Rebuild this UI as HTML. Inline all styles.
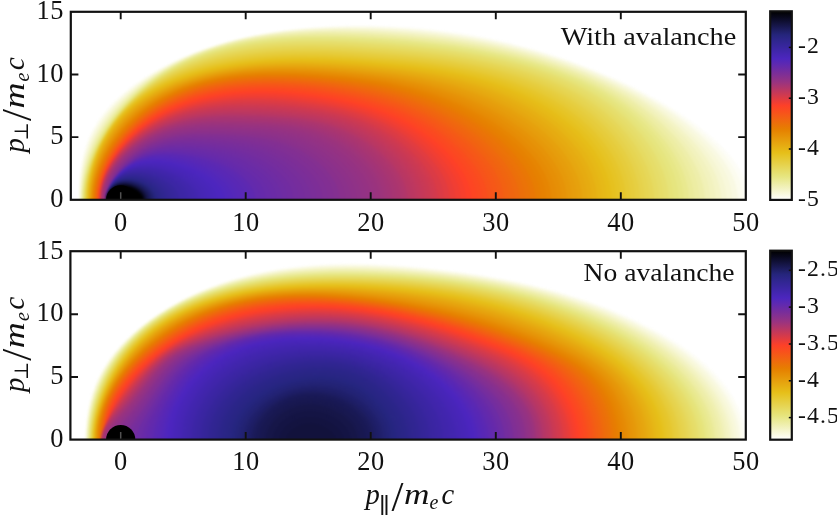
<!DOCTYPE html>
<html><head><meta charset="utf-8"><title>Momentum-space distributions</title>
<style>html,body{margin:0;padding:0;background:#fff}svg{display:block}text{font-family:"Liberation Serif","DejaVu Serif",serif;fill:#111}.i{font-style:italic}</style></head><body>
<svg width="837" height="515" viewBox="0 0 837 515">
<defs>
<clipPath id="ct"><rect x="70.4" y="11.8" width="675.4" height="188.0"/></clipPath>
<clipPath id="cb"><rect x="70.4" y="251.2" width="675.4" height="188.4"/></clipPath>
<filter id="bl" x="-2%" y="-5%" width="104%" height="110%" color-interpolation-filters="sRGB"><feGaussianBlur stdDeviation="1.2"/></filter>
<linearGradient id="cbg" x1="0" y1="0" x2="0" y2="1"><stop offset="0.0000" stop-color="#000000"/><stop offset="0.0312" stop-color="#08081c"/><stop offset="0.0625" stop-color="#12123c"/><stop offset="0.0938" stop-color="#1c1c5c"/><stop offset="0.1250" stop-color="#25257c"/><stop offset="0.1562" stop-color="#2f268e"/><stop offset="0.1875" stop-color="#38269e"/><stop offset="0.2188" stop-color="#4226ae"/><stop offset="0.2500" stop-color="#4c26be"/><stop offset="0.2812" stop-color="#5e29b1"/><stop offset="0.3125" stop-color="#712ca1"/><stop offset="0.3438" stop-color="#843091"/><stop offset="0.3750" stop-color="#983381"/><stop offset="0.4062" stop-color="#b1366b"/><stop offset="0.4375" stop-color="#ca3954"/><stop offset="0.4688" stop-color="#e43c3e"/><stop offset="0.5000" stop-color="#fd4028"/><stop offset="0.5312" stop-color="#f94f1d"/><stop offset="0.5625" stop-color="#f35f14"/><stop offset="0.5938" stop-color="#ec6f0a"/><stop offset="0.6250" stop-color="#e67f00"/><stop offset="0.6562" stop-color="#e68f06"/><stop offset="0.6875" stop-color="#e69f0d"/><stop offset="0.7188" stop-color="#e6af13"/><stop offset="0.7500" stop-color="#e6bf19"/><stop offset="0.7812" stop-color="#e6c932"/><stop offset="0.8125" stop-color="#e6d24c"/><stop offset="0.8438" stop-color="#e6dc66"/><stop offset="0.8750" stop-color="#e6e57f"/><stop offset="0.9062" stop-color="#ecec9f"/><stop offset="0.9375" stop-color="#f2f2bf"/><stop offset="0.9688" stop-color="#f9f9df"/><stop offset="1.0000" stop-color="#ffffff"/></linearGradient>
</defs>
<rect width="837" height="515" fill="#fff"/>
<g clip-path="url(#ct)"><g filter="url(#bl)">
<path fill="#fdfdf7" d="M749.1,199.8 749.1,197.0 748.7,192.8 748.2,190.1 747.3,185.9 746.4,183.2 744.9,179.1 743.1,175.1 741.0,171.1 738.7,167.2 736.1,163.4 733.4,159.7 730.4,156.0 727.4,152.5 723.0,147.8 719.7,144.5 715.1,140.1 710.3,135.9 705.5,131.9 695.6,124.2 684.4,116.2 673.1,109.0 662.0,102.3 646.3,93.7 633.5,87.1 619.0,80.3 604.3,73.9 590.2,68.2 575.2,62.5 560.9,57.6 544.3,52.3 528.5,47.7 512.1,43.4 496.3,39.7 481.0,36.6 464.8,33.8 449.0,31.4 432.0,29.3 416.2,27.8 400.1,26.7 383.6,25.9 366.6,25.6 350.1,25.6 334.3,26.1 319.2,26.9 304.8,28.0 289.8,29.6 275.7,31.5 261.0,34.0 247.6,36.7 233.7,40.0 221.4,43.4 208.8,47.3 196.0,51.9 185.1,56.3 174.2,61.2 162.5,67.0 152.2,72.7 142.1,79.0 133.4,84.9 125.1,91.4 118.2,97.3 111.8,103.5 105.7,110.2 102.9,113.6 100.3,117.1 97.8,120.7 95.4,124.4 93.2,128.2 91.2,132.0 88.2,138.5 86.7,142.5 85.3,146.6 83.0,154.8 81.3,163.1 79.9,172.9 79.1,182.8 78.8,194.1 78.8,202.8 749.1,202.8Z"/>
<path fill="#fcfcef" d="M743.4,199.8 743.4,197.0 743.0,192.9 742.3,188.8 741.3,184.7 740.4,182.0 738.8,177.9 737.0,174.0 734.9,170.1 732.6,166.2 730.1,162.5 727.4,158.8 724.6,155.1 721.6,151.6 717.4,147.0 709.6,139.4 705.0,135.2 700.3,131.2 690.8,123.5 679.8,115.6 668.9,108.3 656.7,101.0 643.6,93.7 630.8,87.1 616.3,80.3 601.6,73.9 587.5,68.2 572.5,62.6 556.6,57.1 541.5,52.4 525.6,47.9 509.2,43.7 493.4,40.2 476.8,36.9 460.7,34.2 444.9,31.9 428.0,30.0 411.0,28.4 395.0,27.4 377.2,26.6 360.1,26.3 344.9,26.4 329.0,26.9 313.7,27.7 299.3,28.9 284.1,30.7 269.9,32.7 257.0,35.0 243.6,37.8 229.8,41.2 217.6,44.8 205.1,48.9 194.5,52.8 183.9,57.2 173.2,62.1 161.8,68.1 151.8,73.8 141.9,80.1 133.5,86.1 125.4,92.5 118.7,98.4 114.4,102.5 111.4,105.7 105.6,112.3 100.3,119.2 97.8,122.8 95.6,126.5 93.4,130.2 91.5,134.1 88.6,140.5 87.1,144.5 85.7,148.5 83.5,156.6 81.8,164.9 80.3,174.6 79.5,184.4 79.2,195.6 79.2,202.8 743.4,202.8Z"/>
<path fill="#f9f9e3" d="M737.8,199.8 737.7,197.1 737.4,193.0 736.7,188.9 735.7,184.8 734.8,182.1 733.4,178.1 731.6,174.2 729.6,170.3 727.4,166.5 725.0,162.7 722.4,159.1 718.8,154.3 715.8,150.8 711.8,146.2 704.3,138.6 699.8,134.5 695.2,130.5 690.6,126.6 684.8,122.0 674.1,114.1 663.4,106.9 651.4,99.7 639.6,93.1 625.7,86.1 611.7,79.5 597.1,73.2 583.1,67.6 568.1,62.0 552.3,56.7 537.2,52.1 521.4,47.8 506.3,44.1 490.4,40.6 473.9,37.5 457.9,34.9 440.9,32.5 424.1,30.7 407.1,29.2 389.9,28.1 372.2,27.4 355.0,27.1 339.7,27.2 323.7,27.7 309.9,28.5 295.4,29.8 281.9,31.3 267.8,33.4 255.0,35.6 241.7,38.5 229.9,41.4 217.9,44.9 205.6,48.9 195.2,52.8 189.0,55.4 182.7,58.1 172.2,63.1 162.3,68.4 152.5,74.1 142.9,80.4 134.7,86.3 126.7,92.6 119.1,99.4 115.0,103.5 112.0,106.7 106.3,113.3 101.1,120.1 96.5,127.3 94.3,131.0 92.4,134.8 90.6,138.6 89.0,142.5 86.2,150.4 83.9,158.4 83.0,162.5 81.9,168.0 80.6,177.6 79.8,187.3 79.6,197.0 79.6,202.8 737.8,202.8Z"/>
<path fill="#f8f8db" d="M732.2,199.8 732.1,197.1 731.8,193.0 731.1,189.0 730.1,184.9 728.9,180.9 727.4,177.0 725.6,173.1 723.7,169.3 721.5,165.5 719.1,161.8 716.6,158.2 713.0,153.4 710.2,150.0 706.2,145.5 698.9,137.9 694.6,133.8 690.2,129.8 685.7,126.0 680.0,121.3 669.6,113.5 659.1,106.3 648.5,99.8 636.8,93.2 623.0,86.1 609.0,79.5 594.4,73.2 580.3,67.6 565.3,62.1 551.0,57.4 535.8,52.8 519.9,48.5 504.7,44.8 488.8,41.4 472.3,38.3 456.2,35.8 439.3,33.5 422.5,31.6 404.5,30.0 387.3,29.0 369.7,28.2 351.2,27.9 335.9,28.0 321.4,28.5 307.6,29.3 293.2,30.5 279.7,32.0 267.5,33.7 254.8,36.0 241.6,38.7 230.0,41.6 218.2,45.0 206.1,49.0 195.9,52.9 185.6,57.2 175.4,62.0 165.1,67.4 154.4,73.7 145.0,79.8 135.8,86.5 128.0,92.8 120.5,99.5 113.5,106.6 107.9,113.1 104.4,117.6 101.9,121.0 97.3,128.1 93.2,135.5 91.4,139.3 89.8,143.1 86.9,150.9 85.7,154.9 84.3,160.2 82.5,168.3 81.1,177.8 80.3,187.4 80.0,197.0 80.0,202.8 732.2,202.8Z"/>
<path fill="#f6f6d3" d="M726.6,199.8 726.6,197.1 726.2,193.1 725.6,189.1 724.6,185.1 723.5,181.1 722.0,177.2 720.3,173.3 718.5,169.5 716.4,165.8 714.1,162.1 711.7,158.5 708.3,153.7 705.5,150.3 701.7,145.8 697.8,141.4 693.7,137.2 685.2,129.1 680.8,125.3 675.2,120.7 665.1,112.9 654.8,105.7 645.5,99.9 639.7,96.5 632.7,92.7 620.2,86.2 606.2,79.6 591.6,73.3 577.6,67.7 562.5,62.3 548.1,57.5 532.9,53.0 518.4,49.2 503.1,45.6 487.2,42.2 470.6,39.2 453.3,36.5 436.5,34.3 418.6,32.4 400.6,30.9 382.3,29.7 363.3,29.0 346.1,28.8 330.8,28.9 316.1,29.4 302.3,30.2 287.7,31.5 274.2,33.2 261.9,35.0 249.1,37.4 237.8,39.9 226.3,42.9 214.5,46.5 202.5,50.6 192.5,54.6 182.4,59.0 172.3,64.0 163.2,69.1 153.8,74.7 144.7,80.9 135.7,87.6 128.1,93.9 120.9,100.5 114.0,107.6 108.5,114.1 105.1,118.5 102.6,121.9 98.1,128.9 94.0,136.2 90.6,143.7 87.7,151.4 86.4,155.3 84.9,160.6 84.0,164.6 82.9,169.9 81.4,179.4 80.6,188.9 80.3,198.4 80.4,202.8 726.6,202.8Z"/>
<path fill="#f4f4c7" d="M721.1,199.8 720.9,195.8 720.5,191.8 719.8,187.8 718.8,183.9 717.6,180.0 716.2,176.1 714.5,172.3 712.6,168.5 710.6,164.8 707.6,160.0 705.2,156.4 701.8,151.8 699.1,148.3 695.4,143.9 691.5,139.6 687.4,135.5 679.1,127.5 674.8,123.8 669.4,119.2 659.4,111.5 653.8,107.5 648.1,103.7 643.6,100.8 637.8,97.3 626.4,91.0 613.9,84.7 601.5,78.9 588.8,73.4 574.7,67.9 559.6,62.5 545.2,57.8 530.0,53.4 515.4,49.6 500.2,46.0 484.2,42.8 467.7,39.8 450.5,37.2 433.7,35.1 415.9,33.3 396.8,31.7 378.6,30.6 359.6,29.9 342.4,29.6 328.5,29.8 313.9,30.2 300.1,31.0 287.3,32.1 273.9,33.7 261.7,35.5 249.0,37.8 237.9,40.3 226.5,43.2 214.8,46.7 203.1,50.7 193.1,54.6 183.2,59.0 173.3,64.0 163.5,69.4 155.5,74.3 146.6,80.4 137.8,86.9 129.3,94.0 122.1,100.6 115.4,107.6 109.1,115.0 105.7,119.4 103.3,122.8 98.8,129.7 96.1,134.5 94.2,138.1 90.8,145.6 87.9,153.2 86.7,157.1 85.2,162.3 83.4,170.2 81.9,179.6 81.0,189.0 80.7,198.4 80.7,202.8 721.1,202.8Z"/>
<path fill="#f2f2bf" d="M715.6,199.8 715.5,195.8 715.1,191.9 714.4,187.9 713.4,184.0 712.3,180.1 710.9,176.3 709.3,172.5 707.5,168.8 705.5,165.1 702.7,160.3 700.4,156.7 697.1,152.1 694.5,148.7 690.9,144.3 687.2,140.0 683.3,135.8 675.2,127.9 671.0,124.1 665.7,119.5 656.0,111.8 650.5,107.8 644.9,103.9 640.5,101.0 634.8,97.5 623.4,91.1 611.1,84.8 598.7,79.0 585.9,73.6 571.9,68.1 556.7,62.7 542.3,58.1 527.0,53.7 512.5,50.0 497.2,46.6 482.6,43.6 466.0,40.8 448.8,38.2 430.9,36.0 413.2,34.2 394.2,32.7 374.9,31.5 356.0,30.8 338.8,30.6 324.8,30.7 310.2,31.2 296.4,32.0 283.6,33.1 271.9,34.5 259.7,36.3 247.2,38.6 236.1,41.1 224.8,44.0 215.2,46.9 203.6,50.9 193.8,54.7 184.0,59.1 174.3,63.9 164.6,69.3 156.0,74.6 147.2,80.6 138.6,87.1 130.3,94.1 123.3,100.6 116.7,107.5 110.4,114.8 104.7,122.5 101.6,127.0 99.5,130.5 96.8,135.2 94.9,138.8 91.5,146.2 88.6,153.7 87.3,157.5 85.8,162.7 83.9,170.5 82.3,179.8 81.4,189.1 81.0,198.5 81.0,202.8 715.6,202.8Z"/>
<path fill="#f1f1b7" d="M710.2,199.8 710.0,195.9 709.6,191.9 709.0,188.0 708.1,184.2 707.0,180.3 705.6,176.5 704.1,172.7 701.8,167.8 699.9,164.1 697.1,159.4 694.8,155.9 691.6,151.3 685.6,143.5 681.9,139.3 678.1,135.2 674.3,131.1 669.3,126.3 665.2,122.6 660.0,118.1 650.4,110.4 640.6,103.4 631.6,97.8 620.4,91.3 608.1,85.0 595.8,79.2 583.1,73.7 569.0,68.3 553.8,63.0 539.4,58.4 524.1,54.1 509.5,50.5 494.2,47.1 479.6,44.3 463.1,41.5 446.0,39.0 428.1,36.9 409.3,35.1 389.3,33.5 369.9,32.4 351.0,31.7 333.8,31.5 319.8,31.7 305.1,32.2 292.8,33.0 279.9,34.2 268.2,35.6 256.1,37.5 243.6,39.8 232.5,42.4 221.3,45.4 211.7,48.4 200.2,52.5 190.6,56.5 180.9,60.9 173.3,64.9 163.8,70.3 155.4,75.6 146.8,81.6 138.4,88.1 130.3,95.1 123.5,101.6 117.0,108.5 110.9,115.7 105.2,123.3 100.1,131.2 97.4,135.9 95.5,139.4 92.1,146.7 90.6,150.4 88.7,155.4 87.5,159.2 86.0,164.3 84.2,172.1 82.6,181.3 81.7,190.5 81.4,199.8 81.4,202.8 710.2,202.8Z"/>
<path fill="#eeeeab" d="M704.8,199.8 704.6,195.9 704.3,192.0 703.6,188.1 702.8,184.3 701.7,180.5 700.4,176.7 699.0,173.0 696.7,168.1 694.9,164.4 692.2,159.7 690.1,156.2 687.0,151.6 683.7,147.2 680.3,142.8 676.7,138.6 673.0,134.5 665.3,126.7 661.4,122.9 656.3,118.4 652.1,114.9 646.9,110.8 637.2,103.7 632.9,100.8 627.3,97.3 616.2,90.9 605.2,85.2 592.9,79.4 580.2,74.0 566.1,68.6 552.5,63.9 538.0,59.3 524.1,55.4 509.4,51.7 494.0,48.3 478.0,45.2 461.4,42.5 444.3,40.1 426.5,38.0 407.8,36.2 386.7,34.5 367.5,33.4 348.7,32.7 331.6,32.5 317.7,32.6 303.1,33.2 290.8,33.9 278.0,35.1 266.4,36.5 254.3,38.3 243.6,40.4 232.7,42.8 221.6,45.8 212.2,48.7 200.8,52.7 191.3,56.6 181.8,61.0 172.3,65.9 164.9,70.1 155.8,75.9 147.4,81.9 139.2,88.3 131.2,95.2 123.6,102.6 117.2,109.4 111.3,116.6 105.7,124.1 100.6,131.9 96.1,140.1 92.7,147.3 89.3,155.9 86.5,164.7 84.3,173.7 82.8,182.8 81.9,191.9 81.7,199.8 81.7,202.8 704.8,202.8Z"/>
<path fill="#ededa3" d="M699.4,199.8 699.3,195.9 698.9,192.1 698.3,188.3 697.2,183.2 696.1,179.4 694.8,175.7 693.3,172.0 691.2,167.1 689.3,163.5 686.7,158.8 684.6,155.4 681.6,150.8 678.4,146.4 675.1,142.1 671.6,137.9 668.0,133.9 660.4,126.1 656.5,122.4 651.6,117.9 647.5,114.4 642.3,110.3 632.8,103.3 628.5,100.4 623.0,97.0 613.1,91.2 602.2,85.4 589.9,79.6 577.2,74.2 564.8,69.5 549.6,64.2 535.0,59.7 521.1,55.9 506.4,52.3 491.0,49.0 476.3,46.2 459.8,43.5 442.7,41.1 424.9,39.1 406.3,37.3 385.4,35.7 365.2,34.5 346.5,33.8 328.1,33.5 314.2,33.7 301.1,34.2 288.9,34.9 276.1,36.1 264.6,37.4 252.6,39.3 242.0,41.3 231.1,43.8 220.1,46.7 210.8,49.6 201.4,53.0 192.0,56.7 182.6,61.0 173.3,65.8 164.1,71.1 156.3,76.2 148.0,82.1 139.9,88.5 132.1,95.3 124.6,102.6 117.4,110.3 111.6,117.4 106.1,124.9 101.1,132.6 96.6,140.7 92.7,149.0 89.4,157.6 87.0,165.0 84.8,173.9 83.2,182.9 82.6,188.1 82.3,192.0 82.0,199.8 82.0,202.8 699.4,202.8Z"/>
<path fill="#ebeb9b" d="M694.2,199.8 694.0,196.0 693.7,192.2 693.1,188.4 692.0,183.3 690.9,179.6 689.7,175.9 688.3,172.2 686.2,167.4 684.5,163.8 681.9,159.1 679.9,155.7 677.0,151.2 673.9,146.8 670.7,142.5 667.3,138.3 663.8,134.3 656.5,126.5 652.7,122.8 647.8,118.3 643.8,114.8 638.8,110.7 634.6,107.5 629.4,103.7 625.1,100.8 619.8,97.3 610.0,91.5 599.1,85.7 586.9,79.9 574.2,74.5 561.9,69.8 548.2,65.2 533.6,60.7 519.6,56.8 504.8,53.2 489.4,49.9 474.7,47.2 458.1,44.5 441.0,42.2 423.4,40.2 403.7,38.4 381.8,36.7 361.6,35.6 343.0,34.9 324.6,34.6 312.2,34.8 299.1,35.2 287.0,35.9 274.3,37.1 262.8,38.5 250.9,40.3 240.4,42.3 229.6,44.7 218.7,47.7 209.4,50.6 200.1,53.9 190.8,57.7 181.5,62.0 172.4,66.8 165.1,71.0 156.7,76.5 148.5,82.3 140.5,88.6 132.9,95.4 125.5,102.6 118.4,110.2 112.7,117.2 109.5,121.4 106.5,125.6 101.6,133.3 97.1,141.3 93.2,149.5 89.8,158.0 87.4,165.4 85.2,174.2 84.2,179.2 83.6,183.1 82.9,188.2 82.6,192.1 82.3,199.8 82.3,202.8 694.2,202.8Z"/>
<path fill="#e9e98f" d="M688.9,199.8 688.8,196.0 688.4,192.2 687.9,188.5 686.8,183.5 685.8,179.7 684.6,176.1 683.3,172.4 681.3,167.6 679.6,164.1 677.2,159.4 674.5,154.9 671.7,150.4 668.7,146.1 665.5,141.8 662.2,137.7 658.8,133.7 651.6,125.9 647.9,122.3 643.1,117.8 635.2,111.1 631.1,107.9 625.9,104.1 616.5,97.7 611.1,94.4 605.7,91.2 594.9,85.5 583.9,80.3 571.2,74.9 558.9,70.2 545.2,65.6 532.1,61.6 518.1,57.8 503.2,54.2 487.8,50.9 473.0,48.2 456.5,45.6 439.4,43.4 421.8,41.4 402.3,39.6 379.3,37.9 359.3,36.7 340.8,36.0 322.6,35.8 310.2,35.9 297.2,36.3 285.2,37.0 272.6,38.1 261.2,39.5 249.3,41.3 238.9,43.3 228.2,45.8 217.3,48.7 208.2,51.6 198.9,54.9 189.7,58.7 180.6,63.0 173.3,66.8 164.4,72.0 157.0,76.8 149.0,82.6 141.2,88.8 133.6,95.5 126.3,102.6 119.4,110.1 113.6,117.0 107.5,125.3 102.6,132.9 98.1,140.7 94.2,148.8 90.7,157.2 87.8,165.7 85.6,174.4 84.5,179.4 83.9,183.2 83.3,188.3 82.9,192.1 82.6,199.8 82.6,202.8 688.9,202.8Z"/>
<path fill="#e7e787" d="M683.8,199.8 683.6,196.0 683.3,192.3 682.7,188.6 681.7,183.6 680.7,179.9 679.2,175.1 677.9,171.5 675.9,166.7 674.2,163.2 671.8,158.6 669.2,154.1 666.4,149.7 663.5,145.4 660.4,141.2 657.1,137.1 653.8,133.1 646.7,125.4 643.0,121.8 638.3,117.4 630.5,110.7 626.5,107.5 621.4,103.7 612.1,97.4 602.5,91.6 591.8,85.9 580.8,80.6 570.0,76.0 557.6,71.3 543.8,66.6 530.7,62.7 516.6,58.8 501.7,55.2 486.1,52.0 471.4,49.3 454.8,46.7 437.8,44.5 420.3,42.6 400.8,40.8 378.1,39.1 357.0,37.9 338.7,37.2 320.6,36.9 308.3,37.1 295.4,37.5 283.4,38.2 270.9,39.3 259.6,40.6 247.8,42.4 237.5,44.4 226.8,46.8 216.1,49.8 207.0,52.7 197.8,56.0 188.7,59.8 179.6,64.0 172.5,67.8 163.6,73.0 156.4,77.7 148.5,83.5 140.8,89.7 133.3,96.4 126.2,103.4 119.4,110.9 113.8,117.8 107.8,126.0 102.9,133.5 98.5,141.3 94.5,149.3 91.1,157.6 88.2,166.0 85.9,174.6 84.9,179.6 84.3,183.4 83.6,188.4 83.2,192.2 82.9,199.8 82.9,202.8 683.8,202.8Z"/>
<path fill="#e6e57f" d="M678.7,199.8 678.5,196.1 678.2,192.4 677.7,188.7 676.7,183.7 675.7,180.1 674.3,175.3 673.0,171.7 671.0,167.0 669.4,163.5 667.1,158.9 664.6,154.5 661.9,150.1 659.0,145.8 656.0,141.6 652.9,137.5 649.6,133.5 642.7,125.9 639.1,122.2 634.5,117.8 626.9,111.1 622.9,108.0 617.9,104.2 608.7,97.8 599.2,92.0 588.6,86.3 577.7,81.1 566.9,76.5 554.5,71.8 540.8,67.2 527.6,63.2 513.5,59.5 498.6,56.0 483.1,52.8 468.4,50.2 451.9,47.7 435.0,45.6 416.4,43.6 397.2,41.9 373.4,40.2 352.4,39.0 334.1,38.4 317.3,38.2 305.0,38.3 292.2,38.8 280.2,39.5 267.8,40.6 256.4,42.0 246.4,43.6 236.1,45.6 225.6,48.0 214.9,50.9 205.9,53.8 196.8,57.1 187.8,60.8 178.8,65.1 171.7,68.9 163.0,74.0 155.8,78.7 148.0,84.5 140.4,90.7 133.1,97.3 126.1,104.3 119.4,111.7 113.8,118.6 107.9,126.7 103.2,134.2 98.8,141.9 94.9,149.8 91.5,158.0 88.6,166.4 86.3,174.9 84.6,183.5 83.9,188.5 83.6,192.3 83.3,199.8 83.3,202.8 678.7,202.8Z"/>
<path fill="#e6e379" d="M673.6,199.8 673.5,196.1 673.2,192.4 672.6,188.8 671.7,183.9 670.8,180.3 669.4,175.5 668.1,171.9 666.2,167.3 664.7,163.8 662.4,159.3 660.0,154.8 657.4,150.5 654.6,146.2 651.7,142.0 648.6,137.9 644.6,133.0 637.8,125.4 634.3,121.8 629.7,117.4 622.2,110.8 618.3,107.7 613.3,103.9 604.2,97.6 594.8,91.9 585.3,86.8 574.5,81.6 563.7,77.0 551.3,72.3 537.7,67.8 524.5,63.9 510.4,60.2 497.0,57.1 481.5,54.0 466.8,51.4 450.3,49.0 433.4,46.9 414.9,44.9 395.8,43.3 372.2,41.6 351.5,40.4 332.1,39.7 315.4,39.5 303.3,39.6 290.5,40.0 278.7,40.8 266.3,41.9 255.0,43.3 245.1,44.8 234.9,46.8 224.4,49.2 215.6,51.5 206.7,54.3 197.7,57.5 188.7,61.1 179.8,65.3 172.7,68.9 164.0,74.0 156.2,79.0 148.5,84.7 140.9,90.8 133.7,97.3 126.7,104.2 120.1,111.6 113.9,119.3 108.0,127.4 103.3,134.8 99.0,142.4 95.2,150.3 91.8,158.4 88.9,166.7 86.6,175.1 84.9,183.7 84.3,188.6 83.9,192.3 83.6,199.8 83.6,202.8 673.6,202.8Z"/>
<path fill="#e6df6f" d="M668.7,199.8 668.5,196.1 668.1,191.3 667.5,187.6 666.5,182.8 665.6,179.2 664.1,174.5 662.9,171.0 661.0,166.4 659.5,163.0 657.2,158.5 654.8,154.1 652.2,149.8 649.5,145.5 646.6,141.4 643.5,137.4 640.4,133.5 633.7,125.9 630.2,122.3 625.8,118.0 618.3,111.4 614.5,108.2 609.6,104.5 600.6,98.2 591.3,92.5 581.9,87.4 571.1,82.2 560.4,77.6 548.1,73.0 536.1,69.0 523.0,65.1 508.8,61.4 495.4,58.3 481.2,55.5 465.1,52.7 448.6,50.3 431.8,48.2 413.4,46.3 393.3,44.6 368.8,42.9 348.2,41.7 330.2,41.1 313.6,40.9 301.6,41.0 288.9,41.4 277.2,42.2 264.9,43.3 253.8,44.6 243.9,46.2 233.8,48.1 223.4,50.5 212.9,53.3 204.0,56.1 195.1,59.4 186.2,63.1 177.3,67.2 170.3,70.9 161.7,76.0 154.7,80.7 147.0,86.3 139.6,92.4 132.5,99.0 125.6,105.9 119.1,113.2 113.8,120.0 108.1,128.0 103.4,135.4 98.6,144.0 94.9,151.9 91.6,159.9 88.8,168.2 86.6,176.5 85.2,183.8 84.6,188.7 84.2,192.4 83.9,199.8 83.9,202.8 668.7,202.8Z"/>
<path fill="#e6dd69" d="M663.8,199.8 663.6,196.2 663.2,191.4 662.7,187.7 661.7,183.0 660.8,179.4 659.4,174.7 658.2,171.3 656.3,166.7 654.3,162.2 652.1,157.7 649.7,153.4 647.1,149.1 644.3,144.9 641.5,140.9 635.3,133.0 628.7,125.6 625.3,122.0 620.8,117.7 613.4,111.2 609.6,108.1 604.8,104.4 595.8,98.2 586.6,92.6 576.5,87.2 565.8,82.1 555.2,77.7 543.0,73.2 531.1,69.3 518.1,65.6 504.1,62.0 490.8,59.0 476.8,56.3 462.1,53.8 445.8,51.5 429.0,49.5 410.8,47.7 390.8,46.0 366.6,44.3 346.2,43.2 328.3,42.6 311.9,42.4 300.0,42.5 287.5,42.9 275.8,43.6 263.7,44.7 252.6,46.1 242.8,47.6 232.8,49.5 222.5,51.8 212.0,54.6 203.2,57.4 194.3,60.6 185.5,64.2 176.7,68.4 169.7,72.0 161.2,77.0 154.2,81.6 146.6,87.2 139.2,93.3 132.1,99.8 126.2,105.8 119.7,113.0 113.7,120.6 108.0,128.6 103.5,135.9 98.7,144.5 95.0,152.3 91.8,160.3 89.1,168.4 86.9,176.7 85.5,184.0 84.9,188.8 84.5,192.5 84.2,199.8 84.2,202.8 663.8,202.8Z"/>
<path fill="#e6db62" d="M658.9,199.8 658.8,196.2 658.4,191.4 657.9,187.9 656.9,183.1 656.0,179.6 654.7,174.9 653.5,171.5 651.7,166.9 648.1,159.2 645.7,154.8 643.3,150.6 640.6,146.4 637.8,142.3 634.9,138.3 631.8,134.5 625.3,127.0 621.9,123.5 617.6,119.2 610.3,112.6 606.6,109.5 601.8,105.8 592.9,99.6 583.8,94.0 574.6,88.9 564.0,83.7 553.4,79.2 543.0,75.3 531.1,71.3 518.0,67.4 503.9,63.8 490.5,60.8 476.4,58.0 461.7,55.5 445.3,53.1 428.6,51.1 410.4,49.3 390.6,47.6 366.6,46.0 346.5,44.8 328.9,44.2 311.5,43.9 299.8,44.0 287.5,44.4 276.0,45.1 264.0,46.1 253.1,47.4 241.9,49.1 231.9,51.0 221.7,53.2 211.3,56.0 202.5,58.7 193.7,61.9 184.9,65.4 176.1,69.5 169.2,73.1 160.7,78.0 153.7,82.6 146.1,88.1 138.8,94.1 131.7,100.5 125.9,106.5 119.5,113.7 113.5,121.3 107.9,129.2 103.5,136.4 98.8,145.0 95.2,152.7 92.0,160.6 89.3,168.7 87.2,177.0 85.8,184.1 84.8,192.5 84.5,199.8 84.5,202.8 658.9,202.8Z"/>
<path fill="#e6d759" d="M654.1,199.8 654.0,196.2 653.6,191.5 653.1,188.0 652.2,183.3 651.3,179.8 650.0,175.2 648.8,171.7 647.1,167.2 645.1,162.8 642.9,158.4 640.6,154.1 638.1,149.9 635.5,145.8 632.7,141.8 629.7,137.9 626.7,134.1 620.2,126.7 616.8,123.2 612.5,119.0 605.2,112.5 601.5,109.5 596.7,105.9 587.9,99.8 578.9,94.2 569.0,88.9 558.5,83.9 548.0,79.5 537.7,75.7 525.9,71.8 513.0,68.1 500.6,64.9 487.3,61.9 473.3,59.2 458.7,56.8 442.4,54.5 425.8,52.5 407.8,50.7 387.1,49.1 363.3,47.4 343.3,46.3 325.9,45.7 309.9,45.5 297.0,45.7 284.7,46.1 273.3,46.8 261.4,47.9 250.6,49.2 239.3,50.9 229.4,52.8 219.2,55.1 208.9,57.9 200.1,60.7 191.4,63.8 182.6,67.4 173.9,71.5 167.0,75.1 160.2,79.1 152.3,84.2 144.7,89.7 137.4,95.7 131.3,101.3 124.7,108.1 118.5,115.3 113.3,121.9 107.8,129.8 103.4,137.0 98.8,145.4 95.3,153.1 92.2,161.0 89.5,169.0 87.4,177.2 86.1,184.2 85.1,192.6 84.8,199.8 84.8,202.8 654.1,202.8Z"/>
<path fill="#e6d552" d="M649.4,199.8 649.3,196.3 648.9,191.6 648.4,188.1 647.5,183.4 646.7,180.0 645.3,175.4 644.2,172.0 642.4,167.5 640.5,163.1 638.4,158.8 636.1,154.5 633.6,150.4 631.0,146.3 628.2,142.3 625.3,138.4 622.3,134.6 615.9,127.3 612.5,123.9 608.2,119.7 601.0,113.3 597.3,110.3 592.5,106.7 583.8,100.6 574.9,95.1 565.1,89.8 554.6,84.9 544.3,80.5 534.0,76.7 522.4,72.9 509.5,69.2 497.2,66.1 484.0,63.1 470.1,60.5 456.9,58.3 441.9,56.2 425.3,54.2 407.4,52.4 386.8,50.7 363.3,49.1 343.6,48.0 326.5,47.4 309.6,47.1 296.8,47.3 283.4,47.8 272.1,48.5 260.4,49.5 249.6,50.8 238.5,52.5 228.7,54.4 218.6,56.6 208.3,59.3 199.6,62.0 190.8,65.1 182.1,68.6 173.4,72.6 166.5,76.2 159.7,80.1 151.8,85.1 144.3,90.6 137.9,95.8 131.8,101.3 125.2,107.9 118.9,115.0 113.8,121.6 108.3,129.3 103.9,136.4 99.4,144.8 95.8,152.4 92.7,160.2 90.1,168.1 88.0,176.2 86.4,184.4 85.4,192.7 85.1,199.8 85.1,202.8 649.4,202.8Z"/>
<path fill="#e6d24c" d="M644.7,199.8 644.6,196.3 644.2,191.6 643.7,188.2 642.8,183.6 642.0,180.1 640.7,175.6 639.5,172.2 637.8,167.8 635.9,163.4 633.8,159.1 631.5,154.9 629.1,150.8 626.5,146.7 623.7,142.8 620.9,138.9 617.8,135.2 611.5,128.0 608.1,124.5 603.8,120.4 596.7,114.1 588.3,107.5 579.6,101.5 570.7,96.1 561.0,90.8 550.7,85.9 540.4,81.6 530.3,77.8 518.8,74.1 507.6,70.8 495.3,67.7 482.1,64.7 468.3,62.0 455.1,59.8 439.0,57.6 422.6,55.7 404.8,53.9 384.4,52.3 361.2,50.7 341.7,49.6 324.7,49.0 308.0,48.8 295.4,48.9 283.5,49.4 271.0,50.1 259.3,51.2 248.7,52.5 237.7,54.1 228.0,55.9 217.9,58.1 207.7,60.8 199.1,63.4 190.4,66.4 181.6,69.9 173.0,73.8 166.1,77.3 157.6,82.1 150.5,86.7 143.0,92.2 136.6,97.3 130.6,102.8 124.0,109.5 117.9,116.6 112.9,123.1 108.2,129.9 103.8,136.9 99.4,145.3 95.9,152.8 92.8,160.5 90.3,168.4 88.2,176.4 86.7,184.5 85.8,192.7 85.4,199.8 85.4,202.8 644.7,202.8Z"/>
<path fill="#e6cf42" d="M640.0,199.8 639.9,196.3 639.5,191.7 639.0,188.3 638.2,183.7 637.3,180.3 636.0,175.8 634.9,172.5 633.2,168.1 629.8,160.6 627.6,156.4 625.2,152.2 622.6,148.2 619.9,144.3 617.1,140.4 614.1,136.7 607.8,129.5 604.5,126.1 600.3,121.9 593.2,115.6 584.9,109.1 576.3,103.1 571.5,100.0 566.6,97.1 556.9,91.9 546.7,87.0 536.6,82.7 526.5,79.0 515.1,75.3 504.0,72.0 491.9,68.9 478.8,66.0 465.1,63.4 452.0,61.2 437.2,59.2 420.9,57.2 403.2,55.5 382.0,53.8 360.1,52.3 340.8,51.2 324.1,50.6 307.6,50.4 295.2,50.5 283.5,51.0 271.2,51.7 259.8,52.7 249.4,53.9 238.5,55.5 227.3,57.5 217.3,59.6 207.2,62.2 198.6,64.8 189.9,67.8 181.2,71.1 172.5,75.0 165.7,78.4 157.2,83.1 150.1,87.7 142.6,93.1 136.3,98.1 130.2,103.6 124.5,109.4 119.1,115.5 113.3,122.8 108.0,130.5 103.8,137.4 99.4,145.7 95.9,153.2 93.0,160.8 90.5,168.6 88.5,176.6 87.0,184.7 86.1,192.8 85.8,199.8 85.8,202.8 640.0,202.8Z"/>
<path fill="#e6cc3c" d="M635.3,199.8 635.2,196.4 634.8,191.8 634.3,188.4 633.5,183.8 632.7,180.5 631.4,176.0 630.3,172.7 628.6,168.4 625.2,160.9 623.0,156.7 620.6,152.7 618.1,148.7 615.4,144.8 612.5,141.0 609.6,137.3 603.3,130.2 600.0,126.8 595.8,122.7 588.7,116.5 580.5,110.0 572.0,104.1 567.1,101.0 562.3,98.2 552.8,93.0 542.7,88.2 532.6,83.9 522.7,80.2 511.4,76.5 500.5,73.3 488.4,70.2 476.9,67.6 464.5,65.2 450.2,62.8 435.5,60.7 419.3,58.8 401.7,57.1 380.7,55.4 359.0,53.9 340.0,52.8 323.5,52.2 307.3,52.0 295.1,52.2 282.2,52.6 270.1,53.3 258.8,54.3 248.5,55.5 237.7,57.1 226.6,59.1 216.7,61.2 206.7,63.7 198.1,66.2 189.5,69.1 180.8,72.4 172.2,76.1 165.3,79.5 156.9,84.2 149.7,88.6 142.2,93.9 135.9,99.0 129.9,104.4 124.2,110.1 118.9,116.1 113.1,123.4 107.9,131.0 103.7,137.9 99.4,146.2 96.0,153.6 93.1,161.2 90.7,168.9 88.7,176.8 87.3,184.8 86.4,192.9 86.1,199.8 86.1,202.8 635.3,202.8Z"/>
<path fill="#e6ca35" d="M630.6,199.8 630.5,196.4 630.1,191.9 629.7,188.5 628.8,184.0 628.0,180.7 626.7,176.2 625.6,173.0 624.0,168.7 620.6,161.3 618.4,157.1 616.0,153.1 613.5,149.2 610.8,145.3 608.0,141.5 605.0,137.9 598.8,130.9 592.1,124.2 588.7,121.1 584.2,117.3 576.0,110.9 567.6,105.1 558.0,99.2 548.6,94.1 538.6,89.3 528.6,85.1 518.9,81.5 507.7,77.8 496.9,74.6 484.9,71.5 473.5,69.0 461.3,66.6 448.4,64.4 433.7,62.3 417.6,60.4 400.2,58.7 379.3,57.0 357.8,55.5 339.1,54.4 322.8,53.8 306.8,53.6 294.8,53.7 282.2,54.2 270.3,54.9 259.2,55.8 247.5,57.1 236.9,58.7 225.9,60.6 216.1,62.7 206.1,65.1 195.9,68.1 187.3,71.0 178.7,74.3 170.1,78.1 163.2,81.5 154.8,86.2 148.4,90.2 141.0,95.5 134.7,100.5 128.8,105.9 123.2,111.6 117.9,117.7 113.0,124.0 108.4,130.6 103.6,138.5 99.4,146.6 96.1,154.0 93.3,161.5 90.9,169.2 89.0,177.0 87.6,184.9 86.7,192.9 86.4,199.8 86.4,202.8 630.6,202.8Z"/>
<path fill="#e6c62c" d="M625.8,199.8 625.8,196.4 625.4,191.9 624.9,188.6 624.1,184.1 623.3,180.8 622.0,176.5 620.9,173.2 619.3,168.9 615.9,161.6 613.7,157.6 611.3,153.6 608.8,149.7 606.1,145.8 603.3,142.1 600.4,138.5 594.2,131.5 587.5,125.0 579.7,118.2 571.5,111.9 563.1,106.1 553.6,100.3 544.3,95.3 534.5,90.5 524.6,86.4 515.0,82.7 503.9,79.0 493.2,75.9 481.5,72.9 470.2,70.3 458.1,68.0 445.3,65.8 429.6,63.6 413.7,61.7 396.5,60.1 375.9,58.4 354.6,56.9 337.1,55.9 321.0,55.4 305.2,55.2 293.3,55.3 280.9,55.7 269.1,56.5 256.7,57.5 245.1,58.9 234.5,60.5 223.5,62.4 213.8,64.5 203.9,67.0 195.4,69.5 186.9,72.3 178.3,75.6 169.7,79.3 162.9,82.6 154.5,87.2 148.1,91.2 141.6,95.7 135.3,100.7 129.4,105.9 123.7,111.5 118.4,117.5 113.5,123.7 108.3,131.2 104.2,138.0 99.9,146.0 96.6,153.3 93.8,160.8 91.4,168.4 89.5,176.1 88.1,183.9 87.1,191.9 86.8,199.8 86.8,202.8 625.8,202.8Z"/>
<path fill="#e6c425" d="M621.1,199.8 621.0,196.5 620.7,192.0 620.2,188.7 619.4,184.3 618.6,181.0 617.3,176.7 616.2,173.5 614.6,169.2 611.2,162.0 609.0,158.0 606.7,154.0 604.1,150.1 601.5,146.4 598.7,142.7 595.7,139.1 589.5,132.3 582.9,125.8 575.1,119.1 567.0,112.8 558.7,107.2 549.3,101.4 540.1,96.4 530.3,91.7 520.6,87.6 511.1,84.0 500.2,80.3 489.6,77.2 478.0,74.2 466.8,71.7 454.8,69.3 442.2,67.2 427.8,65.1 412.0,63.3 395.0,61.6 374.5,59.9 353.5,58.4 336.1,57.5 320.3,56.9 304.7,56.7 293.0,56.8 280.7,57.2 269.1,57.9 256.9,58.9 245.6,60.2 233.6,62.0 222.8,63.9 213.1,65.9 203.3,68.4 193.2,71.3 184.7,74.2 176.1,77.5 167.6,81.2 160.8,84.6 154.2,88.2 146.8,92.8 140.4,97.3 134.2,102.3 128.3,107.5 122.8,113.1 117.6,119.1 112.7,125.3 108.3,131.8 103.6,139.5 100.0,146.5 96.8,153.7 94.0,161.1 91.6,168.7 89.8,176.3 88.4,184.1 87.5,191.9 87.1,199.8 87.1,202.8 621.1,202.8Z"/>
<path fill="#e6c11f" d="M616.3,199.8 616.2,196.5 616.0,193.2 615.6,189.9 614.9,185.5 614.1,182.3 612.9,178.0 611.9,174.8 610.3,170.6 607.0,163.4 604.8,159.4 602.5,155.4 600.1,151.6 597.4,147.8 594.7,144.2 591.8,140.6 585.7,133.8 579.1,127.4 571.4,120.7 563.3,114.5 555.1,108.8 545.8,103.1 535.8,97.6 526.2,92.9 516.6,88.8 507.2,85.2 496.4,81.6 486.0,78.5 474.5,75.5 463.4,73.0 451.6,70.6 439.1,68.5 423.7,66.4 408.2,64.5 391.3,62.9 371.1,61.2 351.3,59.8 334.1,58.9 318.4,58.3 303.0,58.1 291.4,58.2 279.3,58.7 267.8,59.3 255.7,60.4 244.5,61.7 232.7,63.4 221.9,65.3 212.4,67.3 202.6,69.7 192.6,72.6 184.2,75.5 175.7,78.7 167.2,82.4 160.5,85.7 153.9,89.3 146.6,93.8 140.2,98.3 134.0,103.1 128.2,108.4 122.7,113.9 117.5,119.8 112.7,126.0 108.3,132.4 103.7,140.1 100.1,147.0 96.9,154.2 94.2,161.5 91.9,168.9 90.1,176.5 88.7,184.2 87.8,192.0 87.5,199.8 87.5,202.8 616.3,202.8Z"/>
<path fill="#e6bd18" d="M611.5,199.8 611.4,196.5 611.2,193.3 610.8,190.0 610.0,185.7 609.3,182.4 608.1,178.2 607.1,175.0 605.5,170.9 602.2,163.8 600.0,159.8 597.7,155.9 595.3,152.1 592.7,148.4 589.9,144.8 587.0,141.2 580.9,134.5 574.4,128.2 566.7,121.5 558.8,115.4 550.6,109.8 541.4,104.1 531.5,98.7 522.0,94.1 512.6,90.0 503.3,86.5 492.7,82.8 482.4,79.8 471.0,76.8 460.1,74.3 448.4,72.0 436.0,69.8 421.9,67.8 406.5,66.0 389.7,64.3 369.7,62.6 350.1,61.2 333.1,60.3 317.6,59.7 302.4,59.5 289.8,59.6 277.8,60.0 266.4,60.7 254.5,61.8 243.3,63.0 231.7,64.7 221.0,66.6 211.6,68.6 201.9,71.0 192.0,73.9 183.6,76.7 175.2,79.9 166.8,83.5 160.1,86.8 153.6,90.4 146.3,94.8 140.0,99.3 133.9,104.1 128.1,109.2 122.6,114.7 117.5,120.5 112.7,126.6 108.4,133.0 103.8,140.6 100.3,147.5 97.2,154.6 94.5,161.8 92.2,169.2 90.4,176.8 89.0,184.4 88.2,192.1 87.8,199.8 87.8,202.8 611.5,202.8Z"/>
<path fill="#e6b917" d="M606.6,199.8 606.6,196.6 606.3,193.3 605.9,190.1 605.2,185.8 604.5,182.6 603.3,178.4 602.2,175.3 600.6,171.2 597.3,164.1 595.2,160.2 592.9,156.4 590.4,152.6 587.8,148.9 582.2,141.9 576.2,135.2 573.0,132.0 568.9,128.2 561.2,121.7 553.3,115.7 544.3,109.7 535.2,104.2 525.6,99.1 516.3,94.6 507.0,90.6 497.8,87.2 487.4,83.6 477.3,80.6 466.1,77.7 455.4,75.3 443.9,73.0 431.7,70.9 417.9,68.9 402.6,67.1 386.1,65.5 366.3,63.8 347.8,62.5 331.0,61.5 315.6,61.0 300.6,60.8 288.1,60.9 276.2,61.3 265.0,62.0 253.1,63.1 242.1,64.3 230.5,66.0 220.0,67.9 210.7,69.9 201.1,72.3 191.3,75.1 183.0,77.9 174.7,81.1 166.4,84.7 159.8,87.9 153.3,91.5 146.1,95.9 139.8,100.3 133.8,105.0 128.0,110.1 122.6,115.6 117.6,121.3 112.9,127.4 108.5,133.7 104.0,141.2 100.5,148.0 97.4,155.0 94.7,162.2 92.5,169.5 90.7,177.0 89.4,184.5 88.5,192.2 88.2,199.8 88.2,202.8 606.6,202.8Z"/>
<path fill="#e6b515" d="M601.8,199.8 601.7,196.6 601.5,193.4 601.1,190.2 600.3,186.0 599.6,182.8 598.4,178.6 597.3,175.5 595.7,171.5 592.4,164.5 590.3,160.6 588.0,156.8 585.5,153.1 582.9,149.5 577.4,142.5 571.3,135.9 568.1,132.8 564.1,129.0 556.5,122.6 548.6,116.7 539.7,110.7 530.7,105.3 521.3,100.3 512.0,95.8 502.9,91.9 493.9,88.4 483.6,84.9 473.6,81.9 462.6,79.0 452.1,76.6 440.7,74.3 428.6,72.2 415.0,70.2 399.9,68.4 383.5,66.7 363.9,65.0 345.6,63.7 328.9,62.8 313.7,62.2 298.7,62.0 287.5,62.1 275.8,62.5 264.7,63.1 253.1,64.1 242.2,65.4 230.8,67.0 220.5,68.9 211.3,70.8 201.8,73.1 192.2,75.9 184.0,78.5 175.8,81.6 167.6,85.1 159.5,89.0 153.1,92.6 146.0,96.9 139.7,101.3 133.7,106.0 128.1,111.0 122.7,116.4 117.7,122.1 113.0,128.1 108.7,134.4 104.3,141.8 100.8,148.6 97.7,155.5 95.1,162.6 92.9,169.9 91.1,177.2 89.8,184.7 88.9,192.2 88.5,199.8 88.5,202.8 601.8,202.8Z"/>
<path fill="#e6af13" d="M596.9,199.8 596.8,196.6 596.5,193.5 596.2,190.3 595.4,186.1 594.6,183.0 593.4,178.9 592.4,175.8 590.8,171.8 587.5,164.9 585.3,161.1 583.0,157.3 580.6,153.6 578.0,150.1 572.4,143.2 566.4,136.7 559.2,129.9 551.6,123.6 543.9,117.7 535.1,111.8 526.2,106.5 516.9,101.5 507.8,97.1 498.8,93.2 489.9,89.7 479.8,86.2 470.0,83.2 459.1,80.3 448.7,77.9 436.3,75.3 424.4,73.3 411.0,71.3 396.1,69.5 379.9,67.8 360.6,66.1 342.4,64.8 325.8,63.9 310.7,63.3 296.9,63.2 285.8,63.3 274.2,63.7 263.2,64.3 251.6,65.3 240.9,66.6 229.6,68.2 219.4,70.0 210.3,72.0 201.0,74.3 191.4,77.0 183.4,79.7 175.3,82.8 167.2,86.3 159.1,90.2 152.8,93.7 145.8,98.0 139.7,102.3 133.8,107.0 128.2,112.0 122.9,117.3 117.9,123.0 113.3,128.9 109.0,135.1 104.6,142.4 101.1,149.1 98.1,156.0 95.4,163.0 93.2,170.2 91.5,177.5 90.1,184.9 89.3,192.3 88.9,199.8 88.9,202.8 596.9,202.8Z"/>
<path fill="#e6ab11" d="M591.9,199.8 591.8,196.7 591.6,193.5 591.2,190.4 590.4,186.2 589.7,183.2 588.5,179.1 587.4,176.1 585.8,172.1 582.5,165.3 580.4,161.5 578.1,157.8 575.6,154.2 573.0,150.6 567.4,143.9 561.4,137.5 554.3,130.7 546.8,124.5 539.1,118.8 530.4,113.0 521.6,107.7 512.5,102.7 502.0,97.7 493.2,93.9 483.0,90.0 473.2,86.7 463.6,83.8 453.0,81.0 442.8,78.6 431.9,76.4 420.2,74.3 407.0,72.3 392.3,70.5 376.4,68.9 357.2,67.2 339.2,65.9 323.7,65.0 308.7,64.5 295.0,64.3 284.0,64.4 272.5,64.8 261.6,65.4 250.1,66.4 239.5,67.7 228.3,69.3 218.2,71.2 209.2,73.1 200.0,75.4 190.6,78.2 182.7,80.9 174.7,83.9 166.7,87.4 160.4,90.5 152.6,94.8 146.6,98.5 140.5,102.8 134.6,107.3 129.1,112.2 123.8,117.5 118.8,123.0 114.2,128.8 109.3,135.8 105.5,142.1 101.5,149.6 98.5,156.4 95.8,163.4 93.6,170.5 91.8,177.7 90.5,185.0 89.7,192.4 89.3,199.8 89.3,202.8 591.9,202.8Z"/>
<path fill="#e6a710" d="M587.0,199.8 586.9,196.7 586.6,193.6 586.2,190.5 585.5,186.4 584.7,183.3 583.5,179.3 582.4,176.3 580.8,172.4 577.5,165.7 575.3,161.9 573.0,158.3 570.6,154.7 568.0,151.2 562.4,144.5 556.4,138.2 549.3,131.6 541.9,125.5 534.3,119.8 525.7,114.1 517.0,108.9 508.0,104.0 497.7,99.0 489.0,95.2 479.1,91.3 469.4,88.0 459.9,85.1 449.5,82.3 439.5,79.9 427.5,77.4 416.1,75.4 403.0,73.4 388.6,71.6 372.9,69.9 353.9,68.3 336.0,67.0 320.6,66.1 305.7,65.6 292.1,65.4 281.1,65.5 269.6,65.9 258.7,66.6 247.3,67.7 236.7,69.0 227.0,70.5 217.0,72.3 208.1,74.3 199.1,76.6 189.8,79.4 182.0,82.1 174.1,85.1 166.3,88.6 160.0,91.7 152.4,96.0 146.5,99.7 139.7,104.5 133.9,109.1 128.5,114.0 123.3,119.2 118.4,124.7 113.3,131.3 109.1,137.4 105.3,143.7 101.9,150.2 98.9,156.9 96.2,163.8 94.0,170.8 92.2,177.9 90.9,185.2 90.1,192.5 89.7,199.8 89.7,202.8 587.0,202.8Z"/>
<path fill="#e6a10d" d="M582.0,199.8 581.9,196.7 581.7,193.7 581.2,190.6 580.5,186.5 579.7,183.5 578.5,179.5 577.4,176.6 575.7,172.7 572.4,166.1 570.3,162.4 567.9,158.8 562.9,151.8 557.4,145.2 551.4,139.0 544.4,132.5 537.0,126.4 528.6,120.3 520.1,114.7 510.7,109.1 502.0,104.5 491.9,99.6 483.4,95.9 473.7,92.2 464.2,88.9 453.7,85.6 443.5,82.9 432.5,80.3 422.0,78.2 410.9,76.2 398.1,74.3 383.9,72.5 368.4,70.9 349.6,69.2 332.8,68.0 317.5,67.1 303.6,66.6 290.2,66.5 279.3,66.6 267.9,67.0 257.1,67.7 247.1,68.6 236.6,69.9 227.1,71.3 217.2,73.1 208.5,75.0 199.6,77.3 190.5,80.0 182.8,82.7 175.1,85.6 167.4,89.0 159.7,92.9 152.2,97.1 146.4,100.8 139.7,105.6 134.1,110.1 128.7,115.0 123.6,120.1 118.1,126.4 113.6,132.1 109.5,138.1 105.7,144.3 102.3,150.8 99.3,157.4 96.7,164.2 94.4,171.1 92.7,178.2 91.3,185.3 90.5,192.5 90.1,199.8 90.1,202.8 582.0,202.8Z"/>
<path fill="#e69d0c" d="M576.9,199.8 576.9,196.8 576.6,193.7 576.2,190.7 575.4,186.7 574.6,183.7 573.4,179.8 572.3,176.9 570.7,173.0 567.3,166.5 565.2,162.8 562.8,159.3 557.8,152.4 552.3,145.9 546.4,139.8 539.4,133.4 532.1,127.4 523.8,121.3 515.4,115.8 506.9,110.8 497.6,105.7 487.7,100.9 479.3,97.3 469.7,93.5 460.4,90.2 450.0,87.0 440.1,84.2 429.3,81.6 417.8,79.2 406.8,77.2 394.2,75.3 380.2,73.5 364.9,71.9 347.2,70.3 330.5,69.1 315.4,68.2 301.6,67.7 288.2,67.5 277.4,67.6 266.1,68.1 255.4,68.8 245.5,69.7 235.2,70.9 225.7,72.4 216.0,74.2 207.4,76.1 198.6,78.4 189.6,81.2 182.0,83.8 174.4,86.8 166.9,90.2 160.9,93.2 153.5,97.4 147.2,101.4 140.5,106.1 135.0,110.5 128.9,116.0 123.9,121.1 118.5,127.3 114.0,132.9 109.9,138.8 106.2,145.0 102.8,151.3 99.7,157.9 97.1,164.6 94.9,171.4 93.1,178.4 91.8,185.5 90.9,192.6 90.5,199.8 90.5,202.8 576.9,202.8Z"/>
<path fill="#e6990a" d="M571.9,199.8 571.8,196.8 571.6,193.8 571.1,190.8 570.3,186.8 569.6,183.9 568.3,180.0 567.2,177.1 565.6,173.3 562.2,166.9 560.0,163.3 557.7,159.8 552.7,153.0 547.2,146.6 541.3,140.6 534.3,134.2 527.1,128.4 518.9,122.4 510.6,116.9 501.5,111.5 491.7,106.3 482.0,101.6 473.8,98.0 464.4,94.3 455.3,91.1 445.2,87.9 435.4,85.2 424.8,82.6 413.5,80.2 402.7,78.2 390.3,76.3 376.5,74.5 361.4,72.9 343.9,71.3 328.3,70.1 313.2,69.2 299.6,68.7 286.3,68.6 275.6,68.7 265.5,69.0 255.0,69.7 245.2,70.6 235.0,71.8 225.7,73.2 216.1,75.0 207.6,76.9 199.0,79.2 190.2,81.8 182.8,84.4 175.3,87.4 167.9,90.7 160.5,94.4 154.7,97.7 147.9,102.0 141.4,106.6 135.9,111.0 129.9,116.3 124.9,121.3 119.5,127.4 115.1,132.9 110.4,139.6 106.6,145.6 102.8,152.8 99.8,159.3 97.2,166.0 95.0,172.7 93.3,179.6 92.0,186.6 91.2,193.7 91.0,199.8 91.0,202.8 571.9,202.8Z"/>
<path fill="#e69308" d="M566.8,199.8 566.7,196.8 566.5,193.9 566.0,190.9 565.2,187.0 564.4,184.1 563.2,180.2 562.1,177.4 560.4,173.7 557.1,167.3 554.9,163.7 552.6,160.3 547.5,153.6 542.1,147.3 536.2,141.4 529.3,135.1 522.2,129.3 514.1,123.4 505.9,118.0 496.9,112.7 487.3,107.5 477.7,102.9 468.3,98.7 459.2,95.1 450.2,91.9 440.3,88.8 430.8,86.1 420.4,83.5 409.3,81.2 398.7,79.2 386.5,77.3 372.9,75.5 357.9,73.8 341.5,72.3 326.0,71.1 311.1,70.3 297.5,69.8 284.3,69.6 273.7,69.7 263.7,70.1 253.3,70.7 243.6,71.6 234.8,72.7 225.6,74.1 216.2,75.8 207.9,77.7 199.4,79.9 190.7,82.5 183.4,85.1 176.1,87.9 168.8,91.2 161.6,94.8 154.4,98.9 148.6,102.6 142.2,107.2 136.0,112.1 130.1,117.4 125.2,122.3 119.8,128.3 115.5,133.8 110.8,140.3 107.1,146.3 103.2,153.4 100.3,159.8 97.7,166.4 95.5,173.1 93.8,179.9 92.5,186.8 91.7,193.8 91.4,199.8 91.4,202.8 566.8,202.8Z"/>
<path fill="#e68f06" d="M561.7,199.8 561.6,196.9 561.3,193.9 560.9,191.0 560.1,187.1 559.3,184.3 558.0,180.5 556.9,177.7 555.3,174.0 551.9,167.7 549.7,164.2 547.4,160.8 542.4,154.2 536.9,148.0 530.4,141.4 523.5,135.3 516.5,129.7 508.5,123.9 500.4,118.6 491.5,113.4 481.5,108.0 472.1,103.5 463.0,99.5 454.0,95.9 445.2,92.8 435.5,89.7 426.2,87.0 416.0,84.5 405.1,82.1 394.7,80.2 382.7,78.2 369.2,76.4 354.4,74.8 338.1,73.3 322.8,72.1 307.9,71.3 294.5,70.8 282.4,70.6 271.8,70.8 261.9,71.1 251.6,71.8 242.0,72.7 233.2,73.8 224.2,75.2 214.9,76.9 206.7,78.8 198.3,81.0 191.2,83.2 182.6,86.2 175.4,89.1 168.3,92.4 161.2,96.0 154.2,100.1 148.5,103.8 142.2,108.3 136.1,113.2 130.3,118.5 125.5,123.3 120.2,129.2 115.9,134.6 111.3,141.1 107.5,147.0 103.7,154.0 100.7,160.3 98.2,166.8 96.0,173.4 94.2,180.1 92.9,187.0 92.1,193.9 91.8,199.8 91.8,202.8 561.7,202.8Z"/>
<path fill="#e68b05" d="M556.5,199.8 556.4,196.9 556.2,194.0 555.7,191.1 554.9,187.3 553.2,181.6 552.1,178.9 550.5,175.2 547.2,169.0 545.1,165.5 542.8,162.1 537.9,155.6 532.5,149.4 526.1,142.9 519.3,136.8 512.4,131.2 504.5,125.5 495.7,119.7 487.0,114.5 477.2,109.2 467.9,104.7 458.9,100.7 450.1,97.2 441.5,94.1 432.0,91.0 421.6,88.0 411.6,85.4 401.0,83.1 390.7,81.1 378.9,79.2 365.6,77.4 351.9,75.9 335.7,74.3 320.5,73.1 306.7,72.3 293.4,71.8 281.4,71.7 271.0,71.8 261.2,72.1 251.0,72.8 241.6,73.6 233.0,74.7 224.1,76.0 214.9,77.8 206.8,79.6 198.6,81.8 191.6,83.9 183.2,86.9 176.2,89.7 169.1,92.9 162.2,96.5 155.3,100.5 149.9,103.9 143.7,108.3 137.7,113.1 131.9,118.2 126.4,123.6 121.2,129.4 116.3,135.5 111.7,141.8 108.0,147.7 104.2,154.5 101.2,160.8 98.6,167.2 96.4,173.7 94.7,180.4 93.4,187.1 92.6,193.9 92.3,199.8 92.3,202.8 556.5,202.8Z"/>
<path fill="#e68502" d="M551.3,199.8 551.2,196.9 551.0,194.1 550.5,191.2 549.7,187.5 548.9,184.7 547.6,181.0 546.5,178.2 544.9,174.6 541.5,168.5 539.4,165.1 537.1,161.8 532.1,155.4 526.7,149.4 520.3,143.0 513.6,137.1 506.7,131.6 498.9,125.9 490.3,120.3 481.7,115.2 472.8,110.4 462.5,105.3 453.6,101.4 445.0,98.0 435.4,94.5 426.1,91.5 417.1,88.9 407.3,86.4 396.8,84.0 386.7,82.1 375.0,80.2 362.0,78.4 348.4,76.8 333.3,75.4 318.1,74.2 304.5,73.4 291.3,72.9 279.4,72.7 269.1,72.8 259.4,73.2 249.3,73.9 239.9,74.7 231.4,75.8 222.6,77.2 213.6,78.9 205.6,80.8 197.5,83.0 190.7,85.1 182.4,88.1 175.5,91.0 168.6,94.2 161.7,97.7 155.0,101.7 149.7,105.1 143.7,109.5 137.8,114.2 132.1,119.2 126.7,124.6 121.5,130.3 116.7,136.3 112.1,142.6 108.5,148.3 104.6,155.1 101.7,161.3 99.1,167.6 96.9,174.0 95.2,180.6 93.9,187.3 93.1,194.0 92.8,199.8 92.8,202.8 551.3,202.8Z"/>
<path fill="#e68101" d="M546.1,199.8 546.0,197.0 545.7,194.1 545.3,191.3 544.5,187.6 542.7,182.1 541.7,179.4 540.1,175.8 536.8,169.8 534.7,166.4 532.5,163.1 527.6,156.8 522.3,150.8 516.0,144.4 509.4,138.5 501.9,132.5 494.2,126.9 485.7,121.4 477.3,116.3 468.5,111.6 458.4,106.5 449.7,102.6 441.2,99.2 431.7,95.7 422.6,92.7 412.6,89.8 403.0,87.3 392.7,85.0 382.7,83.1 371.2,81.2 358.3,79.4 344.9,77.8 329.9,76.4 315.8,75.2 302.3,74.4 289.2,73.9 277.4,73.8 267.2,73.9 257.6,74.3 248.7,74.9 239.5,75.7 231.1,76.8 222.5,78.1 213.6,79.8 205.7,81.6 197.8,83.8 191.0,85.9 182.9,88.8 176.1,91.6 169.4,94.7 162.6,98.2 156.0,102.1 150.8,105.4 144.3,110.1 138.6,114.7 132.3,120.3 126.9,125.6 121.8,131.2 117.0,137.2 112.5,143.4 108.9,149.0 105.1,155.7 102.2,161.8 99.6,168.0 97.4,174.3 95.6,180.8 94.3,187.4 93.5,194.1 93.2,199.8 93.2,202.8 546.1,202.8Z"/>
<path fill="#e77d02" d="M540.8,199.8 540.7,197.0 540.4,194.2 540.0,191.4 539.2,187.8 537.5,182.3 536.4,179.7 534.8,176.1 531.6,170.1 529.5,166.8 527.3,163.6 522.5,157.3 517.3,151.4 511.0,145.2 504.5,139.3 497.1,133.4 489.5,127.9 481.2,122.4 472.9,117.4 464.3,112.7 454.3,107.7 445.7,103.8 437.4,100.3 428.1,96.9 419.1,93.9 409.2,90.9 399.7,88.5 389.5,86.1 379.7,84.2 368.4,82.3 355.6,80.4 342.3,78.9 328.3,77.5 314.3,76.4 300.9,75.5 288.0,75.0 276.4,74.9 266.3,75.0 256.8,75.4 248.1,75.9 239.0,76.8 230.8,77.8 222.3,79.1 213.5,80.8 205.8,82.6 198.0,84.7 191.4,86.7 183.4,89.6 176.8,92.3 170.1,95.4 163.5,98.8 157.0,102.5 150.6,106.7 144.2,111.3 138.6,115.8 132.4,121.4 127.1,126.6 122.1,132.2 117.3,138.0 112.9,144.1 109.3,149.7 105.5,156.3 102.6,162.3 100.0,168.4 97.9,174.7 96.1,181.1 94.8,187.6 94.0,194.1 93.7,199.8 93.7,202.8 540.8,202.8Z"/>
<path fill="#e97705" d="M535.5,199.8 535.4,197.0 535.1,194.3 534.7,191.6 533.9,187.9 532.2,182.6 531.2,179.9 529.6,176.4 526.4,170.5 524.3,167.3 522.1,164.1 517.4,157.9 511.6,151.3 505.4,145.2 499.0,139.5 491.6,133.7 484.2,128.3 476.0,122.9 467.1,117.6 457.6,112.4 449.1,108.2 440.7,104.4 432.5,101.0 423.3,97.6 414.5,94.7 404.8,91.8 395.5,89.4 385.4,87.1 375.8,85.1 364.6,83.2 352.8,81.5 339.7,79.9 325.8,78.5 312.0,77.4 299.6,76.6 286.8,76.1 275.3,76.0 265.4,76.1 256.1,76.5 247.4,77.0 238.5,77.8 230.4,78.8 222.1,80.1 213.5,81.8 205.9,83.5 198.2,85.6 191.8,87.6 183.9,90.4 177.4,93.0 170.8,96.0 164.3,99.3 157.9,103.0 151.6,107.0 145.6,111.3 139.9,115.8 133.8,121.2 128.6,126.3 123.5,131.7 118.8,137.4 114.3,143.3 110.2,149.6 106.4,156.0 103.5,161.9 100.5,168.8 98.3,175.0 96.6,181.3 95.3,187.7 94.5,194.2 94.2,199.8 94.2,202.8 535.5,202.8Z"/>
<path fill="#eb7308" d="M530.2,199.8 530.1,197.1 529.9,194.4 529.4,191.7 528.6,188.1 527.0,182.8 525.9,180.2 524.4,176.8 521.2,170.9 517.0,164.5 512.3,158.4 507.2,152.7 501.2,146.6 494.9,140.9 487.7,135.1 480.4,129.7 472.3,124.3 463.6,119.0 454.8,114.1 445.1,109.2 436.9,105.5 428.8,102.1 419.8,98.7 411.0,95.8 401.5,92.9 392.3,90.5 382.4,88.2 372.8,86.2 361.7,84.3 349.2,82.5 337.1,81.0 323.3,79.6 309.6,78.4 297.3,77.7 285.5,77.2 274.2,77.1 264.4,77.2 255.3,77.6 245.7,78.2 236.9,79.0 228.9,80.1 220.6,81.4 212.2,83.0 204.7,84.8 197.2,86.9 190.8,88.9 183.1,91.7 176.6,94.3 170.2,97.3 163.8,100.6 157.5,104.2 151.4,108.2 145.4,112.5 139.2,117.5 133.2,122.9 128.1,127.9 123.1,133.3 118.5,138.9 114.1,144.8 110.1,151.0 106.4,157.4 103.5,163.2 101.0,169.2 98.8,175.3 97.1,181.6 95.8,187.9 95.0,194.3 94.7,199.8 94.7,202.8 530.2,202.8Z"/>
<path fill="#ec6f0a" d="M524.9,199.8 524.8,197.1 524.6,194.4 524.2,191.8 523.4,188.2 521.7,183.0 519.2,177.1 516.0,171.3 511.9,165.0 507.3,159.0 502.3,153.3 496.3,147.3 490.1,141.7 483.1,135.9 475.2,130.1 467.3,124.7 458.7,119.5 449.5,114.4 441.2,110.2 433.1,106.5 425.1,103.2 416.2,99.8 407.6,96.9 398.2,94.0 389.1,91.6 379.3,89.3 369.8,87.3 358.9,85.4 347.4,83.6 335.3,82.1 321.7,80.7 308.9,79.6 296.8,78.8 284.3,78.3 273.1,78.2 263.5,78.3 254.4,78.7 245.0,79.3 236.3,80.1 228.5,81.1 220.4,82.4 212.1,84.1 204.8,85.8 197.4,87.8 189.8,90.2 182.3,93.0 175.9,95.6 169.6,98.6 163.3,101.9 157.2,105.5 151.1,109.4 145.2,113.7 139.1,118.6 133.2,123.9 128.2,128.9 123.3,134.2 118.7,139.8 114.4,145.6 110.4,151.7 106.8,158.0 103.9,163.7 101.4,169.6 99.3,175.7 97.5,181.8 96.3,188.1 95.5,194.4 95.2,199.8 95.2,202.8 524.9,202.8Z"/>
<path fill="#ef690e" d="M519.6,199.8 519.5,197.2 519.3,194.5 518.9,191.9 518.1,188.4 516.5,183.2 514.0,177.4 510.9,171.7 506.8,165.5 502.3,159.5 497.4,153.9 491.5,148.0 485.4,142.4 478.5,136.7 470.8,130.9 463.0,125.6 454.6,120.4 445.5,115.4 437.4,111.2 429.3,107.5 421.5,104.2 412.7,100.8 404.2,97.9 394.9,95.1 385.8,92.7 376.2,90.4 366.8,88.4 356.0,86.5 344.6,84.7 332.7,83.1 320.0,81.8 307.4,80.7 295.4,79.9 283.9,79.5 272.9,79.3 263.4,79.4 254.6,79.7 245.4,80.3 236.9,81.1 228.1,82.2 220.1,83.5 212.0,85.1 204.8,86.8 197.5,88.8 190.1,91.1 182.7,93.8 176.5,96.4 170.3,99.3 164.1,102.5 158.0,106.0 152.0,109.8 146.4,113.8 140.4,118.6 134.5,123.7 129.5,128.6 124.1,134.4 119.5,139.9 115.2,145.6 111.2,151.6 107.6,157.8 104.7,163.4 101.8,170.0 99.7,176.0 98.0,182.0 96.7,188.2 96.0,194.4 95.7,199.8 95.7,202.8 519.6,202.8Z"/>
<path fill="#f06510" d="M514.3,199.8 514.2,197.2 514.0,194.6 513.6,192.0 512.8,188.5 511.2,183.5 508.8,177.7 505.7,172.1 501.7,165.9 497.3,160.1 492.5,154.5 486.7,148.6 480.8,143.1 474.0,137.5 466.4,131.7 458.7,126.5 450.5,121.4 441.6,116.3 433.5,112.2 425.6,108.5 417.8,105.2 409.2,101.9 400.8,99.0 391.5,96.2 382.6,93.7 373.1,91.5 363.8,89.5 353.1,87.6 341.9,85.8 330.0,84.2 317.5,82.8 305.8,81.8 293.9,81.0 282.6,80.6 271.8,80.4 262.4,80.6 252.7,80.9 243.6,81.6 235.2,82.4 226.5,83.5 218.7,84.8 210.7,86.5 203.6,88.1 196.4,90.1 189.2,92.5 181.9,95.2 175.7,97.7 169.6,100.6 163.6,103.8 157.6,107.2 151.7,111.0 146.2,115.0 140.2,119.7 134.5,124.8 129.5,129.6 124.2,135.3 119.7,140.7 115.5,146.4 111.5,152.2 107.9,158.4 105.1,163.9 102.2,170.4 100.1,176.3 98.5,182.3 97.2,188.4 96.4,194.5 96.2,199.8 96.2,202.8 514.3,202.8Z"/>
<path fill="#f26112" d="M509.0,199.8 508.7,194.7 508.3,192.1 507.5,188.7 506.0,183.7 503.6,178.0 500.6,172.4 496.7,166.4 492.3,160.6 487.6,155.1 482.0,149.3 476.1,143.8 469.4,138.2 462.0,132.6 454.5,127.4 446.4,122.3 437.6,117.3 429.7,113.2 421.9,109.5 414.2,106.2 405.7,102.9 397.3,100.0 388.2,97.2 379.4,94.8 370.0,92.6 360.8,90.6 350.2,88.7 339.1,86.9 327.4,85.3 315.8,84.0 304.2,83.0 292.4,82.2 281.3,81.7 270.6,81.6 261.3,81.7 251.8,82.1 242.8,82.8 234.6,83.6 226.1,84.7 218.4,86.0 210.5,87.6 203.6,89.2 196.6,91.2 189.4,93.4 182.3,96.1 176.2,98.6 169.0,101.9 163.1,105.1 157.2,108.5 151.4,112.3 145.3,116.7 139.5,121.4 133.8,126.4 129.0,131.2 123.8,136.9 119.3,142.2 115.2,147.8 111.3,153.7 107.8,159.7 105.1,165.2 102.6,170.9 100.6,176.6 98.9,182.5 97.7,188.5 96.9,194.6 96.7,199.8 96.7,202.8 509.0,202.8Z"/>
<path fill="#f45b16" d="M503.7,199.8 503.4,194.7 503.0,192.2 502.3,188.9 500.7,183.9 498.4,178.3 495.5,172.8 491.6,166.8 487.3,161.1 482.7,155.7 477.2,149.9 471.5,144.6 464.9,139.0 457.6,133.4 450.3,128.2 442.9,123.5 434.8,118.8 427.0,114.7 419.2,111.0 411.7,107.7 403.2,104.3 394.9,101.4 385.9,98.6 377.1,96.2 367.7,93.9 358.7,91.9 348.1,89.9 337.1,88.1 325.5,86.5 314.0,85.2 302.6,84.1 291.8,83.4 280.7,83.0 270.2,82.8 261.2,82.9 251.8,83.3 243.0,83.9 235.0,84.7 226.7,85.8 219.2,87.0 211.5,88.5 203.6,90.3 196.7,92.2 189.7,94.4 182.6,97.0 176.7,99.4 169.6,102.7 163.7,105.7 157.9,109.1 152.2,112.7 146.4,116.9 140.6,121.4 135.0,126.3 129.6,131.6 124.4,137.1 120.0,142.4 115.9,147.9 112.1,153.6 108.6,159.5 105.8,164.9 103.0,171.3 100.9,177.0 99.3,182.8 98.1,188.7 97.3,194.7 97.1,199.8 97.1,202.8 503.7,202.8Z"/>
<path fill="#f65718" d="M498.3,199.8 498.0,194.8 497.7,192.3 497.0,189.0 495.5,184.1 493.1,178.6 490.3,173.2 486.5,167.3 482.3,161.6 477.8,156.3 472.4,150.6 466.8,145.3 460.4,139.8 453.2,134.2 446.0,129.1 438.8,124.4 430.8,119.7 423.1,115.6 415.5,111.9 408.0,108.6 399.6,105.3 391.4,102.5 382.5,99.7 373.8,97.3 364.5,95.0 355.6,93.1 344.3,90.9 333.4,89.1 322.8,87.7 311.4,86.4 300.1,85.3 289.4,84.6 279.3,84.2 269.0,84.1 260.1,84.2 250.8,84.6 242.2,85.2 234.3,85.9 226.1,87.0 218.8,88.2 211.2,89.7 203.5,91.5 195.6,93.7 188.7,95.9 181.8,98.4 176.0,100.8 169.0,104.1 163.2,107.1 157.5,110.4 151.8,114.0 146.1,118.0 140.4,122.5 134.9,127.4 129.6,132.5 124.5,138.0 120.2,143.2 116.1,148.6 112.3,154.2 108.8,160.1 106.1,165.4 103.3,171.7 101.3,177.3 99.7,183.0 98.5,188.8 97.8,194.7 97.5,199.8 97.5,202.8 498.3,202.8Z"/>
<path fill="#f7531b" d="M493.0,199.8 492.7,194.9 492.3,192.4 491.6,189.2 490.2,184.4 487.9,178.9 485.1,173.6 481.5,167.7 477.4,162.1 472.9,156.8 467.6,151.2 462.1,146.0 455.9,140.5 448.9,135.0 441.8,129.9 434.7,125.3 426.8,120.6 419.2,116.5 411.7,112.9 404.3,109.6 397.0,106.8 388.9,103.9 381.0,101.3 372.4,98.9 363.1,96.6 353.3,94.4 342.2,92.3 331.4,90.5 320.8,89.0 309.6,87.6 298.4,86.6 287.8,85.9 277.9,85.5 267.7,85.4 258.9,85.5 249.8,85.9 241.4,86.5 233.6,87.2 225.6,88.3 217.3,89.7 209.9,91.2 202.3,93.0 195.6,94.8 188.9,97.0 182.1,99.4 175.2,102.2 168.4,105.4 162.7,108.4 157.0,111.7 151.5,115.2 145.9,119.2 140.2,123.7 134.8,128.4 129.5,133.5 124.5,138.9 120.3,144.0 116.2,149.3 112.5,154.9 109.1,160.7 106.4,165.9 103.7,172.1 101.7,177.6 100.0,183.3 98.9,189.0 98.1,194.8 97.9,199.8 97.9,202.8 493.0,202.8Z"/>
<path fill="#fa4d1e" d="M487.6,199.8 487.4,194.9 487.0,192.5 486.3,189.3 484.9,184.6 482.7,179.2 480.0,173.9 476.4,168.2 472.4,162.7 468.0,157.4 462.8,151.9 457.5,146.7 451.3,141.3 444.4,135.8 437.5,130.8 430.6,126.2 422.8,121.5 415.3,117.5 407.9,113.9 400.6,110.6 393.4,107.8 385.3,104.9 377.5,102.5 369.0,100.0 359.9,97.7 351.0,95.8 340.8,93.8 330.1,92.0 319.6,90.4 308.5,89.1 298.2,88.1 287.8,87.4 277.2,86.9 267.2,86.7 258.6,86.8 249.7,87.2 241.4,87.8 232.9,88.6 225.0,89.6 216.9,91.0 209.6,92.4 202.2,94.2 194.5,96.3 187.9,98.4 181.2,100.9 174.5,103.7 167.7,106.8 162.1,109.8 156.6,113.0 151.1,116.5 145.6,120.4 140.0,124.8 134.7,129.5 129.5,134.5 124.5,139.8 120.3,144.8 116.4,150.1 112.7,155.6 109.3,161.3 106.6,166.4 104.0,172.5 102.0,177.9 100.4,183.5 99.2,189.2 98.5,194.9 98.3,199.8 98.3,202.8 487.6,202.8Z"/>
<path fill="#fb4921" d="M482.3,199.8 482.0,195.0 481.6,192.6 481.0,189.5 479.6,184.8 477.4,179.5 474.8,174.3 471.3,168.6 467.3,163.2 463.1,158.0 458.0,152.5 452.2,146.8 446.1,141.5 439.4,136.1 432.6,131.2 425.8,126.7 418.8,122.5 411.4,118.4 404.0,114.8 396.8,111.7 389.7,108.8 381.7,106.0 374.0,103.6 365.6,101.2 356.5,99.0 347.8,97.0 337.7,95.1 327.1,93.3 316.7,91.8 305.8,90.4 295.6,89.5 285.3,88.7 275.7,88.3 265.8,88.2 257.3,88.3 248.6,88.6 240.5,89.2 232.1,90.0 224.4,91.0 216.4,92.3 209.3,93.8 202.0,95.5 194.5,97.5 188.0,99.6 181.5,102.0 174.8,104.7 168.2,107.7 162.7,110.6 156.1,114.3 150.7,117.8 145.3,121.7 139.8,125.9 134.5,130.6 129.4,135.5 124.5,140.7 120.4,145.7 116.5,150.8 112.8,156.2 109.5,161.8 106.9,166.9 104.2,172.9 102.3,178.3 100.7,183.7 99.5,189.3 98.8,194.9 98.6,199.8 98.6,202.8 482.3,202.8Z"/>
<path fill="#fd4523" d="M476.9,199.8 476.6,195.1 476.2,192.7 475.6,189.6 474.2,185.0 472.1,179.8 469.6,174.7 466.1,169.0 462.3,163.7 458.1,158.6 453.2,153.2 447.4,147.5 441.5,142.3 434.9,136.9 428.2,132.0 421.5,127.5 414.6,123.4 407.3,119.4 401.1,116.3 394.0,113.1 386.9,110.3 379.0,107.5 371.4,105.0 363.0,102.6 354.0,100.4 345.3,98.5 335.3,96.5 324.8,94.7 314.6,93.2 303.7,91.9 293.7,91.0 283.6,90.3 274.1,89.8 264.4,89.7 256.1,89.8 247.5,90.1 239.5,90.7 231.3,91.5 223.7,92.5 216.0,93.7 208.0,95.3 200.8,97.1 193.4,99.1 187.0,101.1 180.6,103.5 174.1,106.1 167.5,109.2 162.1,112.0 155.7,115.7 150.4,119.1 145.0,122.9 139.6,127.1 134.3,131.6 129.3,136.5 124.5,141.7 120.4,146.5 116.6,151.6 113.0,156.9 109.7,162.4 107.0,167.4 104.4,173.3 102.5,178.6 100.9,184.0 99.8,189.5 99.1,195.0 98.9,199.8 98.9,202.8 476.9,202.8Z"/>
<path fill="#fd4028" d="M471.4,199.8 471.2,195.1 470.8,192.8 470.2,189.8 468.9,185.2 466.8,180.0 464.3,175.0 461.0,169.5 457.2,164.2 453.1,159.2 448.3,153.8 442.7,148.2 436.9,143.0 430.4,137.7 423.8,132.9 417.2,128.4 410.5,124.3 403.3,120.4 397.1,117.3 390.1,114.2 383.1,111.4 375.3,108.6 367.7,106.2 359.4,103.9 351.4,101.9 342.8,100.0 332.9,98.1 322.5,96.3 312.4,94.8 301.7,93.5 291.8,92.5 281.8,91.8 272.5,91.4 262.9,91.3 254.8,91.4 246.3,91.7 238.5,92.2 230.4,93.0 223.1,94.0 215.4,95.2 207.6,96.8 200.6,98.4 193.4,100.4 187.1,102.4 180.8,104.6 174.4,107.2 167.9,110.1 162.6,112.8 156.2,116.4 151.0,119.7 145.2,123.7 139.9,127.8 134.7,132.2 130.3,136.4 125.5,141.4 121.4,146.1 117.1,151.7 113.5,156.9 110.2,162.3 107.2,167.9 104.6,173.7 102.7,178.9 101.2,184.2 100.0,189.6 99.4,195.1 99.2,199.8 99.2,202.8 471.4,202.8Z"/>
<path fill="#f73f2d" d="M466.0,199.8 465.7,195.2 464.8,189.9 463.5,185.4 461.5,180.3 459.0,175.4 455.8,169.9 452.1,164.7 447.6,159.1 442.8,153.9 437.3,148.4 431.6,143.3 425.2,138.1 418.8,133.3 412.3,129.0 406.2,125.3 399.1,121.4 393.1,118.4 386.1,115.3 379.2,112.5 371.5,109.8 364.0,107.4 356.7,105.4 347.9,103.2 339.4,101.4 329.6,99.5 319.3,97.8 309.3,96.3 298.8,95.1 289.0,94.2 279.2,93.5 270.0,93.1 260.6,93.0 251.8,93.1 243.5,93.5 235.8,94.0 227.8,94.9 220.5,95.8 213.0,97.1 205.2,98.7 198.3,100.3 191.2,102.3 185.0,104.3 178.8,106.6 172.5,109.2 166.2,112.1 160.9,114.8 154.7,118.4 149.5,121.7 144.3,125.3 139.1,129.4 134.0,133.8 129.1,138.5 124.4,143.5 120.4,148.2 116.6,153.1 113.1,158.2 109.9,163.5 107.3,168.4 104.7,174.1 102.9,179.2 101.3,184.5 100.2,189.8 99.6,195.2 99.4,199.8 99.4,202.8 466.0,202.8Z"/>
<path fill="#f13e33" d="M460.6,199.8 460.3,195.3 459.4,190.1 458.2,185.7 456.2,180.6 453.8,175.7 450.6,170.4 447.0,165.2 442.6,159.7 437.9,154.5 432.5,149.1 426.9,144.1 420.7,138.9 414.4,134.2 408.0,129.9 402.0,126.2 395.0,122.4 389.0,119.4 382.1,116.4 375.3,113.7 368.6,111.3 361.2,108.9 353.9,106.9 346.0,105.0 337.6,103.1 327.8,101.3 317.6,99.6 307.8,98.2 297.3,96.9 287.7,96.0 278.1,95.4 268.3,94.9 259.1,94.8 250.4,94.9 242.3,95.3 234.8,95.8 227.0,96.6 219.8,97.5 212.5,98.7 204.9,100.2 198.1,101.8 191.1,103.7 184.1,106.0 177.9,108.2 171.7,110.7 165.5,113.6 160.3,116.2 154.2,119.8 149.1,123.0 143.9,126.6 138.8,130.6 133.7,134.9 128.9,139.5 124.2,144.4 120.3,149.0 116.6,153.8 113.1,158.9 109.9,164.1 107.4,168.9 104.8,174.5 103.0,179.5 101.5,184.7 100.4,189.9 99.7,195.2 99.5,199.8 99.5,202.8 460.6,202.8Z"/>
<path fill="#ea3d38" d="M455.2,199.8 454.9,195.4 454.0,190.2 452.8,185.9 450.9,180.9 448.6,176.1 445.4,170.8 441.9,165.7 437.6,160.3 433.0,155.1 427.7,149.8 422.2,144.8 416.1,139.8 409.9,135.1 403.6,130.8 397.7,127.2 390.8,123.4 384.9,120.5 378.0,117.5 371.3,114.8 364.7,112.5 357.3,110.2 350.2,108.3 342.3,106.4 334.8,104.8 325.1,103.0 315.1,101.3 305.3,100.0 295.1,98.8 284.9,97.9 275.5,97.3 265.9,96.9 256.8,96.8 248.3,96.9 240.3,97.2 232.9,97.7 225.3,98.5 218.2,99.4 211.0,100.6 203.6,102.0 196.9,103.6 190.0,105.4 183.1,107.6 177.0,109.8 171.0,112.3 164.8,115.1 159.7,117.7 153.7,121.1 148.7,124.3 143.6,127.8 138.5,131.7 133.5,136.0 128.7,140.5 124.1,145.3 120.2,149.8 116.5,154.5 113.1,159.5 109.9,164.7 107.4,169.4 104.9,174.9 103.0,179.9 101.5,184.9 100.5,190.1 99.8,195.3 99.6,199.8 99.6,202.8 455.2,202.8Z"/>
<path fill="#e13c41" d="M449.7,199.8 449.4,195.4 448.6,190.4 447.1,185.4 445.2,180.5 442.9,175.8 439.8,170.6 436.3,165.6 432.5,160.9 428.0,155.8 422.8,150.5 417.4,145.6 411.4,140.6 405.3,136.0 399.1,131.8 393.3,128.2 386.4,124.5 380.6,121.6 374.8,119.0 368.2,116.4 361.6,114.1 354.3,111.8 347.2,109.9 339.4,108.0 331.9,106.5 322.4,104.7 312.4,103.2 302.8,101.9 292.7,100.8 282.7,99.9 272.8,99.3 263.4,98.9 254.5,98.8 246.2,99.0 238.3,99.3 231.1,99.8 223.6,100.5 216.7,101.4 209.6,102.5 202.2,103.9 195.7,105.4 189.0,107.2 182.1,109.4 176.2,111.5 170.2,113.9 164.2,116.7 159.2,119.2 153.2,122.6 148.2,125.6 143.2,129.1 138.2,132.9 133.2,137.1 128.5,141.5 124.0,146.2 120.1,150.6 116.0,155.9 112.6,160.8 109.5,165.9 107.1,170.5 104.9,175.3 103.1,180.2 101.6,185.2 100.6,190.2 99.9,195.4 99.7,199.8 99.7,202.8 449.7,202.8Z"/>
<path fill="#da3b46" d="M444.0,199.8 443.8,195.5 443.0,190.5 441.6,185.6 439.7,180.8 437.4,176.2 434.4,171.0 431.0,166.1 427.3,161.5 422.9,156.5 417.8,151.3 412.5,146.4 406.6,141.5 400.5,136.9 394.4,132.8 388.7,129.3 382.0,125.6 376.2,122.8 370.5,120.3 363.9,117.7 357.4,115.4 351.1,113.5 344.0,111.6 336.4,109.8 328.9,108.3 320.2,106.7 310.4,105.2 300.2,103.9 290.2,102.9 280.5,102.1 270.7,101.5 261.5,101.1 252.1,101.0 244.0,101.1 236.3,101.4 228.4,102.0 221.0,102.7 214.2,103.5 207.2,104.7 200.0,106.1 193.5,107.6 186.9,109.4 181.1,111.2 175.3,113.2 169.4,115.6 163.5,118.3 158.5,120.7 152.7,124.0 147.8,127.0 142.8,130.4 137.9,134.2 133.0,138.2 128.3,142.5 123.8,147.2 120.0,151.5 115.9,156.7 112.6,161.5 109.5,166.5 107.1,171.0 105.0,175.7 103.2,180.5 101.7,185.4 100.7,190.4 100.0,195.5 99.9,199.8 99.9,202.8 444.0,202.8Z"/>
<path fill="#d43a4c" d="M438.2,199.8 438.0,195.6 437.1,190.7 435.8,185.9 434.0,181.1 431.7,176.6 428.8,171.5 425.4,166.7 421.4,161.5 417.0,156.6 412.0,151.6 406.8,146.8 401.0,142.0 395.6,137.9 389.6,133.9 383.9,130.4 377.3,126.8 371.6,124.0 366.0,121.6 359.5,119.0 353.1,116.9 346.8,115.0 339.9,113.1 333.1,111.6 325.8,110.1 317.2,108.6 307.4,107.2 298.1,106.1 288.3,105.1 278.1,104.3 268.5,103.8 258.9,103.4 249.7,103.3 241.7,103.4 234.2,103.7 226.5,104.2 219.2,104.9 212.6,105.7 205.7,106.7 198.7,108.1 192.3,109.5 185.8,111.3 180.1,113.0 174.4,115.0 168.6,117.3 162.8,119.9 157.9,122.3 152.1,125.5 147.4,128.5 141.9,132.2 137.0,135.9 132.3,139.8 127.6,144.1 123.2,148.7 119.5,152.9 115.9,157.4 112.6,162.2 109.6,167.1 107.2,171.5 105.1,176.1 103.3,180.8 101.8,185.7 100.8,190.6 100.2,195.5 100.0,199.8 100.0,202.8 438.2,202.8Z"/>
<path fill="#d13a4f" d="M435.4,199.8 435.2,195.6 434.4,190.7 433.0,186.0 431.2,181.3 429.0,176.8 426.1,171.7 422.8,167.0 418.8,161.8 414.5,157.0 409.5,151.9 404.4,147.2 398.6,142.4 393.2,138.4 387.3,134.4 381.7,131.0 375.1,127.4 369.5,124.6 363.9,122.2 357.4,119.7 351.0,117.5 344.8,115.7 337.9,113.9 331.2,112.4 323.9,110.9 315.4,109.5 306.4,108.2 297.1,107.1 287.4,106.2 277.3,105.4 267.2,104.8 257.6,104.5 248.6,104.4 240.7,104.5 233.2,104.7 225.6,105.2 218.4,105.9 211.8,106.7 205.0,107.7 198.0,109.0 191.7,110.5 185.3,112.2 179.7,113.9 174.0,115.9 168.2,118.1 162.5,120.7 157.6,123.1 151.9,126.2 147.2,129.1 141.8,132.8 136.9,136.5 132.1,140.4 127.6,144.6 123.2,149.1 119.4,153.4 115.9,157.8 112.6,162.5 109.6,167.4 107.2,171.8 105.1,176.3 103.3,181.0 101.9,185.8 100.9,190.6 100.3,195.6 100.1,199.8 100.1,202.8 435.4,202.8Z"/>
<path fill="#cd3a52" d="M432.6,199.8 432.4,195.6 431.6,190.8 430.2,186.1 428.5,181.5 426.3,176.9 423.4,172.0 420.1,167.2 416.2,162.1 411.9,157.3 407.0,152.3 401.9,147.7 396.1,142.9 390.8,138.9 384.9,134.9 379.4,131.5 372.8,128.0 367.2,125.3 361.7,122.8 355.3,120.4 348.9,118.2 342.8,116.4 335.9,114.6 329.2,113.2 322.0,111.8 313.5,110.4 304.6,109.2 295.4,108.1 285.8,107.2 275.8,106.5 265.8,105.9 256.3,105.6 247.4,105.5 239.6,105.6 232.3,105.8 224.7,106.3 217.6,106.9 211.1,107.7 204.3,108.7 197.4,110.0 191.2,111.4 184.8,113.1 179.2,114.8 173.5,116.7 167.9,118.9 162.1,121.5 157.4,123.8 151.7,127.0 146.9,129.8 141.6,133.5 136.8,137.1 132.1,141.0 127.5,145.1 123.1,149.6 119.4,153.8 115.9,158.2 112.6,162.8 109.6,167.7 107.3,172.0 105.2,176.5 103.4,181.2 102.0,185.9 101.0,190.7 100.4,195.6 100.2,199.8 100.2,202.8 432.6,202.8Z"/>
<path fill="#ca3954" d="M429.7,199.8 429.5,195.7 428.7,190.9 427.4,186.2 425.6,181.6 423.5,177.1 420.6,172.2 417.4,167.5 413.5,162.5 409.3,157.7 404.4,152.7 399.3,148.1 393.6,143.4 388.4,139.4 382.5,135.5 377.0,132.1 370.5,128.6 365.0,125.9 359.4,123.5 354.0,121.4 347.7,119.3 341.5,117.4 334.7,115.6 328.0,114.1 320.8,112.8 313.1,111.5 304.3,110.3 295.1,109.2 285.6,108.3 275.6,107.6 265.0,107.0 255.1,106.7 246.2,106.6 238.5,106.7 231.2,106.9 223.7,107.4 216.7,108.0 210.3,108.7 203.6,109.7 196.7,111.0 190.6,112.4 184.2,114.0 178.7,115.7 173.1,117.6 167.5,119.8 161.8,122.3 157.1,124.6 151.4,127.7 146.7,130.5 141.4,134.1 136.6,137.7 132.0,141.5 127.4,145.7 123.1,150.1 119.4,154.2 115.9,158.6 112.6,163.2 109.7,168.0 107.3,172.3 105.3,176.8 103.5,181.4 102.1,186.0 101.1,190.8 100.5,195.6 100.3,199.8 100.3,202.8 429.7,202.8Z"/>
<path fill="#c73957" d="M426.7,199.8 426.5,195.7 425.7,191.0 424.5,186.3 422.7,181.8 420.6,177.4 417.8,172.5 414.6,167.8 410.7,162.8 406.6,158.1 401.7,153.1 396.7,148.6 391.1,143.9 385.8,140.0 380.0,136.0 374.5,132.7 368.1,129.2 362.6,126.6 357.1,124.2 351.7,122.1 345.5,120.0 339.4,118.2 332.6,116.4 326.0,115.0 318.8,113.6 311.2,112.4 302.4,111.2 294.0,110.3 284.5,109.5 274.0,108.7 263.6,108.2 253.7,107.8 245.0,107.7 237.4,107.8 230.2,108.0 222.8,108.5 215.8,109.1 209.5,109.8 202.9,110.8 196.1,112.0 189.9,113.3 183.7,114.9 178.2,116.6 172.7,118.5 167.1,120.6 161.4,123.1 156.8,125.4 151.2,128.5 146.5,131.3 141.3,134.8 136.5,138.3 131.9,142.1 127.4,146.2 123.0,150.6 119.4,154.7 115.9,159.0 112.7,163.5 109.7,168.3 107.4,172.6 105.3,177.0 103.6,181.5 102.2,186.2 101.2,190.9 100.6,195.7 100.4,199.8 100.4,202.8 426.7,202.8Z"/>
<path fill="#c4385a" d="M423.7,199.8 423.5,195.8 422.7,191.1 421.4,186.5 419.7,181.9 417.6,177.6 414.8,172.7 411.7,168.1 407.9,163.1 403.8,158.5 399.0,153.6 394.0,149.0 388.4,144.4 383.2,140.5 377.5,136.6 372.0,133.3 365.7,129.9 360.2,127.2 354.8,124.9 349.4,122.9 343.2,120.8 337.1,119.0 330.4,117.3 323.9,115.8 316.8,114.5 309.2,113.3 300.5,112.2 292.2,111.3 282.8,110.5 272.4,109.8 261.5,109.3 251.7,109.0 243.1,108.9 235.5,108.9 227.7,109.2 221.0,109.6 214.2,110.2 207.8,111.0 201.3,111.9 194.5,113.2 188.4,114.5 182.2,116.2 176.8,117.8 171.3,119.7 165.7,121.9 160.2,124.4 155.5,126.7 150.0,129.8 145.4,132.6 140.6,135.9 135.9,139.4 131.3,143.2 126.8,147.2 123.0,151.1 119.4,155.1 115.9,159.4 112.7,163.9 109.8,168.6 107.5,172.8 105.4,177.2 103.7,181.7 102.3,186.3 101.3,191.0 100.7,195.7 100.6,199.8 100.6,202.8 423.7,202.8Z"/>
<path fill="#c1385d" d="M420.6,199.8 420.4,195.8 419.6,191.2 418.4,186.6 416.7,182.1 414.6,177.8 411.9,173.0 408.8,168.4 405.0,163.5 400.9,158.9 396.2,154.0 391.2,149.5 385.7,144.9 380.6,141.1 374.9,137.2 369.5,134.0 363.2,130.5 357.7,128.0 352.4,125.7 347.0,123.6 340.9,121.6 334.9,119.8 329.0,118.3 322.5,116.9 315.4,115.6 307.9,114.4 300.0,113.4 291.0,112.4 281.7,111.6 271.4,111.0 260.6,110.4 251.0,110.1 241.8,110.0 234.3,110.1 226.6,110.4 219.3,110.8 212.5,111.4 206.2,112.2 199.7,113.1 193.8,114.2 187.8,115.5 181.6,117.1 176.3,118.8 170.8,120.6 165.3,122.8 159.8,125.2 155.2,127.5 149.7,130.6 145.2,133.3 140.4,136.6 135.7,140.0 131.2,143.8 126.8,147.8 123.0,151.6 119.4,155.6 116.0,159.8 112.8,164.3 109.9,168.9 107.6,173.1 105.6,177.4 103.9,181.9 102.5,186.4 101.5,191.1 100.9,195.8 100.7,199.8 100.7,202.8 420.6,202.8Z"/>
<path fill="#bd3860" d="M417.4,199.8 417.2,195.8 416.4,191.2 415.2,186.7 413.5,182.3 411.5,178.0 408.8,173.3 405.7,168.7 402.0,163.9 398.0,159.3 393.3,154.5 388.4,150.0 382.9,145.5 377.8,141.7 372.2,137.9 366.8,134.6 360.6,131.3 355.2,128.7 349.9,126.4 344.6,124.4 338.5,122.4 332.5,120.7 326.7,119.2 320.3,117.8 313.3,116.5 305.8,115.4 298.0,114.4 289.8,113.6 280.6,112.8 270.4,112.1 259.1,111.6 249.6,111.3 240.5,111.2 233.1,111.3 225.5,111.5 218.3,111.9 211.5,112.5 205.3,113.2 198.9,114.2 193.1,115.3 187.1,116.6 181.0,118.1 175.7,119.7 170.3,121.6 164.9,123.7 159.4,126.1 154.9,128.4 149.5,131.4 145.0,134.1 140.2,137.3 135.6,140.7 131.1,144.4 126.7,148.4 123.0,152.1 119.4,156.1 116.0,160.3 112.9,164.7 110.0,169.2 107.7,173.4 105.7,177.7 104.0,182.1 102.6,186.6 101.7,191.2 101.1,195.8 100.9,199.8 100.9,202.8 417.4,202.8Z"/>
<path fill="#ba3762" d="M414.1,199.8 413.8,195.2 413.0,190.7 411.7,186.2 410.0,181.9 408.0,177.6 405.2,173.0 402.2,168.5 398.5,163.7 394.5,159.2 389.8,154.5 385.0,150.1 379.5,145.7 374.0,141.6 368.5,138.0 363.2,134.8 357.0,131.5 351.7,129.1 346.4,126.9 341.2,124.9 335.2,123.0 329.3,121.3 323.6,119.9 317.2,118.6 310.3,117.4 303.0,116.3 295.2,115.4 278.7,113.9 268.0,113.3 256.9,112.7 247.5,112.5 238.5,112.4 230.6,112.5 223.7,112.7 216.5,113.1 209.8,113.7 203.7,114.5 197.3,115.4 191.5,116.5 185.6,117.8 180.4,119.1 175.2,120.7 169.8,122.5 164.5,124.6 159.1,127.0 154.6,129.2 149.2,132.2 144.8,134.9 140.1,138.0 135.5,141.4 131.0,145.1 126.7,149.0 123.0,152.7 119.4,156.6 116.1,160.7 112.9,165.1 110.1,169.6 107.8,173.7 105.8,177.9 104.2,182.3 102.8,186.7 101.8,191.3 101.2,195.9 101.1,199.8 101.1,202.8 414.1,202.8Z"/>
<path fill="#b73765" d="M410.7,199.8 410.4,195.3 409.6,190.8 408.4,186.4 406.7,182.1 404.7,177.9 402.0,173.3 399.0,168.8 395.3,164.1 391.4,159.6 386.7,155.0 382.0,150.7 376.6,146.2 371.1,142.2 365.7,138.6 360.5,135.5 354.3,132.3 349.1,129.9 343.8,127.7 338.7,125.8 332.7,123.9 326.9,122.2 321.2,120.9 314.9,119.6 308.1,118.4 301.5,117.4 293.8,116.5 277.5,115.1 266.9,114.4 255.3,113.9 246.0,113.7 237.2,113.6 229.3,113.6 222.5,113.9 215.5,114.3 208.9,114.9 202.8,115.6 196.4,116.5 190.8,117.5 184.9,118.8 179.8,120.2 174.6,121.7 169.3,123.5 164.0,125.5 158.7,127.9 154.2,130.1 148.9,133.0 144.5,135.7 139.9,138.8 135.3,142.1 130.9,145.7 126.6,149.6 122.5,153.7 119.0,157.6 115.7,161.7 112.6,166.0 109.8,170.5 107.7,174.6 105.7,178.8 104.1,183.1 102.8,187.5 102.0,191.4 101.5,195.9 101.3,199.8 101.3,202.8 410.7,202.8Z"/>
<path fill="#b1366b" d="M407.2,199.8 407.0,195.3 406.2,190.9 404.9,186.5 403.3,182.3 401.3,178.1 398.7,173.6 395.7,169.2 392.0,164.5 388.2,160.1 383.6,155.5 378.9,151.2 374.0,147.2 369.1,143.6 363.6,139.9 358.5,136.8 352.4,133.5 347.2,131.1 342.0,128.9 336.9,127.0 331.0,125.0 325.2,123.4 319.6,122.0 313.3,120.7 306.5,119.5 300.0,118.6 292.4,117.6 284.4,116.9 276.1,116.3 254.2,115.1 244.5,114.9 235.8,114.8 228.0,114.8 221.3,115.1 214.4,115.5 207.8,116.0 201.8,116.7 195.6,117.6 190.0,118.6 184.2,119.9 179.1,121.2 174.0,122.7 168.8,124.5 163.5,126.5 158.3,128.8 153.9,131.0 148.6,133.8 144.3,136.5 139.7,139.5 135.2,142.8 130.8,146.4 126.6,150.2 122.5,154.3 119.1,158.1 115.8,162.2 112.7,166.4 110.0,170.9 107.8,174.9 105.9,179.0 104.3,183.3 103.0,187.7 102.2,191.5 101.7,195.9 101.5,199.8 101.5,202.8 407.2,202.8Z"/>
<path fill="#ad366e" d="M403.6,199.8 403.4,195.4 402.6,191.0 401.4,186.7 399.8,182.5 397.8,178.4 395.2,173.9 392.3,169.6 388.7,164.9 384.9,160.6 380.4,156.0 375.7,151.8 370.4,147.5 365.1,143.6 359.8,140.1 354.7,137.0 348.6,133.9 343.5,131.5 338.4,129.4 333.3,127.6 328.3,126.0 322.6,124.3 317.0,123.0 310.9,121.7 304.2,120.5 297.7,119.6 290.2,118.7 274.1,117.4 252.0,116.3 242.4,116.1 233.7,116.0 219.4,116.3 213.2,116.6 206.8,117.2 200.8,117.8 194.7,118.7 189.1,119.7 183.4,121.0 178.5,122.2 173.4,123.7 168.2,125.5 163.1,127.5 157.9,129.8 153.5,131.9 148.3,134.7 144.0,137.3 139.5,140.3 135.1,143.6 130.8,147.1 126.6,150.8 122.5,154.9 119.1,158.7 115.9,162.7 112.9,166.8 110.1,171.2 108.0,175.2 106.1,179.3 104.5,183.5 103.3,187.8 102.5,191.6 101.9,196.0 101.7,199.8 101.7,202.8 403.6,202.8Z"/>
<path fill="#aa3570" d="M399.9,199.8 399.7,195.4 399.0,191.1 397.8,186.9 396.2,182.7 394.2,178.7 391.7,174.2 388.8,170.0 385.3,165.4 381.5,161.1 377.0,156.6 372.4,152.4 367.2,148.2 361.9,144.3 356.7,140.8 351.6,137.8 345.7,134.7 340.6,132.4 335.5,130.3 330.5,128.5 325.6,126.9 320.0,125.3 314.5,124.0 308.3,122.7 301.7,121.6 295.4,120.7 287.9,119.9 272.7,118.6 250.2,117.6 232.3,117.2 218.2,117.5 212.1,117.8 205.7,118.3 199.8,119.0 193.8,119.9 188.3,120.9 182.7,122.1 177.7,123.3 172.7,124.8 167.7,126.5 162.5,128.5 157.4,130.7 153.1,132.8 148.0,135.6 143.8,138.2 139.3,141.1 134.9,144.3 130.7,147.8 126.5,151.5 122.5,155.5 119.1,159.2 115.9,163.1 113.0,167.3 110.3,171.6 108.1,175.5 106.3,179.6 104.7,183.7 103.5,188.0 102.7,191.7 102.1,196.0 102.0,199.8 102.0,202.8 399.9,202.8Z"/>
<path fill="#a73573" d="M396.2,199.8 395.9,195.5 395.2,191.2 394.0,187.0 392.5,182.9 390.3,178.4 387.7,174.0 384.8,169.8 381.3,165.4 377.5,161.1 373.1,156.7 368.6,152.6 363.9,148.8 358.7,145.0 353.5,141.6 348.5,138.7 342.6,135.6 337.6,133.3 332.6,131.3 327.7,129.5 322.8,127.9 317.2,126.3 311.8,125.0 305.8,123.8 299.2,122.7 293.0,121.8 286.3,121.1 270.6,119.8 247.9,118.8 230.2,118.4 216.2,118.7 210.2,119.1 203.9,119.6 198.1,120.3 192.1,121.1 186.6,122.1 181.1,123.4 176.2,124.6 171.2,126.1 166.2,127.8 161.2,129.8 156.1,132.1 151.9,134.2 147.7,136.5 143.5,139.0 139.1,142.0 134.8,145.1 130.6,148.5 126.5,152.2 122.5,156.1 119.2,159.8 116.0,163.7 113.1,167.7 110.4,172.0 108.3,175.9 106.5,179.9 105.0,184.0 103.7,188.1 103.0,191.8 102.4,196.1 102.2,199.8 102.2,202.8 396.2,202.8Z"/>
<path fill="#a43476" d="M392.3,199.8 392.0,195.6 391.3,191.4 390.2,187.2 388.6,183.2 386.5,178.7 384.0,174.4 381.1,170.2 377.7,165.8 373.9,161.7 369.6,157.3 365.1,153.3 360.5,149.5 355.3,145.8 350.2,142.4 345.3,139.5 339.5,136.5 334.6,134.2 329.6,132.2 324.8,130.5 319.9,128.9 314.4,127.4 309.1,126.1 303.1,124.9 296.7,123.8 290.5,123.0 283.9,122.2 269.1,121.0 246.1,120.0 228.6,119.7 214.9,119.9 208.9,120.3 202.7,120.8 197.0,121.4 191.1,122.3 185.7,123.3 180.2,124.5 175.4,125.7 170.5,127.2 165.6,128.9 160.6,130.8 155.6,133.1 151.5,135.2 147.3,137.4 143.2,139.9 138.9,142.8 134.6,145.9 130.5,149.3 126.4,152.9 122.5,156.7 119.2,160.3 116.1,164.2 113.2,168.2 110.6,172.4 108.5,176.2 106.7,180.1 105.2,184.2 104.0,188.3 103.2,191.9 102.7,196.1 102.5,199.8 102.5,202.8 392.3,202.8Z"/>
<path fill="#a13479" d="M388.3,199.8 388.0,195.6 387.3,191.5 386.2,187.4 384.7,183.4 382.6,179.0 380.1,174.7 377.3,170.7 373.9,166.3 370.2,162.2 366.0,157.9 361.5,153.9 357.0,150.3 351.9,146.5 346.9,143.3 342.0,140.4 336.3,137.4 331.4,135.2 326.6,133.2 321.7,131.5 317.0,130.0 311.6,128.5 306.3,127.2 300.4,126.0 294.1,124.9 288.0,124.1 281.5,123.4 266.9,122.3 243.7,121.2 226.4,120.9 212.9,121.2 207.0,121.5 200.8,122.1 195.2,122.7 190.0,123.5 184.8,124.4 179.4,125.6 174.6,126.8 169.8,128.3 165.0,130.0 160.1,131.9 155.1,134.1 151.0,136.1 146.2,138.8 142.1,141.3 137.7,144.3 133.5,147.4 129.4,150.8 125.9,154.0 122.5,157.4 119.3,160.9 116.2,164.7 113.3,168.7 110.7,172.8 108.7,176.6 106.9,180.4 105.4,184.4 104.3,188.5 103.5,192.0 103.0,196.2 102.8,199.8 102.8,202.8 388.3,202.8Z"/>
<path fill="#9d347c" d="M384.1,199.8 383.9,195.7 383.3,191.6 382.2,187.6 380.7,183.7 378.6,179.3 376.1,175.1 373.4,171.1 370.0,166.8 366.4,162.8 362.2,158.6 357.9,154.6 353.4,151.0 348.4,147.3 343.4,144.1 338.6,141.3 333.0,138.4 328.2,136.2 323.4,134.2 318.6,132.5 314.0,131.0 308.6,129.6 303.4,128.3 297.7,127.1 291.4,126.1 285.4,125.3 279.0,124.6 265.2,123.5 241.8,122.5 224.8,122.1 211.4,122.4 205.6,122.8 199.6,123.3 194.0,123.9 189.0,124.7 183.8,125.6 178.5,126.8 173.8,128.0 169.1,129.4 164.3,131.0 159.5,132.9 154.6,135.1 150.6,137.1 145.8,139.8 141.8,142.2 137.4,145.2 133.3,148.3 129.3,151.6 125.9,154.7 122.5,158.0 119.3,161.5 116.3,165.3 113.5,169.1 110.9,173.2 108.9,176.9 107.2,180.7 105.7,184.7 104.5,188.7 103.8,192.1 103.3,196.3 103.1,199.8 103.1,202.8 384.1,202.8Z"/>
<path fill="#9a337e" d="M379.9,199.8 379.7,195.8 379.0,191.7 378.0,187.8 376.5,183.9 374.5,179.6 372.1,175.5 369.4,171.6 366.1,167.3 362.5,163.4 358.4,159.2 354.1,155.3 349.7,151.8 344.7,148.2 339.8,145.0 335.1,142.2 329.6,139.4 324.8,137.2 320.1,135.3 315.5,133.6 310.9,132.1 305.6,130.7 300.5,129.5 294.8,128.3 288.6,127.3 276.4,125.8 262.8,124.7 239.8,123.7 223.1,123.4 210.0,123.7 204.3,124.0 198.3,124.5 192.8,125.1 187.9,125.9 182.8,126.8 177.5,127.9 172.9,129.1 168.3,130.5 163.6,132.1 158.8,134.0 154.1,136.1 150.1,138.1 146.2,140.3 142.2,142.7 138.1,145.4 134.0,148.4 130.1,151.6 126.2,155.0 122.5,158.7 119.3,162.2 116.4,165.8 113.6,169.6 111.1,173.7 109.1,177.3 107.4,181.0 105.9,184.9 104.8,188.8 104.1,192.3 103.6,196.3 103.4,199.8 103.4,202.8 379.9,202.8Z"/>
<path fill="#983381" d="M375.6,199.8 375.4,195.8 374.7,191.9 373.7,188.0 372.3,184.2 370.3,180.0 367.9,175.9 365.3,172.0 362.0,167.9 358.5,163.9 354.4,159.9 350.2,156.1 345.9,152.6 341.0,149.0 336.2,145.9 331.5,143.2 326.1,140.4 321.4,138.2 316.8,136.3 312.2,134.7 307.7,133.3 302.5,131.8 297.5,130.6 291.9,129.5 285.8,128.5 273.8,127.0 260.5,126.0 237.3,124.9 220.8,124.6 207.8,124.9 202.2,125.3 196.3,125.8 190.9,126.4 186.0,127.2 180.9,128.1 175.8,129.3 171.3,130.5 166.7,131.9 162.0,133.5 157.4,135.4 152.7,137.6 148.8,139.6 145.0,141.8 141.1,144.1 136.9,147.0 132.9,149.9 129.1,153.1 125.7,156.2 122.5,159.4 119.4,162.8 116.5,166.4 113.7,170.2 111.3,174.1 109.3,177.7 107.6,181.4 106.2,185.2 105.1,189.0 104.4,192.4 103.9,196.4 103.7,199.8 103.7,202.8 375.6,202.8Z"/>
<path fill="#953283" d="M371.0,199.8 370.8,195.9 370.2,192.0 369.2,188.2 367.8,184.5 365.8,180.3 363.5,176.3 360.9,172.5 357.7,168.4 354.3,164.6 350.3,160.6 346.2,156.8 341.9,153.4 337.1,149.9 332.4,146.8 327.8,144.2 322.4,141.4 317.9,139.3 313.3,137.5 308.8,135.8 304.4,134.4 299.3,133.0 294.3,131.8 288.9,130.7 282.9,129.7 271.1,128.3 258.0,127.3 235.2,126.2 219.0,125.9 206.3,126.2 200.7,126.5 194.9,127.0 189.6,127.7 184.8,128.4 179.8,129.3 174.7,130.5 170.3,131.7 165.8,133.1 161.3,134.7 156.7,136.5 152.1,138.7 148.3,140.6 144.5,142.8 140.7,145.1 136.6,147.9 132.7,150.8 128.9,154.0 125.6,156.9 122.4,160.1 119.4,163.5 116.5,167.0 113.9,170.7 111.4,174.6 109.5,178.1 107.9,181.7 106.5,185.4 105.4,189.2 104.7,192.5 104.2,196.4 104.0,199.8 104.0,202.8 371.0,202.8Z"/>
<path fill="#933285" d="M366.3,199.8 366.1,196.0 365.5,192.2 364.5,188.4 363.1,184.8 361.2,180.7 358.9,176.8 356.4,173.0 353.3,169.0 349.9,165.2 346.0,161.3 341.9,157.7 337.7,154.3 333.0,150.9 328.3,147.9 323.8,145.2 318.6,142.5 314.1,140.5 309.6,138.6 305.2,137.1 300.9,135.7 295.9,134.3 291.0,133.1 285.7,132.0 279.8,131.0 268.3,129.6 254.8,128.5 233.0,127.5 217.1,127.2 205.2,127.4 194.1,128.2 184.2,129.5 179.3,130.4 174.4,131.5 170.0,132.7 165.6,134.0 161.2,135.6 156.7,137.4 152.2,139.4 148.5,141.3 144.7,143.4 141.0,145.7 136.7,148.6 132.9,151.4 129.1,154.5 125.5,157.8 122.4,160.9 119.4,164.2 116.6,167.6 114.0,171.2 111.6,175.0 109.8,178.5 108.1,182.0 106.8,185.7 105.7,189.4 105.0,192.7 104.5,196.5 104.4,199.8 104.4,202.8 366.3,202.8Z"/>
<path fill="#903287" d="M361.3,199.8 361.1,196.0 360.5,192.3 359.5,188.7 358.2,185.1 356.3,181.1 354.1,177.2 351.6,173.6 348.5,169.6 345.3,165.9 341.4,162.1 337.4,158.5 333.3,155.2 328.7,151.9 324.1,148.9 319.7,146.4 314.6,143.7 310.2,141.7 305.8,139.9 301.5,138.3 296.5,136.8 291.7,135.4 286.9,134.3 281.7,133.2 276.0,132.3 264.7,130.9 251.6,129.9 229.7,128.8 214.6,128.5 202.8,128.8 191.9,129.6 186.7,130.2 182.1,130.9 177.3,131.9 172.5,133.0 168.2,134.1 163.9,135.5 159.5,137.1 155.1,138.9 150.7,140.9 147.1,142.8 143.5,144.9 139.8,147.2 135.9,149.9 132.2,152.7 128.5,155.7 125.4,158.6 122.3,161.7 119.4,164.9 116.7,168.3 114.1,171.8 111.8,175.5 110.0,178.9 108.4,182.4 107.1,186.0 106.0,189.6 105.4,192.8 104.9,196.6 104.7,199.8 104.7,202.8 361.3,202.8Z"/>
<path fill="#8e3189" d="M356.1,199.8 355.9,196.1 355.4,192.5 354.4,188.9 353.1,185.4 351.3,181.5 349.1,177.7 346.7,174.1 343.7,170.3 340.4,166.7 336.7,162.9 332.7,159.4 328.7,156.2 324.2,152.9 319.7,150.0 315.4,147.5 310.4,144.9 306.1,142.9 301.8,141.2 297.6,139.6 292.7,138.1 288.0,136.8 283.4,135.7 278.3,134.6 272.7,133.7 261.7,132.3 248.3,131.2 227.4,130.1 212.5,129.8 201.0,130.1 190.9,130.9 181.3,132.1 176.7,133.0 171.9,134.1 167.8,135.2 163.5,136.5 159.3,138.0 155.0,139.8 150.7,141.8 147.1,143.6 143.6,145.6 140.1,147.8 135.9,150.6 132.3,153.4 128.7,156.3 125.2,159.5 122.3,162.5 119.4,165.6 116.8,168.9 114.3,172.4 112.0,176.1 110.2,179.4 108.7,182.8 107.4,186.3 106.4,189.9 105.7,193.0 105.2,196.6 105.1,199.8 105.1,202.8 356.1,202.8Z"/>
<path fill="#8b318b" d="M350.7,199.8 350.6,196.2 350.0,192.6 349.1,189.1 347.9,185.7 346.3,182.4 344.2,178.7 341.9,175.1 339.0,171.4 335.8,167.8 332.1,164.1 328.3,160.6 324.4,157.5 319.9,154.3 315.2,151.2 311.0,148.7 306.1,146.2 301.9,144.2 297.7,142.5 293.6,141.0 288.9,139.5 284.2,138.2 279.1,137.0 274.1,136.0 268.7,135.0 257.4,133.6 244.5,132.5 224.9,131.5 210.4,131.2 199.0,131.4 189.1,132.2 179.8,133.5 175.2,134.3 170.6,135.4 166.5,136.5 162.4,137.8 158.2,139.3 154.1,141.0 149.9,143.0 146.4,144.8 139.5,148.9 135.5,151.7 131.9,154.4 128.4,157.3 125.1,160.4 122.2,163.3 119.4,166.4 116.8,169.6 114.4,173.0 112.2,176.6 110.5,179.8 109.0,183.2 107.7,186.6 106.7,190.1 106.1,193.1 105.6,196.7 105.5,199.8 105.5,202.8 350.7,202.8Z"/>
<path fill="#89308d" d="M345.2,199.8 345.1,196.3 344.6,192.8 343.7,189.4 342.5,186.0 340.9,182.8 338.9,179.2 336.6,175.7 333.8,172.0 330.7,168.6 327.1,164.9 323.3,161.6 319.5,158.5 315.2,155.3 310.5,152.3 306.4,149.9 301.6,147.4 297.5,145.6 293.5,143.9 289.5,142.4 284.9,140.9 280.3,139.6 275.3,138.4 270.5,137.4 265.2,136.5 254.2,135.0 241.1,133.9 221.9,132.8 208.2,132.5 197.0,132.8 187.3,133.5 178.2,134.8 173.8,135.7 169.2,136.8 165.2,137.8 161.2,139.1 157.2,140.6 153.1,142.3 149.0,144.2 145.6,146.0 138.9,150.1 135.0,152.8 131.5,155.4 128.2,158.2 124.9,161.3 122.1,164.1 119.4,167.2 116.9,170.3 114.5,173.7 112.4,177.2 110.7,180.3 109.2,183.6 108.0,186.9 107.0,190.3 106.4,193.3 106.0,196.8 105.8,199.8 105.8,202.8 345.2,202.8Z"/>
<path fill="#843091" d="M339.6,199.8 339.5,196.4 339.0,193.0 338.1,189.6 336.9,186.4 335.5,183.2 333.5,179.7 331.2,176.3 328.5,172.7 325.5,169.3 322.3,166.1 318.6,162.8 314.9,159.8 310.7,156.7 306.4,153.9 302.4,151.6 297.8,149.1 293.8,147.2 289.8,145.5 285.2,143.8 280.8,142.4 276.4,141.1 271.5,139.9 261.7,138.0 250.4,136.4 237.6,135.3 219.4,134.2 205.9,133.9 195.5,134.1 186.1,134.8 177.2,136.1 172.8,136.9 168.4,137.9 160.6,140.2 156.7,141.7 152.7,143.3 148.8,145.2 145.5,146.9 141.5,149.1 138.3,151.2 134.5,153.9 131.1,156.5 127.8,159.2 124.7,162.2 121.9,165.0 119.3,168.0 116.9,171.1 114.6,174.3 112.5,177.7 110.9,180.8 109.5,184.0 108.3,187.2 107.3,190.6 106.7,193.4 106.3,196.9 106.2,199.8 106.2,202.8 339.6,202.8Z"/>
<path fill="#822f93" d="M333.9,199.8 333.8,196.5 333.3,193.2 332.5,189.9 331.3,186.7 329.9,183.6 328.0,180.2 325.8,176.9 323.1,173.4 320.1,170.1 316.7,166.7 313.1,163.5 309.4,160.5 305.3,157.6 300.9,154.7 297.0,152.4 292.5,150.1 288.6,148.3 284.7,146.7 280.3,145.0 276.0,143.6 271.7,142.4 267.0,141.2 261.9,140.2 257.0,139.3 246.1,137.8 233.2,136.6 216.3,135.6 203.0,135.2 192.9,135.5 183.6,136.3 174.9,137.5 166.9,139.3 159.3,141.6 155.5,143.0 151.6,144.6 147.8,146.4 144.6,148.1 140.8,150.3 137.6,152.4 133.9,155.0 130.7,157.5 127.5,160.2 124.4,163.1 121.8,165.9 119.2,168.8 116.9,171.8 114.7,175.0 112.6,178.3 111.1,181.3 109.7,184.4 108.5,187.5 107.6,190.8 107.0,193.6 106.6,196.9 106.5,199.8 106.5,202.8 333.9,202.8Z"/>
<path fill="#802f95" d="M328.2,199.8 328.1,197.0 327.7,193.8 326.9,190.6 325.8,187.5 324.5,184.5 322.6,181.1 320.5,177.9 317.9,174.5 315.1,171.2 312.1,168.2 308.6,165.1 305.0,162.2 301.0,159.2 297.0,156.5 292.8,154.1 288.4,151.7 284.6,149.9 280.9,148.3 276.6,146.7 272.4,145.3 267.7,143.9 263.1,142.7 253.3,140.8 242.3,139.2 229.3,137.9 213.2,136.9 200.7,136.6 190.7,136.9 181.6,137.6 173.1,138.9 165.4,140.6 158.0,142.9 154.3,144.3 150.5,145.9 146.8,147.7 143.7,149.4 137.5,153.1 134.0,155.6 130.9,158.0 127.8,160.6 124.8,163.4 121.9,166.4 119.4,169.2 117.1,172.1 114.9,175.2 113.0,178.4 111.4,181.3 110.1,184.3 108.9,187.4 108.0,190.6 107.3,193.8 106.9,197.0 106.8,199.8 106.8,202.8 328.2,202.8Z"/>
<path fill="#7d2e97" d="M322.3,199.8 322.3,197.1 321.9,194.0 321.1,190.9 320.1,187.8 318.8,184.9 317.0,181.6 314.9,178.5 312.4,175.2 309.6,172.0 306.7,169.1 303.3,166.0 299.8,163.2 295.9,160.3 292.0,157.7 288.0,155.3 283.7,153.1 276.4,149.7 272.2,148.1 268.1,146.7 263.5,145.4 259.1,144.2 249.6,142.3 238.4,140.6 225.8,139.3 210.5,138.3 198.2,138.0 189.0,138.2 180.2,138.9 171.9,140.2 164.4,141.8 157.2,144.0 153.6,145.4 150.0,146.9 143.3,150.3 139.7,152.4 136.7,154.3 133.4,156.7 130.3,159.1 127.3,161.6 124.4,164.4 121.6,167.3 119.2,170.0 117.0,172.9 114.9,175.9 113.0,179.0 111.5,181.8 110.2,184.8 109.1,187.8 108.2,190.8 107.6,193.9 107.2,197.1 107.0,199.8 107.0,202.8 322.3,202.8Z"/>
<path fill="#7b2e99" d="M316.5,199.8 316.4,196.7 316.0,193.7 315.2,190.7 314.1,187.8 312.8,184.9 311.0,181.8 309.0,178.7 306.8,175.9 304.1,172.8 301.3,169.9 298.0,167.0 294.6,164.2 290.8,161.5 287.0,158.9 283.1,156.6 278.9,154.4 275.3,152.7 271.2,150.9 267.2,149.4 263.3,148.0 254.6,145.6 245.4,143.6 234.6,142.0 221.8,140.6 207.3,139.6 195.8,139.3 186.7,139.5 178.1,140.3 170.0,141.5 162.7,143.2 155.8,145.4 152.3,146.7 148.7,148.2 142.3,151.5 135.9,155.5 132.7,157.8 129.7,160.2 126.8,162.7 124.0,165.3 121.3,168.2 119.0,170.8 116.9,173.6 114.9,176.5 113.0,179.6 111.6,182.3 110.3,185.2 109.3,188.1 108.4,191.1 107.8,194.1 107.4,197.2 107.3,199.8 107.3,202.8 316.5,202.8Z"/>
<path fill="#782e9b" d="M310.6,199.8 310.5,196.8 310.1,193.9 309.4,191.0 308.4,188.1 307.1,185.3 305.4,182.3 303.4,179.3 301.2,176.6 298.6,173.6 295.8,170.8 292.6,167.9 289.3,165.3 285.7,162.6 282.0,160.1 278.1,157.9 274.1,155.7 270.7,154.0 266.7,152.3 259.0,149.5 250.6,147.1 241.2,145.0 230.3,143.3 217.9,141.9 204.6,141.0 193.3,140.6 184.5,140.9 176.0,141.6 168.2,142.9 161.1,144.5 154.3,146.7 150.9,148.0 147.5,149.5 141.2,152.8 135.1,156.6 131.9,159.0 129.1,161.2 126.3,163.7 123.6,166.3 121.0,169.0 118.8,171.6 116.7,174.4 114.8,177.2 113.0,180.2 111.6,182.8 110.4,185.6 109.4,188.4 108.6,191.3 107.9,194.3 107.6,197.2 107.4,199.8 107.4,202.8 310.6,202.8Z"/>
<path fill="#762d9d" d="M304.8,199.8 304.7,196.9 304.3,194.0 303.6,191.2 302.6,188.4 301.4,185.8 299.7,182.8 297.8,179.9 295.7,177.2 293.1,174.4 290.4,171.7 287.3,168.9 284.1,166.3 280.5,163.7 276.9,161.3 273.2,159.1 269.3,157.0 262.2,153.7 258.4,152.2 254.2,150.8 246.0,148.4 237.0,146.4 226.5,144.7 214.1,143.2 201.4,142.3 190.8,142.0 182.2,142.2 174.4,142.9 166.8,144.1 159.9,145.7 153.4,147.8 146.7,150.5 140.7,153.7 134.8,157.4 131.8,159.6 128.7,162.0 126.0,164.4 123.4,166.9 120.9,169.6 118.8,172.1 116.7,174.7 114.9,177.5 113.1,180.4 111.8,183.0 110.4,186.0 109.5,188.8 108.7,191.6 108.1,194.4 107.7,197.3 107.6,199.8 107.6,202.8 304.8,202.8Z"/>
<path fill="#742d9f" d="M298.9,199.8 298.9,197.0 298.5,194.2 297.8,191.5 296.8,188.8 295.6,186.2 294.0,183.3 292.2,180.5 290.1,177.9 287.6,175.1 285.0,172.5 282.0,169.8 278.9,167.3 275.4,164.8 271.9,162.5 268.3,160.3 264.6,158.3 257.6,155.1 249.9,152.2 241.6,149.7 232.4,147.7 221.8,145.9 210.2,144.5 198.7,143.6 188.3,143.3 179.9,143.5 172.3,144.2 164.9,145.5 158.2,147.1 151.8,149.1 145.4,151.8 139.6,154.9 133.8,158.6 131.0,160.7 128.0,163.1 125.4,165.4 122.9,167.9 120.5,170.5 118.4,172.9 116.5,175.5 114.7,178.2 113.0,180.9 111.7,183.5 110.4,186.4 109.5,189.1 108.7,191.8 108.2,194.6 107.8,197.4 107.7,199.8 107.7,202.8 298.9,202.8Z"/>
<path fill="#712ca1" d="M293.1,199.8 293.1,197.1 292.7,194.4 292.1,191.7 291.1,189.1 290.0,186.6 288.4,183.8 286.6,181.1 284.6,178.6 282.2,175.9 279.7,173.3 276.7,170.7 273.7,168.3 270.3,165.8 267.0,163.6 263.5,161.5 259.8,159.6 252.6,156.2 245.2,153.4 237.2,151.0 228.4,149.0 218.1,147.2 206.8,145.8 195.5,144.9 185.8,144.6 178.0,144.8 170.7,145.5 163.4,146.7 156.9,148.2 150.8,150.2 144.6,152.8 138.9,155.8 133.4,159.4 127.8,163.6 122.9,168.2 118.5,173.1 116.4,175.9 114.7,178.5 113.1,181.2 111.8,183.6 110.5,186.5 109.6,189.1 108.8,191.7 108.3,194.4 107.9,197.1 107.8,199.8 107.8,202.8 293.1,202.8Z"/>
<path fill="#6f2ca3" d="M287.4,199.8 287.4,197.5 287.1,194.9 286.5,192.3 285.6,189.8 284.5,187.3 283.0,184.6 281.3,182.0 279.4,179.5 277.1,176.9 274.6,174.4 271.8,171.9 268.9,169.5 265.6,167.1 262.3,164.9 258.7,162.7 255.1,160.8 248.2,157.5 241.0,154.8 232.8,152.3 224.3,150.3 214.0,148.5 203.0,147.0 192.8,146.2 183.2,145.9 175.7,146.1 168.5,146.8 161.5,148.0 155.2,149.5 149.2,151.5 143.2,154.1 137.8,157.0 132.4,160.5 127.1,164.7 122.3,169.2 118.1,173.9 116.1,176.6 114.4,179.1 112.9,181.7 111.7,184.1 110.5,186.9 109.6,189.4 108.8,191.9 108.3,194.5 107.9,197.2 107.8,199.8 107.8,202.8 287.4,202.8Z"/>
<path fill="#6c2ca5" d="M281.7,199.8 281.7,197.3 281.4,195.1 280.9,192.6 280.0,190.1 279.0,187.7 277.5,185.1 275.9,182.6 274.0,180.2 271.8,177.6 269.4,175.2 266.9,173.0 264.1,170.7 260.9,168.3 257.8,166.2 254.4,164.2 251.0,162.3 244.3,159.0 236.8,156.2 229.0,153.7 220.8,151.7 211.1,149.9 200.4,148.4 190.4,147.5 181.1,147.1 173.8,147.3 166.8,148.0 160.0,149.1 153.9,150.7 148.1,152.6 142.3,155.1 137.0,157.9 131.9,161.3 126.8,165.2 121.9,169.8 117.9,174.4 115.9,177.0 114.3,179.4 112.8,182.0 111.5,184.6 110.3,187.3 109.5,189.7 108.8,192.2 108.2,194.7 107.9,197.2 107.8,199.8 107.8,202.8 281.7,202.8Z"/>
<path fill="#6a2ba7" d="M276.2,199.8 276.1,197.3 275.9,195.2 275.3,192.8 274.5,190.4 273.5,188.1 272.1,185.6 270.5,183.1 268.7,180.8 266.5,178.3 264.2,176.0 261.8,173.8 259.1,171.6 256.0,169.3 253.0,167.3 246.4,163.5 239.4,160.1 232.3,157.3 224.8,154.9 216.5,152.8 206.8,151.0 196.8,149.5 187.4,148.7 178.7,148.4 171.9,148.6 165.1,149.2 158.5,150.3 152.6,151.8 147.0,153.6 141.4,156.0 135.8,159.1 130.8,162.4 126.0,166.2 121.3,170.7 117.4,175.2 115.5,177.7 114.0,180.1 112.6,182.5 111.3,185.1 110.2,187.7 109.3,190.0 108.7,192.4 108.2,194.9 107.9,197.3 107.7,199.8 107.7,202.8 276.2,202.8Z"/>
<path fill="#682ba9" d="M270.7,199.8 270.7,197.4 270.4,195.4 269.9,193.0 269.1,190.7 268.1,188.5 267.0,186.3 265.4,183.9 263.7,181.7 261.6,179.3 259.4,177.0 257.1,174.9 254.4,172.7 251.5,170.5 248.5,168.5 245.1,166.4 241.9,164.6 235.2,161.3 228.3,158.6 220.6,156.1 212.6,154.1 203.3,152.2 193.5,150.7 184.3,149.9 176.2,149.6 169.6,149.8 163.0,150.4 156.6,151.5 150.8,153.0 145.4,154.8 140.0,157.2 135.1,159.9 130.2,163.1 125.4,167.0 120.9,171.3 117.1,175.7 113.8,180.4 112.4,182.8 111.2,185.2 110.1,187.7 109.3,190.0 108.6,192.7 108.1,195.0 107.8,197.4 107.6,199.8 107.6,202.8 270.7,202.8Z"/>
<path fill="#652aab" d="M265.3,199.8 265.3,197.5 265.1,195.5 264.6,193.2 263.8,191.0 262.9,188.8 261.7,186.7 260.3,184.4 258.6,182.2 256.6,179.9 254.4,177.7 249.6,173.6 243.9,169.5 237.5,165.7 231.0,162.5 224.0,159.7 216.6,157.3 208.5,155.2 199.5,153.3 190.3,151.9 181.7,151.1 173.8,150.8 167.3,151.0 160.9,151.6 155.1,152.6 149.5,154.1 144.3,155.9 139.0,158.2 133.8,161.0 129.2,164.2 124.5,168.0 120.2,172.2 116.6,176.4 113.4,181.0 110.9,185.7 109.1,190.3 108.4,192.9 107.9,195.2 107.7,197.5 107.5,199.8 107.5,202.8 265.3,202.8Z"/>
<path fill="#632aad" d="M260.1,199.8 260.1,197.6 259.9,195.7 259.4,193.5 258.7,191.3 257.7,189.2 256.6,187.2 255.2,184.9 253.6,182.8 251.9,180.8 249.8,178.7 247.4,176.4 244.9,174.4 239.4,170.4 233.2,166.8 226.6,163.5 219.8,160.8 212.3,158.3 204.6,156.2 195.8,154.4 187.2,153.0 179.2,152.2 171.4,152.0 165.1,152.2 159.2,152.8 153.2,153.8 147.8,155.2 142.7,157.0 137.6,159.3 132.6,162.1 128.2,165.2 123.6,168.9 119.7,172.8 116.1,177.1 113.0,181.6 110.6,186.1 108.9,190.6 108.2,193.1 107.8,195.3 107.5,197.6 107.4,199.8 107.4,202.8 260.1,202.8Z"/>
<path fill="#5e29b1" d="M255.0,199.8 255.0,197.6 254.8,195.8 254.3,193.7 253.6,191.6 252.7,189.5 251.7,187.6 250.3,185.4 248.7,183.4 247.0,181.4 245.0,179.3 242.7,177.2 240.3,175.2 235.0,171.4 229.0,167.8 222.6,164.6 216.1,161.9 208.9,159.5 201.0,157.3 192.6,155.5 184.2,154.2 176.3,153.4 169.1,153.1 162.9,153.3 157.2,153.9 151.7,154.9 146.5,156.3 141.6,158.0 136.7,160.2 131.8,162.9 127.5,165.9 123.2,169.4 119.2,173.4 115.7,177.6 112.8,181.9 110.5,186.3 109.5,188.6 108.7,190.9 108.0,193.3 107.6,195.5 107.2,199.8 107.2,202.8 255.0,202.8Z"/>
<path fill="#5b29b3" d="M250.0,199.8 250.0,197.7 249.8,195.9 249.4,193.9 248.7,191.8 247.9,189.9 246.9,188.0 245.5,185.9 244.0,183.9 240.4,180.0 235.9,176.0 230.7,172.3 225.0,168.8 218.8,165.7 212.1,162.9 204.8,160.4 197.3,158.3 189.4,156.6 181.3,155.2 173.9,154.5 166.8,154.2 160.8,154.4 155.2,155.0 149.9,156.0 144.8,157.4 140.1,159.1 135.3,161.3 130.7,164.0 126.5,166.9 122.4,170.3 118.5,174.2 115.2,178.3 112.4,182.5 110.2,186.7 108.5,191.2 107.4,195.6 107.1,199.8 107.1,202.8 250.0,202.8Z"/>
<path fill="#5928b5" d="M245.2,199.8 245.2,197.8 245.1,196.0 244.6,194.0 244.0,192.1 243.2,190.2 242.2,188.3 240.9,186.3 239.4,184.4 236.0,180.6 231.6,176.8 226.6,173.1 221.0,169.8 215.1,166.8 208.3,163.9 201.3,161.4 194.0,159.3 186.3,157.6 178.7,156.3 171.5,155.6 164.6,155.3 159.1,155.5 153.7,156.1 148.5,157.0 143.6,158.4 139.0,160.0 134.4,162.1 129.9,164.7 125.9,167.5 121.7,171.0 118.0,174.8 114.8,178.7 112.0,183.0 109.9,187.1 108.2,191.5 107.3,195.7 106.9,199.8 106.9,202.8 245.2,202.8Z"/>
<path fill="#5728b7" d="M240.6,199.8 240.6,197.8 240.4,196.2 240.0,194.2 239.4,192.3 238.6,190.5 237.7,188.7 236.4,186.7 235.0,184.9 231.7,181.2 227.4,177.5 222.6,174.0 217.2,170.7 211.5,167.8 205.0,164.9 198.2,162.5 190.8,160.3 183.4,158.6 176.2,157.4 169.2,156.6 162.8,156.4 157.1,156.6 151.8,157.1 146.8,158.1 142.0,159.4 137.5,161.1 133.1,163.1 128.8,165.7 124.9,168.5 120.9,171.9 117.4,175.5 114.3,179.3 111.7,183.3 109.7,187.3 108.1,191.5 107.1,195.6 106.7,199.8 106.7,202.8 240.6,202.8Z"/>
<path fill="#5428b9" d="M236.2,199.8 236.2,197.9 236.0,196.3 235.6,194.4 235.0,192.6 234.3,190.8 233.3,189.1 232.1,187.2 230.8,185.3 227.6,181.8 223.4,178.2 218.8,174.8 213.6,171.6 207.7,168.5 201.4,165.8 194.9,163.4 187.8,161.3 180.5,159.6 173.6,158.4 167.0,157.6 160.7,157.4 155.5,157.6 150.4,158.1 145.5,159.1 140.9,160.3 136.5,161.9 132.3,163.9 128.0,166.4 124.3,169.1 120.5,172.3 116.9,176.0 114.0,179.7 111.3,183.8 109.4,187.7 107.9,191.8 106.9,195.7 106.6,199.8 106.6,202.8 236.2,202.8Z"/>
<path fill="#5227bb" d="M231.9,199.8 231.9,198.0 231.7,196.4 231.4,194.6 230.8,192.8 229.2,189.4 228.0,187.6 226.7,185.8 223.6,182.4 219.6,178.8 214.9,175.4 209.8,172.3 204.1,169.3 197.8,166.5 191.2,164.1 184.6,162.1 177.8,160.5 171.0,159.3 164.9,158.6 158.8,158.4 153.7,158.6 148.7,159.1 143.9,160.1 139.4,161.3 135.2,162.9 131.1,164.9 127.0,167.3 123.4,170.0 119.8,173.1 116.5,176.5 113.6,180.1 111.1,184.1 109.1,188.0 107.6,192.0 106.8,195.9 106.4,199.8 106.4,202.8 231.9,202.8Z"/>
<path fill="#5027bd" d="M227.8,199.8 227.8,198.0 227.7,196.5 227.3,194.7 226.8,193.0 225.2,189.7 222.8,186.2 219.8,182.9 216.0,179.5 211.5,176.1 206.5,173.1 201.0,170.2 194.9,167.5 188.5,165.1 181.8,163.0 175.2,161.4 168.9,160.3 162.9,159.6 156.9,159.4 152.0,159.6 147.4,160.1 142.8,161.0 138.4,162.2 134.4,163.7 130.3,165.6 126.4,168.0 122.9,170.5 119.3,173.7 116.1,177.0 113.2,180.7 110.8,184.5 108.8,188.4 107.5,192.2 106.6,196.0 106.3,199.8 106.3,202.8 227.8,202.8Z"/>
<path fill="#4d26bf" d="M223.9,199.8 224.0,198.1 223.8,196.6 223.5,194.9 223.0,193.2 221.5,190.0 219.2,186.6 216.3,183.4 212.6,180.1 208.2,176.8 203.4,173.8 198.1,171.0 192.1,168.3 185.9,166.0 179.4,164.0 173.1,162.4 166.9,161.2 161.0,160.6 155.2,160.3 150.3,160.5 145.9,161.0 141.4,161.9 137.2,163.1 133.2,164.6 129.3,166.5 125.5,168.9 122.1,171.3 118.6,174.4 115.6,177.7 112.8,181.3 110.5,185.0 108.6,188.8 107.3,192.5 106.5,196.1 106.2,199.8 106.2,202.8 223.9,202.8Z"/>
<path fill="#4c26be" d="M220.3,199.8 220.3,198.1 220.2,196.7 219.8,195.0 219.3,193.4 217.9,190.3 215.7,187.0 212.9,183.9 209.3,180.7 205.1,177.5 200.4,174.6 195.0,171.7 189.3,169.1 183.3,166.8 177.2,164.8 171.3,163.3 165.2,162.2 159.5,161.5 153.9,161.2 149.1,161.4 144.8,161.9 140.4,162.8 136.3,163.9 132.5,165.4 128.7,167.2 125.0,169.5 121.7,171.9 118.4,174.9 115.3,178.1 112.6,181.6 110.3,185.2 108.6,188.9 107.3,192.5 106.5,196.2 106.2,199.8 106.2,202.8 220.3,202.8Z"/>
<path fill="#4a26bc" d="M216.8,199.8 216.7,196.8 216.3,195.2 215.9,193.6 214.4,190.4 212.2,187.2 209.3,184.0 205.9,180.9 201.9,178.0 197.3,175.1 192.1,172.3 186.5,169.7 180.7,167.5 174.9,165.6 169.1,164.1 163.2,163.0 157.6,162.4 152.3,162.1 147.7,162.3 143.5,162.8 139.2,163.6 135.2,164.8 131.5,166.3 127.8,168.1 124.3,170.3 121.1,172.6 117.8,175.6 114.9,178.8 112.3,182.2 110.1,185.7 108.4,189.2 107.2,192.7 106.4,196.3 106.1,199.8 106.1,202.8 216.8,202.8Z"/>
<path fill="#4926ba" d="M213.3,199.8 213.2,196.9 212.5,193.8 211.0,190.7 209.0,187.6 206.2,184.5 202.9,181.5 199.1,178.6 194.6,175.8 189.5,173.0 184.2,170.5 178.5,168.3 172.6,166.4 166.9,164.9 161.4,163.9 155.9,163.2 150.8,163.0 146.3,163.2 142.2,163.7 138.3,164.5 134.4,165.6 130.5,167.1 127.0,168.9 123.5,171.1 120.5,173.4 117.3,176.3 114.6,179.2 112.1,182.5 110.0,185.9 108.4,189.3 107.1,192.9 106.4,196.4 106.1,199.8 106.1,202.8 213.3,202.8Z"/>
<path fill="#4826b8" d="M210.0,199.8 209.9,197.0 209.2,194.0 207.8,191.0 205.8,188.0 203.1,184.9 199.9,182.0 196.3,179.2 192.0,176.4 187.1,173.7 181.9,171.3 176.4,169.1 170.6,167.2 165.1,165.7 159.7,164.7 154.6,164.1 149.6,163.9 145.2,164.0 141.2,164.5 137.5,165.2 133.7,166.3 129.9,167.8 126.4,169.6 123.1,171.7 120.1,173.9 117.1,176.7 114.4,179.6 112.0,182.8 109.9,186.3 108.3,189.6 107.1,193.1 106.4,196.5 106.1,199.8 106.1,202.8 210.0,202.8Z"/>
<path fill="#4726b6" d="M206.7,199.8 206.6,196.9 205.9,194.0 204.5,191.0 202.6,188.2 200.0,185.2 196.9,182.4 193.2,179.6 189.2,176.9 184.4,174.3 179.1,171.8 173.8,169.7 168.4,167.9 163.0,166.5 158.0,165.5 153.1,164.9 148.2,164.7 143.9,164.9 140.0,165.4 136.4,166.1 132.7,167.2 129.0,168.6 125.6,170.4 122.4,172.4 119.6,174.6 116.6,177.3 114.0,180.2 111.7,183.3 109.8,186.5 108.3,189.7 107.1,193.1 106.4,196.4 106.1,199.8 106.1,202.8 206.7,202.8Z"/>
<path fill="#4626b4" d="M203.6,199.8 203.4,196.9 202.7,194.2 201.4,191.3 199.5,188.3 197.0,185.5 194.0,182.8 190.4,180.0 186.4,177.4 181.8,174.8 177.0,172.5 171.8,170.4 166.6,168.7 161.3,167.3 156.4,166.3 151.6,165.8 146.8,165.6 142.9,165.7 138.8,166.2 135.3,166.9 131.7,168.0 128.4,169.3 125.1,171.0 122.0,173.0 119.2,175.1 116.4,177.7 113.9,180.5 111.7,183.5 109.7,186.7 108.2,190.1 107.1,193.3 106.4,196.5 106.2,199.8 106.2,202.8 203.6,202.8Z"/>
<path fill="#4426b2" d="M200.5,199.8 200.4,197.0 199.7,194.3 198.5,191.6 196.6,188.7 194.2,185.9 191.3,183.3 187.8,180.5 184.0,178.0 179.6,175.5 174.6,173.1 169.6,171.1 164.7,169.4 159.8,168.1 155.1,167.2 150.3,166.6 145.7,166.4 141.9,166.5 138.2,166.9 134.8,167.6 131.3,168.6 128.1,169.9 124.9,171.4 121.9,173.4 118.9,175.6 116.2,178.1 113.6,181.0 111.4,184.0 109.5,187.1 108.1,190.4 107.0,193.5 106.4,196.6 106.2,199.8 106.2,202.8 200.5,202.8Z"/>
<path fill="#4226ae" d="M197.5,199.8 197.4,197.1 196.8,194.5 195.6,191.8 193.8,189.0 191.5,186.4 188.6,183.6 185.4,181.0 181.5,178.4 177.2,176.0 172.4,173.7 167.5,171.7 162.8,170.1 158.0,168.8 153.3,167.9 148.7,167.3 144.4,167.2 140.7,167.3 137.1,167.7 133.7,168.4 130.3,169.4 127.2,170.6 124.2,172.2 121.2,174.1 118.4,176.3 115.7,178.7 113.4,181.4 111.3,184.3 109.5,187.4 108.0,190.5 107.0,193.5 106.4,196.7 106.2,199.8 106.2,202.8 197.5,202.8Z"/>
<path fill="#4126ac" d="M194.6,199.8 194.5,197.2 193.8,194.5 192.7,191.9 191.0,189.2 188.8,186.6 186.0,184.0 182.8,181.4 179.0,178.9 174.9,176.5 170.4,174.3 165.7,172.4 161.1,170.8 156.4,169.5 151.8,168.6 147.3,168.1 143.1,167.9 139.5,168.1 136.0,168.5 132.7,169.2 129.4,170.2 126.4,171.4 123.5,172.9 120.6,174.8 117.9,176.9 115.3,179.3 113.0,182.0 111.0,184.7 109.3,187.7 108.0,190.8 107.0,193.7 106.4,196.8 106.2,199.8 106.2,202.8 194.6,202.8Z"/>
<path fill="#4026aa" d="M191.8,199.8 191.7,197.3 191.1,194.7 189.9,192.0 188.2,189.4 186.1,186.9 183.5,184.3 180.3,181.7 176.8,179.4 172.9,177.1 168.6,175.0 164.0,173.0 159.4,171.5 155.1,170.3 150.6,169.4 146.2,168.9 142.1,168.7 138.6,168.8 135.2,169.2 132.0,169.9 128.8,170.8 125.9,172.0 123.0,173.5 120.2,175.3 117.6,177.4 115.1,179.7 112.8,182.4 110.9,185.0 109.2,187.9 107.9,190.9 107.0,193.9 106.4,196.9 106.2,199.8 106.2,202.8 191.8,202.8Z"/>
<path fill="#3e26a8" d="M189.1,199.8 189.0,197.4 188.4,194.8 187.3,192.2 185.7,189.7 183.6,187.1 181.0,184.6 178.1,182.2 174.6,179.8 170.7,177.6 166.5,175.5 162.3,173.7 157.8,172.1 153.6,171.0 149.2,170.1 145.0,169.6 141.0,169.4 137.5,169.6 134.2,170.0 131.1,170.6 128.0,171.6 125.1,172.7 122.4,174.2 119.7,175.9 117.1,178.0 114.7,180.3 112.5,182.9 110.7,185.5 109.1,188.3 107.8,191.1 106.9,194.1 106.4,197.0 106.2,199.8 106.2,202.8 189.1,202.8Z"/>
<path fill="#3d26a6" d="M186.5,199.8 186.4,197.3 185.8,194.8 184.7,192.3 183.2,189.9 181.1,187.4 178.7,184.9 175.7,182.5 172.3,180.2 168.6,178.0 164.6,176.0 160.4,174.2 156.3,172.8 152.1,171.6 147.9,170.8 143.9,170.3 140.0,170.1 136.7,170.3 133.5,170.6 130.4,171.3 127.4,172.2 124.6,173.3 121.9,174.7 119.3,176.4 116.9,178.4 114.5,180.6 112.4,183.1 110.6,185.8 109.0,188.5 107.8,191.2 106.9,194.1 106.4,196.9 106.2,199.6 106.2,202.8 186.5,202.8Z"/>
<path fill="#3c26a4" d="M184.0,199.8 183.9,197.4 183.3,195.0 182.3,192.5 180.8,190.1 178.9,187.7 176.5,185.3 173.7,183.0 170.4,180.7 166.8,178.5 162.9,176.6 158.8,174.8 154.8,173.4 150.8,172.3 146.8,171.5 142.9,171.0 139.1,170.8 135.9,170.9 132.7,171.3 129.8,171.9 126.9,172.8 124.2,173.9 121.5,175.2 119.0,176.9 116.6,178.8 114.4,181.0 112.2,183.4 110.4,186.0 108.9,188.7 107.8,191.4 106.9,194.1 106.4,196.9 106.2,199.6 106.2,202.8 184.0,202.8Z"/>
<path fill="#38269e" d="M179.3,199.8 179.2,197.5 178.6,195.1 177.7,192.8 176.3,190.4 174.5,188.2 172.1,185.8 169.5,183.6 166.6,181.5 163.2,179.5 159.7,177.6 156.0,176.0 152.2,174.7 148.3,173.6 144.6,172.8 140.9,172.3 137.3,172.2 134.1,172.3 131.2,172.6 128.4,173.2 125.6,174.0 123.0,175.1 120.6,176.4 118.2,177.9 115.9,179.7 113.8,181.8 111.9,184.1 110.2,186.6 108.8,189.1 107.7,191.7 106.9,194.3 106.4,196.9 106.2,199.5 106.2,202.8 179.3,202.8Z"/>
<path fill="#36269a" d="M175.0,199.8 174.9,197.6 174.4,195.4 173.5,193.1 172.1,190.8 170.4,188.6 168.3,186.4 166.0,184.4 163.1,182.3 160.1,180.4 156.7,178.6 153.3,177.1 149.6,175.8 146.1,174.8 142.5,174.0 139.0,173.6 135.5,173.4 132.6,173.5 129.7,173.8 127.1,174.4 124.6,175.1 122.2,176.1 119.9,177.3 117.6,178.8 115.5,180.5 113.5,182.4 111.6,184.6 110.0,186.9 108.7,189.3 107.6,191.8 106.8,194.4 106.4,196.9 106.2,199.4 106.2,202.8 175.0,202.8Z"/>
<path fill="#342696" d="M171.0,199.8 170.9,197.6 170.4,195.5 169.6,193.3 168.3,191.1 166.7,188.9 164.8,186.9 162.4,184.9 159.9,183.0 157.0,181.2 153.9,179.5 150.5,178.0 147.2,176.8 143.9,175.9 140.4,175.1 137.2,174.7 133.9,174.6 131.1,174.7 128.4,175.0 125.9,175.5 123.6,176.2 121.3,177.1 119.1,178.3 116.9,179.7 114.9,181.3 113.0,183.1 111.3,185.2 109.8,187.4 108.5,189.7 107.5,192.1 106.8,194.5 106.3,196.9 106.2,199.3 106.2,202.8 171.0,202.8Z"/>
<path fill="#312692" d="M167.4,199.8 167.4,197.7 166.9,195.6 166.1,193.6 164.9,191.4 163.4,189.4 161.6,187.4 159.4,185.4 157.0,183.6 154.3,181.9 151.3,180.3 148.2,178.9 145.1,177.8 141.8,176.9 138.7,176.2 135.7,175.8 132.5,175.7 129.8,175.7 127.3,176.0 124.9,176.5 122.7,177.2 120.5,178.1 118.4,179.2 116.3,180.5 114.4,182.1 112.6,183.8 110.9,185.8 109.5,187.9 108.3,190.1 107.4,192.4 106.7,194.7 106.3,197.0 106.2,199.3 106.2,202.8 167.4,202.8Z"/>
<path fill="#2f268e" d="M164.2,199.8 164.1,197.7 163.7,195.7 163.0,193.8 161.9,191.7 160.5,189.8 158.7,187.9 156.6,185.9 154.4,184.2 151.8,182.6 149.1,181.1 146.2,179.8 143.3,178.7 140.2,177.8 137.2,177.2 134.3,176.8 131.3,176.7 128.7,176.7 126.2,177.0 123.9,177.5 121.8,178.1 119.8,179.0 117.7,180.0 115.8,181.3 114.0,182.8 112.3,184.4 110.8,186.3 109.4,188.3 108.2,190.4 107.3,192.6 106.6,194.8 106.3,197.0 106.1,199.2 106.1,202.8 164.2,202.8Z"/>
<path fill="#2c268a" d="M161.4,199.8 161.3,197.8 160.9,195.9 160.2,193.9 159.1,192.0 157.8,190.1 156.2,188.3 154.3,186.5 152.2,184.9 149.8,183.3 147.2,181.9 144.5,180.6 141.7,179.6 138.9,178.8 136.0,178.2 133.2,177.8 130.3,177.6 127.9,177.7 125.5,177.9 123.3,178.3 121.1,179.0 119.2,179.8 117.2,180.8 115.4,182.0 113.6,183.4 111.9,185.1 110.4,186.9 109.2,188.7 108.1,190.7 107.3,192.7 106.6,194.9 106.3,197.0 106.1,199.1 106.1,202.8 161.4,202.8Z"/>
<path fill="#2a2686" d="M158.9,199.8 158.8,197.9 158.4,196.0 157.7,194.1 156.8,192.3 155.5,190.4 153.9,188.6 152.1,186.9 150.1,185.3 147.9,183.9 145.3,182.5 142.8,181.3 140.1,180.3 137.4,179.6 134.7,179.0 132.0,178.6 129.2,178.5 126.8,178.5 124.6,178.8 122.5,179.2 120.4,179.8 118.5,180.6 116.7,181.6 114.9,182.7 113.2,184.1 111.6,185.7 110.2,187.4 109.0,189.2 108.0,191.1 107.2,193.1 106.6,195.1 106.2,197.1 106.1,199.1 106.1,202.8 158.9,202.8Z"/>
<path fill="#282682" d="M156.8,199.8 156.7,198.0 156.3,196.1 155.6,194.2 154.7,192.5 153.5,190.7 152.1,189.0 150.3,187.4 148.4,185.8 146.3,184.4 143.8,183.1 141.4,182.0 138.8,181.0 136.2,180.3 133.5,179.7 130.9,179.4 128.4,179.2 126.2,179.3 124.0,179.5 122.0,179.9 120.0,180.5 118.1,181.2 116.4,182.2 114.7,183.3 113.1,184.6 111.6,186.0 110.2,187.6 109.0,189.4 108.0,191.3 107.2,193.2 106.6,195.2 106.3,197.1 106.2,199.1 106.2,202.8 156.8,202.8Z"/>
<path fill="#242478" d="M155.0,199.8 154.9,198.1 154.6,196.3 153.9,194.4 153.0,192.7 151.9,191.0 150.5,189.4 148.8,187.8 147.0,186.3 144.9,185.0 142.7,183.7 140.3,182.6 137.8,181.7 135.3,181.0 132.7,180.4 130.2,180.1 127.8,179.9 125.6,180.0 123.5,180.2 121.6,180.6 119.7,181.1 117.7,181.9 116.0,182.8 114.4,183.9 112.9,185.1 111.4,186.5 110.1,188.1 108.9,189.8 108.0,191.6 107.2,193.5 106.7,195.3 106.3,197.2 106.2,199.1 106.2,202.8 155.0,202.8Z"/>
<path fill="#222270" d="M153.5,199.8 153.4,198.1 153.0,196.4 152.4,194.6 151.6,192.9 150.4,191.3 149.0,189.7 147.5,188.2 145.7,186.7 143.7,185.4 141.6,184.2 139.3,183.2 136.9,182.3 134.4,181.6 132.1,181.1 129.6,180.7 127.2,180.6 125.0,180.6 123.0,180.9 121.1,181.2 119.3,181.8 117.4,182.5 115.8,183.4 114.2,184.4 112.7,185.6 111.3,187.0 110.1,188.5 108.9,190.1 108.0,191.9 107.2,193.7 106.7,195.5 106.4,197.3 106.3,199.1 106.3,202.8 153.5,202.8Z"/>
<path fill="#1f1f68" d="M152.1,199.8 152.0,198.2 151.6,196.5 151.0,194.8 150.2,193.2 149.2,191.6 147.8,190.0 146.3,188.5 144.6,187.2 142.7,185.9 140.6,184.8 138.4,183.7 136.2,182.9 133.8,182.2 131.4,181.7 129.1,181.3 126.7,181.2 122.7,181.4 120.9,181.8 119.1,182.3 117.3,183.0 115.7,183.8 114.2,184.8 112.7,186.0 111.2,187.4 110.0,188.8 108.9,190.4 108.0,192.0 107.3,193.8 106.7,195.5 106.4,197.3 106.3,199.0 106.3,202.8 152.1,202.8Z"/>
<path fill="#1d1d60" d="M150.8,199.8 150.7,198.1 150.3,196.5 149.7,194.8 148.9,193.3 147.9,191.8 146.6,190.3 145.1,188.9 143.4,187.5 141.6,186.3 139.6,185.1 137.4,184.2 135.2,183.4 132.9,182.7 130.7,182.2 128.4,181.9 126.1,181.8 124.1,181.8 122.1,182.0 120.4,182.4 118.6,182.9 116.9,183.6 115.3,184.4 113.9,185.4 112.5,186.5 111.1,187.9 109.9,189.3 108.8,190.8 108.0,192.3 107.3,194.0 106.7,195.7 106.4,197.4 106.3,199.1 106.4,202.8 150.8,202.8Z"/>
<path fill="#1a1a58" d="M149.6,199.8 149.5,198.3 149.2,196.7 148.6,195.0 147.8,193.5 146.8,192.0 145.6,190.6 144.1,189.2 142.6,187.9 140.7,186.7 138.8,185.6 136.7,184.7 134.6,183.9 132.3,183.2 130.2,182.7 128.0,182.4 125.7,182.3 121.9,182.5 118.4,183.4 116.8,184.0 115.3,184.8 113.8,185.7 112.5,186.8 111.1,188.1 109.9,189.5 108.8,191.0 108.0,192.5 107.3,194.2 106.8,195.8 106.5,197.4 106.4,199.1 106.4,202.8 149.6,202.8Z"/>
<path fill="#181850" d="M148.5,199.8 148.4,198.3 148.1,196.7 147.5,195.2 146.8,193.7 145.8,192.3 144.6,190.8 143.1,189.5 141.6,188.2 139.9,187.1 137.9,186.0 135.9,185.1 133.9,184.3 131.7,183.7 129.6,183.2 127.4,182.9 125.3,182.8 121.5,183.0 118.2,183.8 116.6,184.5 115.1,185.2 113.6,186.2 112.3,187.3 110.9,188.5 109.8,189.9 108.8,191.3 107.9,192.8 107.3,194.3 106.8,195.9 106.5,197.5 106.4,199.1 106.4,202.8 148.5,202.8Z"/>
<path fill="#161648" d="M147.5,199.8 147.4,198.3 147.1,196.8 146.5,195.3 145.8,193.8 144.8,192.4 143.7,191.0 142.3,189.7 140.8,188.5 139.0,187.4 137.2,186.4 133.2,184.7 129.0,183.7 127.0,183.4 124.8,183.3 121.2,183.5 118.0,184.3 114.9,185.6 113.5,186.6 112.2,187.6 110.9,188.8 109.8,190.1 108.8,191.5 107.9,193.0 107.3,194.5 106.8,196.0 106.5,197.6 106.4,199.1 106.4,202.8 147.5,202.8Z"/>
<path fill="#12123c" d="M146.6,199.8 146.5,198.4 146.2,196.9 145.7,195.5 145.0,194.0 144.0,192.7 142.9,191.3 141.5,190.0 140.1,188.9 138.4,187.8 136.6,186.7 132.7,185.1 128.7,184.1 126.6,183.8 124.6,183.7 121.0,183.9 117.8,184.7 114.8,186.0 112.1,187.9 110.8,189.1 109.7,190.4 108.8,191.7 107.9,193.2 107.3,194.6 106.8,196.1 106.5,197.6 106.4,199.1 106.4,202.8 146.6,202.8Z"/>
<path fill="#101034" d="M145.8,199.8 145.7,198.4 145.4,196.9 144.9,195.5 144.2,194.2 143.3,192.8 142.2,191.6 140.9,190.3 139.4,189.1 137.7,188.0 136.0,187.1 132.2,185.5 128.2,184.5 124.2,184.1 120.8,184.3 117.6,185.1 114.7,186.3 112.1,188.2 110.8,189.4 109.7,190.6 108.8,191.9 107.9,193.3 107.3,194.7 106.8,196.2 106.5,197.7 106.4,199.1 106.5,202.8 145.8,202.8Z"/>
<path fill="#0d0d2c" d="M145.1,199.8 145.0,198.4 144.7,197.0 144.2,195.6 143.5,194.3 142.6,193.0 141.5,191.7 140.2,190.6 138.8,189.4 135.5,187.4 131.8,185.9 127.8,184.9 123.9,184.5 120.5,184.7 117.4,185.4 114.5,186.7 111.9,188.5 109.6,190.9 107.9,193.5 107.3,194.9 106.8,196.4 106.6,197.8 106.5,199.2 106.5,202.8 145.1,202.8Z"/>
<path fill="#0b0b24" d="M144.5,199.8 144.4,198.4 144.1,197.1 143.6,195.8 142.9,194.4 142.0,193.2 140.9,191.9 138.3,189.7 135.0,187.7 131.3,186.2 127.5,185.2 123.7,184.9 120.2,185.1 117.2,185.8 114.4,187.1 111.8,188.9 109.6,191.2 107.9,193.8 107.3,195.1 106.8,196.5 106.6,197.9 106.5,199.2 106.5,202.8 144.5,202.8Z"/>
<path fill="#08081c" d="M144.0,199.8 143.8,198.5 143.5,197.2 143.0,195.8 142.3,194.5 141.4,193.3 140.4,192.1 137.8,189.9 134.5,187.9 130.9,186.5 127.1,185.6 123.4,185.2 120.1,185.4 117.1,186.1 114.4,187.4 111.8,189.1 109.6,191.3 107.9,193.9 107.3,195.2 106.9,196.5 106.6,197.9 106.5,199.3 106.5,202.8 144.0,202.8Z"/>
<path fill="#060614" d="M143.5,199.8 143.4,198.5 143.1,197.2 142.6,195.9 141.9,194.7 141.0,193.4 140.0,192.3 137.4,190.1 134.2,188.2 130.7,186.8 127.0,185.9 123.2,185.5 120.0,185.7 117.1,186.4 114.4,187.6 111.8,189.4 109.6,191.5 107.9,194.0 107.3,195.3 106.9,196.7 106.6,197.9 106.5,199.3 106.6,202.8 143.5,202.8Z"/>
<path fill="#04040c" d="M143.1,199.8 143.0,198.6 142.7,197.3 142.2,196.0 141.5,194.8 140.6,193.6 139.6,192.4 137.0,190.3 133.8,188.4 130.4,187.1 126.8,186.2 123.1,185.8 119.9,186.0 117.1,186.7 114.4,187.9 111.8,189.6 109.6,191.7 108.0,194.1 107.4,195.4 106.9,196.7 106.7,198.0 106.6,199.3 106.6,202.8 143.1,202.8Z"/>
<path fill="#010104" d="M142.8,199.8 142.7,198.6 142.4,197.3 141.9,196.1 141.2,194.9 139.3,192.6 136.7,190.5 133.6,188.7 130.1,187.3 126.6,186.4 123.0,186.1 119.9,186.3 117.0,187.0 114.2,188.2 111.7,189.9 109.6,192.0 108.0,194.4 106.9,196.9 106.7,198.1 106.6,199.3 106.6,202.8 142.8,202.8Z"/>
<path fill="#000000" d="M142.5,199.8 142.4,198.6 142.1,197.4 141.7,196.2 141.0,195.1 139.1,192.8 136.5,190.7 133.4,188.9 130.0,187.6 126.4,186.7 122.9,186.4 119.8,186.6 117.0,187.2 114.3,188.4 111.8,190.0 109.7,192.1 108.0,194.4 107.0,196.9 106.7,198.2 106.6,199.3 106.7,202.8 142.5,202.8Z"/>
</g>
<circle cx="120.7" cy="199.8" r="14.6" fill="#000"/>
</g>
<g clip-path="url(#cb)"><g filter="url(#bl)">
<path fill="#fdfdf7" d="M746.4,439.6 746.3,435.5 745.9,431.4 745.2,427.3 744.3,423.2 743.2,419.2 741.9,415.1 740.3,411.2 738.0,406.0 736.0,402.1 733.1,397.1 730.8,393.4 727.5,388.5 724.8,385.0 721.1,380.4 717.2,375.9 713.2,371.6 710.0,368.4 705.6,364.3 701.2,360.4 696.5,356.6 691.8,353.0 687.0,349.5 677.2,343.0 666.1,336.3 652.7,328.9 638.4,321.7 625.1,315.5 611.7,309.8 597.0,304.2 582.9,299.2 567.7,294.4 551.7,289.8 536.5,285.9 519.2,282.0 502.7,278.7 484.3,275.4 464.2,272.4 443.3,269.7 422.6,267.4 402.8,265.7 385.0,264.5 367.7,263.9 351.0,263.6 336.4,263.8 322.7,264.4 308.3,265.4 294.9,266.7 281.0,268.6 268.4,270.7 255.4,273.4 244.0,276.2 232.3,279.6 220.3,283.4 208.3,287.9 198.1,292.2 188.0,296.9 177.8,302.2 167.0,308.4 157.5,314.4 148.2,320.8 140.3,326.9 132.6,333.5 125.3,340.4 118.4,347.7 112.8,354.4 109.4,359.0 106.9,362.5 102.4,369.7 98.4,377.2 95.0,385.0 92.1,392.9 90.9,396.9 89.4,402.3 87.7,410.5 86.2,420.2 85.4,429.9 85.2,439.6 85.2,442.6 746.4,442.6Z"/>
<path fill="#fcfcef" d="M743.3,439.6 743.1,435.5 742.7,431.4 742.1,427.4 741.2,423.3 740.1,419.3 738.7,415.3 737.2,411.3 734.8,406.1 732.9,402.3 730.0,397.3 727.7,393.6 724.4,388.8 721.8,385.3 718.1,380.7 714.3,376.2 710.2,371.9 702.8,364.7 698.3,360.8 693.8,357.0 689.1,353.4 684.4,349.9 674.7,343.4 663.7,336.7 650.4,329.3 637.4,322.7 623.0,315.9 609.6,310.3 595.0,304.6 581.0,299.6 565.8,294.8 549.9,290.2 534.7,286.3 518.8,282.7 502.3,279.4 484.0,276.2 465.1,273.3 445.5,270.8 424.8,268.5 405.2,266.8 386.3,265.5 367.9,264.7 351.3,264.5 336.9,264.7 323.3,265.2 309.0,266.1 295.8,267.4 282.0,269.2 269.5,271.2 256.6,273.8 245.2,276.5 233.6,279.6 221.7,283.4 209.7,287.8 199.6,291.9 193.5,294.6 187.4,297.5 177.3,302.7 167.7,308.2 158.3,314.1 149.1,320.5 140.1,327.4 132.5,334.0 125.3,340.9 118.5,348.2 113.0,354.8 109.6,359.4 107.2,362.9 102.7,370.1 98.8,377.6 95.4,385.3 92.5,393.1 91.3,397.1 89.9,402.5 88.1,410.7 86.6,420.3 85.8,429.9 85.5,439.6 85.5,442.6 743.3,442.6Z"/>
<path fill="#f9f9e3" d="M740.1,439.6 739.9,435.6 739.5,431.5 738.9,427.4 738.0,423.4 736.9,419.4 735.6,415.4 734.0,411.5 731.7,406.3 729.8,402.5 727.0,397.5 724.7,393.9 721.4,389.1 718.8,385.6 715.1,381.0 711.3,376.6 707.3,372.3 699.9,365.1 695.5,361.2 691.0,357.4 686.4,353.8 681.7,350.4 672.1,343.8 661.3,337.1 648.1,329.7 635.2,323.1 620.8,316.4 607.6,310.7 593.0,305.0 579.0,300.0 564.0,295.2 548.1,290.7 532.9,286.8 517.1,283.2 500.6,279.9 482.3,276.7 463.5,273.9 443.9,271.4 423.4,269.2 403.8,267.5 385.0,266.3 366.7,265.6 350.2,265.4 335.8,265.5 322.3,266.1 308.1,267.0 295.0,268.2 281.2,270.0 268.8,272.0 255.9,274.5 244.5,277.2 232.9,280.3 221.1,284.0 209.1,288.4 199.0,292.5 188.9,297.1 178.8,302.2 168.4,308.0 159.1,313.9 149.9,320.2 141.0,327.1 133.5,333.5 126.3,340.4 119.5,347.6 114.1,354.2 110.7,358.7 108.2,362.2 103.8,369.3 99.8,376.7 98.0,380.5 95.8,385.6 92.9,393.4 91.7,397.4 90.3,402.7 88.5,410.8 87.0,420.4 86.1,430.0 85.8,439.6 85.8,442.6 740.1,442.6Z"/>
<path fill="#f8f8db" d="M736.9,439.6 736.8,435.6 736.4,431.5 735.7,427.5 734.8,423.5 733.7,419.5 732.4,415.5 730.9,411.6 728.6,406.5 726.7,402.7 723.9,397.7 721.6,394.1 718.3,389.3 715.8,385.8 712.2,381.3 708.4,376.9 704.4,372.6 697.1,365.5 692.7,361.6 688.2,357.8 679.0,350.8 674.3,347.4 668.4,343.5 657.6,336.8 644.6,329.5 631.8,323.0 618.7,316.8 605.5,311.1 591.0,305.4 577.1,300.5 562.1,295.7 546.2,291.1 531.1,287.2 515.4,283.7 498.9,280.4 481.9,277.4 463.1,274.6 443.6,272.2 423.1,270.0 403.7,268.4 385.0,267.2 366.8,266.5 349.1,266.2 334.8,266.4 321.3,266.9 307.2,267.9 294.1,269.1 280.4,270.8 268.0,272.8 255.2,275.3 243.9,277.9 232.3,281.0 220.5,284.7 208.5,289.0 198.5,293.1 188.4,297.7 178.4,302.7 168.0,308.6 158.7,314.4 149.7,320.7 141.9,326.7 134.4,333.1 127.3,339.8 120.5,347.0 114.2,354.6 110.9,359.1 108.5,362.6 104.1,369.7 100.1,377.0 98.3,380.8 96.2,385.9 93.3,393.7 92.1,397.6 90.7,402.9 88.9,411.0 87.4,420.5 86.5,430.0 86.2,439.6 86.2,442.6 736.9,442.6Z"/>
<path fill="#f6f6d3" d="M733.7,439.6 733.6,435.6 733.2,431.6 732.6,427.5 731.7,423.6 730.6,419.6 729.3,415.7 727.8,411.8 725.5,406.7 723.6,402.9 720.8,398.0 718.5,394.3 715.3,389.6 712.8,386.1 709.2,381.6 705.4,377.2 701.5,373.0 697.4,368.8 693.2,364.9 688.8,361.0 684.4,357.3 675.2,350.3 670.5,347.0 664.7,343.1 658.7,339.4 652.8,335.9 641.1,329.3 628.4,322.8 614.6,316.4 601.6,310.8 587.2,305.2 573.4,300.4 558.6,295.6 544.4,291.6 529.3,287.7 513.6,284.2 497.2,280.9 480.3,278.0 461.5,275.2 442.0,272.8 422.8,270.8 403.5,269.2 384.9,268.1 366.9,267.3 349.4,267.1 335.2,267.3 320.4,267.8 306.3,268.7 293.3,269.9 279.7,271.6 267.3,273.6 254.5,276.0 243.2,278.6 231.6,281.7 219.9,285.4 208.0,289.6 197.9,293.7 187.9,298.2 177.9,303.3 168.8,308.4 159.6,314.2 150.5,320.4 142.8,326.3 138.5,329.9 134.3,333.6 127.3,340.3 120.6,347.5 114.4,355.1 111.1,359.6 108.8,363.0 104.4,370.1 101.7,374.9 99.9,378.6 96.6,386.2 93.7,393.9 92.5,397.9 91.1,403.1 89.3,411.1 87.7,420.6 86.8,430.1 86.5,439.6 86.5,442.6 733.7,442.6Z"/>
<path fill="#f4f4c7" d="M730.5,439.6 730.4,435.6 730.0,431.6 729.4,427.6 728.5,423.6 727.4,419.7 726.1,415.8 724.6,411.9 722.4,406.8 720.5,403.1 717.7,398.2 715.5,394.6 712.3,389.9 709.7,386.4 706.2,381.9 702.5,377.5 698.6,373.3 694.5,369.2 690.3,365.2 686.0,361.4 681.6,357.7 672.5,350.7 667.9,347.5 662.1,343.5 656.3,339.8 650.4,336.3 638.7,329.7 626.1,323.3 612.4,316.8 599.4,311.3 585.2,305.7 571.4,300.8 556.6,296.1 542.5,292.1 527.5,288.2 511.8,284.7 495.5,281.4 478.6,278.5 461.1,276.0 442.9,273.7 422.5,271.6 403.3,270.1 383.6,268.9 365.7,268.2 348.3,268.0 334.2,268.1 319.4,268.7 305.4,269.6 292.4,270.8 278.9,272.4 266.5,274.4 253.8,276.8 242.5,279.4 231.0,282.4 219.3,286.0 207.4,290.3 197.4,294.3 187.4,298.8 177.5,303.9 168.4,309.0 159.2,314.7 150.2,321.0 142.6,326.9 135.3,333.2 128.2,339.9 121.6,347.0 115.4,354.4 109.8,362.3 105.4,369.3 102.7,374.1 100.8,377.8 97.4,385.2 94.6,392.9 93.3,396.8 91.8,402.0 89.6,411.3 88.1,420.7 87.2,430.1 86.8,439.6 86.8,442.6 730.5,442.6Z"/>
<path fill="#f2f2bf" d="M727.4,439.6 727.2,435.6 726.8,431.7 726.2,427.7 725.3,423.7 724.3,419.8 723.0,415.9 721.5,412.1 719.3,407.0 717.4,403.3 714.6,398.4 712.4,394.8 709.2,390.1 706.7,386.7 703.2,382.2 699.5,377.9 695.6,373.6 691.6,369.5 687.5,365.6 683.2,361.8 678.9,358.1 669.9,351.2 659.6,344.0 653.8,340.3 648.0,336.7 636.4,330.2 623.9,323.7 610.2,317.3 597.3,311.7 583.1,306.2 569.4,301.3 554.7,296.6 540.6,292.5 525.7,288.7 510.1,285.2 493.8,282.0 476.9,279.1 459.5,276.6 441.3,274.4 421.1,272.3 401.9,270.8 382.3,269.7 364.5,269.0 347.1,268.8 333.1,269.0 318.4,269.5 304.5,270.4 291.6,271.6 278.1,273.3 265.8,275.2 253.1,277.6 241.9,280.1 230.4,283.1 220.6,286.1 208.8,290.2 198.9,294.1 188.9,298.5 179.0,303.4 169.2,308.9 160.0,314.5 151.1,320.7 143.5,326.5 139.3,330.0 135.2,333.7 128.2,340.4 121.7,347.4 115.6,354.9 110.0,362.7 105.7,369.7 103.0,374.5 101.2,378.1 97.8,385.6 95.0,393.2 92.2,402.2 90.0,411.5 88.5,420.8 87.5,430.2 87.1,439.6 87.1,442.6 727.4,442.6Z"/>
<path fill="#f0f0b3" d="M724.2,439.6 724.1,435.7 723.7,431.7 723.0,427.7 722.2,423.8 721.1,419.9 719.8,416.0 718.4,412.2 716.1,407.2 714.3,403.5 711.6,398.6 709.4,395.1 706.2,390.4 703.7,387.0 700.2,382.5 696.6,378.2 692.7,374.0 688.8,369.9 684.7,366.0 680.4,362.2 676.1,358.5 667.2,351.6 657.0,344.4 651.3,340.7 645.5,337.2 634.0,330.6 621.6,324.2 608.0,317.8 595.2,312.2 581.0,306.7 567.4,301.8 552.8,297.1 538.7,293.1 523.9,289.2 508.3,285.7 493.4,282.8 476.5,279.9 459.1,277.3 441.0,275.1 421.9,273.3 402.9,271.7 383.5,270.6 364.6,269.9 347.4,269.7 332.1,269.8 317.4,270.4 303.6,271.3 290.7,272.4 277.3,274.1 265.0,276.0 252.4,278.3 241.2,280.8 229.8,283.8 218.1,287.4 208.3,290.8 198.4,294.7 188.4,299.1 178.6,304.0 168.8,309.5 159.7,315.1 150.9,321.3 143.4,327.1 139.2,330.6 135.1,334.2 128.3,340.9 121.8,347.9 115.8,355.4 110.3,363.2 106.0,370.1 103.4,374.9 101.5,378.5 98.2,385.9 95.3,393.4 92.6,402.5 90.4,411.6 88.8,420.9 87.9,430.3 87.5,439.6 87.5,442.6 724.2,442.6Z"/>
<path fill="#eeeeab" d="M721.0,439.6 720.9,435.7 720.5,431.7 719.9,427.8 718.7,422.6 717.6,418.7 716.2,414.9 714.7,411.1 712.4,406.1 710.5,402.5 707.8,397.7 705.6,394.1 702.4,389.5 699.9,386.1 696.4,381.7 692.7,377.4 688.9,373.3 684.9,369.3 680.8,365.4 676.6,361.6 672.3,358.0 663.5,351.2 653.3,344.1 643.1,337.6 631.7,331.1 619.3,324.6 605.8,318.2 593.0,312.7 579.0,307.1 565.4,302.3 550.8,297.6 536.8,293.6 522.0,289.8 506.5,286.3 491.6,283.3 474.8,280.5 457.4,278.0 439.4,275.8 421.6,274.1 401.5,272.5 382.1,271.4 363.3,270.7 346.2,270.5 331.0,270.7 316.4,271.2 302.7,272.1 289.9,273.3 276.5,274.9 264.3,276.8 251.7,279.1 240.5,281.6 229.1,284.6 217.5,288.1 207.7,291.5 197.8,295.4 188.0,299.7 178.1,304.6 168.4,310.1 160.5,314.9 151.7,321.0 144.2,326.8 140.1,330.2 136.0,333.8 129.2,340.4 122.8,347.4 116.8,354.8 111.3,362.5 107.0,369.3 104.3,374.0 102.5,377.6 99.1,385.0 95.7,393.7 93.0,402.7 90.8,411.8 89.2,421.0 88.2,430.3 87.8,439.6 87.8,442.6 721.0,442.6Z"/>
<path fill="#ededa3" d="M717.8,439.6 717.7,435.7 717.3,431.8 716.7,427.9 715.5,422.7 714.4,418.8 713.1,415.0 711.6,411.3 709.3,406.3 707.5,402.7 704.7,397.9 702.5,394.4 699.4,389.8 696.9,386.4 693.4,382.0 689.8,377.8 686.0,373.6 682.1,369.6 678.0,365.7 669.6,358.4 660.8,351.6 650.8,344.5 640.6,338.0 629.3,331.5 617.0,325.1 603.6,318.7 590.9,313.2 576.8,307.7 563.4,302.8 548.8,298.1 534.9,294.1 520.2,290.3 504.7,286.8 489.9,283.9 473.1,281.1 457.0,278.8 439.0,276.6 421.3,274.9 401.3,273.3 382.0,272.2 363.4,271.6 346.4,271.3 331.3,271.5 316.9,272.0 303.3,272.8 289.0,274.1 275.7,275.7 263.5,277.5 251.0,279.9 239.9,282.3 228.5,285.3 216.9,288.8 207.2,292.2 197.3,296.0 187.5,300.4 177.7,305.2 168.1,310.6 160.2,315.5 151.5,321.6 144.1,327.3 137.0,333.5 130.2,340.0 123.8,346.9 117.8,354.2 112.3,361.8 107.3,369.7 102.8,378.0 99.4,385.3 96.1,394.0 93.3,402.9 91.2,411.9 89.6,421.1 88.5,430.4 88.1,439.6 88.1,442.6 717.8,442.6Z"/>
<path fill="#eaea97" d="M714.6,439.6 714.5,435.7 714.1,431.8 713.5,427.9 712.4,422.8 711.3,419.0 710.0,415.2 708.5,411.4 706.2,406.5 704.4,402.9 701.7,398.1 699.5,394.6 696.4,390.0 693.9,386.7 690.5,382.3 686.9,378.1 683.1,374.0 679.2,370.0 675.2,366.1 666.8,358.8 658.2,352.0 648.2,344.9 638.1,338.5 626.9,332.0 614.6,325.6 601.3,319.2 588.7,313.7 574.7,308.2 561.3,303.4 546.8,298.7 533.0,294.7 518.3,290.9 502.8,287.4 488.1,284.5 471.4,281.7 455.4,279.4 437.4,277.3 419.8,275.6 399.8,274.1 380.7,273.0 362.1,272.4 345.3,272.2 330.3,272.3 315.9,272.9 302.4,273.7 289.8,274.8 276.6,276.3 264.5,278.1 252.1,280.3 241.1,282.6 229.8,285.5 218.3,288.9 208.6,292.1 198.8,295.9 189.0,300.1 179.3,304.8 169.6,310.1 161.1,315.4 152.4,321.4 145.0,327.0 140.9,330.5 136.9,334.0 130.2,340.5 123.9,347.4 117.9,354.6 112.5,362.2 107.5,370.1 103.1,378.4 99.8,385.6 96.5,394.3 93.7,403.1 91.5,412.1 89.9,421.2 88.9,430.4 88.5,439.6 88.5,442.6 714.6,442.6Z"/>
<path fill="#e9e98f" d="M711.5,439.6 711.3,435.8 711.0,431.9 710.4,428.0 709.2,422.9 708.1,419.1 706.8,415.3 705.4,411.6 703.1,406.7 701.3,403.1 698.6,398.3 696.5,394.8 693.4,390.3 691.0,387.0 687.6,382.6 684.0,378.4 680.2,374.3 676.4,370.3 672.4,366.5 664.1,359.2 655.5,352.4 645.7,345.4 635.6,338.9 624.5,332.5 612.3,326.1 599.0,319.7 586.5,314.2 572.6,308.7 559.2,303.9 544.8,299.2 531.0,295.2 516.4,291.5 501.0,288.0 486.3,285.1 469.7,282.3 453.7,280.1 435.8,278.0 418.3,276.3 398.4,274.8 379.4,273.8 360.9,273.2 344.1,273.0 329.2,273.2 314.9,273.7 301.4,274.5 287.3,275.8 274.1,277.3 262.0,279.1 249.6,281.4 238.6,283.8 227.3,286.7 215.8,290.2 206.1,293.5 196.4,297.3 186.6,301.7 177.0,306.5 169.3,310.7 160.8,316.0 152.2,322.0 144.9,327.6 140.8,331.0 136.9,334.6 130.2,341.0 124.0,347.9 118.1,355.1 112.7,362.7 107.8,370.6 103.5,378.7 100.2,385.9 96.8,394.5 94.1,403.3 91.9,412.3 90.3,421.3 89.2,430.5 88.8,439.6 88.8,442.6 711.5,442.6Z"/>
<path fill="#e7e787" d="M708.3,439.6 708.1,435.8 707.8,431.9 707.2,428.1 706.1,423.0 705.0,419.2 703.7,415.4 702.2,411.7 700.1,406.9 698.2,403.3 695.6,398.6 693.4,395.1 690.4,390.6 688.0,387.2 684.6,382.9 681.1,378.7 677.4,374.6 673.5,370.7 669.6,366.8 661.4,359.6 652.9,352.8 643.1,345.8 633.1,339.4 622.0,332.9 609.9,326.6 596.7,320.2 584.2,314.8 570.4,309.3 557.1,304.5 544.4,300.3 530.6,296.2 515.9,292.4 500.5,288.9 485.8,286.0 469.2,283.2 453.3,280.9 436.6,278.9 419.1,277.2 400.5,275.8 380.4,274.7 362.1,274.1 344.3,273.8 329.5,274.0 315.4,274.5 302.0,275.2 288.0,276.4 274.9,277.9 263.0,279.6 250.7,281.8 239.8,284.2 228.6,287.0 217.2,290.3 207.5,293.5 197.9,297.2 188.2,301.4 178.5,306.1 169.0,311.4 161.6,315.9 153.0,321.8 145.8,327.4 141.7,330.7 137.8,334.2 131.2,340.6 124.9,347.4 119.1,354.6 113.7,362.0 108.8,369.8 104.4,377.9 100.5,386.2 97.2,394.8 94.4,403.5 92.2,412.4 90.6,421.4 89.6,430.5 89.1,439.6 89.1,442.6 708.3,442.6Z"/>
<path fill="#e6e47c" d="M705.1,439.6 705.0,435.8 704.6,432.0 704.0,428.1 702.9,423.1 701.8,419.3 700.6,415.6 699.1,411.9 697.0,407.0 695.2,403.5 692.5,398.8 690.4,395.3 687.4,390.8 685.0,387.5 681.7,383.2 678.2,379.0 674.5,375.0 670.7,371.0 666.8,367.2 658.7,360.0 654.5,356.5 649.2,352.4 639.4,345.5 629.5,339.2 618.5,332.8 606.5,326.5 594.4,320.8 582.0,315.3 568.2,309.8 555.0,305.0 542.3,300.9 528.6,296.8 514.0,293.0 498.7,289.5 484.0,286.7 467.5,283.8 451.6,281.6 435.0,279.6 417.5,278.0 399.0,276.6 379.1,275.5 360.9,274.9 343.1,274.7 328.4,274.8 314.3,275.3 301.1,276.1 287.1,277.2 274.1,278.7 262.3,280.4 250.0,282.6 239.1,284.9 228.0,287.7 216.6,291.0 207.0,294.2 197.4,297.9 187.7,302.1 178.2,306.8 168.7,312.0 161.4,316.5 152.9,322.4 145.6,328.0 141.6,331.3 137.8,334.8 131.2,341.2 125.0,347.9 119.3,355.0 113.9,362.5 109.1,370.2 104.7,378.3 100.9,386.6 97.6,395.1 94.8,403.7 92.6,412.6 91.0,421.5 89.9,430.6 89.4,439.6 89.4,442.6 705.1,442.6Z"/>
<path fill="#e6e276" d="M701.9,439.6 701.8,435.8 701.4,432.0 700.8,428.2 699.7,423.2 698.7,419.4 697.4,415.7 696.0,412.0 693.9,407.2 692.1,403.7 689.5,399.0 687.4,395.6 684.4,391.1 682.1,387.8 678.8,383.5 675.3,379.3 671.7,375.3 667.9,371.4 664.0,367.6 656.0,360.4 651.8,356.9 646.5,352.8 636.8,345.9 627.0,339.6 616.0,333.3 604.1,327.0 592.1,321.3 579.7,315.9 566.0,310.4 552.9,305.6 540.2,301.5 526.6,297.5 512.0,293.7 496.8,290.2 482.2,287.3 465.7,284.5 449.9,282.3 433.4,280.3 416.0,278.7 397.6,277.3 377.7,276.3 359.6,275.7 341.9,275.5 327.3,275.6 313.3,276.1 300.1,276.9 286.2,278.1 273.3,279.5 261.5,281.2 249.3,283.4 238.4,285.7 227.4,288.4 216.0,291.7 206.5,294.9 196.9,298.6 187.3,302.8 177.8,307.4 168.4,312.7 161.1,317.2 152.7,323.0 145.5,328.6 141.6,331.9 137.7,335.4 131.2,341.7 125.1,348.5 119.4,355.5 114.2,362.9 109.4,370.7 105.0,378.6 101.2,386.9 97.9,395.3 95.2,404.0 93.0,412.7 91.3,421.6 90.2,430.6 89.8,439.6 89.8,442.6 701.9,442.6Z"/>
<path fill="#e6de6c" d="M698.7,439.6 698.6,435.8 698.2,432.0 697.7,428.3 696.6,423.3 695.5,419.5 694.3,415.8 692.9,412.2 690.8,407.4 689.0,403.9 686.5,399.2 684.4,395.8 681.5,391.3 675.8,383.8 672.4,379.6 668.8,375.6 665.1,371.7 661.2,367.9 653.2,360.7 649.1,357.3 643.9,353.3 634.3,346.4 624.5,340.1 613.6,333.8 602.8,328.1 589.7,321.9 577.4,316.4 563.8,311.0 550.7,306.2 538.1,302.1 524.5,298.1 510.1,294.3 494.9,290.9 480.4,288.0 465.2,285.4 449.4,283.1 432.9,281.2 415.6,279.5 397.3,278.2 377.5,277.1 359.6,276.5 342.0,276.3 327.5,276.4 312.3,276.9 299.1,277.7 285.3,278.9 272.5,280.3 260.7,282.0 248.5,284.2 237.8,286.5 226.7,289.2 215.5,292.5 206.0,295.7 196.5,299.3 186.9,303.4 179.4,307.1 170.0,312.2 162.0,317.1 153.6,322.9 146.5,328.3 142.5,331.6 138.7,335.1 132.2,341.4 126.1,348.0 120.4,355.0 115.1,362.3 110.3,370.0 105.9,377.9 102.1,386.0 98.7,394.4 97.0,399.2 95.5,404.2 93.3,412.9 91.7,421.7 90.6,430.7 90.1,439.6 90.1,442.6 698.7,442.6Z"/>
<path fill="#e6dc66" d="M695.5,439.6 695.4,435.9 695.0,432.1 694.5,428.3 693.4,423.4 692.4,419.6 691.2,416.0 689.8,412.3 687.7,407.6 686.0,404.1 683.4,399.4 681.4,396.0 678.5,391.6 672.9,384.1 669.5,380.0 666.0,375.9 662.3,372.1 658.5,368.3 650.5,361.1 646.4,357.7 641.2,353.7 631.7,346.8 621.9,340.6 611.1,334.3 600.3,328.6 587.4,322.4 575.1,317.0 561.6,311.6 548.6,306.9 534.5,302.3 521.0,298.3 506.7,294.6 493.0,291.5 478.5,288.7 463.5,286.1 447.7,283.9 431.3,281.9 414.1,280.3 395.8,278.9 376.2,277.9 358.3,277.3 340.8,277.1 326.4,277.2 311.3,277.8 298.2,278.5 284.4,279.7 271.6,281.1 259.9,282.8 247.8,285.0 237.1,287.2 226.1,290.0 215.0,293.2 205.5,296.4 196.0,300.0 186.6,304.1 179.0,307.8 169.7,312.9 161.8,317.8 153.4,323.5 146.4,329.0 138.7,335.7 132.3,341.9 126.2,348.5 120.6,355.5 115.4,362.8 110.6,370.4 108.0,374.8 105.7,379.4 101.9,387.5 98.6,395.9 95.9,404.4 93.7,413.1 92.0,421.8 90.9,430.7 90.4,439.6 90.4,442.6 695.5,442.6Z"/>
<path fill="#e6d95f" d="M692.3,439.6 692.2,435.9 691.8,432.1 691.3,428.4 690.2,423.4 689.2,419.8 688.0,416.1 686.7,412.5 684.6,407.8 682.9,404.2 680.4,399.7 678.4,396.3 675.5,391.8 670.0,384.4 666.7,380.3 663.1,376.3 659.5,372.4 655.7,368.6 647.8,361.5 643.7,358.1 638.6,354.1 629.1,347.3 619.4,341.1 608.6,334.8 597.9,329.2 585.0,323.0 572.8,317.6 559.3,312.2 546.4,307.5 532.4,302.9 518.9,299.0 504.7,295.3 491.1,292.2 476.7,289.4 461.7,286.8 446.0,284.6 429.7,282.7 412.5,281.0 394.3,279.7 374.8,278.7 357.0,278.1 339.7,277.9 325.3,278.1 310.2,278.6 297.2,279.3 283.5,280.5 270.8,281.9 259.2,283.6 247.1,285.7 236.5,288.0 225.5,290.7 214.4,294.0 205.0,297.1 195.6,300.7 186.2,304.9 178.7,308.5 169.5,313.6 161.6,318.4 153.3,324.1 146.3,329.6 139.6,335.4 133.2,341.6 129.7,345.3 126.3,349.1 120.8,356.0 115.6,363.3 110.9,370.8 108.3,375.2 106.0,379.8 102.2,387.8 99.0,396.1 96.2,404.6 94.0,413.2 92.3,422.0 91.2,430.8 90.7,439.6 90.7,442.6 692.3,442.6Z"/>
<path fill="#e6d656" d="M689.1,439.6 689.0,435.9 688.6,432.2 688.1,428.5 687.1,423.5 686.1,419.9 684.9,416.2 683.5,412.7 681.5,407.9 679.8,404.4 677.4,399.9 675.4,396.5 672.5,392.1 667.1,384.7 663.8,380.6 660.3,376.6 656.7,372.7 652.9,369.0 645.1,361.9 641.0,358.5 635.9,354.5 626.4,347.7 616.8,341.5 606.1,335.3 595.4,329.7 582.6,323.6 570.4,318.2 557.0,312.8 544.1,308.2 530.2,303.6 516.9,299.7 502.7,296.0 489.1,292.9 474.8,290.1 459.9,287.6 444.3,285.3 428.0,283.4 411.0,281.8 392.9,280.5 373.4,279.5 355.7,278.9 338.5,278.7 324.2,278.9 309.2,279.4 296.2,280.1 282.6,281.3 269.9,282.7 258.4,284.4 246.4,286.5 235.8,288.8 224.9,291.5 213.9,294.7 204.5,297.9 195.2,301.5 185.8,305.6 178.4,309.2 169.2,314.2 161.4,319.1 153.2,324.8 146.2,330.2 139.6,336.0 133.3,342.1 127.3,348.7 121.7,355.5 116.5,362.7 113.8,366.9 111.1,371.2 108.6,375.6 106.3,380.1 102.6,388.2 99.3,396.4 96.6,404.8 94.3,413.4 92.7,422.1 91.6,430.8 91.1,439.6 91.1,442.6 689.1,442.6Z"/>
<path fill="#e6d34f" d="M685.9,439.6 685.8,435.9 685.5,432.2 684.9,428.5 683.9,423.6 682.9,420.0 681.8,416.4 680.4,412.8 678.4,408.1 676.8,404.6 674.3,400.1 671.7,395.6 668.8,391.3 663.4,383.9 660.1,379.9 656.6,375.9 652.9,372.1 649.2,368.4 641.4,361.4 633.2,354.9 623.8,348.2 614.3,342.0 603.5,335.8 592.9,330.3 580.1,324.1 568.1,318.8 554.7,313.5 541.9,308.8 528.0,304.3 514.8,300.4 500.7,296.8 487.2,293.7 473.0,290.9 458.1,288.3 442.6,286.1 426.4,284.2 409.4,282.6 391.4,281.3 372.1,280.3 354.5,279.7 337.3,279.5 323.1,279.7 309.5,280.1 296.7,280.8 283.2,281.9 270.7,283.3 259.3,284.9 247.4,287.0 236.9,289.1 226.2,291.8 215.2,294.9 205.9,298.0 196.6,301.5 187.3,305.4 178.1,309.9 170.8,313.9 162.3,319.1 154.1,324.7 147.2,330.0 139.6,336.6 133.4,342.7 127.4,349.2 121.9,356.0 116.8,363.2 114.0,367.4 111.4,371.7 108.9,376.0 106.6,380.5 102.9,388.5 99.7,396.7 96.9,405.0 94.7,413.5 93.0,422.2 91.9,430.9 91.4,439.6 91.4,442.6 685.9,442.6Z"/>
<path fill="#e6d149" d="M682.7,439.6 682.6,436.0 682.2,432.3 681.7,428.6 680.7,423.7 679.8,420.1 678.6,416.5 677.3,413.0 675.4,408.3 673.7,404.8 671.3,400.3 668.7,395.9 665.9,391.5 660.5,384.2 657.2,380.2 653.8,376.3 650.1,372.5 646.4,368.8 638.7,361.8 630.6,355.3 621.2,348.6 611.7,342.5 601.0,336.4 590.4,330.8 577.7,324.7 565.7,319.5 552.4,314.1 539.6,309.5 525.9,305.0 512.7,301.1 498.6,297.5 485.2,294.4 471.1,291.6 456.3,289.1 440.8,286.9 424.7,285.0 407.8,283.4 389.9,282.1 370.7,281.1 353.2,280.5 336.1,280.3 321.9,280.5 308.5,280.9 295.7,281.6 282.3,282.7 269.8,284.1 258.5,285.7 246.7,287.8 236.2,289.9 225.5,292.5 214.6,295.7 205.4,298.7 196.2,302.2 187.0,306.2 177.8,310.6 170.5,314.6 162.1,319.8 154.0,325.4 147.1,330.7 139.6,337.2 133.4,343.3 127.6,349.8 122.1,356.6 117.0,363.6 111.7,372.1 109.2,376.4 106.9,380.9 103.2,388.8 100.0,396.9 97.2,405.2 95.0,413.7 93.3,422.3 92.2,430.9 91.8,435.9 91.7,439.6 91.7,442.6 682.7,442.6Z"/>
<path fill="#e6cd3f" d="M679.5,439.6 679.4,436.0 679.0,432.3 678.5,428.7 677.5,423.8 676.6,420.2 675.5,416.6 674.2,413.1 672.3,408.5 670.7,405.0 668.3,400.5 666.4,397.2 663.7,392.9 658.4,385.5 655.2,381.5 651.8,377.5 648.3,373.7 644.6,370.0 636.9,363.0 628.9,356.5 619.6,349.8 610.1,343.7 600.5,338.1 588.9,331.9 577.0,326.1 564.9,320.8 551.7,315.4 538.9,310.7 525.2,306.2 512.0,302.3 497.9,298.6 483.2,295.2 469.2,292.4 454.4,289.9 439.1,287.7 423.1,285.8 406.3,284.2 388.5,282.9 369.3,281.9 351.9,281.3 334.9,281.1 320.8,281.3 307.4,281.7 294.7,282.4 281.4,283.5 269.0,284.9 257.7,286.5 245.9,288.6 235.6,290.7 224.9,293.3 214.1,296.4 205.0,299.5 195.8,303.0 186.6,306.9 177.5,311.4 170.3,315.3 161.9,320.5 153.9,326.1 147.1,331.3 139.7,337.8 133.5,343.9 127.7,350.3 122.3,357.1 117.3,364.1 112.0,372.5 107.2,381.2 103.6,389.1 100.3,397.2 97.6,405.4 95.3,413.9 93.6,422.4 92.5,431.0 92.2,435.9 92.0,439.6 92.0,442.6 679.5,442.6Z"/>
<path fill="#e6cb39" d="M676.2,439.6 676.1,436.0 675.8,432.4 675.3,428.7 674.4,423.9 673.4,420.3 672.3,416.8 671.1,413.3 669.2,408.6 667.6,405.2 665.3,400.7 662.7,396.3 660.0,392.0 654.8,384.8 651.5,380.8 648.1,376.9 641.8,370.4 638.1,366.9 634.2,363.4 626.2,357.0 617.0,350.3 607.5,344.1 598.0,338.6 586.4,332.5 574.5,326.8 562.5,321.5 549.3,316.1 536.6,311.4 522.9,306.9 509.8,303.0 495.9,299.4 481.2,296.0 467.2,293.2 452.6,290.7 437.3,288.5 421.4,286.6 404.7,285.0 387.0,283.7 367.9,282.7 350.6,282.1 333.6,281.9 319.7,282.1 306.3,282.5 293.7,283.2 280.5,284.3 268.1,285.7 256.9,287.3 245.2,289.3 234.9,291.5 224.3,294.1 213.6,297.2 204.5,300.3 195.4,303.7 186.3,307.7 177.2,312.1 170.1,316.0 161.8,321.2 153.8,326.7 147.1,332.0 139.7,338.5 133.7,344.5 127.9,350.9 122.5,357.6 117.5,364.6 112.3,372.9 107.5,381.6 103.9,389.4 100.7,397.5 97.9,405.7 95.7,414.0 94.0,422.5 92.8,431.0 92.5,436.0 92.3,439.6 92.3,442.6 676.2,442.6Z"/>
<path fill="#e6c72f" d="M673.0,439.6 672.9,436.0 672.6,432.4 672.1,428.8 671.2,424.0 670.3,420.4 669.2,416.9 668.0,413.4 666.1,408.8 664.5,405.4 662.3,400.9 659.8,396.6 657.1,392.3 651.9,385.1 648.7,381.1 645.3,377.2 639.1,370.7 635.4,367.2 631.5,363.8 623.5,357.4 614.3,350.7 604.8,344.6 595.3,339.1 583.8,333.1 571.9,327.4 560.0,322.1 546.9,316.8 534.3,312.2 520.7,307.7 507.6,303.8 493.8,300.1 479.2,296.8 465.3,294.0 450.8,291.5 435.6,289.3 419.7,287.4 403.1,285.8 385.5,284.5 366.5,283.5 349.3,282.9 332.4,282.7 318.5,282.9 305.2,283.3 292.7,284.0 279.5,285.1 267.2,286.5 256.1,288.1 244.5,290.1 234.2,292.3 223.7,294.9 213.0,298.0 204.0,301.0 195.0,304.5 185.9,308.4 177.0,312.9 169.9,316.8 161.7,321.9 153.8,327.4 147.1,332.7 139.8,339.1 133.8,345.1 128.1,351.5 122.7,358.1 117.8,365.1 112.5,373.4 107.9,382.0 104.2,389.8 101.0,397.7 98.2,405.9 96.0,414.2 94.3,422.6 93.1,431.1 92.8,436.0 92.6,439.6 92.6,442.6 673.0,442.6Z"/>
<path fill="#e6c529" d="M669.8,439.6 669.7,436.0 669.4,432.4 668.9,428.9 668.0,424.1 667.1,420.6 665.7,415.9 664.4,412.4 662.5,407.9 661.0,404.5 658.7,400.1 656.8,396.8 654.1,392.6 649.0,385.3 645.9,381.4 642.5,377.5 636.3,371.1 632.6,367.6 628.8,364.2 620.9,357.8 616.8,354.8 611.6,351.2 602.2,345.2 592.7,339.7 581.2,333.7 569.4,328.0 557.5,322.8 544.5,317.5 531.9,312.9 518.4,308.4 505.4,304.6 491.6,300.9 477.2,297.6 463.4,294.8 448.9,292.3 433.8,290.1 418.1,288.2 401.5,286.6 384.0,285.3 365.1,284.3 348.0,283.7 331.2,283.5 317.4,283.6 304.1,284.1 291.7,284.8 278.6,285.9 266.4,287.3 255.2,288.9 243.7,290.9 233.6,293.1 223.1,295.7 212.5,298.8 203.6,301.8 194.6,305.3 185.6,309.2 178.5,312.7 169.7,317.5 162.6,322.0 154.7,327.4 148.0,332.6 140.8,338.9 134.7,344.9 128.2,352.0 122.9,358.7 118.0,365.6 112.8,373.8 108.2,382.4 104.5,390.1 100.9,399.1 98.2,407.3 96.0,415.5 94.4,423.9 93.3,432.4 93.0,439.6 93.0,442.6 669.8,442.6Z"/>
<path fill="#e6c322" d="M666.6,439.6 666.5,436.1 666.2,432.5 665.7,428.9 664.8,424.2 663.9,420.7 662.5,416.0 661.3,412.6 659.5,408.0 657.9,404.7 655.7,400.3 653.8,397.0 651.2,392.8 646.2,385.6 643.0,381.7 639.7,377.8 633.6,371.4 629.9,367.9 626.1,364.6 618.2,358.2 610.0,352.3 600.6,346.3 591.1,340.8 580.7,335.3 568.5,329.5 556.7,324.2 543.6,318.9 531.1,314.2 517.6,309.7 504.6,305.8 490.9,302.1 476.4,298.7 462.6,295.9 448.2,293.4 433.2,291.1 417.5,289.2 401.0,287.6 383.6,286.2 364.9,285.1 346.7,284.5 330.0,284.3 316.2,284.4 303.1,284.9 290.6,285.6 277.6,286.7 265.5,288.1 254.4,289.7 243.0,291.7 232.9,293.9 222.5,296.5 212.0,299.6 203.1,302.6 194.2,306.1 185.3,310.0 178.3,313.5 169.6,318.3 162.4,322.7 154.6,328.1 148.1,333.3 140.9,339.6 134.9,345.5 128.4,352.6 123.2,359.2 118.3,366.1 113.1,374.2 108.5,382.7 104.8,390.4 101.2,399.4 98.5,407.5 96.3,415.7 94.7,424.0 93.6,432.4 93.3,439.6 93.3,442.6 666.6,442.6Z"/>
<path fill="#e6bf19" d="M663.3,439.6 663.2,436.1 663.0,432.5 662.5,429.0 661.6,424.3 660.8,420.8 659.4,416.2 658.2,412.7 656.4,408.2 654.9,404.9 652.7,400.5 650.9,397.3 648.3,393.0 643.3,385.9 640.2,382.0 636.9,378.2 630.8,371.8 627.2,368.3 623.4,364.9 615.5,358.6 607.3,352.8 597.9,346.8 588.4,341.4 578.0,335.9 565.9,330.1 554.1,324.9 541.2,319.6 528.7,315.0 515.2,310.5 501.0,306.2 487.4,302.6 473.1,299.3 459.4,296.5 444.0,293.9 429.1,291.7 413.6,289.8 397.3,288.2 379.9,286.9 361.2,285.9 344.2,285.3 327.5,285.1 313.8,285.2 300.6,285.7 288.2,286.5 276.6,287.5 264.6,288.9 253.6,290.5 242.2,292.5 232.2,294.7 221.9,297.3 211.5,300.4 202.7,303.4 193.8,306.9 185.0,310.8 178.0,314.2 169.4,319.0 162.3,323.4 154.6,328.8 148.1,334.0 141.0,340.2 135.0,346.1 128.6,353.2 123.4,359.7 118.5,366.6 113.4,374.7 108.8,383.1 105.1,390.7 101.5,399.7 98.8,407.7 96.6,415.8 95.0,424.1 93.9,432.4 93.6,439.6 93.6,442.6 663.3,442.6Z"/>
<path fill="#e6bb18" d="M660.1,439.6 660.0,436.1 659.7,432.6 659.3,429.0 658.4,424.4 657.6,420.9 656.3,416.3 655.1,412.9 653.3,408.4 651.8,405.1 649.7,400.7 647.9,397.5 645.4,393.3 643.3,390.2 640.5,386.2 637.4,382.3 634.2,378.5 628.1,372.1 621.6,366.1 613.8,359.8 605.6,353.9 596.2,348.0 586.8,342.5 575.3,336.5 563.3,330.8 551.6,325.6 538.6,320.3 526.2,315.8 512.9,311.3 498.7,307.1 485.2,303.5 471.0,300.2 457.4,297.4 442.1,294.7 427.3,292.6 411.9,290.7 395.7,289.1 378.4,287.7 359.8,286.7 342.9,286.1 326.3,285.9 312.6,286.0 299.5,286.5 287.2,287.2 275.7,288.2 263.7,289.6 252.8,291.3 241.5,293.3 231.5,295.5 221.3,298.1 211.0,301.2 202.2,304.2 193.5,307.7 184.7,311.6 177.8,315.0 169.2,319.8 162.3,324.2 154.6,329.6 148.1,334.7 141.1,340.9 135.2,346.7 128.8,353.8 123.6,360.3 118.8,367.0 113.7,375.1 109.1,383.5 105.4,391.0 101.8,399.9 99.1,407.9 96.9,416.0 95.3,424.2 94.2,432.5 93.9,439.6 93.9,442.6 660.1,442.6Z"/>
<path fill="#e6b716" d="M656.8,439.6 656.7,436.1 656.5,432.6 656.0,429.1 655.2,424.5 654.4,421.0 653.1,416.4 652.0,413.0 650.2,408.6 648.8,405.3 646.7,400.9 644.9,397.7 642.4,393.5 639.7,389.5 636.9,385.5 634.6,382.6 631.4,378.8 625.4,372.4 618.9,366.5 615.0,363.3 611.0,360.2 602.9,354.4 594.5,349.1 585.1,343.7 574.7,338.2 562.3,332.3 550.6,327.0 537.7,321.7 525.3,317.1 511.9,312.6 497.7,308.3 484.3,304.7 470.1,301.4 456.6,298.6 441.3,295.9 426.6,293.6 410.2,291.6 394.1,289.9 376.9,288.6 358.4,287.5 341.5,286.9 325.0,286.6 312.7,286.8 299.7,287.2 287.5,287.9 276.1,288.9 264.3,290.2 253.5,291.8 242.3,293.8 232.5,295.9 222.4,298.5 212.2,301.5 203.5,304.4 194.9,307.8 186.2,311.6 177.6,315.8 169.1,320.6 162.2,325.0 154.6,330.3 148.2,335.4 141.2,341.6 135.4,347.4 129.1,354.4 123.9,360.8 119.1,367.5 114.0,375.5 109.4,383.9 105.7,391.4 102.1,400.2 99.4,408.1 97.2,416.1 95.6,424.3 94.5,432.5 94.2,439.6 94.2,442.6 656.8,442.6Z"/>
<path fill="#e6b114" d="M653.5,439.6 653.4,436.2 653.2,432.7 652.8,429.2 652.0,424.6 651.2,421.1 650.0,416.6 648.9,413.2 647.2,408.7 645.8,405.5 643.7,401.1 642.0,398.0 639.5,393.8 636.9,389.7 634.0,385.7 631.0,381.9 628.6,379.1 622.6,372.8 616.2,366.9 609.3,361.4 601.2,355.6 591.8,349.6 582.3,344.2 571.9,338.8 559.6,333.0 546.3,327.1 533.5,322.0 521.2,317.5 508.0,313.1 494.0,308.9 480.7,305.4 466.7,302.1 453.4,299.3 438.2,296.6 423.7,294.4 407.4,292.4 391.4,290.7 374.3,289.4 355.9,288.3 339.1,287.6 322.6,287.4 310.2,287.5 297.3,288.0 285.0,288.8 273.7,289.8 263.4,291.0 252.6,292.6 241.6,294.6 231.8,296.7 221.8,299.3 211.7,302.3 203.1,305.3 194.5,308.6 185.9,312.4 177.4,316.7 169.0,321.4 162.2,325.8 154.7,331.1 148.3,336.1 141.4,342.3 135.6,348.0 129.3,355.0 124.1,361.4 119.3,368.0 114.3,376.0 109.6,384.2 106.0,391.7 102.4,400.4 99.7,408.3 97.5,416.3 95.9,424.4 94.9,432.6 94.5,439.6 94.5,442.6 653.5,442.6Z"/>
<path fill="#e6ad12" d="M650.2,439.6 650.2,436.2 649.9,432.7 649.5,429.2 648.8,424.7 648.0,421.2 646.8,416.7 645.7,413.4 644.1,408.9 642.7,405.7 640.7,401.4 638.4,397.1 636.0,393.0 633.3,389.0 631.2,386.0 628.2,382.2 625.8,379.4 620.8,374.0 614.4,368.0 607.6,362.5 599.5,356.7 591.1,351.4 581.6,346.0 570.1,340.0 558.5,334.5 545.2,328.6 532.4,323.4 520.1,318.9 506.9,314.4 493.0,310.2 479.7,306.7 465.8,303.4 452.5,300.6 437.4,297.8 421.8,295.4 405.7,293.3 389.8,291.7 371.8,290.2 354.5,289.1 337.7,288.4 321.3,288.2 309.0,288.3 296.1,288.7 284.0,289.5 272.7,290.5 262.4,291.8 251.8,293.4 240.8,295.4 231.1,297.5 221.2,300.1 211.1,303.2 202.7,306.1 194.2,309.5 185.7,313.3 177.2,317.5 169.0,322.2 162.2,326.6 154.7,331.9 147.6,337.6 140.7,343.8 135.0,349.5 128.8,356.5 123.7,362.9 118.3,370.5 113.9,377.4 109.4,385.7 105.8,393.1 102.7,400.7 100.0,408.5 97.8,416.4 96.2,424.5 95.2,432.6 94.8,439.6 94.8,442.6 650.2,442.6Z"/>
<path fill="#e6a710" d="M646.9,439.6 646.9,436.2 646.7,432.7 646.3,429.3 645.5,424.7 644.8,421.3 643.6,416.8 642.6,413.5 641.0,409.1 639.7,405.8 637.7,401.6 635.5,397.4 633.1,393.3 630.5,389.2 628.4,386.3 625.4,382.5 623.1,379.7 618.0,374.3 611.7,368.4 604.9,362.9 596.7,357.2 588.3,351.9 579.9,347.1 569.4,341.7 557.5,336.0 544.1,330.0 531.2,324.9 519.0,320.3 505.8,315.9 491.9,311.6 478.7,308.0 464.8,304.7 450.4,301.6 435.4,298.8 420.0,296.4 403.9,294.3 387.1,292.5 369.2,290.9 350.9,289.8 334.1,289.1 318.9,288.9 306.6,289.1 295.0,289.5 282.9,290.2 271.7,291.3 261.5,292.5 250.9,294.1 240.0,296.2 230.4,298.3 220.6,300.9 210.6,304.0 202.2,307.0 193.8,310.3 185.4,314.1 177.1,318.4 168.9,323.1 162.2,327.4 154.8,332.7 147.7,338.4 140.9,344.5 135.2,350.2 129.1,357.1 124.0,363.4 118.6,371.0 114.2,377.9 109.7,386.0 106.1,393.4 103.0,401.0 100.3,408.7 98.1,416.6 96.5,424.6 95.5,432.7 95.2,439.6 95.2,442.6 646.9,442.6Z"/>
<path fill="#e6a30e" d="M643.6,439.6 643.4,432.8 643.0,429.4 642.3,424.8 641.6,421.5 640.5,417.0 639.5,413.7 637.9,409.3 636.6,406.0 634.7,401.8 633.1,398.6 630.8,394.5 628.3,390.5 626.3,387.5 623.4,383.7 621.1,380.9 616.2,375.5 613.5,372.9 609.9,369.6 603.1,364.1 596.0,359.0 587.7,353.7 579.2,348.8 568.6,343.4 556.4,337.5 542.9,331.5 530.1,326.3 517.9,321.7 504.7,317.3 490.8,313.0 477.6,309.4 462.6,305.7 448.3,302.6 433.5,299.9 417.1,297.3 401.2,295.1 384.5,293.3 366.6,291.7 349.5,290.6 332.8,289.9 317.6,289.6 305.4,289.8 293.9,290.2 281.8,291.0 270.7,292.0 260.5,293.3 250.1,294.9 239.2,297.0 229.7,299.2 220.0,301.8 211.8,304.3 201.8,307.8 193.5,311.2 185.2,315.0 177.0,319.2 170.5,323.0 163.2,327.6 155.9,332.8 148.8,338.4 142.0,344.4 135.5,350.9 129.3,357.7 124.3,364.0 118.9,371.5 114.5,378.3 110.0,386.4 106.4,393.7 103.3,401.2 100.6,408.9 98.4,416.7 96.8,424.7 95.8,432.7 95.5,439.6 95.5,442.6 643.6,442.6Z"/>
<path fill="#e69f0d" d="M640.3,439.6 640.1,432.8 639.8,429.4 639.1,424.9 638.4,421.6 637.3,417.1 636.3,413.8 634.8,409.5 633.6,406.2 631.7,402.0 630.1,398.9 627.9,394.8 625.4,390.8 623.4,387.8 620.6,384.0 618.3,381.2 613.4,375.8 610.8,373.2 607.2,369.9 600.4,364.5 593.3,359.4 584.9,354.2 576.4,349.4 565.8,344.0 554.6,338.7 541.8,333.0 529.0,327.8 515.2,322.7 502.2,318.2 488.4,314.0 475.3,310.4 460.4,306.7 446.2,303.7 430.4,300.7 414.2,298.1 397.4,295.8 380.8,294.0 363.1,292.4 346.0,291.3 330.4,290.6 315.2,290.4 303.0,290.5 291.4,291.0 280.8,291.7 269.7,292.8 259.6,294.0 249.2,295.7 238.5,297.8 229.0,300.0 219.4,302.6 211.3,305.2 201.5,308.7 193.2,312.1 185.0,315.9 176.9,320.1 168.9,324.8 162.3,329.1 155.1,334.3 148.1,339.9 141.4,345.9 135.0,352.4 128.9,359.2 123.9,365.4 118.5,372.9 114.2,379.7 109.7,387.8 106.2,395.1 103.2,402.6 100.5,410.2 98.5,418.0 97.1,424.8 96.5,429.3 96.2,432.8 95.9,439.6 95.9,442.6 640.3,442.6Z"/>
<path fill="#e6990a" d="M637.1,439.6 636.8,432.9 636.5,429.5 635.9,425.0 635.2,421.7 634.2,417.3 633.2,414.0 631.7,409.6 630.1,405.4 628.7,402.2 626.6,398.1 624.9,395.0 622.5,391.0 620.6,388.1 617.8,384.3 615.5,381.5 610.7,376.1 608.1,373.6 604.5,370.3 598.7,365.6 591.6,360.6 584.3,355.9 575.7,351.1 565.1,345.7 553.8,340.3 540.7,334.5 527.8,329.2 514.1,324.1 501.0,319.6 487.3,315.4 472.9,311.4 458.2,307.8 444.1,304.7 428.5,301.7 412.4,299.1 395.7,296.8 379.2,294.9 361.6,293.2 344.6,292.0 329.1,291.4 314.0,291.1 303.0,291.2 291.6,291.7 281.1,292.3 270.1,293.4 260.1,294.6 249.9,296.2 239.3,298.3 229.9,300.4 220.5,303.0 212.4,305.5 202.7,309.0 194.6,312.3 186.5,316.0 178.4,320.1 170.5,324.7 163.3,329.3 156.2,334.4 149.2,340.0 142.5,345.9 136.1,352.2 129.9,358.9 124.2,366.0 118.9,373.4 114.5,380.1 110.0,388.1 106.5,395.4 103.5,402.8 100.9,410.4 98.8,418.2 97.5,424.9 96.8,429.4 96.5,432.8 96.2,439.6 96.2,442.6 637.1,442.6Z"/>
<path fill="#e69509" d="M633.8,439.6 633.7,435.2 633.5,431.8 633.1,428.5 632.5,424.0 631.8,420.7 630.7,416.3 629.4,412.0 628.3,408.8 626.6,404.5 625.2,401.4 623.1,397.3 621.4,394.3 619.0,390.3 617.1,387.4 612.8,381.8 607.9,376.5 602.7,371.5 597.0,366.8 589.9,361.7 582.6,357.1 574.0,352.2 564.4,347.3 553.0,341.9 539.6,335.9 526.7,330.7 513.0,325.5 499.9,321.0 486.2,316.7 471.9,312.7 457.2,309.0 443.2,305.9 427.6,302.9 411.6,300.2 395.1,297.8 377.7,295.7 360.2,294.0 343.2,292.8 327.8,292.1 312.8,291.9 301.9,292.0 290.5,292.4 280.0,293.1 269.1,294.1 259.2,295.4 249.0,297.0 238.5,299.1 229.3,301.2 219.9,303.8 212.0,306.4 202.4,309.8 194.3,313.2 186.3,316.9 178.4,321.0 170.5,325.6 163.4,330.2 156.3,335.3 149.4,340.7 142.8,346.6 136.4,352.9 130.3,359.5 124.5,366.5 119.2,373.9 114.8,380.6 110.4,388.5 106.8,395.7 103.8,403.1 101.2,410.6 99.1,418.3 97.8,425.0 97.2,429.5 96.9,432.9 96.6,439.6 96.6,442.6 633.8,442.6Z"/>
<path fill="#e69107" d="M630.5,439.6 630.5,435.2 630.3,431.9 629.9,428.5 629.3,424.1 628.6,420.8 627.6,416.5 626.3,412.1 625.2,408.9 623.6,404.7 622.2,401.6 620.2,397.5 618.5,394.5 616.1,390.6 614.2,387.7 610.0,382.1 605.2,376.8 599.9,371.8 594.3,367.2 587.2,362.1 579.9,357.5 572.4,353.3 562.8,348.4 551.3,343.0 536.9,336.7 524.1,331.5 510.4,326.3 497.5,321.9 483.8,317.7 469.6,313.7 455.0,310.0 440.0,306.7 423.6,303.5 407.8,300.8 391.4,298.4 374.1,296.4 356.7,294.7 340.8,293.5 325.4,292.8 310.4,292.6 299.5,292.7 288.2,293.2 277.7,293.9 266.8,295.0 256.9,296.3 246.8,298.1 236.3,300.2 227.1,302.5 217.8,305.2 209.9,307.8 200.5,311.4 192.5,314.8 184.6,318.6 176.8,322.8 169.0,327.4 162.7,331.6 154.8,337.4 148.0,342.9 141.4,348.9 135.1,355.2 129.1,361.8 124.2,368.0 118.9,375.3 114.6,381.9 110.7,388.9 107.2,396.0 104.1,403.3 101.5,410.8 99.5,418.4 98.2,425.1 97.6,429.5 97.3,432.9 97.0,439.6 97.0,442.6 630.5,442.6Z"/>
<path fill="#e68b05" d="M627.3,439.6 627.1,433.0 626.9,429.7 626.3,425.3 625.7,422.0 624.7,417.7 623.5,413.4 622.5,410.2 621.0,406.0 619.7,402.9 617.7,398.8 616.2,395.8 613.9,391.8 612.0,388.9 607.9,383.3 603.3,378.0 598.1,373.0 592.5,368.3 585.6,363.3 578.2,358.6 570.8,354.4 562.2,350.0 550.7,344.6 537.6,338.8 523.1,332.8 509.4,327.7 496.4,323.2 481.5,318.6 467.4,314.6 452.9,311.0 438.1,307.6 421.8,304.4 406.1,301.7 388.8,299.2 371.6,297.1 355.3,295.4 339.5,294.3 324.2,293.5 309.2,293.3 298.4,293.5 287.1,293.9 276.7,294.7 265.9,295.8 256.1,297.1 246.0,298.9 237.1,300.7 228.1,302.9 218.9,305.6 211.1,308.1 201.7,311.6 193.9,315.0 186.1,318.7 178.3,322.8 170.6,327.3 162.8,332.5 155.0,338.2 148.3,343.7 141.7,349.6 135.5,355.8 129.5,362.4 124.5,368.5 119.2,375.7 114.9,382.4 111.0,389.2 107.5,396.3 104.4,403.6 101.9,411.0 99.8,418.6 98.6,425.2 97.7,433.0 97.4,439.6 97.4,442.6 627.3,442.6Z"/>
<path fill="#e68703" d="M624.2,439.6 624.0,433.1 623.7,429.8 623.1,425.4 622.6,422.1 621.6,417.8 620.5,413.6 619.5,410.4 617.9,406.2 616.7,403.1 614.8,399.0 613.2,396.0 611.0,392.1 609.1,389.2 605.1,383.7 600.5,378.4 595.4,373.4 589.8,368.7 583.9,364.4 576.6,359.7 569.2,355.5 560.6,351.1 550.1,346.1 536.7,340.2 523.7,334.8 509.9,329.6 495.5,324.5 480.5,319.8 466.5,315.8 452.1,312.1 437.3,308.7 421.0,305.5 404.4,302.5 387.2,300.0 370.2,297.8 353.9,296.2 338.2,295.0 323.0,294.3 308.1,294.0 297.3,294.2 286.1,294.7 275.7,295.4 265.0,296.6 255.3,297.9 245.3,299.7 236.5,301.6 227.5,303.8 218.4,306.5 210.7,309.0 201.5,312.5 193.7,315.9 186.0,319.6 178.3,323.7 170.7,328.2 163.9,332.7 156.1,338.4 149.4,343.8 142.9,349.5 136.6,355.7 130.6,362.2 124.9,369.0 119.6,376.2 115.3,382.8 111.4,389.6 107.8,396.6 104.8,403.8 102.2,411.2 100.2,418.7 99.0,425.3 98.1,433.0 97.9,439.6 97.9,442.6 624.2,442.6Z"/>
<path fill="#e68301" d="M621.0,439.6 620.8,433.1 620.6,429.8 620.0,425.5 618.5,418.0 616.4,410.6 614.9,406.4 613.7,403.3 611.8,399.3 610.3,396.3 608.1,392.4 606.2,389.5 602.3,384.0 598.5,379.6 593.5,374.6 588.1,369.9 582.2,365.5 576.1,361.5 568.7,357.2 560.2,352.7 549.6,347.7 535.9,341.5 522.8,336.1 509.0,330.8 494.6,325.8 479.6,321.0 465.7,317.0 451.3,313.3 435.4,309.6 419.3,306.3 402.8,303.3 386.7,300.9 369.7,298.7 353.6,297.0 338.0,295.8 322.9,295.0 308.1,294.8 297.5,294.9 286.4,295.4 276.1,296.1 266.8,297.0 257.3,298.3 247.4,300.0 237.3,302.1 228.5,304.3 219.5,306.9 211.9,309.4 202.7,312.8 195.1,316.1 185.9,320.5 178.3,324.6 170.8,329.1 164.0,333.6 156.3,339.2 149.7,344.5 143.2,350.2 136.9,356.3 130.9,362.8 125.2,369.5 119.9,376.7 115.6,383.2 111.7,389.9 108.2,396.9 105.2,404.0 102.6,411.4 100.6,418.9 99.4,425.4 98.5,433.0 98.3,439.6 98.3,442.6 621.0,442.6Z"/>
<path fill="#e77d02" d="M617.9,439.6 617.7,433.1 616.9,425.6 615.4,418.1 613.4,410.8 610.7,403.6 607.8,397.6 605.7,393.7 604.0,390.8 600.1,385.2 595.7,379.9 590.8,374.9 585.4,370.3 579.6,365.9 573.5,361.9 566.1,357.6 557.6,353.2 548.2,348.7 535.1,342.8 520.5,336.8 506.7,331.5 492.3,326.5 477.5,321.8 463.6,317.8 449.3,314.0 433.6,310.3 417.6,307.0 401.2,304.1 384.2,301.5 367.3,299.3 351.2,297.6 335.7,296.4 320.6,295.7 307.0,295.5 296.4,295.6 285.4,296.1 275.2,296.9 266.0,297.8 256.5,299.1 246.7,300.8 236.7,302.9 228.0,305.1 219.1,307.8 211.6,310.3 202.5,313.7 194.9,317.0 187.4,320.6 179.9,324.6 172.4,329.0 164.2,334.4 156.6,340.0 150.0,345.3 142.7,351.7 136.5,357.7 130.6,364.2 125.6,370.1 120.3,377.1 116.0,383.6 112.1,390.3 108.6,397.2 105.6,404.3 103.0,411.6 101.1,419.0 99.9,425.5 99.0,433.1 98.8,439.6 98.8,442.6 617.9,442.6Z"/>
<path fill="#e87904" d="M614.8,439.6 614.7,433.2 613.8,425.7 612.4,418.3 610.3,411.0 607.7,403.8 604.9,397.8 602.8,394.0 601.1,391.1 597.2,385.6 593.7,381.2 588.9,376.1 583.6,371.4 577.9,367.1 571.9,363.0 564.7,358.7 556.2,354.2 546.8,349.7 533.7,343.8 519.8,338.0 506.0,332.7 491.6,327.7 476.8,322.9 461.7,318.5 446.4,314.5 431.9,311.1 416.0,307.7 399.7,304.8 383.8,302.3 367.0,300.1 351.0,298.4 335.5,297.2 320.6,296.4 307.1,296.2 296.6,296.3 285.7,296.8 275.6,297.5 266.5,298.5 257.2,299.7 247.5,301.4 237.6,303.5 229.0,305.6 220.2,308.2 211.3,311.2 202.3,314.6 194.8,317.9 187.4,321.5 179.9,325.5 172.6,329.9 164.4,335.2 156.9,340.7 150.3,346.0 143.1,352.3 136.9,358.4 131.0,364.7 125.3,371.4 120.1,378.5 115.8,384.9 112.0,391.6 108.5,398.5 105.6,405.6 103.5,411.8 101.5,419.2 100.3,425.6 99.5,433.1 99.3,439.6 99.3,442.6 614.8,442.6Z"/>
<path fill="#eb7308" d="M611.8,439.6 611.7,433.2 610.8,425.8 609.4,418.4 607.3,411.2 604.7,404.1 601.9,398.1 599.8,394.3 598.1,391.4 594.4,385.9 590.1,380.7 586.1,376.5 580.9,371.9 575.3,367.5 569.4,363.5 562.2,359.2 554.9,355.2 545.5,350.7 532.5,344.8 519.1,339.2 503.8,333.4 489.5,328.3 474.8,323.6 459.8,319.2 444.6,315.1 430.2,311.7 414.4,308.4 399.2,305.6 383.3,303.1 366.6,300.8 350.7,299.1 335.4,297.9 320.5,297.1 307.2,296.9 296.8,297.0 286.0,297.5 276.1,298.2 265.8,299.3 256.5,300.6 246.9,302.2 237.1,304.3 228.5,306.5 219.8,309.1 211.0,312.1 202.2,315.6 194.8,318.8 187.4,322.4 180.0,326.4 172.7,330.8 165.5,335.5 158.0,340.9 151.4,346.1 144.2,352.3 138.0,358.2 132.1,364.5 126.4,371.1 121.1,378.0 116.8,384.4 112.9,390.9 109.4,397.8 106.4,404.8 103.9,412.0 102.0,419.3 100.8,425.7 100.1,432.1 99.8,439.6 99.8,442.6 611.8,442.6Z"/>
<path fill="#ec6f0a" d="M608.9,439.6 608.7,433.3 607.8,425.9 606.4,418.6 604.3,411.4 601.7,404.3 599.0,398.4 596.9,394.6 595.2,391.8 591.5,386.3 587.3,381.1 583.4,377.0 578.3,372.3 572.7,367.9 566.9,363.9 559.8,359.6 552.5,355.7 543.2,351.1 530.3,345.3 517.0,339.8 501.8,333.9 487.5,328.9 472.9,324.2 458.0,319.8 442.9,315.8 428.6,312.3 412.9,309.0 397.7,306.2 382.0,303.6 365.3,301.4 349.5,299.7 335.3,298.6 321.6,297.9 307.3,297.6 297.0,297.7 286.4,298.2 276.5,298.9 266.3,299.9 257.1,301.2 247.7,302.8 238.0,304.9 229.6,307.0 221.0,309.6 212.3,312.5 203.5,315.9 196.2,319.1 187.4,323.3 180.1,327.3 172.9,331.6 165.8,336.3 158.3,341.7 150.9,347.5 143.8,353.7 137.6,359.6 131.7,365.8 126.1,372.4 120.9,379.3 116.6,385.7 112.8,392.2 109.4,399.0 106.4,406.0 104.4,412.2 102.5,419.4 101.3,425.8 100.6,432.2 100.4,439.6 100.4,442.6 608.9,442.6Z"/>
<path fill="#ee6b0c" d="M605.9,439.6 605.7,433.3 604.9,426.0 603.4,418.7 601.3,411.5 598.7,404.6 596.0,398.7 592.3,392.1 588.6,386.7 584.5,381.5 580.6,377.4 575.6,372.7 570.2,368.4 564.4,364.4 557.4,360.1 550.2,356.2 541.0,351.6 528.1,345.8 514.9,340.3 499.7,334.5 485.6,329.5 471.1,324.8 456.3,320.4 441.2,316.4 427.0,312.9 411.4,309.6 396.3,306.7 380.6,304.2 365.0,302.1 350.2,300.5 335.1,299.3 320.5,298.6 307.4,298.3 297.2,298.5 286.7,298.9 277.0,299.6 266.9,300.6 256.5,302.1 247.2,303.7 237.6,305.8 229.2,308.0 220.7,310.5 212.1,313.4 203.4,316.8 196.2,320.0 187.5,324.2 180.3,328.2 173.1,332.5 166.0,337.1 158.6,342.4 151.3,348.2 144.2,354.3 138.0,360.2 132.2,366.4 126.6,372.9 121.3,379.8 117.1,386.0 113.2,392.6 109.8,399.3 106.9,406.2 104.8,412.3 103.0,419.6 101.8,425.9 101.2,432.2 100.9,439.6 100.9,442.6 605.9,442.6Z"/>
<path fill="#f06510" d="M603.0,439.6 602.8,433.4 601.9,426.1 600.4,418.8 598.4,411.7 595.7,404.8 593.0,399.0 589.4,392.4 585.7,387.0 581.6,381.9 577.9,377.8 572.9,373.2 567.6,368.8 561.9,364.8 555.0,360.5 547.9,356.6 538.8,352.1 526.0,346.2 512.8,340.8 497.7,335.0 483.7,330.1 469.2,325.4 454.5,321.0 439.6,316.9 424.4,313.3 408.8,309.9 393.9,307.1 379.2,304.8 363.7,302.7 349.0,301.1 335.0,300.0 321.5,299.3 307.5,299.1 297.4,299.2 287.0,299.6 277.4,300.3 267.5,301.4 257.2,302.8 248.0,304.4 238.5,306.4 230.2,308.5 221.8,311.0 213.3,313.9 204.8,317.2 197.6,320.3 189.0,324.4 181.9,328.3 173.3,333.3 166.3,338.0 158.9,343.2 151.7,348.9 144.6,355.0 138.5,360.8 132.6,366.9 127.0,373.4 121.8,380.2 117.5,386.4 113.7,392.9 110.3,399.6 107.3,406.5 105.3,412.5 103.7,418.7 102.3,426.0 101.7,432.3 101.4,439.6 101.4,442.6 603.0,442.6Z"/>
<path fill="#f26112" d="M600.1,439.6 599.9,433.4 599.0,426.2 597.7,420.0 595.7,412.9 593.2,406.0 590.1,399.3 586.4,392.8 582.8,387.4 578.8,382.3 574.3,377.4 569.4,372.9 564.1,368.6 558.4,364.6 551.6,360.4 544.6,356.5 536.6,352.5 524.8,347.1 512.3,341.9 497.2,336.1 481.8,330.6 467.4,326.0 452.8,321.6 437.9,317.5 422.8,313.8 408.4,310.7 393.5,307.8 378.9,305.5 363.4,303.4 348.8,301.8 334.8,300.7 321.5,300.0 307.6,299.8 296.5,300.0 286.1,300.5 276.6,301.2 266.8,302.2 256.6,303.7 247.5,305.4 238.1,307.4 229.9,309.5 221.6,312.0 213.2,314.9 204.7,318.1 197.6,321.2 189.1,325.4 182.0,329.2 173.6,334.2 166.6,338.8 159.2,344.0 152.0,349.6 145.0,355.7 138.9,361.4 133.0,367.5 127.5,373.9 122.2,380.6 118.0,386.8 114.1,393.2 110.7,399.9 107.8,406.7 105.8,412.7 104.2,418.8 102.8,426.1 102.2,432.3 101.9,439.6 101.9,442.6 600.1,442.6Z"/>
<path fill="#f35d15" d="M597.2,439.6 597.0,433.4 596.1,426.2 594.8,420.1 592.7,413.1 590.2,406.3 587.1,399.6 583.4,393.1 579.9,387.8 575.9,382.7 571.5,377.9 566.7,373.3 561.4,369.0 555.9,365.1 549.2,360.8 542.3,357.0 534.4,353.0 522.7,347.6 510.2,342.4 495.2,336.7 479.8,331.2 465.6,326.5 451.0,322.1 436.3,318.1 421.2,314.4 406.9,311.2 392.0,308.4 377.5,306.0 363.1,304.0 349.5,302.6 335.7,301.5 322.5,300.8 308.8,300.6 298.9,300.7 288.8,301.1 278.2,301.9 268.6,302.9 258.6,304.3 249.6,305.8 240.4,307.8 231.0,310.2 222.8,312.6 214.4,315.4 206.1,318.6 197.6,322.2 189.2,326.3 182.2,330.1 173.8,335.1 166.9,339.6 159.6,344.8 152.4,350.4 145.4,356.4 139.3,362.0 133.5,368.1 128.0,374.4 122.7,381.1 118.5,387.2 114.6,393.6 111.2,400.2 108.3,406.9 106.3,412.9 104.6,419.0 103.3,426.2 102.7,432.4 102.4,439.6 102.4,442.6 597.2,442.6Z"/>
<path fill="#f65718" d="M594.3,439.6 594.1,433.5 593.1,426.3 591.8,420.3 589.8,413.3 587.2,406.5 584.1,399.9 580.5,393.5 577.0,388.2 573.0,383.1 568.7,378.3 563.9,373.7 558.8,369.5 553.4,365.5 546.7,361.3 539.9,357.4 532.1,353.4 520.5,348.1 508.1,342.9 493.1,337.2 477.9,331.8 462.5,326.7 448.1,322.4 433.5,318.3 419.6,314.9 405.4,311.8 391.6,309.1 378.0,306.9 363.6,304.9 350.2,303.4 336.5,302.3 323.4,301.6 309.8,301.3 299.1,301.5 289.0,301.9 278.6,302.7 269.1,303.7 259.2,305.1 250.4,306.6 241.3,308.5 232.0,310.8 223.9,313.2 215.7,315.9 207.4,319.0 199.1,322.6 190.7,326.6 183.7,330.3 175.4,335.1 168.5,339.6 160.7,345.0 153.6,350.5 146.6,356.4 140.5,362.0 134.0,368.6 128.5,374.9 123.3,381.6 119.0,387.6 115.2,393.9 111.7,400.4 108.8,407.2 106.7,413.1 105.1,419.1 103.8,426.3 103.1,432.4 102.8,439.6 102.8,442.6 594.3,442.6Z"/>
<path fill="#f7531b" d="M591.4,439.6 591.1,433.5 590.8,430.5 590.2,426.4 588.9,420.4 586.8,413.5 584.2,406.7 581.1,400.2 577.5,393.8 573.4,387.7 569.4,382.7 565.1,377.9 560.3,373.5 555.2,369.3 549.9,365.4 543.3,361.2 536.6,357.4 528.8,353.4 518.3,348.6 506.0,343.5 489.6,337.2 474.6,331.9 459.4,326.9 445.2,322.6 430.7,318.6 417.0,315.2 402.8,312.1 389.1,309.5 375.6,307.3 362.3,305.5 348.9,304.0 335.2,303.0 322.2,302.4 309.8,302.2 299.2,302.3 288.1,302.9 277.8,303.7 268.4,304.7 258.6,306.1 249.9,307.7 240.9,309.6 231.7,311.9 223.7,314.3 215.5,317.0 207.3,320.1 199.1,323.6 190.8,327.6 183.9,331.3 175.7,336.1 168.8,340.4 161.1,345.8 154.0,351.3 147.0,357.1 141.0,362.6 134.5,369.2 129.0,375.5 123.8,382.0 119.6,388.0 115.7,394.3 112.3,400.8 109.3,407.4 107.2,413.3 105.6,419.3 104.2,426.3 103.5,432.5 103.2,439.6 103.2,442.6 591.4,442.6Z"/>
<path fill="#fa4d1e" d="M588.5,439.6 588.2,433.6 587.9,430.5 587.2,426.5 585.9,420.5 583.8,413.7 581.2,407.0 578.1,400.4 574.5,394.1 570.4,388.1 566.5,383.1 562.2,378.4 557.5,373.9 552.5,369.8 547.2,365.9 540.8,361.7 534.1,357.9 526.5,353.9 516.0,349.1 503.8,344.0 487.5,337.8 472.6,332.4 458.7,327.8 444.5,323.5 430.1,319.5 416.4,316.1 403.2,313.1 389.5,310.5 376.1,308.2 362.8,306.4 349.4,304.9 335.9,303.8 323.0,303.2 310.8,303.1 300.3,303.2 290.5,303.6 280.5,304.4 270.0,305.5 260.5,306.8 250.6,308.6 241.8,310.4 232.7,312.7 223.5,315.4 215.4,318.1 207.3,321.2 199.1,324.7 190.9,328.6 184.1,332.2 175.9,337.0 169.1,341.3 161.4,346.7 154.3,352.1 147.5,357.8 141.5,363.3 135.1,369.9 129.6,376.0 124.4,382.5 120.2,388.5 116.3,394.7 112.8,401.1 109.8,407.7 107.7,413.5 105.8,420.4 104.6,426.4 103.8,432.5 103.5,439.6 103.5,442.6 588.5,442.6Z"/>
<path fill="#fb4921" d="M585.5,439.6 585.2,433.6 584.9,430.6 584.2,426.6 582.9,420.7 580.8,413.9 578.1,407.2 575.0,400.7 571.4,394.5 568.0,389.3 563.5,383.5 559.2,378.8 554.6,374.4 549.7,370.2 544.5,366.4 538.2,362.2 531.6,358.4 524.0,354.4 513.6,349.6 501.5,344.5 485.3,338.4 470.5,333.0 456.7,328.5 442.6,324.1 428.2,320.1 414.6,316.7 401.6,313.8 387.9,311.1 375.5,309.0 362.3,307.2 349.0,305.7 336.5,304.8 323.8,304.2 311.7,304.0 301.4,304.1 291.8,304.5 281.8,305.3 271.6,306.3 262.2,307.6 252.5,309.3 242.6,311.3 233.7,313.5 224.6,316.2 216.6,318.8 208.6,321.8 200.5,325.2 192.3,329.0 185.6,332.5 177.4,337.1 170.7,341.4 163.3,346.4 156.3,351.6 149.4,357.3 142.7,363.3 136.3,369.8 130.8,375.8 125.7,382.2 120.8,388.9 116.9,395.0 113.4,401.4 110.4,407.9 108.2,413.7 106.2,420.6 104.9,426.5 104.1,432.6 103.8,439.6 103.8,442.6 585.5,442.6Z"/>
<path fill="#fd4523" d="M582.5,439.6 582.2,433.6 581.9,430.7 581.2,426.7 579.8,420.8 577.7,414.0 575.5,408.4 572.4,401.9 568.9,395.7 564.9,389.7 560.5,383.9 556.3,379.3 551.7,374.9 546.9,370.7 541.7,366.9 535.5,362.7 529.0,358.9 521.5,355.0 512.1,350.6 500.6,345.7 484.5,339.5 468.3,333.7 454.6,329.1 440.6,324.8 426.4,320.8 412.8,317.4 399.8,314.4 387.2,312.0 374.8,309.9 361.7,308.0 349.4,306.7 337.1,305.7 324.5,305.1 312.6,305.0 302.4,305.1 291.8,305.6 282.1,306.3 272.0,307.4 262.7,308.6 253.2,310.3 243.4,312.3 234.6,314.4 225.6,317.0 216.5,320.0 208.5,323.0 200.5,326.3 192.4,330.1 185.7,333.5 177.6,338.1 170.9,342.3 163.6,347.3 156.6,352.5 149.8,358.1 143.3,364.0 136.9,370.4 131.5,376.4 126.3,382.8 121.5,389.4 117.0,396.3 113.5,402.6 110.5,409.1 108.3,414.9 106.3,421.7 105.0,427.6 104.2,433.6 104.0,439.6 104.0,442.6 582.5,442.6Z"/>
<path fill="#fd4028" d="M579.5,439.6 579.2,433.7 578.8,430.7 578.2,426.8 576.8,420.9 574.7,414.2 572.4,408.6 569.3,402.2 565.8,396.0 561.8,390.0 557.4,384.3 553.2,379.7 548.7,375.3 543.9,371.2 538.8,367.4 532.6,363.2 526.3,359.4 518.8,355.5 509.5,351.1 498.1,346.3 482.1,340.1 466.1,334.3 452.4,329.8 438.6,325.5 425.4,321.8 411.9,318.3 399.0,315.4 386.4,312.9 374.1,310.8 361.9,309.1 349.8,307.7 337.5,306.8 325.1,306.2 313.3,306.0 303.2,306.1 292.9,306.6 283.3,307.3 273.4,308.3 263.2,309.7 253.8,311.3 244.2,313.3 235.5,315.4 226.6,317.9 217.6,320.8 209.7,323.7 201.8,326.9 193.8,330.5 187.1,333.9 179.1,338.3 172.4,342.4 165.4,347.1 158.5,352.2 151.8,357.6 145.2,363.5 138.9,369.7 133.4,375.6 127.6,382.5 122.8,389.1 118.2,395.9 114.7,402.1 111.5,408.5 108.8,415.1 106.6,421.8 105.2,427.7 104.4,433.7 104.0,439.6 104.0,442.6 579.5,442.6Z"/>
<path fill="#f73f2d" d="M576.4,439.6 576.1,433.7 575.2,427.8 573.9,422.0 571.9,415.3 569.7,409.7 566.7,403.3 563.2,397.1 559.3,391.2 554.9,385.5 550.8,380.9 546.4,376.5 541.7,372.4 536.7,368.5 530.6,364.3 524.3,360.5 516.9,356.6 507.7,352.2 497.0,347.6 480.9,341.3 464.9,335.5 451.3,330.9 437.5,326.5 424.4,322.8 410.9,319.3 399.0,316.6 386.5,314.0 374.2,311.9 362.1,310.2 350.0,308.9 337.9,307.9 325.6,307.3 313.9,307.1 304.0,307.3 293.8,307.7 283.4,308.5 273.6,309.5 263.6,310.9 254.3,312.5 244.8,314.4 236.3,316.4 227.6,318.9 218.7,321.7 210.9,324.4 203.0,327.6 195.1,331.1 187.1,335.0 179.2,339.4 172.6,343.4 165.6,348.0 158.8,353.1 152.2,358.5 145.7,364.3 139.5,370.4 134.1,376.3 128.3,383.2 123.5,389.6 119.0,396.3 115.3,402.4 112.0,408.8 109.2,415.3 106.8,422.0 105.3,427.8 104.4,433.7 104.1,436.7 104.0,439.6 104.0,442.6 576.4,442.6Z"/>
<path fill="#f13e33" d="M573.2,439.6 572.9,433.8 572.1,427.9 570.8,422.1 568.7,415.5 566.5,409.9 563.5,403.6 560.0,397.4 556.0,391.5 551.6,385.9 547.6,381.3 543.2,377.0 538.5,372.9 533.5,369.0 527.5,364.9 521.2,361.1 513.9,357.2 504.8,352.8 494.1,348.3 478.2,342.0 462.3,336.2 448.9,331.6 435.1,327.3 422.1,323.6 409.8,320.4 397.9,317.6 385.4,315.1 373.2,313.0 361.1,311.3 349.1,309.9 338.0,309.1 325.9,308.5 314.4,308.3 304.6,308.5 294.6,308.9 284.3,309.7 274.8,310.7 264.9,312.0 255.9,313.5 246.6,315.3 238.2,317.3 229.7,319.6 220.9,322.2 212.0,325.3 204.2,328.3 196.3,331.7 188.4,335.4 180.4,339.7 173.9,343.6 167.2,347.9 160.5,352.8 153.9,358.1 147.5,363.8 141.3,369.8 135.4,376.2 129.6,383.0 124.8,389.3 120.2,395.9 115.9,402.8 112.0,410.0 109.1,416.4 106.6,423.1 105.0,428.8 104.5,431.8 104.0,434.7 103.7,439.6 103.7,442.6 573.2,442.6Z"/>
<path fill="#e73d3b" d="M569.9,439.6 569.6,433.8 568.8,428.0 567.5,422.2 565.5,415.6 563.3,410.1 560.2,403.8 557.2,398.6 553.3,392.7 549.0,387.1 544.9,382.5 540.6,378.1 535.1,373.4 530.2,369.6 524.2,365.5 518.0,361.7 510.8,357.8 501.7,353.5 491.1,348.9 476.7,343.3 460.9,337.4 447.4,332.8 433.7,328.4 420.8,324.7 408.4,321.5 396.6,318.7 384.1,316.2 372.9,314.2 361.0,312.5 349.0,311.2 338.0,310.3 326.9,309.8 315.7,309.6 305.1,309.8 295.3,310.2 285.2,310.9 275.8,311.9 266.2,313.2 257.3,314.6 248.2,316.4 238.8,318.5 229.2,321.0 220.5,323.7 211.7,326.7 204.0,329.6 196.1,332.9 188.2,336.6 180.3,340.7 173.8,344.6 167.2,348.9 160.5,353.8 154.8,358.4 148.5,364.0 142.5,369.9 136.6,376.3 130.9,382.9 125.4,389.9 120.2,397.3 115.9,404.1 111.9,411.2 108.8,417.5 106.5,423.2 104.8,428.9 104.1,431.8 103.7,434.8 103.3,439.6 103.3,442.6 569.9,442.6Z"/>
<path fill="#e13c41" d="M566.5,439.6 566.2,433.8 565.5,428.1 564.2,422.3 562.2,415.8 560.0,410.3 556.9,404.0 553.9,398.8 549.9,393.0 545.6,387.4 541.5,382.9 537.1,378.6 531.7,373.9 526.7,370.1 520.8,366.1 514.6,362.3 507.4,358.5 498.5,354.1 488.0,349.7 473.7,344.0 458.0,338.2 444.7,333.6 431.1,329.3 418.2,325.5 406.0,322.3 394.2,319.6 382.8,317.3 371.7,315.4 360.7,313.8 348.8,312.5 337.9,311.6 327.0,311.1 315.8,311.0 305.5,311.1 295.8,311.6 285.9,312.3 276.7,313.2 267.3,314.4 257.5,316.0 248.6,317.7 239.4,319.8 229.9,322.2 221.3,324.8 212.6,327.6 205.0,330.5 197.2,333.6 189.3,337.2 181.4,341.1 174.9,344.8 168.6,348.9 162.0,353.6 156.3,358.1 150.2,363.6 144.2,369.4 138.4,375.6 132.1,382.9 126.7,389.8 120.9,397.8 115.9,405.3 111.7,412.3 108.4,418.7 106.0,424.2 104.2,430.0 103.2,434.8 102.9,437.7 102.8,439.6 102.8,442.6 566.5,442.6Z"/>
<path fill="#d73b49" d="M563.1,439.6 562.8,433.9 562.1,428.1 560.8,422.4 559.1,416.8 557.0,411.4 554.0,405.1 551.0,400.0 547.1,394.1 543.4,389.4 538.7,384.1 534.3,379.8 528.9,375.1 524.1,371.3 518.1,367.2 512.0,363.5 504.9,359.6 496.0,355.3 484.8,350.4 470.7,344.8 456.4,339.4 443.1,334.8 430.6,330.8 417.7,327.0 405.5,323.7 393.7,321.0 382.3,318.6 371.2,316.7 360.3,315.1 349.5,313.9 338.7,313.0 327.8,312.5 316.9,312.3 306.7,312.5 297.2,312.9 287.5,313.6 277.5,314.6 268.3,315.8 258.8,317.3 248.9,319.1 239.8,321.1 230.5,323.5 222.1,325.9 213.5,328.7 204.6,331.8 196.9,334.9 189.1,338.3 181.2,342.2 174.8,345.9 168.4,349.9 162.7,354.0 157.1,358.5 151.1,363.9 145.2,369.6 139.5,375.7 134.0,382.1 128.0,389.6 121.5,398.3 115.9,406.6 111.5,413.5 108.0,419.8 105.5,425.3 103.8,430.0 102.7,434.8 102.3,437.7 102.2,439.6 102.2,442.6 563.1,442.6Z"/>
<path fill="#d13a4f" d="M559.6,439.6 559.4,433.9 558.6,428.2 557.4,422.6 555.7,417.0 553.6,411.5 551.0,406.2 548.1,401.1 544.2,395.3 540.5,390.5 535.9,385.2 531.5,380.9 526.2,376.3 520.5,371.9 514.6,367.9 508.5,364.2 501.5,360.3 492.7,356.0 481.6,351.2 467.6,345.6 453.4,340.3 440.2,335.6 427.9,331.6 416.1,328.2 404.0,324.9 393.2,322.4 381.9,320.0 370.8,318.0 359.9,316.5 349.2,315.3 338.5,314.4 327.7,313.9 316.9,313.7 306.9,313.9 297.6,314.3 288.0,315.0 278.3,315.9 268.2,317.2 258.9,318.7 249.2,320.5 240.3,322.5 231.1,324.7 221.6,327.4 213.1,330.1 204.3,333.2 195.3,336.7 187.5,340.1 181.0,343.3 174.6,346.9 168.3,350.9 163.4,354.5 157.9,358.9 152.0,364.2 146.2,369.9 140.7,375.9 135.2,382.2 129.3,389.5 122.8,398.0 115.8,407.8 111.3,414.6 107.6,420.8 104.9,426.3 103.2,431.0 102.4,433.9 102.1,435.8 101.7,439.6 101.7,442.6 559.6,442.6Z"/>
<path fill="#ca3954" d="M556.1,439.6 555.9,434.0 555.2,428.3 554.0,422.7 552.3,417.1 550.2,411.7 547.6,406.5 544.7,401.3 540.8,395.6 537.0,390.9 533.0,386.4 528.7,382.1 523.4,377.4 517.7,373.1 511.9,369.1 505.8,365.4 498.9,361.5 490.1,357.2 479.8,352.6 465.8,346.9 451.7,341.6 439.7,337.3 427.4,333.2 415.6,329.7 403.4,326.4 392.7,323.8 381.4,321.4 371.3,319.6 360.4,318.0 349.8,316.7 339.1,315.8 328.5,315.3 317.9,315.1 308.0,315.3 298.8,315.6 289.5,316.3 280.0,317.2 270.2,318.4 261.0,319.8 251.6,321.5 241.9,323.5 232.9,325.7 223.6,328.2 214.0,331.2 205.3,334.1 196.4,337.5 188.6,340.7 182.1,343.8 175.7,347.2 169.5,351.1 164.8,354.4 160.0,358.1 154.8,362.7 149.7,367.6 144.3,373.4 138.3,380.1 132.4,387.2 124.8,397.0 115.8,409.0 111.1,415.7 107.7,421.0 104.8,426.4 102.9,431.1 102.1,433.9 101.7,435.8 101.4,439.6 101.4,442.6 556.1,442.6Z"/>
<path fill="#c1385d" d="M552.6,439.6 552.4,434.0 551.7,428.4 550.5,422.8 548.9,417.3 546.8,411.9 544.2,406.7 541.2,401.6 537.9,396.7 534.2,392.1 529.5,386.9 525.1,382.6 519.8,378.0 514.1,373.7 508.3,369.7 502.3,366.1 495.4,362.3 486.8,358.0 476.5,353.4 464.1,348.3 450.1,342.9 438.1,338.6 425.8,334.5 414.1,330.9 402.0,327.6 391.3,325.0 380.0,322.6 370.0,320.8 359.2,319.2 349.5,318.1 339.0,317.2 328.5,316.7 318.0,316.5 308.2,316.7 299.2,317.0 289.1,317.7 279.8,318.7 270.1,319.9 261.1,321.2 251.9,322.9 242.3,324.9 232.4,327.2 223.2,329.7 213.7,332.6 205.1,335.4 196.2,338.7 188.5,341.9 182.0,344.9 175.6,348.3 170.7,351.3 165.5,354.8 160.8,358.5 156.3,362.5 151.4,367.2 146.6,372.3 141.4,378.2 136.2,384.4 128.7,393.8 114.7,411.8 110.9,416.8 108.0,421.2 104.9,426.6 102.8,431.2 101.9,434.0 101.5,435.9 101.2,437.8 101.1,439.6 101.1,442.6 552.6,442.6Z"/>
<path fill="#ba3762" d="M549.1,439.6 548.9,434.0 548.3,428.5 547.1,422.9 545.5,417.5 543.3,412.2 540.8,407.0 537.8,401.9 534.4,397.1 530.7,392.5 526.0,387.3 521.6,383.2 516.2,378.6 510.6,374.4 504.8,370.5 498.9,366.8 492.0,363.1 483.5,358.8 473.4,354.2 461.2,349.1 447.3,343.8 435.5,339.5 423.3,335.4 411.7,331.9 400.7,328.8 390.0,326.2 379.7,324.0 369.7,322.2 359.0,320.6 349.4,319.5 338.9,318.6 328.5,318.1 318.1,317.9 308.5,318.0 299.7,318.4 289.8,319.1 280.5,320.0 271.1,321.1 261.3,322.6 252.2,324.2 242.8,326.2 233.1,328.4 224.0,330.8 214.7,333.6 204.9,336.8 196.1,339.9 188.4,343.1 182.0,346.0 175.7,349.3 170.8,352.3 167.0,354.8 163.0,357.9 158.6,361.7 154.3,365.7 149.6,370.6 145.0,375.7 139.9,381.7 113.5,414.6 110.3,418.8 107.9,422.2 105.2,426.7 103.0,431.2 102.0,434.0 101.6,435.9 101.3,437.8 101.2,439.6 101.2,442.6 549.1,442.6Z"/>
<path fill="#b43668" d="M545.6,439.6 545.4,434.1 544.8,428.6 543.9,424.0 542.3,418.6 540.3,413.3 537.8,408.1 534.9,403.1 531.6,398.3 527.9,393.7 523.2,388.5 518.9,384.4 513.5,379.9 508.0,375.6 502.2,371.7 495.5,367.6 488.7,363.9 480.4,359.6 470.4,355.1 458.3,350.0 444.6,344.7 433.0,340.4 420.9,336.3 409.4,332.8 398.5,329.8 387.9,327.2 377.7,325.1 367.8,323.3 358.1,321.8 348.5,320.7 338.1,319.9 327.9,319.4 317.6,319.2 308.1,319.4 299.3,319.7 289.6,320.4 280.5,321.3 271.2,322.5 261.6,323.9 251.7,325.7 242.4,327.6 232.7,329.9 223.8,332.2 214.5,334.9 204.9,338.0 196.2,341.1 188.5,344.2 182.1,347.1 175.9,350.3 172.2,352.5 168.0,355.3 164.0,358.3 160.3,361.5 156.6,364.9 152.6,369.0 148.0,374.0 143.6,379.2 125.0,402.4 112.5,417.3 108.0,423.3 105.2,427.7 103.8,430.4 103.1,432.2 102.0,435.9 101.7,437.8 101.5,439.6 101.5,442.6 545.6,442.6Z"/>
<path fill="#aa3570" d="M542.1,439.6 542.0,434.1 541.4,428.7 540.3,423.2 539.0,418.8 537.0,413.5 534.5,408.4 531.6,403.5 528.2,398.7 524.5,394.1 519.8,389.1 515.5,385.0 510.2,380.5 504.6,376.4 498.9,372.5 492.3,368.4 485.6,364.7 476.5,360.1 466.2,355.4 454.4,350.4 442.2,345.6 430.7,341.3 419.8,337.6 409.4,334.4 398.5,331.3 387.9,328.7 377.8,326.5 367.9,324.7 358.2,323.2 348.7,322.1 338.4,321.2 328.2,320.7 318.0,320.5 308.7,320.6 300.1,321.0 290.4,321.6 281.5,322.5 272.4,323.6 263.0,325.0 253.2,326.7 244.2,328.5 234.7,330.7 224.9,333.2 215.7,335.8 206.2,338.8 197.6,341.8 190.0,344.7 183.7,347.5 177.4,350.6 173.8,352.7 170.3,355.0 166.5,357.7 162.7,360.8 159.1,364.1 155.6,367.5 151.7,371.7 147.9,376.1 142.6,382.6 127.6,401.4 122.6,407.4 113.7,417.6 109.0,423.5 106.1,427.8 104.7,430.5 103.9,432.3 103.2,434.1 102.7,436.0 102.4,437.8 102.3,439.6 102.3,442.6 542.1,442.6Z"/>
<path fill="#a43476" d="M538.8,439.6 538.6,434.2 538.0,428.8 536.9,423.4 535.6,419.0 533.6,413.8 531.2,408.7 528.3,403.8 524.9,399.1 521.2,394.6 516.5,389.7 512.2,385.6 506.9,381.2 501.4,377.1 495.0,372.8 488.4,368.8 481.8,365.2 472.9,360.6 463.6,356.3 452.0,351.3 439.9,346.5 428.6,342.3 417.8,338.6 407.5,335.3 396.7,332.3 386.3,329.7 376.2,327.5 366.4,325.7 356.8,324.3 347.4,323.2 337.2,322.4 328.0,321.9 317.9,321.7 308.6,321.9 299.3,322.3 289.8,322.9 280.9,323.8 271.9,324.9 262.6,326.3 253.0,328.0 244.0,329.8 234.7,331.9 224.9,334.4 215.9,337.0 206.5,340.0 198.0,342.9 190.5,345.8 184.2,348.5 178.0,351.6 174.4,353.7 170.9,355.9 167.2,358.6 164.1,361.2 161.2,363.9 157.7,367.2 154.4,370.8 150.7,375.0 145.5,381.4 134.4,395.6 129.2,402.0 124.2,407.8 114.5,418.7 109.8,424.5 106.9,428.8 105.1,432.4 104.4,434.2 103.9,436.0 103.6,437.8 103.4,439.6 103.4,442.6 538.8,442.6Z"/>
<path fill="#9a337e" d="M535.5,439.6 535.3,434.3 534.8,428.9 533.7,423.6 532.4,419.2 530.4,414.1 527.9,409.1 525.0,404.3 521.7,399.6 518.1,395.2 513.4,390.3 509.1,386.3 503.8,382.0 498.4,377.9 492.0,373.6 485.6,369.7 478.3,365.6 469.6,361.2 459.9,356.7 448.6,351.8 436.8,347.0 425.7,342.8 415.1,339.2 405.0,336.0 394.3,333.0 385.0,330.7 375.0,328.6 365.2,326.8 355.7,325.4 346.4,324.3 336.3,323.5 327.1,323.1 317.2,322.9 308.0,323.0 298.7,323.4 289.3,324.1 280.6,325.0 271.7,326.1 262.5,327.4 253.0,329.1 244.1,330.9 234.8,333.1 225.2,335.5 216.3,338.1 207.0,341.0 198.6,344.0 191.1,346.8 184.9,349.5 178.8,352.6 175.3,354.6 171.9,356.9 168.8,359.1 165.8,361.6 162.8,364.2 159.5,367.5 156.2,371.0 153.1,374.6 148.0,380.9 136.7,395.5 131.1,402.5 126.1,408.3 115.7,419.7 111.0,425.5 108.2,429.8 106.5,433.3 105.8,435.1 105.4,436.9 105.1,439.6 105.1,442.6 535.5,442.6Z"/>
<path fill="#953283" d="M532.3,439.6 532.1,434.3 531.6,429.0 530.5,423.8 529.2,419.5 527.3,414.4 524.8,409.5 521.9,404.7 518.7,400.2 515.0,395.8 511.1,391.6 506.1,387.0 500.9,382.7 495.6,378.7 489.3,374.5 482.2,370.1 475.1,366.2 466.6,361.8 456.6,357.1 445.6,352.2 434.1,347.5 424.2,343.8 413.8,340.2 403.8,337.0 393.2,334.0 384.0,331.7 374.1,329.6 364.4,327.8 355.0,326.4 345.7,325.4 335.7,324.6 326.7,324.2 316.8,324.0 307.7,324.1 298.5,324.5 289.2,325.2 280.6,326.0 271.7,327.1 262.6,328.5 253.2,330.2 244.4,331.9 235.2,334.1 225.7,336.5 216.9,339.1 207.7,342.0 199.4,344.9 192.1,347.8 185.9,350.4 179.9,353.5 176.4,355.5 173.1,357.8 170.1,360.0 167.7,361.9 164.8,364.5 162.0,367.3 158.8,370.7 155.7,374.2 150.3,381.0 138.7,396.1 133.2,403.0 127.7,409.4 117.3,420.8 113.3,425.7 110.5,429.9 108.7,433.4 108.1,435.2 107.6,437.0 107.4,439.6 107.4,442.6 532.3,442.6Z"/>
<path fill="#903287" d="M529.0,439.6 528.8,434.4 528.3,429.2 527.2,424.0 525.7,419.0 523.6,414.0 521.1,409.2 518.2,404.5 514.9,400.0 511.3,395.7 506.7,391.0 501.7,386.6 496.6,382.4 491.3,378.5 485.2,374.4 478.2,370.2 471.3,366.3 463.0,362.0 453.6,357.5 442.8,352.7 431.6,348.1 421.9,344.4 411.7,340.8 401.8,337.7 392.4,335.0 383.2,332.7 373.4,330.6 363.8,328.8 354.5,327.5 345.3,326.4 335.4,325.6 326.4,325.2 316.6,325.0 307.6,325.1 298.5,325.5 289.3,326.1 280.7,327.0 271.9,328.0 262.9,329.4 253.5,331.0 244.8,332.8 235.7,334.9 227.4,337.1 218.7,339.6 209.7,342.5 200.3,345.8 193.1,348.7 187.1,351.3 181.2,354.4 177.7,356.4 174.4,358.6 171.5,360.8 169.2,362.8 166.3,365.4 163.6,368.1 160.5,371.4 157.5,375.0 152.1,381.7 140.9,396.6 135.5,403.5 130.2,409.8 120.0,421.1 117.3,424.3 115.4,426.7 113.2,430.1 111.5,433.5 110.9,435.2 110.5,437.0 110.2,439.6 110.2,442.6 529.0,442.6Z"/>
<path fill="#89308d" d="M525.4,439.6 525.3,434.5 524.7,429.4 523.6,424.3 522.1,419.3 520.1,414.4 517.7,409.7 514.8,405.1 511.0,400.0 507.4,395.8 502.8,391.2 498.0,386.8 492.2,382.2 486.3,377.9 480.3,374.0 473.6,369.9 466.2,365.7 457.9,361.5 448.3,356.9 438.0,352.3 428.1,348.2 418.7,344.7 408.7,341.2 399.1,338.1 389.8,335.5 380.8,333.3 371.1,331.2 361.7,329.6 352.5,328.3 343.4,327.3 333.6,326.5 324.7,326.1 315.0,326.0 306.0,326.1 297.0,326.5 287.8,327.1 279.2,328.0 270.4,329.1 261.4,330.4 253.0,332.0 244.3,333.8 235.3,335.9 226.9,338.1 218.3,340.7 209.4,343.7 201.3,346.6 194.2,349.5 188.3,352.2 182.5,355.2 179.1,357.3 175.9,359.5 170.7,363.6 168.0,366.2 164.8,369.4 161.7,372.8 158.8,376.3 153.6,383.0 142.6,397.8 137.4,404.6 132.8,410.3 123.0,421.4 118.6,426.9 116.5,430.2 114.8,433.6 114.2,435.3 113.8,437.0 113.5,439.6 113.5,442.6 525.4,442.6Z"/>
<path fill="#843091" d="M521.6,439.6 521.5,434.6 520.9,429.6 519.8,424.6 518.3,419.7 516.4,414.9 514.0,410.2 511.2,405.7 507.5,400.7 503.4,395.9 498.9,391.4 494.2,387.2 488.6,382.7 482.9,378.5 476.3,374.1 469.1,369.7 462.0,365.7 453.7,361.3 444.4,356.9 434.4,352.4 424.9,348.4 415.7,344.9 406.9,341.9 397.4,338.9 388.3,336.3 379.4,334.1 370.7,332.2 361.4,330.6 352.2,329.2 343.3,328.2 333.6,327.5 323.9,327.0 314.3,326.9 305.4,327.0 297.2,327.3 288.1,327.9 279.5,328.7 270.8,329.8 262.7,331.0 254.4,332.4 245.8,334.2 236.9,336.3 228.7,338.5 220.2,341.0 212.5,343.6 204.6,346.5 196.5,349.8 190.7,352.4 185.0,355.4 181.7,357.4 178.5,359.5 175.2,362.0 172.4,364.4 169.7,367.0 166.5,370.2 160.7,377.0 155.1,384.3 144.5,399.0 139.4,405.8 135.5,410.7 126.2,421.6 122.7,426.3 120.1,430.4 118.6,433.7 118.0,435.4 117.6,437.1 117.3,439.6 117.3,442.6 521.6,442.6Z"/>
<path fill="#802f95" d="M517.6,439.6 517.4,433.9 516.7,429.0 515.6,424.1 514.0,419.3 512.0,414.7 509.7,410.1 506.9,405.7 503.2,400.8 499.2,396.2 494.9,391.8 489.7,387.1 484.3,382.7 478.0,378.1 471.7,373.9 464.8,369.6 457.2,365.3 448.5,360.7 439.6,356.4 431.0,352.5 421.8,348.7 412.8,345.3 404.2,342.3 394.9,339.4 385.9,336.8 377.2,334.7 368.7,332.9 359.5,331.3 350.5,330.0 341.6,329.1 332.0,328.3 322.4,327.9 312.9,327.7 304.0,327.8 295.9,328.2 286.7,328.8 278.2,329.6 269.5,330.7 261.4,331.9 253.0,333.4 245.4,335.0 237.5,336.9 229.4,339.1 221.0,341.7 213.4,344.3 205.7,347.2 197.7,350.5 192.1,353.2 186.5,356.2 183.2,358.2 180.1,360.4 176.9,362.8 173.6,365.7 170.9,368.3 167.9,371.5 165.0,374.8 161.7,378.9 155.9,386.8 142.1,406.3 138.4,411.1 130.3,421.2 126.4,426.6 124.1,430.6 122.7,433.8 121.8,437.1 121.5,439.6 121.5,442.6 517.6,442.6Z"/>
<path fill="#782e9b" d="M513.5,439.6 513.2,434.0 512.5,429.2 511.4,424.5 509.6,419.0 507.6,414.5 504.7,409.3 502.0,405.1 498.4,400.3 494.4,395.8 489.6,391.0 484.5,386.5 479.3,382.2 473.3,377.8 466.6,373.3 459.9,369.1 452.4,364.8 444.6,360.7 436.1,356.5 427.8,352.8 418.8,349.0 410.1,345.7 401.6,342.7 392.5,339.9 383.7,337.5 375.1,335.4 366.7,333.7 357.7,332.1 348.8,330.8 340.0,329.9 330.5,329.2 321.1,328.7 311.6,328.6 302.7,328.7 294.6,329.0 286.3,329.6 277.8,330.4 269.1,331.4 261.0,332.7 252.7,334.2 245.1,335.8 237.2,337.8 229.1,340.1 221.9,342.4 214.4,345.0 206.8,348.0 199.0,351.3 193.5,354.0 188.1,357.1 183.9,359.8 180.9,362.0 177.6,364.6 174.9,367.1 171.9,370.2 168.9,373.4 165.6,377.3 162.5,381.4 156.8,389.3 144.4,407.4 134.6,420.8 131.0,426.1 128.8,430.0 127.4,433.1 126.4,436.4 126.1,439.6 126.1,442.6 513.5,442.6Z"/>
<path fill="#742d9f" d="M509.1,439.6 508.8,434.1 508.1,429.5 507.0,424.8 505.2,419.5 502.9,414.3 500.1,409.4 497.0,404.6 493.4,400.0 489.0,395.0 484.3,390.3 479.4,386.0 473.7,381.4 468.0,377.1 461.6,372.8 454.5,368.4 447.3,364.2 439.8,360.3 431.6,356.2 423.6,352.6 414.9,349.0 406.4,345.8 398.2,343.0 389.4,340.2 380.7,337.9 372.3,335.9 364.0,334.3 355.1,332.8 346.4,331.6 337.7,330.7 328.3,330.0 318.9,329.6 309.5,329.5 300.7,329.6 292.6,329.9 284.3,330.5 275.8,331.3 267.9,332.3 259.8,333.6 252.4,335.0 244.8,336.7 237.0,338.7 229.0,341.0 221.8,343.4 214.4,346.1 206.9,349.2 200.5,352.2 195.1,354.9 189.8,358.0 185.7,360.7 182.7,362.9 179.1,366.0 176.0,369.0 173.0,372.1 169.7,375.9 166.5,379.8 163.0,384.5 157.1,393.0 146.5,409.3 138.4,421.2 135.6,425.6 133.6,429.4 132.0,433.3 131.2,436.5 130.9,439.6 130.9,442.6 509.1,442.6Z"/>
<path fill="#6c2ca5" d="M504.6,439.6 504.3,435.0 503.6,429.7 502.2,424.5 500.4,419.3 498.1,414.3 495.4,409.4 492.4,404.8 488.9,400.3 484.7,395.5 480.2,390.9 475.0,386.1 469.6,381.6 463.5,377.1 457.3,372.8 450.6,368.6 443.3,364.3 436.2,360.5 428.3,356.5 420.5,353.0 412.0,349.4 403.8,346.3 395.8,343.6 387.9,341.2 379.5,338.8 371.2,336.9 363.0,335.3 354.3,333.8 345.6,332.6 336.3,331.6 327.0,330.9 317.7,330.5 308.3,330.4 299.5,330.5 291.4,330.8 283.1,331.4 275.5,332.2 267.6,333.2 260.5,334.3 253.1,335.7 245.6,337.4 237.8,339.4 230.9,341.4 223.8,343.8 216.6,346.5 209.3,349.6 203.0,352.6 197.8,355.3 192.6,358.3 188.6,361.0 184.8,363.9 181.2,367.0 178.1,369.9 174.8,373.5 171.1,377.8 167.6,382.3 164.2,387.0 160.5,392.5 156.1,399.3 143.7,419.4 140.4,425.2 138.6,428.9 137.1,432.7 136.2,436.5 135.9,439.6 135.9,442.6 504.6,442.6Z"/>
<path fill="#6a2ba7" d="M499.9,439.6 499.7,435.2 498.9,430.0 497.6,424.9 495.8,419.9 493.6,415.0 490.7,409.6 487.7,405.1 483.9,400.1 479.9,395.4 475.1,390.5 470.0,385.8 464.3,381.0 458.4,376.6 452.0,372.1 445.5,368.0 438.5,363.9 431.7,360.2 424.0,356.4 416.5,353.0 408.3,349.6 400.3,346.6 392.5,344.0 384.8,341.6 376.5,339.4 368.4,337.6 360.4,336.0 351.8,334.6 343.3,333.5 334.1,332.5 324.9,331.9 315.6,331.5 307.1,331.4 299.2,331.5 291.1,331.8 282.9,332.4 275.2,333.1 267.4,334.1 260.3,335.3 253.0,336.7 245.5,338.4 237.8,340.5 230.9,342.6 224.0,345.0 217.9,347.4 210.8,350.5 204.6,353.6 199.6,356.3 194.6,359.4 190.7,362.1 187.0,365.0 183.0,368.5 179.5,371.9 175.8,376.1 172.2,380.4 168.9,384.9 165.2,390.2 161.3,396.3 156.8,403.8 148.9,417.8 145.6,424.1 143.6,428.4 142.1,432.9 141.3,436.6 141.1,439.6 141.1,442.6 499.9,442.6Z"/>
<path fill="#682ba9" d="M498.8,439.6 498.5,434.5 497.6,429.3 496.2,424.2 494.4,419.3 492.2,414.5 489.2,409.1 486.2,404.7 482.5,399.8 478.5,395.1 473.7,390.2 468.7,385.6 463.0,380.9 457.2,376.5 450.8,372.1 444.0,367.7 437.1,363.7 430.3,360.1 422.7,356.3 415.3,352.9 407.2,349.6 399.2,346.6 391.5,344.0 383.9,341.7 375.6,339.5 367.5,337.7 359.6,336.2 351.0,334.8 342.5,333.7 333.3,332.8 324.2,332.1 314.9,331.7 306.4,331.6 298.5,331.7 290.4,332.1 282.2,332.6 274.5,333.4 266.7,334.5 259.6,335.6 252.2,337.1 244.7,338.9 238.0,340.7 231.2,342.8 224.2,345.3 218.2,347.7 212.2,350.3 206.1,353.3 200.0,356.6 195.0,359.7 191.2,362.4 187.5,365.2 183.5,368.8 180.1,372.2 176.4,376.3 172.9,380.6 169.5,385.1 165.9,390.4 162.0,396.4 157.6,404.0 150.6,416.5 146.9,423.5 145.0,427.8 143.5,432.2 142.6,435.9 142.3,439.6 142.3,442.6 498.8,442.6Z"/>
<path fill="#682ba9" d="M497.7,439.6 497.3,434.5 496.5,429.4 495.1,424.4 493.3,419.4 491.1,414.6 488.2,409.3 485.2,404.9 481.5,400.0 477.6,395.4 472.8,390.5 467.9,385.9 462.3,381.2 456.6,376.8 450.3,372.4 443.5,368.0 436.7,364.0 430.0,360.4 422.4,356.6 415.0,353.2 406.9,349.9 399.0,346.9 391.3,344.3 383.7,342.0 375.5,339.8 367.4,338.0 359.5,336.5 351.0,335.1 342.5,334.0 333.4,333.0 324.2,332.4 315.0,332.0 306.5,331.9 298.6,332.0 290.5,332.3 282.3,332.9 274.7,333.6 266.9,334.7 259.7,335.9 252.4,337.3 244.9,339.1 238.3,340.9 231.5,343.0 224.5,345.5 218.6,347.9 212.5,350.6 206.5,353.5 200.4,356.9 195.5,359.9 190.8,363.3 187.2,366.3 183.6,369.5 180.2,372.9 176.5,377.1 173.1,381.4 169.7,385.9 166.2,391.2 162.0,397.8 157.6,405.4 151.5,416.6 148.0,423.6 146.1,427.8 144.7,432.2 143.8,435.9 143.5,439.6 143.5,442.6 497.7,442.6Z"/>
<path fill="#652aab" d="M496.6,439.6 496.2,434.5 495.3,429.5 494.0,424.5 492.2,419.6 490.0,414.8 487.1,409.5 484.2,405.1 480.6,400.3 476.2,395.1 471.5,390.3 466.6,385.7 461.1,381.1 454.8,376.3 448.6,371.9 442.0,367.7 435.3,363.8 428.6,360.2 421.2,356.5 413.8,353.2 405.8,349.8 397.9,346.9 390.3,344.3 382.8,342.1 374.6,339.9 366.6,338.1 358.7,336.6 350.2,335.2 341.7,334.2 332.6,333.2 323.5,332.6 314.3,332.2 305.8,332.1 297.9,332.2 289.8,332.6 281.6,333.2 274.0,334.0 266.2,335.0 259.0,336.2 251.7,337.7 245.2,339.3 238.5,341.1 231.7,343.3 224.8,345.7 218.9,348.1 212.9,350.8 206.9,353.8 200.9,357.1 196.0,360.2 191.3,363.6 187.7,366.5 184.2,369.8 180.8,373.2 177.2,377.3 173.7,381.6 170.0,386.7 166.4,391.9 162.3,398.6 158.0,406.2 152.4,416.8 149.0,423.6 147.3,427.9 145.8,432.3 145.1,435.9 144.8,439.6 144.8,442.6 496.6,442.6Z"/>
<path fill="#652aab" d="M495.4,439.6 495.0,434.6 494.2,429.5 492.9,424.6 491.1,419.7 488.9,415.0 486.1,409.7 482.8,404.7 479.1,399.9 474.8,394.8 470.1,390.1 465.3,385.6 459.8,380.9 454.2,376.6 448.0,372.3 441.5,368.1 434.8,364.1 428.2,360.5 420.8,356.8 413.6,353.5 405.6,350.1 397.7,347.2 390.1,344.6 382.6,342.4 374.5,340.3 366.5,338.4 358.6,336.9 350.1,335.5 341.7,334.4 332.6,333.5 323.5,332.9 314.4,332.5 305.9,332.4 298.0,332.5 290.0,332.8 281.7,333.4 274.1,334.2 266.3,335.3 259.2,336.5 251.9,338.0 245.4,339.5 238.7,341.4 232.0,343.5 225.1,346.0 219.2,348.4 213.3,351.1 207.3,354.1 201.4,357.4 196.5,360.5 191.9,363.9 188.3,366.8 184.8,370.0 181.0,374.0 177.3,378.1 173.9,382.4 170.2,387.5 166.7,392.7 162.7,399.4 158.8,406.4 153.7,416.2 150.4,423.0 148.4,428.0 147.0,432.3 146.3,436.0 146.0,439.6 146.0,442.6 495.4,442.6Z"/>
<path fill="#632aad" d="M494.3,439.6 493.9,434.6 493.0,429.6 491.7,424.7 490.0,419.8 487.9,415.1 485.0,409.9 481.8,404.9 478.2,400.2 473.9,395.1 469.3,390.3 464.5,385.9 459.1,381.2 453.6,376.9 447.5,372.6 441.0,368.4 434.4,364.4 427.9,360.8 420.5,357.1 413.3,353.8 405.3,350.5 397.5,347.5 389.9,345.0 382.5,342.7 374.3,340.6 366.4,338.8 358.6,337.2 350.1,335.8 341.7,334.7 332.7,333.8 323.6,333.2 314.4,332.8 306.0,332.6 298.1,332.7 290.1,333.1 282.7,333.6 275.1,334.3 267.4,335.4 260.3,336.5 253.0,338.0 246.6,339.5 240.0,341.3 233.2,343.4 226.4,345.9 220.5,348.2 214.6,350.9 208.7,353.8 202.8,357.1 198.0,360.2 193.3,363.5 189.7,366.4 185.9,369.9 182.0,373.7 178.4,377.8 175.0,382.1 171.3,387.1 167.8,392.3 163.8,399.0 159.9,405.9 154.9,415.7 151.7,422.4 149.8,427.3 148.4,431.6 147.5,436.0 147.3,439.6 147.3,442.6 494.3,442.6Z"/>
<path fill="#632aad" d="M493.1,439.6 492.7,434.6 491.9,429.7 490.6,424.8 488.9,420.0 486.7,415.3 483.9,410.1 480.7,405.2 477.2,400.4 473.0,395.4 468.4,390.6 463.8,386.2 458.4,381.6 452.4,376.9 446.3,372.5 439.6,368.1 433.0,364.2 426.5,360.7 419.2,357.0 412.1,353.7 404.2,350.4 396.4,347.6 388.9,345.0 381.5,342.8 373.4,340.7 365.5,338.9 357.7,337.4 349.3,336.0 341.0,335.0 331.9,334.1 322.9,333.4 313.7,333.0 305.3,332.9 297.4,333.0 289.4,333.4 282.0,333.9 274.4,334.7 266.7,335.7 259.6,337.0 252.3,338.4 245.9,340.0 239.3,341.9 232.6,344.0 226.7,346.1 220.9,348.5 215.0,351.2 209.1,354.1 203.3,357.4 198.5,360.5 193.9,363.8 190.3,366.7 186.5,370.1 182.7,374.0 179.1,378.1 175.2,382.9 171.6,387.9 168.2,393.1 164.2,399.8 160.4,406.7 155.8,415.8 152.8,422.6 150.9,427.4 149.6,431.7 148.8,436.0 148.5,439.6 148.5,442.6 493.1,442.6Z"/>
<path fill="#602aaf" d="M492.0,439.6 491.6,434.7 490.7,429.7 489.4,424.9 487.7,420.1 485.6,415.5 482.9,410.3 479.7,405.4 475.8,400.1 471.6,395.1 467.1,390.4 461.9,385.5 456.6,381.0 450.7,376.4 444.7,372.1 438.1,367.9 431.6,364.0 425.2,360.5 418.0,356.9 410.9,353.7 403.0,350.4 396.2,347.9 388.7,345.3 381.3,343.1 373.3,341.0 365.4,339.2 357.7,337.7 349.3,336.4 340.9,335.3 331.9,334.4 322.9,333.7 313.8,333.3 305.4,333.2 297.5,333.3 289.5,333.6 282.2,334.2 274.6,334.9 266.9,336.0 259.8,337.2 252.6,338.7 246.1,340.3 239.5,342.1 232.8,344.3 227.1,346.4 221.2,348.8 215.4,351.5 209.5,354.4 203.8,357.7 199.0,360.8 194.4,364.1 190.9,367.0 186.6,370.9 182.8,374.8 179.3,378.9 175.5,383.7 171.9,388.7 168.5,393.9 164.9,400.0 161.2,406.8 157.1,415.3 154.1,422.0 152.3,426.8 150.8,431.7 150.0,436.0 149.8,439.6 149.8,442.6 492.0,442.6Z"/>
<path fill="#602aaf" d="M490.8,439.6 490.4,434.7 489.6,429.8 488.3,425.0 486.6,420.2 484.5,415.6 481.8,410.5 478.7,405.6 474.8,400.4 470.6,395.4 466.3,390.7 461.2,385.9 455.9,381.3 450.0,376.7 444.1,372.5 437.6,368.2 431.2,364.4 424.8,360.9 417.6,357.3 410.6,354.0 402.8,350.8 396.0,348.2 388.5,345.7 381.2,343.5 373.2,341.3 365.3,339.5 357.6,338.0 349.2,336.7 340.9,335.6 331.9,334.7 322.9,334.0 313.9,333.6 305.4,333.5 297.6,333.6 289.6,333.9 282.3,334.4 274.8,335.2 267.0,336.3 260.0,337.5 252.8,339.0 246.3,340.5 239.8,342.4 233.1,344.6 227.4,346.7 221.6,349.1 215.8,351.8 210.0,354.7 204.2,358.0 199.5,361.1 195.0,364.4 191.5,367.3 187.2,371.2 183.5,375.1 180.0,379.1 176.2,383.9 172.6,388.9 169.2,394.1 165.4,400.7 161.7,407.6 158.0,415.4 155.1,422.1 153.4,426.9 152.0,431.8 151.2,436.1 151.0,439.6 151.0,442.6 490.8,442.6Z"/>
<path fill="#5e29b1" d="M489.6,439.6 489.2,434.7 488.4,429.9 487.1,425.1 485.2,419.7 483.1,415.2 480.3,410.1 477.2,405.3 473.4,400.1 469.3,395.2 464.9,390.5 459.9,385.7 454.7,381.2 448.9,376.6 442.6,372.2 436.2,368.0 429.8,364.2 423.5,360.7 416.4,357.2 409.4,354.0 401.6,350.8 394.9,348.3 387.5,345.7 380.2,343.6 372.2,341.5 364.4,339.7 356.7,338.2 348.4,336.9 340.1,335.8 331.2,334.9 322.2,334.3 313.2,333.9 304.7,333.8 296.9,333.9 289.0,334.2 281.6,334.8 274.1,335.6 267.2,336.5 260.2,337.7 253.0,339.2 246.6,340.8 240.1,342.7 233.4,344.8 227.7,347.0 222.0,349.4 216.2,352.1 210.4,355.0 204.7,358.4 200.1,361.4 195.6,364.7 192.1,367.6 187.9,371.5 184.1,375.4 180.2,379.9 176.5,384.7 173.0,389.7 169.6,394.9 166.2,400.9 162.6,407.8 159.2,414.9 156.4,421.5 154.7,426.3 153.3,431.1 152.6,435.4 152.3,439.6 152.3,442.6 489.6,442.6Z"/>
<path fill="#5b29b3" d="M488.4,439.6 488.1,434.8 487.2,429.9 485.9,425.2 484.0,419.9 482.0,415.3 479.3,410.3 476.2,405.5 472.4,400.3 468.3,395.4 464.1,390.8 459.1,386.0 454.0,381.5 448.2,377.0 442.0,372.5 435.7,368.3 429.4,364.5 423.1,361.1 416.0,357.5 409.1,354.3 401.4,351.1 394.7,348.6 387.3,346.1 380.0,343.9 372.1,341.8 364.3,340.1 356.7,338.6 348.3,337.2 340.1,336.2 331.2,335.3 322.2,334.6 313.2,334.2 304.8,334.1 297.0,334.2 289.1,334.5 281.7,335.1 274.2,335.9 267.4,336.8 260.4,338.0 253.2,339.5 246.8,341.1 240.3,343.0 234.7,344.8 228.1,347.3 222.3,349.7 216.6,352.4 210.9,355.4 205.2,358.7 200.6,361.7 196.2,365.1 191.9,368.7 188.0,372.3 184.4,376.1 180.9,380.2 177.2,385.0 173.7,390.0 170.4,395.1 166.9,401.1 163.4,407.9 160.2,415.0 157.5,421.6 155.8,426.4 154.5,431.2 153.8,435.4 153.5,439.6 153.5,442.6 488.4,442.6Z"/>
<path fill="#5b29b3" d="M487.2,439.6 486.9,434.8 486.0,430.0 484.8,425.3 482.9,420.0 480.5,414.9 477.8,409.9 474.8,405.2 471.0,400.1 467.0,395.2 462.7,390.6 457.8,385.9 452.7,381.4 447.0,376.9 441.4,372.9 435.2,368.7 428.9,364.9 422.7,361.4 415.6,357.9 408.7,354.7 401.1,351.5 394.4,348.9 387.0,346.4 379.8,344.3 371.9,342.2 364.2,340.4 356.6,338.9 348.3,337.6 340.1,336.5 331.2,335.6 322.3,334.9 313.3,334.5 304.9,334.4 297.1,334.5 289.2,334.8 281.9,335.4 274.4,336.2 267.6,337.1 260.6,338.3 253.5,339.8 247.1,341.4 240.6,343.3 235.0,345.1 228.4,347.6 222.7,350.0 217.0,352.7 211.4,355.7 205.8,359.0 201.2,362.1 196.7,365.4 192.5,369.0 188.7,372.6 185.0,376.4 181.2,381.0 177.5,385.8 174.0,390.8 170.8,396.0 167.4,401.9 164.3,408.1 161.1,415.1 158.8,421.1 157.0,426.5 155.7,431.3 155.0,435.4 154.7,439.6 154.7,442.6 487.2,442.6Z"/>
<path fill="#5928b5" d="M486.1,439.6 485.7,434.8 484.8,430.1 483.6,425.4 481.7,420.2 479.4,415.1 476.7,410.1 473.7,405.4 470.0,400.3 466.0,395.5 461.4,390.5 456.5,385.7 451.5,381.3 445.9,376.9 440.0,372.6 433.7,368.5 427.5,364.7 421.3,361.3 414.4,357.8 407.5,354.6 399.9,351.5 393.3,349.0 386.0,346.5 378.8,344.4 371.0,342.3 363.3,340.6 355.7,339.1 347.5,337.8 339.3,336.7 330.4,335.9 321.5,335.2 313.3,334.8 305.0,334.7 297.2,334.8 289.3,335.2 282.0,335.7 274.6,336.5 267.8,337.4 260.8,338.6 253.7,340.1 247.3,341.7 240.9,343.6 235.3,345.4 228.8,347.9 223.1,350.3 217.4,353.0 211.8,356.1 206.3,359.4 201.7,362.4 197.3,365.7 193.1,369.3 189.3,372.9 185.7,376.8 181.9,381.3 178.2,386.0 174.8,391.0 171.6,396.2 168.2,402.1 165.2,408.3 162.3,414.6 159.8,421.2 158.1,426.5 156.9,431.3 156.2,435.5 156.0,439.6 156.0,442.6 486.1,442.6Z"/>
<path fill="#5928b5" d="M484.9,439.6 484.5,434.9 483.5,429.5 482.2,424.8 480.3,419.7 478.0,414.6 475.3,409.7 472.3,405.1 468.6,400.0 464.7,395.3 460.0,390.3 455.2,385.6 450.3,381.3 445.2,377.2 439.4,372.9 433.2,368.8 427.0,365.1 420.9,361.7 414.0,358.2 407.2,355.0 399.6,351.8 393.1,349.4 385.8,346.9 378.6,344.7 370.8,342.7 363.2,340.9 355.6,339.5 347.4,338.1 339.3,337.1 330.4,336.2 321.6,335.5 313.4,335.2 305.0,335.0 297.3,335.1 290.2,335.4 283.0,336.0 275.6,336.7 268.8,337.6 261.9,338.8 254.8,340.3 248.5,341.8 242.1,343.6 235.6,345.8 230.0,347.9 224.4,350.3 218.8,352.9 213.2,355.9 207.7,359.2 203.2,362.2 198.8,365.4 194.6,368.9 190.5,372.8 186.4,377.1 182.6,381.6 179.0,386.3 175.6,391.3 172.4,396.4 169.4,401.7 166.3,407.8 163.6,414.1 161.1,420.6 159.4,426.0 158.2,430.7 157.5,435.5 157.2,439.6 157.2,442.6 484.9,442.6Z"/>
<path fill="#5728b7" d="M483.7,439.6 483.3,434.9 482.5,430.2 481.2,425.6 479.4,420.4 477.2,415.4 474.5,410.6 471.2,405.3 467.6,400.3 463.7,395.6 459.2,390.6 454.4,385.9 449.5,381.6 444.0,377.2 437.9,372.7 431.8,368.6 425.7,364.9 419.6,361.6 412.7,358.1 406.0,355.0 398.5,351.9 392.0,349.4 384.7,347.0 377.6,344.9 369.9,342.8 362.3,341.1 354.7,339.7 346.6,338.4 338.5,337.4 329.7,336.5 320.8,335.9 312.6,335.5 304.3,335.4 296.6,335.5 289.5,335.8 282.3,336.4 274.9,337.1 268.1,338.1 261.2,339.3 254.2,340.8 247.9,342.4 241.5,344.3 236.0,346.1 229.5,348.6 223.9,351.0 218.3,353.7 213.7,356.2 208.2,359.5 203.8,362.5 199.4,365.8 195.2,369.3 191.1,373.1 187.1,377.4 183.3,381.9 179.7,386.6 176.3,391.5 173.2,396.6 170.2,401.9 167.2,408.0 164.5,414.3 162.3,420.1 160.7,425.4 159.4,430.8 158.7,435.5 158.5,439.6 158.5,442.6 483.7,442.6Z"/>
<path fill="#5728b7" d="M482.4,439.6 482.1,435.0 481.1,429.6 479.8,425.1 478.0,419.9 475.7,415.0 473.1,410.2 469.8,405.0 466.2,400.0 462.4,395.3 457.9,390.4 453.1,385.8 448.3,381.5 442.9,377.1 437.3,373.0 431.2,369.0 425.2,365.3 419.1,361.9 412.3,358.5 405.6,355.4 398.2,352.2 391.7,349.8 384.5,347.4 377.4,345.2 369.7,343.2 362.1,341.5 354.6,340.1 346.5,338.8 338.4,337.7 329.6,336.8 320.8,336.2 312.7,335.9 304.4,335.7 296.7,335.9 289.7,336.2 282.4,336.7 275.0,337.5 268.3,338.4 261.4,339.6 254.4,341.2 248.1,342.7 241.8,344.6 236.3,346.5 229.8,349.0 224.3,351.4 218.8,354.1 214.2,356.6 208.8,359.9 204.3,362.9 200.0,366.2 195.9,369.6 191.8,373.5 187.8,377.7 184.0,382.2 180.5,386.9 177.1,391.8 174.0,396.9 170.7,402.7 168.1,408.2 165.5,414.4 163.3,420.2 161.8,425.5 160.6,430.8 159.9,435.6 159.7,439.6 159.7,442.6 482.4,442.6Z"/>
<path fill="#5428b9" d="M481.2,439.6 480.9,435.0 479.9,429.7 478.7,425.2 476.8,420.1 474.6,415.2 472.0,410.4 468.8,405.2 465.2,400.3 461.4,395.6 457.0,390.7 452.3,386.1 447.6,381.9 442.2,377.5 436.6,373.4 430.6,369.3 424.6,365.7 418.7,362.3 411.9,358.8 405.3,355.7 397.9,352.6 391.4,350.2 384.2,347.7 377.2,345.6 369.5,343.6 362.0,341.9 354.5,340.4 346.4,339.1 338.3,338.1 329.6,337.2 320.8,336.6 312.7,336.2 304.5,336.1 296.8,336.2 289.8,336.5 282.6,337.1 275.2,337.8 268.5,338.8 261.6,340.0 255.5,341.3 249.3,342.9 243.0,344.7 237.5,346.5 231.1,349.0 225.6,351.4 220.1,354.0 214.7,357.0 209.3,360.3 204.9,363.3 199.8,367.2 195.8,370.7 192.1,374.3 188.1,378.5 184.4,383.0 180.9,387.7 177.5,392.6 174.5,397.7 171.3,403.5 168.7,409.0 166.4,414.6 164.4,420.4 162.9,425.6 161.8,430.2 161.2,434.9 160.9,439.6 160.9,442.6 481.2,442.6Z"/>
<path fill="#5428b9" d="M480.0,439.6 479.6,435.0 478.7,429.8 477.5,425.3 475.6,420.2 473.4,415.3 470.6,410.0 467.3,404.9 463.8,400.1 460.1,395.4 455.7,390.6 451.1,386.0 446.3,381.8 441.0,377.4 435.2,373.1 429.2,369.2 423.3,365.5 417.4,362.2 410.7,358.8 404.0,355.7 397.5,353.0 391.1,350.5 384.0,348.1 377.0,346.0 369.3,344.0 361.8,342.2 354.4,340.8 346.3,339.5 338.3,338.5 329.6,337.6 320.8,336.9 312.7,336.6 304.5,336.5 296.9,336.6 289.9,336.9 282.7,337.4 275.4,338.2 268.7,339.2 261.9,340.4 255.8,341.7 249.6,343.2 243.3,345.1 237.9,346.9 231.5,349.4 226.0,351.7 220.6,354.4 215.2,357.4 209.9,360.7 205.5,363.7 200.5,367.6 196.4,371.1 192.8,374.7 188.9,378.9 185.1,383.3 181.6,388.0 178.3,392.8 175.3,397.9 172.5,403.2 169.9,408.6 167.6,414.1 165.6,419.8 164.1,425.0 163.0,430.3 162.4,435.0 162.1,439.6 162.1,442.6 480.0,442.6Z"/>
<path fill="#5227bb" d="M478.8,439.6 478.4,435.1 477.5,429.9 476.3,425.4 474.5,420.4 472.3,415.5 469.5,410.2 466.3,405.2 462.8,400.3 459.1,395.7 454.8,390.9 450.2,386.4 445.1,381.7 439.8,377.4 434.5,373.5 428.6,369.5 422.8,365.9 416.9,362.6 410.2,359.2 403.7,356.1 397.2,353.4 390.8,350.9 383.7,348.5 376.7,346.4 369.1,344.3 361.6,342.6 354.2,341.2 346.2,339.9 338.2,338.8 329.5,338.0 320.8,337.3 312.7,337.0 304.5,336.8 297.0,337.0 290.0,337.3 282.8,337.8 275.5,338.6 268.9,339.5 262.1,340.8 256.0,342.1 249.9,343.6 243.6,345.5 238.2,347.3 231.9,349.8 226.5,352.1 221.1,354.8 215.7,357.8 210.4,361.1 206.1,364.1 201.1,368.0 197.1,371.5 193.5,375.0 189.6,379.2 185.9,383.6 182.4,388.3 179.2,393.1 176.1,398.2 173.3,403.4 170.8,408.8 168.6,414.3 166.6,420.0 165.2,425.1 164.2,430.4 163.6,435.0 163.4,439.6 163.4,442.6 478.8,442.6Z"/>
<path fill="#5027bd" d="M477.5,439.6 477.2,435.1 476.3,429.9 475.1,425.5 473.3,420.5 471.1,415.7 468.4,410.4 465.2,405.4 461.8,400.6 458.2,396.0 453.9,391.2 449.4,386.7 444.3,382.1 439.1,377.8 433.9,373.9 428.0,369.9 422.2,366.3 416.4,363.0 409.8,359.6 403.3,356.5 396.8,353.8 390.5,351.3 383.4,348.9 376.5,346.7 368.9,344.7 361.4,343.0 354.1,341.6 346.1,340.3 338.1,339.2 329.5,338.3 320.8,337.7 312.8,337.4 304.6,337.2 297.0,337.4 290.1,337.7 283.0,338.2 275.7,339.0 269.1,339.9 262.3,341.2 256.3,342.5 250.1,344.0 243.9,345.9 238.6,347.7 232.3,350.2 226.9,352.6 221.5,355.2 216.2,358.2 211.0,361.5 206.7,364.5 201.8,368.4 197.8,371.9 194.2,375.4 190.3,379.6 186.7,384.0 183.2,388.6 180.0,393.4 177.0,398.4 174.2,403.6 171.7,408.9 169.5,414.5 167.9,419.5 166.5,424.6 165.4,429.8 164.8,435.0 164.6,439.6 164.6,442.6 477.5,442.6Z"/>
<path fill="#5027bd" d="M476.3,439.6 475.9,435.1 475.0,430.0 473.8,425.6 472.1,420.7 470.0,415.9 467.2,410.7 464.2,405.7 460.8,400.9 457.2,396.3 453.0,391.5 448.6,387.0 443.5,382.4 438.4,378.1 433.2,374.2 427.4,370.3 421.7,366.7 415.9,363.4 409.3,360.0 402.8,356.9 396.4,354.1 390.1,351.7 383.1,349.3 376.2,347.1 368.7,345.1 361.2,343.4 353.9,342.0 345.9,340.7 338.0,339.6 329.4,338.7 320.8,338.1 312.8,337.8 304.6,337.6 297.1,337.8 290.2,338.1 283.1,338.6 275.8,339.4 269.2,340.4 262.5,341.6 256.5,342.9 250.4,344.5 244.3,346.3 238.9,348.1 232.7,350.6 227.3,353.0 222.0,355.7 217.6,358.1 212.4,361.4 208.2,364.3 203.2,368.1 199.3,371.6 195.4,375.3 191.5,379.5 187.5,384.3 184.0,388.9 180.8,393.7 177.8,398.7 175.1,403.8 172.7,409.1 170.5,414.6 168.9,419.6 167.6,424.7 166.6,429.8 165.9,435.1 165.8,439.6 165.8,442.6 476.3,442.6Z"/>
<path fill="#4d26bf" d="M475.1,439.6 474.7,435.2 473.8,430.1 472.4,425.1 470.7,420.2 468.6,415.5 465.8,410.3 462.7,405.4 459.4,400.6 455.8,396.1 451.7,391.4 447.3,386.9 442.3,382.4 437.2,378.1 431.7,374.0 426.0,370.1 420.3,366.6 414.6,363.3 408.1,359.9 401.6,356.9 395.3,354.2 389.0,351.8 382.0,349.4 375.2,347.3 367.7,345.3 360.3,343.6 353.0,342.2 345.1,341.0 337.2,339.9 328.6,339.1 320.7,338.5 312.8,338.2 304.7,338.0 297.2,338.2 290.3,338.5 283.2,339.0 276.0,339.8 269.4,340.8 262.7,342.0 256.8,343.3 250.7,344.9 244.6,346.7 239.3,348.6 234.0,350.7 228.7,353.0 223.4,355.6 218.1,358.6 213.0,361.8 208.8,364.7 203.9,368.6 200.0,372.0 195.7,376.2 191.9,380.3 188.2,384.6 184.8,389.2 181.6,394.0 178.7,398.9 176.0,404.0 173.6,409.3 171.5,414.8 169.9,419.8 168.7,424.8 167.7,429.9 167.1,435.1 166.9,439.6 166.9,442.6 475.1,442.6Z"/>
<path fill="#4d26bf" d="M473.8,439.6 473.5,435.2 472.6,430.2 471.2,425.2 469.5,420.4 467.4,415.7 464.7,410.5 461.7,405.6 458.4,400.9 454.9,396.4 450.7,391.7 446.4,387.3 441.5,382.7 436.5,378.5 431.1,374.4 425.4,370.5 419.7,366.9 414.0,363.7 407.6,360.3 401.2,357.3 394.9,354.6 388.6,352.2 381.7,349.8 374.9,347.7 367.5,345.7 360.1,344.1 352.8,342.6 344.9,341.4 337.1,340.4 328.5,339.5 320.7,338.9 312.7,338.6 304.7,338.5 297.2,338.6 290.3,338.9 283.3,339.5 276.1,340.3 269.6,341.2 262.9,342.4 257.0,343.8 251.0,345.3 244.9,347.2 239.6,349.0 234.4,351.1 229.1,353.5 223.9,356.1 218.7,359.0 213.6,362.3 209.4,365.2 204.6,369.0 200.7,372.4 196.4,376.6 192.6,380.7 189.0,385.0 185.7,389.5 182.5,394.3 179.6,399.2 176.9,404.3 174.8,409.0 172.7,414.4 171.1,419.3 169.9,424.3 168.9,429.4 168.3,434.5 168.1,439.6 168.1,442.6 473.8,442.6Z"/>
<path fill="#4c26be" d="M472.5,439.6 472.2,435.2 471.3,430.2 470.0,425.3 468.3,420.5 466.2,415.8 463.6,410.7 460.6,405.9 457.4,401.2 453.9,396.7 449.8,392.0 445.6,387.6 440.7,383.1 435.7,378.9 430.4,374.8 424.8,370.9 419.1,367.3 413.5,364.1 407.1,360.7 400.7,357.7 394.5,355.0 388.3,352.6 381.4,350.2 374.6,348.1 367.2,346.1 359.9,344.5 352.7,343.1 345.5,341.9 337.7,340.9 329.2,340.0 321.4,339.4 313.5,339.0 305.4,338.9 298.0,339.0 291.2,339.3 284.2,339.8 277.1,340.6 270.6,341.5 264.0,342.7 258.1,344.0 252.1,345.6 246.1,347.4 240.9,349.2 234.8,351.6 229.5,353.9 224.3,356.6 219.2,359.5 214.2,362.7 210.0,365.6 205.3,369.4 201.4,372.8 197.2,377.0 193.4,381.0 189.8,385.3 186.5,389.8 183.3,394.5 180.4,399.4 177.8,404.5 175.7,409.2 173.7,414.5 172.2,419.4 171.0,424.4 170.1,429.4 169.5,434.5 169.3,439.6 169.3,442.6 472.5,442.6Z"/>
<path fill="#4c26be" d="M471.3,439.6 470.9,435.3 470.1,430.3 468.8,425.4 467.1,420.7 465.1,416.0 462.4,411.0 459.5,406.1 455.9,401.0 452.5,396.5 448.5,391.9 444.2,387.5 439.4,383.0 434.5,378.9 429.6,375.2 424.1,371.3 418.5,367.7 412.9,364.5 406.6,361.1 400.3,358.1 394.0,355.4 387.9,353.0 381.1,350.6 374.3,348.6 366.9,346.6 359.6,344.9 352.4,343.5 345.3,342.3 337.5,341.3 329.1,340.4 321.3,339.8 313.4,339.5 305.4,339.4 298.0,339.5 291.3,339.8 284.3,340.3 277.2,341.1 270.8,342.0 264.2,343.2 258.4,344.5 252.4,346.0 246.4,347.9 241.2,349.7 236.1,351.7 230.9,354.0 225.7,356.6 220.6,359.5 215.6,362.6 211.5,365.5 206.7,369.2 202.9,372.6 198.8,376.5 194.6,381.0 190.7,385.7 187.3,390.2 184.2,394.9 181.3,399.7 178.7,404.8 176.7,409.4 174.7,414.7 173.2,419.6 172.0,424.5 171.2,429.5 170.6,434.6 170.5,439.6 170.5,442.6 471.3,442.6Z"/>
<path fill="#4a26bc" d="M470.0,439.6 469.6,435.3 468.8,430.4 467.5,425.5 465.8,420.8 463.9,416.2 461.3,411.2 458.4,406.4 454.9,401.2 451.5,396.8 447.5,392.2 443.3,387.9 438.6,383.4 433.7,379.3 428.1,375.0 422.6,371.2 417.1,367.7 411.5,364.5 405.2,361.2 399.0,358.2 392.8,355.5 386.7,353.2 379.9,350.8 373.2,348.8 366.6,347.0 359.4,345.3 352.2,343.9 345.1,342.8 337.4,341.7 328.9,340.9 321.2,340.3 313.4,339.9 305.4,339.8 298.1,339.9 291.3,340.3 284.4,340.8 277.4,341.6 271.0,342.5 264.4,343.7 258.6,345.0 252.7,346.6 246.8,348.4 241.6,350.2 236.5,352.2 231.3,354.5 226.2,357.1 221.1,360.0 216.2,363.1 212.1,366.0 207.4,369.7 203.6,373.0 199.5,377.0 195.4,381.4 191.5,386.1 188.2,390.5 185.1,395.2 182.2,400.0 179.7,405.0 177.7,409.6 175.7,414.9 174.2,419.7 173.1,424.6 172.3,429.6 171.8,434.6 171.6,439.6 171.6,442.6 470.0,442.6Z"/>
<path fill="#4926ba" d="M468.6,439.6 468.3,435.3 467.5,430.5 466.2,425.7 464.6,421.0 462.6,416.4 460.1,411.4 457.2,406.6 453.8,401.5 450.4,397.1 446.5,392.6 442.4,388.2 437.7,383.8 432.9,379.6 428.1,375.9 422.7,372.1 417.2,368.6 411.7,365.3 405.5,362.0 399.3,359.0 393.1,356.3 387.0,353.9 380.3,351.5 373.6,349.4 367.0,347.6 359.8,345.9 352.7,344.5 345.6,343.3 337.9,342.3 330.2,341.4 321.8,340.8 314.0,340.4 306.1,340.3 298.8,340.4 292.1,340.7 285.3,341.2 279.1,341.9 272.7,342.8 266.3,343.9 259.7,345.4 253.8,346.9 247.9,348.6 242.8,350.4 236.9,352.8 231.8,355.1 226.7,357.6 221.7,360.5 216.8,363.7 212.8,366.5 208.1,370.2 204.3,373.5 200.3,377.4 196.2,381.8 192.3,386.5 189.0,390.9 186.0,395.5 183.2,400.3 180.6,405.3 178.6,409.8 176.7,415.1 175.3,419.9 174.2,424.7 173.4,429.7 172.9,434.7 172.7,439.6 172.7,442.6 468.6,442.6Z"/>
<path fill="#4926ba" d="M467.3,439.6 467.0,435.4 466.1,430.5 464.9,425.8 463.3,421.1 461.1,416.0 458.6,411.1 455.8,406.3 452.3,401.3 449.0,397.0 445.1,392.4 441.0,388.2 436.4,383.8 431.6,379.7 426.6,375.8 421.2,372.0 415.7,368.5 410.3,365.3 404.1,362.0 397.9,359.1 391.8,356.4 385.8,354.0 379.1,351.7 372.5,349.6 365.9,347.9 358.8,346.2 351.7,344.8 344.7,343.7 337.0,342.6 329.3,341.9 321.6,341.3 313.9,340.9 306.1,340.8 298.8,340.9 292.1,341.2 285.3,341.8 279.2,342.4 272.9,343.3 266.5,344.5 259.9,345.9 254.1,347.4 248.3,349.2 243.2,351.0 237.3,353.3 232.2,355.6 227.2,358.2 222.3,361.1 217.4,364.2 213.4,367.0 208.8,370.7 204.3,374.7 200.2,378.7 196.6,382.7 193.2,386.9 189.9,391.3 186.9,395.8 184.1,400.6 181.6,405.5 179.6,410.1 177.9,414.7 176.5,419.4 175.4,424.3 174.5,429.1 174.1,434.1 173.9,439.6 173.9,442.6 467.3,442.6Z"/>
<path fill="#4826b8" d="M465.9,439.6 465.6,435.4 464.8,430.6 463.6,425.9 461.8,420.7 459.9,416.2 457.4,411.3 454.6,406.6 451.2,401.6 447.9,397.3 444.1,392.8 440.0,388.5 435.4,384.1 430.7,380.0 425.7,376.2 420.4,372.4 415.0,368.9 409.6,365.7 403.5,362.5 397.4,359.5 391.3,356.8 385.3,354.5 378.7,352.1 372.1,350.1 365.6,348.3 359.1,346.8 352.1,345.4 345.1,344.2 337.4,343.2 329.8,342.4 322.2,341.8 314.5,341.5 306.7,341.3 299.5,341.4 292.9,341.7 286.1,342.3 280.0,342.9 273.8,343.8 267.4,344.9 261.0,346.3 255.2,347.8 249.4,349.5 244.4,351.3 238.6,353.6 233.6,355.8 228.6,358.4 223.6,361.1 218.8,364.2 214.9,367.0 210.3,370.6 205.8,374.5 201.8,378.4 197.8,382.7 194.0,387.3 190.8,391.6 187.8,396.2 185.0,400.9 182.5,405.8 180.6,410.3 178.9,414.9 177.5,419.6 176.4,424.4 175.6,429.2 175.2,434.1 175.0,439.6 175.0,442.6 465.9,442.6Z"/>
<path fill="#4826b8" d="M464.5,439.6 464.2,435.5 463.4,430.7 462.2,426.0 460.5,420.8 458.6,416.4 456.1,411.5 453.4,406.8 450.0,401.9 446.8,397.6 443.0,393.1 439.0,388.9 434.5,384.5 429.8,380.4 424.9,376.6 419.6,372.8 414.3,369.3 408.9,366.2 403.6,363.3 397.5,360.3 391.5,357.6 385.6,355.2 378.9,352.8 372.4,350.8 365.9,349.0 359.5,347.4 352.5,346.0 345.5,344.8 337.9,343.7 330.3,342.9 322.7,342.4 315.1,342.0 307.3,341.9 300.2,342.0 293.6,342.3 286.9,342.8 280.1,343.5 273.9,344.4 267.6,345.5 261.2,346.9 255.5,348.4 249.8,350.2 244.8,351.9 239.0,354.2 234.0,356.5 229.1,359.0 224.2,361.7 219.4,364.8 215.5,367.6 211.0,371.2 206.6,375.0 202.6,378.8 198.6,383.2 194.9,387.7 191.7,392.0 188.7,396.5 185.9,401.2 183.5,406.1 181.6,410.5 179.9,415.1 178.5,419.8 177.5,424.5 176.7,429.3 176.3,434.2 176.1,439.6 176.1,442.6 464.5,442.6Z"/>
<path fill="#4726b6" d="M463.1,439.6 462.8,435.5 462.0,430.8 460.9,426.1 459.1,421.0 457.3,416.6 454.9,411.7 452.2,407.1 448.9,402.2 445.7,397.9 441.9,393.5 438.0,389.2 433.5,384.9 428.9,380.8 424.0,377.0 418.8,373.2 413.5,369.8 408.2,366.6 402.9,363.7 396.9,360.7 390.9,358.1 385.0,355.7 378.4,353.3 371.9,351.2 365.5,349.4 359.1,347.9 352.1,346.5 345.2,345.3 337.6,344.2 330.1,343.4 322.5,342.9 314.9,342.5 307.2,342.4 300.1,342.5 293.6,342.8 286.9,343.3 280.2,344.1 274.0,345.0 267.8,346.1 261.4,347.6 255.8,349.1 250.1,350.8 245.2,352.5 239.4,354.8 234.5,357.1 229.6,359.6 224.8,362.4 220.1,365.4 216.2,368.2 211.7,371.7 207.3,375.6 203.4,379.4 199.5,383.6 195.7,388.1 192.5,392.4 189.6,396.9 186.9,401.5 184.5,406.4 182.6,410.8 180.9,415.3 179.6,419.9 178.5,424.7 177.8,429.4 177.3,434.2 177.2,439.6 177.2,442.6 463.1,442.6Z"/>
<path fill="#4726b6" d="M461.6,439.6 461.3,435.5 460.6,430.8 459.5,426.2 457.8,421.2 456.0,416.8 453.6,412.0 450.9,407.4 447.7,402.5 444.5,398.2 440.9,393.8 437.0,389.6 432.5,385.3 428.0,381.2 423.2,377.4 418.0,373.7 412.7,370.2 407.5,367.1 401.5,363.8 395.5,360.8 389.6,358.2 383.7,355.8 377.9,353.7 371.5,351.7 365.1,349.9 358.7,348.4 351.8,346.9 344.9,345.8 338.0,344.8 330.5,344.0 323.0,343.4 315.4,343.1 307.8,343.0 300.7,343.1 294.3,343.4 287.7,343.9 281.0,344.6 274.9,345.5 268.7,346.6 262.4,348.0 256.9,349.5 251.2,351.2 245.5,353.2 239.9,355.5 235.0,357.7 230.2,360.2 225.4,363.0 220.7,366.0 216.9,368.8 212.4,372.3 208.1,376.1 204.2,379.9 200.3,384.1 196.6,388.6 193.4,392.8 190.5,397.3 187.8,401.9 185.4,406.6 183.5,411.0 181.9,415.5 180.6,420.1 179.6,424.8 178.8,429.5 178.4,434.3 178.2,439.6 178.2,442.6 461.6,442.6Z"/>
<path fill="#4626b4" d="M460.2,439.6 459.9,435.6 459.2,430.9 458.1,426.3 456.4,421.3 454.6,417.0 452.3,412.2 449.7,407.6 446.5,402.7 443.4,398.6 439.7,394.1 435.9,390.0 431.5,385.7 427.0,381.6 422.3,377.8 417.1,374.1 411.9,370.7 406.7,367.5 400.8,364.2 394.9,361.3 389.0,358.7 383.2,356.3 377.4,354.2 371.0,352.2 364.6,350.4 358.3,348.8 351.4,347.4 344.5,346.3 337.7,345.3 330.2,344.5 322.8,344.0 315.2,343.6 308.3,343.5 301.3,343.6 294.9,343.9 288.4,344.4 281.8,345.2 275.8,346.0 269.7,347.1 263.4,348.5 257.9,349.9 252.3,351.6 246.7,353.6 241.1,355.8 236.3,358.0 231.5,360.5 226.7,363.2 222.1,366.1 218.3,368.8 213.8,372.3 209.5,376.0 205.4,380.0 201.5,384.2 197.8,388.6 194.7,392.8 191.8,397.1 189.1,401.7 186.7,406.4 184.8,410.7 182.9,415.7 181.6,420.3 180.6,424.9 179.9,429.6 179.5,434.3 179.3,439.6 179.3,442.6 460.2,442.6Z"/>
<path fill="#4626b4" d="M458.7,439.6 458.4,435.6 457.7,431.0 456.7,426.5 455.0,421.5 453.3,417.1 451.0,412.4 448.4,407.9 445.3,403.0 442.2,398.9 438.6,394.5 434.8,390.3 430.5,386.0 426.0,382.1 421.3,378.3 416.3,374.5 411.1,371.1 406.0,368.0 400.8,365.1 394.9,362.1 389.1,359.5 383.3,357.1 376.9,354.7 371.2,352.8 364.8,351.0 358.6,349.5 351.7,348.0 344.8,346.9 338.1,345.9 330.6,345.1 323.2,344.6 315.7,344.2 308.9,344.1 301.9,344.2 295.6,344.5 289.1,345.0 282.6,345.7 275.9,346.7 269.8,347.8 263.6,349.2 258.2,350.6 252.7,352.3 247.1,354.3 241.5,356.5 236.8,358.7 232.0,361.1 227.3,363.8 222.7,366.8 219.0,369.4 214.6,372.9 210.3,376.6 206.2,380.5 202.4,384.6 198.7,389.0 195.6,393.2 192.7,397.5 190.0,402.0 187.6,406.7 185.8,411.0 184.0,416.0 182.7,420.5 181.7,425.0 181.0,429.7 180.5,434.4 180.4,439.6 180.4,442.6 458.7,442.6Z"/>
<path fill="#4426b2" d="M457.2,439.6 457.0,435.6 456.3,431.1 455.2,426.6 453.6,421.6 451.9,417.3 449.7,412.6 447.1,408.1 444.0,403.3 441.0,399.2 437.5,394.8 433.7,390.7 429.5,386.4 425.0,382.5 420.4,378.7 415.4,375.0 410.3,371.5 405.2,368.4 400.1,365.6 394.3,362.6 388.5,359.9 382.7,357.5 376.3,355.2 370.7,353.3 364.4,351.5 358.1,350.0 352.0,348.7 345.2,347.5 338.4,346.5 331.0,345.7 323.6,345.1 316.2,344.8 309.4,344.7 302.5,344.8 296.2,345.1 289.8,345.6 283.3,346.3 276.7,347.3 270.7,348.4 264.6,349.7 259.2,351.1 253.8,352.8 248.3,354.7 242.7,356.9 238.0,359.0 233.3,361.4 228.7,364.0 224.1,366.9 219.6,370.1 215.3,373.5 211.1,377.2 207.0,381.0 203.2,385.2 199.6,389.5 196.5,393.6 193.6,397.9 191.0,402.4 188.6,407.0 186.8,411.3 185.0,416.2 183.7,420.6 182.7,425.2 182.0,429.8 181.6,434.4 181.4,439.6 181.4,442.6 457.2,442.6Z"/>
<path fill="#4326b0" d="M455.7,439.6 455.5,435.7 454.8,431.1 453.8,426.7 452.2,421.8 450.5,417.5 448.3,412.9 445.8,408.4 442.8,403.6 439.8,399.5 436.3,395.2 432.6,391.1 428.4,386.8 424.0,382.9 419.4,379.1 414.5,375.4 409.4,372.0 404.4,368.9 399.3,366.0 393.6,363.1 387.8,360.4 382.1,358.0 375.7,355.7 370.1,353.8 363.9,352.0 357.7,350.5 351.5,349.2 344.8,348.0 338.1,347.0 331.4,346.3 324.0,345.7 316.7,345.4 309.9,345.3 303.1,345.4 296.1,345.7 289.8,346.2 283.4,347.0 276.8,348.0 270.8,349.1 264.8,350.4 259.5,351.9 254.1,353.5 248.6,355.4 243.2,357.6 238.5,359.7 233.9,362.1 229.3,364.7 224.7,367.6 220.3,370.7 216.0,374.1 211.8,377.7 207.8,381.6 204.0,385.7 200.4,390.0 197.4,394.0 194.6,398.3 192.0,402.7 189.6,407.3 187.8,411.5 186.0,416.4 184.7,420.8 183.8,425.3 183.1,429.9 182.7,434.5 182.5,439.6 182.5,442.6 455.7,442.6Z"/>
<path fill="#4326b0" d="M454.2,439.6 453.9,435.1 453.3,430.7 452.2,426.3 450.8,421.9 449.2,417.7 447.0,413.1 444.5,408.6 441.5,403.9 438.6,399.8 435.2,395.5 431.5,391.4 427.3,387.2 423.0,383.3 418.5,379.5 413.6,375.9 408.6,372.5 403.6,369.3 397.9,366.1 392.9,363.5 387.2,360.9 381.5,358.5 375.2,356.1 369.6,354.3 363.4,352.5 357.2,351.0 351.1,349.7 344.4,348.5 337.7,347.6 331.1,346.8 323.8,346.3 317.1,346.0 310.4,345.9 303.6,346.0 296.8,346.3 290.5,346.8 284.1,347.6 277.6,348.5 271.7,349.6 265.8,351.0 260.5,352.4 255.1,354.0 249.8,355.9 244.4,358.0 239.8,360.1 235.2,362.4 230.6,364.9 226.1,367.8 221.7,370.8 217.4,374.1 213.3,377.7 209.0,381.8 205.3,385.8 201.7,390.0 198.6,394.0 195.8,398.2 193.2,402.6 190.8,407.1 189.0,411.3 187.2,416.1 185.9,420.4 184.9,424.9 184.1,430.0 183.7,434.5 183.5,439.6 183.5,442.6 454.2,442.6Z"/>
<path fill="#4226ae" d="M452.7,439.6 452.4,435.2 451.8,430.8 450.8,426.4 449.4,422.1 447.8,417.9 445.7,413.3 443.2,408.9 440.3,404.2 437.4,400.2 434.0,395.9 430.4,391.8 426.3,387.6 422.0,383.7 417.5,380.0 412.6,376.3 407.7,372.9 402.8,369.8 397.1,366.6 392.1,364.0 386.5,361.4 380.9,359.0 375.3,356.9 369.7,355.0 363.6,353.2 357.4,351.6 351.3,350.3 344.7,349.1 338.0,348.2 331.4,347.5 324.8,346.9 317.5,346.6 310.9,346.5 304.1,346.6 297.3,346.9 291.1,347.4 284.8,348.2 278.4,349.1 272.6,350.2 266.7,351.5 261.5,352.9 255.5,354.7 250.1,356.6 244.8,358.8 240.2,360.8 235.7,363.1 231.2,365.7 226.8,368.4 222.4,371.5 218.2,374.8 214.0,378.3 209.8,382.3 206.1,386.3 202.5,390.5 199.5,394.4 196.7,398.6 194.2,402.9 191.8,407.4 190.0,411.5 188.2,416.3 186.9,420.6 185.9,425.0 185.1,430.1 184.7,434.6 184.6,439.6 184.6,442.6 452.7,442.6Z"/>
<path fill="#4226ae" d="M451.2,439.6 450.9,435.2 450.3,430.8 449.3,426.5 448.0,422.2 446.4,418.1 444.3,413.6 441.9,409.2 439.0,404.5 436.2,400.5 432.8,396.2 429.3,392.2 425.2,388.0 421.0,384.1 416.5,380.4 411.7,376.8 406.8,373.4 401.9,370.3 396.3,367.1 391.4,364.5 385.8,361.9 380.2,359.5 374.7,357.4 369.2,355.5 363.0,353.7 356.9,352.1 350.9,350.8 344.9,349.8 338.3,348.8 331.7,348.1 325.2,347.6 317.9,347.2 311.3,347.1 304.7,347.2 297.9,347.6 291.8,348.1 285.5,348.8 279.2,349.7 273.4,350.8 267.6,352.1 261.7,353.7 255.8,355.5 250.5,357.4 245.2,359.5 240.7,361.6 236.2,363.9 231.8,366.4 227.4,369.1 223.1,372.1 218.9,375.4 214.8,378.9 210.6,382.9 206.9,386.8 203.4,391.0 200.5,394.9 197.7,399.0 195.1,403.3 192.8,407.7 191.0,411.8 189.2,416.5 188.0,420.8 187.0,425.2 186.2,430.2 185.8,434.6 185.6,439.6 185.6,442.6 451.2,442.6Z"/>
<path fill="#4126ac" d="M449.7,439.6 449.4,435.3 448.8,430.9 447.9,426.6 446.6,422.4 445.0,418.3 443.0,413.8 440.6,409.4 437.7,404.8 434.9,400.8 431.6,396.6 428.1,392.6 424.1,388.4 419.9,384.6 415.5,380.9 410.8,377.2 406.0,373.9 401.1,370.8 395.5,367.6 390.7,365.0 385.1,362.4 379.6,360.0 374.1,357.9 368.6,356.0 362.5,354.2 356.5,352.7 350.5,351.4 344.5,350.3 337.9,349.3 331.4,348.6 324.9,348.1 318.3,347.8 311.8,347.7 305.2,347.8 298.5,348.2 292.4,348.7 286.2,349.4 279.9,350.3 274.3,351.4 268.5,352.7 262.7,354.2 256.8,356.0 251.6,357.9 246.4,359.9 241.9,362.0 236.8,364.6 232.4,367.1 228.0,369.8 223.8,372.8 219.6,376.0 215.6,379.5 211.5,383.4 207.8,387.3 204.3,391.4 201.4,395.3 198.6,399.4 196.1,403.7 193.8,408.1 192.0,412.1 190.3,416.8 189.0,421.0 188.0,425.3 187.2,430.2 186.8,434.7 186.7,439.6 186.7,442.6 449.7,442.6Z"/>
<path fill="#4126ac" d="M448.2,439.6 447.9,435.3 447.3,431.0 446.4,426.7 445.1,422.6 443.6,418.5 441.6,414.0 439.3,409.7 436.5,405.1 433.7,401.1 430.4,396.9 427.0,392.9 423.0,388.8 418.9,385.0 414.5,381.3 409.8,377.7 405.1,374.3 400.3,371.2 395.4,368.4 390.6,365.8 385.1,363.2 379.6,360.8 374.2,358.6 368.7,356.7 362.7,354.9 356.6,353.3 350.7,352.0 344.7,350.9 338.2,350.0 331.7,349.2 325.2,348.7 318.7,348.4 312.2,348.4 305.6,348.5 299.7,348.8 293.0,349.3 286.9,350.0 280.7,350.9 275.1,352.0 269.4,353.3 263.7,354.8 257.8,356.5 252.7,358.3 247.6,360.4 242.4,362.7 237.3,365.3 233.0,367.8 228.7,370.5 224.5,373.5 220.3,376.7 216.3,380.1 212.3,384.0 208.6,387.9 205.2,391.9 202.3,395.8 199.6,399.8 197.1,404.0 194.8,408.4 193.0,412.4 191.3,417.0 190.0,421.2 189.0,425.5 188.2,430.3 187.8,434.7 187.7,439.6 187.7,442.6 448.2,442.6Z"/>
<path fill="#4026aa" d="M446.6,439.6 446.4,435.3 445.9,431.1 444.9,426.9 443.7,422.7 442.2,418.7 440.2,414.2 438.0,410.0 435.2,405.4 432.5,401.4 429.2,397.3 425.8,393.3 421.9,389.2 417.8,385.4 413.5,381.7 409.6,378.6 404.9,375.3 400.1,372.1 395.3,369.3 390.6,366.7 385.1,364.0 379.6,361.6 374.2,359.4 368.8,357.5 362.8,355.6 357.5,354.2 351.5,352.8 345.6,351.7 339.1,350.7 332.6,349.9 326.2,349.4 319.7,349.1 313.3,349.0 306.8,349.1 300.9,349.3 294.3,349.9 288.2,350.5 282.1,351.4 275.9,352.6 270.3,353.8 264.6,355.3 258.9,357.1 253.8,358.8 248.7,360.9 243.6,363.1 238.6,365.7 234.3,368.1 230.0,370.8 225.8,373.6 221.1,377.3 217.1,380.7 213.4,384.2 209.8,388.0 206.4,392.0 203.5,395.8 200.5,400.2 198.0,404.4 195.8,408.7 194.0,412.6 192.3,417.2 191.0,421.4 190.1,425.6 189.3,430.4 188.9,434.8 188.7,439.6 188.7,442.6 446.6,442.6Z"/>
<path fill="#4026aa" d="M445.1,439.6 444.9,435.4 444.4,431.2 443.5,427.0 442.3,422.9 440.8,418.9 438.9,414.5 436.7,410.2 433.9,405.7 431.2,401.8 428.0,397.6 424.7,393.7 420.8,389.6 416.8,385.8 412.5,382.2 408.6,379.1 404.0,375.7 399.3,372.6 393.9,369.4 389.1,366.8 383.7,364.2 378.3,361.8 372.9,359.6 367.6,357.8 362.2,356.1 356.3,354.5 350.4,353.2 344.5,352.1 338.7,351.2 332.9,350.6 326.5,350.0 320.1,349.7 313.7,349.6 307.2,349.7 301.4,350.0 294.8,350.5 288.9,351.2 282.8,352.1 276.7,353.2 271.1,354.4 265.5,355.9 259.9,357.6 254.9,359.4 249.9,361.3 244.8,363.5 239.8,366.0 235.6,368.4 230.6,371.5 226.5,374.3 222.5,377.4 218.5,380.7 214.6,384.4 211.0,388.1 207.6,392.1 204.7,395.8 201.7,400.2 199.3,404.3 197.0,408.5 195.0,412.9 193.3,417.4 192.1,421.6 191.1,425.7 190.3,430.5 189.9,434.8 189.7,439.6 189.7,442.6 445.1,442.6Z"/>
<path fill="#3e26a8" d="M443.6,439.6 443.4,435.4 442.9,431.2 442.0,427.1 440.9,423.0 439.4,419.0 437.5,414.7 435.3,410.5 432.6,406.0 430.0,402.1 426.8,398.0 423.5,394.1 419.7,390.0 415.7,386.3 411.5,382.6 407.7,379.5 403.1,376.2 398.4,373.1 393.7,370.3 389.0,367.7 383.7,365.0 378.3,362.6 373.0,360.4 367.7,358.5 362.4,356.8 356.5,355.2 350.6,353.9 344.7,352.8 338.9,351.9 333.2,351.2 326.8,350.7 320.5,350.3 314.1,350.2 307.7,350.3 301.3,350.6 294.8,351.2 288.8,351.9 282.8,352.8 276.8,354.0 271.3,355.2 265.7,356.7 260.2,358.4 255.2,360.1 250.3,362.1 245.3,364.3 240.3,366.8 236.1,369.1 231.3,372.2 227.2,375.0 223.2,378.1 219.3,381.4 215.4,385.0 211.9,388.7 208.5,392.6 205.7,396.3 202.7,400.6 200.2,404.6 198.0,408.9 196.0,413.2 194.4,417.7 193.1,421.7 192.1,425.9 191.3,430.6 190.9,434.9 190.7,439.6 190.7,442.6 443.6,442.6Z"/>
<path fill="#3d26a6" d="M442.1,439.6 442.0,435.5 441.4,431.3 440.6,427.2 439.4,423.2 438.0,419.2 436.2,414.9 434.0,410.7 431.4,406.3 428.7,402.4 425.6,398.3 422.4,394.5 418.6,390.5 414.7,386.7 410.5,383.1 406.7,380.0 402.2,376.7 397.6,373.6 392.9,370.8 388.3,368.2 383.0,365.5 377.7,363.1 372.4,360.9 367.1,359.0 361.8,357.4 356.6,355.9 350.8,354.5 345.0,353.4 339.2,352.5 333.5,351.8 327.1,351.3 320.8,351.0 314.5,350.9 308.1,351.0 302.4,351.2 296.0,351.8 290.1,352.4 284.2,353.3 278.2,354.4 272.8,355.6 267.3,357.1 261.8,358.7 256.3,360.7 251.4,362.6 246.5,364.7 241.6,367.2 237.4,369.5 232.6,372.4 228.5,375.2 224.6,378.2 220.7,381.4 216.6,385.2 213.1,388.8 209.7,392.7 206.6,396.7 203.6,401.0 201.2,405.0 199.0,409.2 197.1,413.5 195.4,417.9 194.1,421.9 193.0,426.5 192.4,430.7 191.9,434.9 191.8,439.6 191.8,442.6 442.1,442.6Z"/>
<path fill="#3d26a6" d="M440.6,439.6 440.5,435.5 440.0,431.4 439.1,427.3 438.0,423.3 436.6,419.4 434.8,415.1 432.7,411.0 430.1,406.6 427.5,402.8 424.5,398.7 421.2,394.9 417.5,390.9 413.6,387.1 409.5,383.5 405.7,380.5 401.3,377.2 396.7,374.1 392.1,371.3 387.5,368.7 382.3,366.0 377.0,363.6 371.7,361.4 366.5,359.5 361.3,357.9 356.1,356.4 350.3,355.1 344.5,354.0 338.8,353.1 333.1,352.4 326.8,351.9 321.2,351.6 314.9,351.5 308.6,351.6 302.9,351.9 296.5,352.4 290.7,353.1 284.9,353.9 279.0,355.1 273.0,356.4 267.6,357.8 262.1,359.5 256.6,361.4 251.8,363.4 246.9,365.5 242.1,367.9 238.0,370.2 233.2,373.1 229.2,375.9 225.3,378.8 221.5,382.0 217.4,385.8 213.9,389.4 210.6,393.2 207.5,397.2 204.6,401.4 202.2,405.4 200.0,409.5 198.1,413.8 196.4,418.1 195.2,422.1 194.1,426.7 193.4,430.8 193.0,435.0 192.8,439.6 192.8,442.6 440.6,442.6Z"/>
<path fill="#3c26a4" d="M439.1,439.6 439.0,435.6 438.5,431.5 437.7,427.5 436.6,423.5 435.3,419.6 433.5,415.4 431.4,411.3 428.8,406.9 426.3,403.1 423.3,399.1 420.1,395.2 416.4,391.3 412.6,387.6 408.5,384.0 404.8,380.9 400.4,377.6 395.9,374.6 391.3,371.8 386.8,369.2 381.6,366.5 376.4,364.1 371.1,362.0 365.9,360.1 360.8,358.4 355.6,357.0 349.8,355.6 344.7,354.6 339.0,353.7 333.4,353.0 327.1,352.5 321.5,352.2 315.3,352.1 309.0,352.2 303.4,352.5 297.1,353.0 291.3,353.7 285.6,354.6 279.7,355.7 273.8,357.0 268.5,358.4 263.1,360.1 257.6,362.0 252.9,363.8 248.1,366.0 243.3,368.3 238.6,370.9 233.9,373.8 229.9,376.5 226.0,379.5 222.2,382.6 218.2,386.4 214.8,389.9 211.5,393.7 208.4,397.6 205.5,401.8 203.2,405.7 201.0,409.8 199.1,414.0 197.4,418.4 196.2,422.3 195.1,426.8 194.4,430.9 194.0,435.0 193.8,439.6 193.8,442.6 439.1,442.6Z"/>
<path fill="#3c26a4" d="M437.7,439.6 437.5,435.6 437.1,431.6 436.3,427.6 435.2,423.7 433.9,419.8 432.1,415.6 430.1,411.5 427.5,407.2 425.0,403.4 422.1,399.4 418.9,395.6 415.3,391.7 411.5,388.0 407.6,384.4 403.9,381.4 399.5,378.1 395.0,375.1 390.5,372.3 386.0,369.7 380.9,367.0 376.4,364.9 371.2,362.7 366.0,360.8 360.9,359.1 355.7,357.7 350.0,356.3 344.9,355.3 339.3,354.4 333.6,353.7 327.4,353.1 321.8,352.9 315.7,352.8 309.5,352.9 303.2,353.2 297.0,353.7 291.3,354.4 285.6,355.3 279.8,356.4 273.9,357.8 268.7,359.2 263.4,360.8 258.0,362.7 253.3,364.6 248.6,366.7 243.8,369.1 239.2,371.7 234.5,374.5 230.6,377.2 226.8,380.1 223.0,383.2 219.0,386.9 215.6,390.4 212.4,394.2 209.6,397.7 206.8,401.8 204.4,405.7 202.2,409.7 200.3,413.8 198.6,418.1 197.2,422.5 196.1,427.0 195.4,431.0 195.0,435.6 194.8,439.6 194.8,442.6 437.7,442.6Z"/>
<path fill="#3b26a2" d="M436.2,439.6 436.1,435.6 435.6,431.6 434.9,427.7 433.8,423.8 432.5,420.0 430.8,415.8 428.8,411.8 426.3,407.5 423.8,403.7 420.9,399.8 417.8,396.0 414.2,392.1 410.5,388.4 406.6,384.9 402.9,381.9 398.6,378.6 394.2,375.6 389.8,372.8 385.3,370.2 380.2,367.5 375.7,365.4 370.6,363.2 365.5,361.3 360.3,359.7 355.3,358.2 349.6,356.8 344.5,355.8 338.9,354.9 333.3,354.3 327.7,353.8 322.2,353.5 316.0,353.4 309.9,353.5 304.4,353.8 298.2,354.3 292.5,355.0 286.3,355.9 280.5,357.0 274.7,358.4 269.5,359.8 264.3,361.4 259.0,363.3 253.7,365.4 249.0,367.5 244.4,369.8 239.7,372.4 235.2,375.2 231.3,377.9 226.9,381.3 223.2,384.4 219.9,387.5 216.5,391.0 213.3,394.7 210.5,398.1 207.7,402.2 205.4,406.0 203.2,410.0 201.3,414.1 199.6,418.3 198.3,422.7 197.2,427.1 196.5,431.1 196.0,435.6 195.9,439.6 195.9,442.6 436.2,442.6Z"/>
<path fill="#3b26a2" d="M434.8,439.6 434.6,435.7 434.2,431.7 433.5,427.8 432.4,424.0 431.2,420.2 429.5,416.1 427.5,412.1 425.0,407.8 422.6,404.1 419.7,400.1 416.7,396.4 413.1,392.5 409.5,388.9 405.6,385.4 401.4,381.9 397.1,378.6 392.7,375.6 388.4,372.9 383.9,370.4 379.5,368.0 375.1,365.9 370.0,363.8 364.9,361.9 359.8,360.2 354.8,358.7 349.7,357.5 344.7,356.5 339.1,355.6 333.6,354.9 328.0,354.4 322.5,354.1 316.4,354.0 310.3,354.1 304.8,354.4 298.7,354.9 293.1,355.6 286.9,356.6 281.3,357.6 275.5,359.0 270.4,360.4 264.6,362.2 259.4,364.0 254.1,366.1 249.5,368.2 244.9,370.5 240.3,373.1 235.8,375.9 232.0,378.6 227.6,381.9 224.0,385.0 220.7,388.1 217.3,391.5 214.2,395.1 211.5,398.6 208.7,402.6 206.3,406.4 204.2,410.3 202.3,414.4 200.7,418.6 199.3,422.8 198.2,427.2 197.5,431.2 197.0,435.6 196.9,439.6 196.9,442.6 434.8,442.6Z"/>
<path fill="#3a26a0" d="M433.3,439.6 433.2,435.7 432.8,431.8 432.1,427.9 431.1,424.1 429.8,420.4 428.2,416.3 426.2,412.3 423.8,408.1 421.4,404.4 418.6,400.5 415.6,396.8 412.1,392.9 408.5,389.3 404.6,385.8 400.5,382.3 396.2,379.1 391.9,376.1 387.6,373.4 383.2,370.9 378.2,368.2 373.8,366.2 368.8,364.0 364.4,362.4 359.3,360.7 354.3,359.3 349.3,358.1 344.3,357.1 338.8,356.2 333.2,355.5 327.8,355.0 322.3,354.7 316.8,354.6 310.8,354.7 305.3,355.0 299.2,355.5 293.7,356.2 288.2,357.1 282.6,358.1 277.0,359.4 271.3,360.9 265.5,362.7 260.4,364.5 255.2,366.6 250.6,368.7 246.1,370.9 241.6,373.4 237.1,376.2 233.3,378.8 229.0,382.0 225.3,385.0 221.8,388.3 218.5,391.7 215.4,395.3 212.4,399.0 209.6,403.0 207.3,406.8 205.2,410.6 203.3,414.7 201.7,418.8 200.3,423.0 199.3,427.4 198.6,431.3 198.1,435.7 197.9,439.6 197.9,442.6 433.3,442.6Z"/>
<path fill="#3a26a0" d="M431.9,439.6 431.8,435.8 431.4,431.9 430.7,428.1 429.7,424.3 428.5,420.6 426.9,416.5 425.0,412.6 422.6,408.4 420.2,404.7 417.4,400.9 414.5,397.2 411.0,393.3 407.5,389.7 403.7,386.3 399.6,382.8 395.4,379.6 391.2,376.6 386.9,373.9 382.5,371.4 378.2,369.1 373.8,367.0 368.8,364.8 364.5,363.1 359.5,361.4 354.5,360.0 349.5,358.8 344.6,357.7 339.0,356.8 333.5,356.1 328.1,355.6 322.6,355.4 317.2,355.3 311.8,355.4 305.8,355.7 299.8,356.2 294.3,356.8 288.9,357.7 283.3,358.7 277.8,360.0 272.1,361.5 266.5,363.3 261.4,365.1 256.3,367.1 251.8,369.1 247.3,371.3 242.8,373.8 238.4,376.5 234.0,379.4 229.7,382.6 226.1,385.6 222.6,388.8 219.4,392.2 216.2,395.7 213.3,399.5 210.6,403.4 208.3,407.1 206.2,411.0 204.4,414.9 202.7,419.0 201.4,423.2 200.3,427.5 199.6,431.3 199.1,435.7 199.0,439.6 199.0,442.6 431.9,442.6Z"/>
<path fill="#38269e" d="M430.5,439.6 430.4,435.8 430.0,432.0 429.4,428.2 428.4,424.4 427.2,420.8 425.6,416.7 423.7,412.8 421.4,408.7 419.1,405.1 416.3,401.2 413.4,397.6 410.0,393.8 406.5,390.2 402.8,386.7 398.7,383.3 394.6,380.1 390.4,377.1 386.1,374.4 381.9,371.9 377.6,369.6 373.2,367.5 368.3,365.3 363.9,363.7 359.0,362.0 354.0,360.5 349.1,359.3 344.2,358.3 339.3,357.5 333.8,356.8 328.4,356.3 323.0,356.0 317.6,355.9 311.7,356.0 305.7,356.3 299.7,356.9 294.3,357.5 288.9,358.4 283.4,359.5 277.9,360.7 272.4,362.2 266.8,364.0 261.7,365.8 256.7,367.8 252.2,369.8 247.8,372.0 243.4,374.5 239.0,377.1 234.7,380.1 230.4,383.3 226.9,386.2 223.5,389.4 220.2,392.7 217.1,396.2 214.2,399.9 211.5,403.8 209.3,407.5 207.2,411.3 205.4,415.2 203.8,419.2 202.4,423.4 201.3,427.6 200.7,431.4 200.2,435.8 200.0,439.6 200.0,442.6 430.5,442.6Z"/>
<path fill="#37269c" d="M429.2,439.6 429.1,435.8 428.7,432.0 428.0,428.3 427.1,424.6 425.7,420.5 424.1,416.5 422.2,412.7 420.2,409.0 417.9,405.4 415.2,401.6 412.3,398.0 409.0,394.2 405.5,390.6 401.8,387.2 397.8,383.8 393.8,380.6 389.6,377.6 385.4,374.9 381.2,372.4 376.9,370.1 372.7,368.0 367.7,365.8 363.4,364.2 358.5,362.5 353.6,361.1 348.7,359.8 343.8,358.8 339.0,358.0 334.1,357.4 328.7,356.9 323.4,356.6 318.0,356.5 312.7,356.6 306.8,356.9 300.9,357.4 295.5,358.1 289.6,359.0 284.2,360.0 278.7,361.3 273.2,362.8 267.7,364.5 262.7,366.3 257.7,368.3 252.7,370.6 248.3,372.7 244.0,375.2 239.7,377.8 235.4,380.7 231.2,383.9 227.7,386.8 224.3,389.9 221.1,393.2 218.0,396.7 215.2,400.3 212.5,404.2 210.3,407.8 208.2,411.6 206.4,415.5 204.8,419.5 203.5,423.6 202.4,427.7 201.7,431.5 201.2,435.8 201.1,439.6 201.1,442.6 429.2,442.6Z"/>
<path fill="#37269c" d="M427.8,439.6 427.7,435.9 427.4,432.1 426.7,428.4 425.6,424.3 424.5,420.7 422.9,416.8 421.0,413.0 419.0,409.3 416.7,405.7 414.1,401.9 411.2,398.3 408.0,394.6 404.5,391.1 400.9,387.6 397.0,384.2 393.0,381.1 388.9,378.1 384.7,375.4 380.5,372.9 376.3,370.6 372.1,368.5 367.2,366.4 363.0,364.7 358.1,363.0 353.2,361.6 348.3,360.4 343.5,359.4 338.7,358.6 333.9,358.0 328.5,357.5 323.2,357.2 317.9,357.1 312.6,357.2 306.7,357.6 300.8,358.1 295.5,358.7 289.6,359.7 284.3,360.8 278.9,362.0 273.5,363.5 268.0,365.3 263.1,367.0 258.2,369.0 253.2,371.3 248.9,373.4 244.6,375.8 240.3,378.5 236.1,381.3 231.9,384.5 228.5,387.4 225.1,390.5 222.0,393.7 218.9,397.1 216.1,400.8 213.4,404.6 211.2,408.2 209.2,411.9 207.4,415.7 205.8,419.7 204.5,423.7 203.5,427.9 202.8,431.6 202.3,435.9 202.2,439.6 202.2,442.6 427.8,442.6Z"/>
<path fill="#36269a" d="M426.5,439.6 426.4,435.9 426.0,432.2 425.4,428.5 424.4,424.4 423.2,420.9 421.6,417.0 419.8,413.2 417.8,409.6 415.6,406.1 413.0,402.3 410.2,398.7 407.0,395.0 403.6,391.5 400.0,388.1 396.1,384.7 392.2,381.6 388.1,378.6 384.0,375.9 379.9,373.4 375.7,371.1 371.5,369.0 367.3,367.1 363.1,365.5 358.2,363.8 353.4,362.3 348.6,361.1 343.7,360.1 339.0,359.2 334.2,358.6 328.9,358.1 323.6,357.9 318.3,357.8 313.0,357.9 307.2,358.2 301.4,358.7 296.2,359.3 290.3,360.3 285.0,361.3 279.7,362.6 274.3,364.1 268.9,365.8 264.1,367.5 259.2,369.5 254.3,371.7 250.1,373.8 245.8,376.2 241.6,378.7 237.4,381.5 233.3,384.6 229.8,387.4 226.5,390.5 223.1,393.9 220.1,397.3 217.3,400.8 214.7,404.6 212.5,408.1 210.2,412.2 208.5,416.0 206.9,419.9 205.6,423.9 204.5,428.0 203.8,431.7 203.4,435.9 203.2,439.6 203.2,442.6 426.5,442.6Z"/>
<path fill="#36269a" d="M425.2,439.6 425.1,436.0 424.8,432.3 424.1,428.6 423.1,424.6 422.0,421.1 420.4,417.2 418.7,413.5 416.7,409.9 414.3,406.0 411.6,402.3 408.9,398.8 405.7,395.1 402.7,391.9 399.2,388.6 395.3,385.2 391.4,382.0 387.4,379.1 383.4,376.4 379.3,373.9 375.2,371.6 371.0,369.5 366.8,367.7 362.6,366.0 357.8,364.3 353.6,363.0 348.8,361.8 344.0,360.7 339.3,359.9 334.5,359.3 329.2,358.8 324.0,358.5 318.7,358.4 313.5,358.5 307.7,358.8 302.0,359.3 296.8,360.0 291.0,360.9 285.8,361.9 280.5,363.2 275.2,364.6 269.8,366.3 265.1,368.0 260.3,369.9 255.4,372.1 250.6,374.5 246.4,376.8 242.2,379.4 238.1,382.2 234.0,385.2 230.6,388.0 227.3,391.0 224.0,394.4 221.0,397.7 218.2,401.2 215.6,405.0 213.5,408.4 211.3,412.5 209.5,416.2 207.9,420.1 206.6,424.1 205.6,428.1 204.9,431.8 204.5,435.9 204.3,439.6 204.3,442.6 425.2,442.6Z"/>
<path fill="#352698" d="M423.9,439.6 423.8,436.0 423.5,432.4 422.8,428.8 421.8,424.8 420.7,421.3 419.2,417.5 417.5,413.8 415.5,410.2 413.1,406.4 410.6,402.7 407.9,399.2 404.7,395.5 401.7,392.4 398.3,389.0 394.5,385.7 390.6,382.5 386.7,379.6 382.7,376.9 378.7,374.4 374.6,372.2 370.5,370.1 366.3,368.2 362.2,366.5 357.4,364.8 353.2,363.6 348.5,362.3 343.7,361.3 339.0,360.5 334.3,359.9 329.0,359.4 324.4,359.1 319.2,359.0 314.0,359.1 308.3,359.4 302.5,359.9 296.8,360.6 291.1,361.6 285.9,362.6 280.7,363.9 275.5,365.3 270.2,367.0 265.5,368.7 260.7,370.6 255.9,372.8 251.2,375.2 247.0,377.5 242.9,380.0 238.8,382.8 234.8,385.8 231.4,388.6 228.2,391.5 224.9,394.9 221.9,398.2 219.2,401.7 216.6,405.3 214.4,408.8 212.3,412.8 210.5,416.5 209.0,420.3 207.7,424.2 206.7,428.2 206.0,431.9 205.5,436.0 205.4,439.6 205.4,442.6 423.9,442.6Z"/>
<path fill="#352698" d="M422.6,439.6 422.6,436.0 422.2,432.4 421.6,428.9 420.6,424.9 419.3,421.1 417.8,417.3 416.1,413.6 414.1,410.1 411.8,406.3 409.2,402.7 406.6,399.2 403.4,395.6 400.5,392.5 396.9,389.0 393.1,385.7 389.3,382.6 386.0,380.1 382.0,377.4 378.1,375.0 374.0,372.7 369.9,370.6 365.8,368.7 361.7,367.1 357.0,365.4 352.8,364.1 348.1,362.9 343.4,361.9 338.7,361.1 334.0,360.5 328.8,360.0 324.2,359.7 319.0,359.7 313.9,359.8 308.2,360.1 302.5,360.6 297.5,361.3 291.8,362.2 286.7,363.2 281.5,364.5 276.3,365.9 271.1,367.6 265.9,369.5 261.2,371.4 256.5,373.5 251.7,375.9 247.6,378.2 243.6,380.7 239.5,383.4 235.6,386.4 232.2,389.1 229.0,392.1 225.8,395.4 222.9,398.6 220.1,402.1 217.6,405.7 215.4,409.1 213.3,413.1 211.6,416.7 210.0,420.5 208.8,424.4 207.8,428.4 207.1,431.9 206.6,436.0 206.5,439.6 206.5,442.6 422.6,442.6Z"/>
<path fill="#342696" d="M421.4,439.6 421.3,436.1 420.9,432.5 420.3,429.0 419.3,425.1 418.1,421.3 416.6,417.5 414.9,413.9 413.0,410.4 410.7,406.7 408.2,403.1 405.5,399.7 402.5,396.1 399.6,393.0 396.0,389.5 392.3,386.2 388.6,383.1 384.7,380.3 380.8,377.6 376.9,375.2 372.9,372.9 368.8,370.9 364.8,369.0 360.7,367.4 356.6,365.9 352.5,364.7 347.8,363.5 343.7,362.6 339.0,361.8 334.3,361.1 329.2,360.7 324.6,360.4 319.5,360.3 314.4,360.4 308.7,360.7 303.1,361.2 298.1,361.9 292.5,362.8 287.4,363.8 281.7,365.2 276.6,366.6 271.4,368.3 266.3,370.2 261.6,372.1 257.0,374.2 252.3,376.5 248.3,378.8 244.2,381.3 240.3,384.0 236.3,387.0 233.1,389.7 229.9,392.6 226.7,395.8 223.8,399.1 221.1,402.5 218.6,406.1 216.4,409.5 214.3,413.4 212.6,417.0 211.1,420.7 209.8,424.6 208.8,428.5 208.2,432.0 207.7,436.1 207.6,439.6 207.6,442.6 421.4,442.6Z"/>
<path fill="#322694" d="M420.1,439.6 420.0,436.1 419.6,432.6 419.0,429.1 418.1,425.2 416.9,421.5 415.4,417.8 413.7,414.2 411.8,410.7 409.6,407.0 407.1,403.5 404.5,400.1 401.5,396.5 398.7,393.4 395.1,390.0 391.5,386.7 387.8,383.6 384.0,380.8 380.2,378.1 376.2,375.7 372.3,373.5 368.3,371.4 364.3,369.6 360.2,368.0 356.1,366.5 352.1,365.3 347.4,364.0 343.3,363.2 338.7,362.4 334.1,361.8 329.5,361.3 325.0,361.1 319.9,361.0 314.8,361.1 309.2,361.4 304.2,361.8 298.7,362.5 293.1,363.4 288.1,364.5 282.5,365.8 277.5,367.2 272.4,368.8 267.2,370.7 262.7,372.5 258.1,374.6 253.5,376.9 249.5,379.2 245.5,381.6 241.5,384.2 237.7,387.1 234.4,389.8 231.3,392.6 227.8,396.0 225.0,399.2 222.3,402.6 219.8,406.1 217.7,409.4 215.6,413.3 213.8,416.9 212.2,421.0 210.9,424.7 209.9,428.6 209.3,432.1 208.8,436.1 208.7,439.6 208.7,442.6 420.1,442.6Z"/>
<path fill="#322694" d="M418.8,439.6 418.7,436.2 418.4,432.7 417.8,429.2 416.8,425.4 415.6,421.7 414.2,418.0 412.5,414.5 410.7,411.0 408.4,407.4 406.0,403.9 403.5,400.5 400.5,397.0 397.2,393.4 394.2,390.4 390.7,387.2 387.0,384.2 383.8,381.7 380.0,379.1 376.2,376.6 372.3,374.3 368.3,372.3 364.4,370.4 360.3,368.8 356.3,367.3 352.3,366.0 347.6,364.8 343.6,363.9 339.0,363.1 334.4,362.5 329.9,362.0 325.4,361.8 320.3,361.7 315.3,361.7 309.8,362.0 304.8,362.5 299.3,363.2 293.8,364.1 288.8,365.1 283.3,366.4 278.3,367.8 273.3,369.4 268.2,371.2 263.7,373.0 259.2,375.1 254.6,377.3 250.1,379.8 246.2,382.2 242.3,384.9 238.5,387.7 235.2,390.3 232.1,393.2 228.7,396.5 225.9,399.7 223.3,403.0 220.8,406.5 218.7,409.8 216.6,413.6 214.9,417.1 213.3,421.2 212.0,424.9 211.0,428.7 210.4,432.2 209.9,436.1 209.8,439.6 209.8,442.6 418.8,442.6Z"/>
<path fill="#312692" d="M417.6,439.6 417.4,436.2 417.1,432.8 416.5,429.4 415.6,425.6 414.4,421.9 412.9,418.3 411.3,414.8 409.3,411.0 407.1,407.4 404.7,403.9 401.9,400.3 399.0,396.8 395.8,393.4 392.9,390.5 389.3,387.3 385.7,384.3 382.6,381.9 378.8,379.2 375.0,376.8 371.1,374.6 367.2,372.6 363.3,370.8 359.3,369.1 355.3,367.7 351.3,366.5 346.7,365.3 342.7,364.4 338.1,363.6 333.6,363.0 329.1,362.6 320.2,362.4 315.2,362.4 309.7,362.8 304.8,363.2 299.4,363.9 293.9,364.8 289.0,365.8 283.6,367.1 278.6,368.5 273.6,370.1 268.6,371.9 264.2,373.8 259.7,375.8 255.2,378.0 250.8,380.5 246.9,382.9 243.0,385.5 239.3,388.3 236.1,390.9 233.0,393.7 229.7,397.0 226.9,400.1 224.2,403.4 221.8,406.9 219.7,410.1 217.6,413.9 216.0,417.4 214.3,421.4 213.1,425.1 212.1,428.9 211.5,432.3 211.1,436.2 210.9,439.6 210.9,442.6 417.6,442.6Z"/>
<path fill="#312692" d="M416.3,439.6 416.2,436.2 415.8,432.8 415.2,429.5 414.3,425.7 413.1,422.1 411.7,418.5 410.1,415.1 408.1,411.3 405.9,407.7 403.6,404.3 400.9,400.7 398.0,397.3 394.9,393.9 392.0,391.0 388.5,387.8 384.9,384.8 381.8,382.4 378.1,379.8 374.4,377.4 370.5,375.2 367.2,373.5 363.3,371.6 359.4,370.0 355.4,368.5 351.5,367.3 347.5,366.2 343.5,365.3 339.0,364.5 334.5,363.9 330.0,363.4 325.6,363.2 320.6,363.1 315.7,363.2 310.2,363.5 305.4,363.9 300.0,364.6 294.6,365.5 289.7,366.5 284.3,367.8 279.5,369.1 274.6,370.7 269.6,372.5 264.7,374.5 260.3,376.5 255.8,378.7 251.4,381.2 247.6,383.6 243.8,386.1 240.1,388.9 236.9,391.5 233.9,394.2 230.6,397.5 227.8,400.6 225.2,403.8 222.8,407.3 220.8,410.5 218.7,414.2 217.0,417.6 215.4,421.6 214.2,425.3 213.3,429.0 212.6,432.4 212.2,436.2 212.1,439.6 212.1,442.6 416.3,442.6Z"/>
<path fill="#302690" d="M415.0,439.6 414.9,436.3 414.5,432.9 413.9,429.6 413.0,425.9 411.9,422.3 410.5,418.8 408.9,415.3 406.9,411.7 404.8,408.1 402.5,404.7 399.8,401.1 397.0,397.7 393.9,394.4 391.1,391.5 387.7,388.3 384.1,385.4 381.1,383.0 377.4,380.4 373.7,378.0 369.9,375.8 366.7,374.1 362.8,372.2 358.9,370.6 355.0,369.2 351.1,367.9 347.1,366.9 343.2,366.0 338.7,365.2 334.2,364.5 329.8,364.1 321.0,363.8 316.1,363.9 310.7,364.2 305.9,364.6 300.6,365.3 295.3,366.2 290.5,367.1 285.1,368.4 280.3,369.8 275.5,371.3 270.6,373.0 265.7,375.0 261.4,377.0 257.0,379.2 252.6,381.6 248.9,383.9 245.1,386.4 241.4,389.1 238.3,391.6 234.8,394.8 231.8,397.7 229.1,400.8 226.5,403.9 224.1,407.3 221.8,410.8 219.8,414.5 218.1,417.9 216.6,421.8 215.4,425.4 214.4,429.1 213.8,432.5 213.3,436.3 213.2,439.6 213.2,442.6 415.0,442.6Z"/>
<path fill="#302690" d="M413.7,439.6 413.6,436.3 413.2,433.0 412.7,429.7 411.8,426.1 410.6,422.5 409.2,419.0 407.7,415.6 405.8,412.0 403.7,408.5 401.4,405.1 398.8,401.6 396.0,398.2 393.0,394.9 390.2,392.0 386.8,388.9 383.3,386.0 380.3,383.6 376.7,381.0 373.1,378.6 369.3,376.4 366.1,374.7 362.3,372.9 358.4,371.3 354.6,369.8 350.7,368.6 346.8,367.5 342.9,366.7 338.4,365.9 334.0,365.3 329.6,364.8 320.9,364.5 316.0,364.6 310.7,364.9 305.9,365.4 300.7,366.1 295.4,367.0 290.7,367.9 285.4,369.2 280.6,370.5 275.9,372.1 271.0,373.8 266.2,375.8 261.9,377.7 257.6,379.9 253.3,382.3 249.6,384.5 245.9,387.0 242.2,389.7 239.2,392.2 235.7,395.3 232.7,398.3 230.0,401.2 227.5,404.4 225.1,407.7 222.9,411.2 220.9,414.8 219.2,418.2 217.7,422.0 216.5,425.6 215.5,429.3 214.9,432.6 214.5,436.3 214.4,439.6 214.4,442.6 413.7,442.6Z"/>
<path fill="#2f268e" d="M412.4,439.6 412.3,436.4 411.9,433.1 411.4,429.8 410.5,426.2 409.3,422.7 408.0,419.3 406.5,415.9 404.6,412.3 402.5,408.9 400.3,405.5 397.7,402.0 394.9,398.7 392.0,395.4 389.2,392.6 385.9,389.5 382.5,386.5 379.5,384.2 376.0,381.6 372.4,379.2 368.7,377.1 365.5,375.4 361.7,373.5 357.9,371.9 354.1,370.5 350.2,369.3 346.4,368.2 342.5,367.4 338.1,366.6 334.3,366.1 329.9,365.6 325.6,365.4 321.3,365.3 316.5,365.4 311.2,365.7 306.5,366.1 301.3,366.8 296.1,367.7 291.4,368.6 286.2,369.9 281.5,371.2 276.8,372.7 272.0,374.4 267.3,376.3 263.0,378.2 258.8,380.3 254.5,382.7 250.3,385.2 246.7,387.7 243.1,390.4 240.0,392.8 236.6,395.9 233.7,398.8 231.0,401.7 228.5,404.8 226.1,408.1 224.0,411.5 222.0,415.1 220.4,418.4 218.8,422.2 217.6,425.8 216.7,429.4 216.1,432.6 215.7,436.3 215.5,439.6 215.5,442.6 412.4,442.6Z"/>
<path fill="#2f268e" d="M411.1,439.6 411.0,436.4 410.6,432.8 410.0,429.6 409.1,426.0 407.9,422.6 406.6,419.2 405.1,415.9 403.2,412.3 401.1,408.9 398.9,405.6 396.4,402.2 393.7,398.9 391.0,395.9 387.8,392.7 384.6,389.6 381.2,386.7 378.3,384.4 374.8,381.9 371.2,379.6 368.1,377.7 364.9,376.0 361.2,374.2 357.4,372.6 353.6,371.2 349.8,370.0 346.0,369.0 342.2,368.1 337.8,367.3 334.0,366.8 329.7,366.4 321.2,366.1 316.4,366.2 311.2,366.5 306.5,366.9 301.4,367.6 296.2,368.5 291.6,369.4 286.5,370.7 281.8,372.0 277.2,373.5 272.5,375.2 267.8,377.1 263.6,379.0 259.4,381.1 255.2,383.4 251.1,385.9 247.5,388.3 243.9,391.0 240.9,393.4 237.5,396.4 234.7,399.3 232.0,402.2 229.5,405.3 227.2,408.5 225.0,411.9 223.1,415.4 221.5,418.7 220.0,422.5 218.8,426.0 217.9,429.5 217.3,432.7 216.9,436.4 216.7,439.6 216.7,442.6 411.1,442.6Z"/>
<path fill="#2e268c" d="M409.8,439.6 409.7,436.4 409.3,432.9 408.7,429.7 407.8,426.2 406.6,422.8 405.3,419.4 403.8,416.2 402.0,412.7 399.9,409.3 397.8,406.1 395.3,402.7 392.6,399.4 390.0,396.5 386.9,393.2 383.7,390.2 380.4,387.4 377.5,385.1 374.0,382.6 370.5,380.3 367.4,378.4 364.3,376.7 360.6,374.9 356.9,373.4 353.1,372.0 349.4,370.8 345.6,369.7 341.8,368.9 337.5,368.1 333.7,367.6 329.5,367.2 321.0,366.9 316.3,367.0 311.2,367.3 306.6,367.8 301.5,368.4 296.4,369.3 291.8,370.3 286.7,371.5 282.2,372.8 277.6,374.3 272.9,376.0 268.3,377.9 264.2,379.7 260.0,381.8 255.9,384.1 251.8,386.6 248.3,389.0 244.8,391.6 241.8,394.0 238.5,397.0 235.7,399.8 233.1,402.7 230.6,405.7 228.3,408.9 226.2,412.2 224.2,415.7 222.6,419.0 221.1,422.7 220.0,426.1 219.1,429.6 218.5,432.8 218.1,436.4 217.9,439.6 217.9,442.6 409.8,442.6Z"/>
<path fill="#2c268a" d="M408.5,439.6 408.4,436.5 407.9,432.9 407.3,429.8 406.5,426.4 405.3,423.0 404.0,419.7 402.6,416.5 400.7,413.1 398.8,409.7 396.6,406.5 394.2,403.1 391.6,399.9 389.0,397.0 385.9,393.8 382.8,390.8 379.5,388.0 376.7,385.7 373.3,383.2 369.8,380.9 366.8,379.1 363.7,377.5 360.0,375.7 356.4,374.1 352.7,372.7 348.9,371.5 345.2,370.5 341.4,369.7 337.7,369.0 334.0,368.5 329.8,368.1 321.4,367.7 316.8,367.8 311.7,368.1 307.1,368.6 302.1,369.2 297.0,370.1 292.5,371.0 287.5,372.2 283.0,373.5 278.5,375.0 273.9,376.6 269.4,378.4 265.3,380.3 261.2,382.3 257.1,384.5 253.1,387.0 249.6,389.3 246.1,391.9 242.7,394.6 239.9,397.1 236.9,400.1 234.1,403.2 231.7,406.2 229.4,409.3 227.3,412.6 225.3,416.0 223.8,419.2 222.3,422.9 221.2,426.3 220.3,429.8 219.7,432.9 219.3,436.5 219.2,439.6 219.2,442.6 408.5,442.6Z"/>
<path fill="#2c268a" d="M407.2,439.6 407.0,436.5 406.6,433.0 406.0,430.0 405.1,426.6 404.0,423.2 402.8,420.0 401.1,416.5 399.3,413.1 397.4,409.8 395.0,406.3 392.6,403.0 390.0,399.9 387.5,397.1 384.5,394.0 381.4,391.0 378.2,388.3 375.4,386.0 372.0,383.6 368.6,381.3 365.6,379.6 362.5,377.9 358.9,376.2 355.8,374.9 352.2,373.5 348.5,372.3 344.8,371.3 337.4,369.8 333.7,369.3 329.5,368.9 321.3,368.6 316.7,368.7 311.6,369.0 307.1,369.4 302.2,370.1 297.2,370.9 292.8,371.9 287.8,373.1 283.4,374.4 278.9,375.8 274.4,377.4 269.9,379.3 265.9,381.1 261.9,383.1 257.9,385.3 253.9,387.7 250.4,390.0 247.0,392.5 243.7,395.2 240.9,397.7 237.9,400.6 235.1,403.7 232.7,406.6 230.5,409.7 228.4,413.0 226.5,416.4 225.0,419.5 223.5,423.1 222.4,426.5 221.5,429.9 220.9,433.0 220.5,436.5 220.4,439.6 220.4,442.6 407.2,442.6Z"/>
<path fill="#2b2688" d="M405.9,439.6 405.7,436.6 405.3,433.1 404.7,430.1 403.8,426.8 402.7,423.5 401.5,420.3 399.9,416.8 398.1,413.5 396.2,410.2 393.9,406.8 391.5,403.5 388.9,400.4 386.5,397.7 383.5,394.6 380.5,391.7 377.3,388.9 374.5,386.7 371.2,384.3 367.8,382.1 364.9,380.3 361.9,378.7 358.3,377.0 355.3,375.7 351.6,374.3 348.0,373.2 344.3,372.2 337.0,370.7 329.3,369.8 321.1,369.5 316.6,369.6 311.6,369.9 307.2,370.3 302.3,371.0 297.4,371.8 293.0,372.8 288.1,374.0 283.7,375.2 279.3,376.6 274.9,378.3 270.4,380.1 266.5,381.9 262.5,383.8 258.6,386.0 254.7,388.4 251.3,390.7 247.9,393.2 244.6,395.9 241.8,398.3 238.9,401.2 236.2,404.2 233.8,407.1 231.6,410.2 229.6,413.4 227.7,416.7 226.2,419.8 224.7,423.4 223.6,426.7 222.7,430.0 222.1,433.1 221.8,436.6 221.6,439.6 221.6,442.6 405.9,442.6Z"/>
<path fill="#2b2688" d="M404.5,439.6 404.3,436.6 403.9,433.2 403.3,430.2 402.5,426.9 401.4,423.7 400.1,420.5 398.6,417.1 396.8,413.8 394.9,410.6 392.7,407.3 390.3,404.0 387.8,401.0 385.5,398.3 382.5,395.2 379.5,392.3 376.4,389.6 370.4,385.1 367.1,382.9 364.2,381.1 361.2,379.5 357.7,377.8 354.7,376.5 351.1,375.2 347.5,374.0 343.9,373.0 336.7,371.6 329.0,370.7 321.0,370.4 316.5,370.5 311.6,370.8 307.2,371.2 302.4,371.9 297.5,372.7 293.2,373.7 288.4,374.9 284.1,376.1 279.7,377.5 275.4,379.1 271.0,380.9 267.1,382.7 263.2,384.6 259.3,386.8 255.5,389.2 252.1,391.4 248.8,393.9 245.6,396.5 242.8,398.9 240.0,401.7 237.3,404.7 234.9,407.6 232.8,410.6 230.7,413.7 228.9,417.0 227.4,420.1 225.9,423.6 224.8,426.9 224.0,430.2 223.4,433.2 223.0,436.6 222.9,439.6 222.9,442.6 404.5,442.6Z"/>
<path fill="#2a2686" d="M403.1,439.6 403.0,436.7 402.5,433.3 402.0,430.4 401.1,427.1 400.1,423.9 398.8,420.8 397.3,417.5 395.6,414.2 393.7,411.1 391.5,407.7 389.2,404.6 386.7,401.5 384.4,398.8 381.5,395.8 378.5,393.0 375.5,390.3 369.6,385.8 366.3,383.6 363.4,381.9 360.5,380.3 357.1,378.7 350.5,376.0 347.0,374.9 343.5,373.9 336.3,372.5 328.8,371.6 321.3,371.3 316.9,371.4 312.1,371.7 307.7,372.1 303.0,372.8 298.2,373.6 293.9,374.5 289.2,375.6 284.9,376.8 280.2,378.4 275.9,380.0 271.6,381.8 267.7,383.5 263.9,385.4 260.1,387.6 256.3,389.9 253.0,392.1 249.7,394.5 246.5,397.1 243.9,399.5 241.0,402.3 238.4,405.2 236.1,408.0 233.9,411.0 231.9,414.1 230.1,417.4 228.6,420.4 227.2,423.8 226.1,427.0 225.2,430.3 224.7,433.3 224.3,436.6 224.2,439.6 224.2,442.6 403.1,442.6Z"/>
<path fill="#2a2686" d="M401.7,439.6 401.6,436.7 401.2,433.4 400.6,430.5 399.7,427.3 398.7,424.2 397.5,421.1 396.0,417.8 394.3,414.6 392.5,411.5 390.3,408.2 388.0,405.1 385.6,402.1 383.3,399.4 380.5,396.5 377.5,393.7 374.5,391.0 368.7,386.6 362.7,382.7 359.8,381.2 356.4,379.5 350.0,377.0 346.5,375.8 343.0,374.9 336.0,373.4 328.5,372.6 321.2,372.3 316.8,372.4 312.1,372.7 307.8,373.1 303.1,373.7 298.4,374.5 294.2,375.4 289.5,376.6 285.3,377.8 281.1,379.1 276.9,380.7 272.6,382.4 268.4,384.3 264.6,386.2 260.8,388.3 257.1,390.7 253.8,392.8 250.6,395.2 247.5,397.8 244.9,400.1 242.1,402.9 239.5,405.8 237.2,408.5 235.1,411.4 233.1,414.5 231.3,417.7 229.8,420.7 228.4,424.1 227.4,427.2 226.5,430.5 226.0,433.4 225.6,436.7 225.5,439.6 225.5,442.6 401.7,442.6Z"/>
<path fill="#292684" d="M400.3,439.6 400.2,436.8 399.8,433.5 399.2,430.7 398.4,427.5 397.3,424.4 396.1,421.4 394.6,418.1 393.0,415.0 391.2,411.9 389.1,408.7 386.8,405.6 384.5,402.7 379.4,397.1 376.5,394.4 373.6,391.8 367.8,387.4 361.9,383.6 359.1,382.1 355.7,380.4 349.4,377.9 346.0,376.8 342.5,375.8 335.6,374.4 328.3,373.6 321.0,373.3 316.8,373.4 312.5,373.6 308.3,374.0 303.6,374.6 294.9,376.2 290.3,377.4 286.1,378.5 277.8,381.4 273.7,383.1 269.5,385.0 265.8,386.8 262.1,388.9 258.4,391.1 255.2,393.3 252.0,395.6 248.9,398.1 245.9,400.8 243.2,403.4 240.6,406.3 238.4,409.0 236.3,411.9 234.3,414.9 232.5,418.0 231.1,421.0 229.7,424.3 228.7,427.4 227.8,430.6 227.3,433.5 226.9,436.7 226.8,439.6 226.8,442.6 400.3,442.6Z"/>
<path fill="#292684" d="M398.9,439.6 398.8,436.8 398.3,433.6 397.8,430.8 397.0,427.7 396.0,424.7 394.8,421.7 393.3,418.5 391.7,415.4 389.9,412.4 387.8,409.2 385.6,406.2 383.3,403.3 378.3,397.8 375.5,395.1 372.6,392.5 366.9,388.2 361.1,384.5 355.0,381.4 348.8,378.9 345.4,377.8 342.0,376.8 335.2,375.4 328.0,374.6 320.4,374.3 316.2,374.4 312.0,374.6 307.9,375.0 303.3,375.7 294.7,377.3 290.1,378.4 286.1,379.6 277.9,382.5 273.8,384.2 269.7,386.0 266.0,387.9 262.4,389.9 258.8,392.2 255.6,394.3 252.5,396.6 249.5,399.1 247.0,401.4 244.3,404.0 241.7,406.8 239.6,409.5 237.5,412.3 235.6,415.3 233.8,418.4 232.4,421.3 231.0,424.6 230.0,427.6 229.1,430.7 228.6,433.6 228.2,436.8 228.1,439.6 228.1,442.6 398.9,442.6Z"/>
<path fill="#282682" d="M397.5,439.6 397.3,436.8 396.9,433.7 396.4,431.0 395.6,427.9 394.6,424.9 393.4,422.0 392.0,418.8 390.4,415.8 388.6,412.8 386.6,409.7 384.4,406.7 382.1,403.8 377.2,398.5 374.4,395.8 371.6,393.3 366.0,389.1 360.3,385.4 354.3,382.3 348.2,379.8 344.9,378.8 341.5,377.8 334.8,376.5 327.7,375.6 320.3,375.3 312.0,375.7 307.9,376.1 303.4,376.7 294.9,378.3 290.5,379.4 286.5,380.6 278.4,383.4 274.4,385.1 270.4,386.9 266.8,388.7 263.2,390.8 259.6,393.0 256.6,395.1 253.5,397.3 250.5,399.8 247.6,402.4 245.2,404.9 242.7,407.6 240.5,410.3 238.5,413.1 236.6,416.0 234.9,419.0 233.5,421.9 232.3,424.8 231.3,427.8 230.5,430.9 229.9,433.7 229.6,436.8 229.5,439.6 229.5,442.6 397.5,442.6Z"/>
<path fill="#262680" d="M396.0,439.6 395.9,436.9 395.5,433.8 394.9,431.1 394.1,428.1 393.2,425.2 392.0,422.3 390.6,419.2 389.0,416.2 387.3,413.3 385.3,410.2 383.2,407.3 380.9,404.4 376.1,399.2 373.3,396.6 370.5,394.1 365.1,389.9 359.4,386.3 353.5,383.3 347.5,380.9 341.0,378.9 334.4,377.5 327.5,376.7 320.1,376.4 312.0,376.7 308.0,377.1 303.5,377.7 295.2,379.3 287.3,381.4 279.4,384.1 275.4,385.8 271.5,387.6 264.4,391.3 260.9,393.5 257.9,395.5 254.9,397.7 252.0,400.1 249.1,402.7 246.5,405.2 244.1,407.9 241.9,410.5 239.9,413.2 238.1,416.1 236.4,419.1 235.0,421.9 233.6,425.1 232.6,428.0 231.8,431.0 231.3,433.8 230.9,436.9 230.8,439.6 230.8,442.6 396.0,442.6Z"/>
<path fill="#262680" d="M394.6,439.6 394.4,436.9 394.0,433.9 393.4,430.9 392.6,428.0 391.6,425.1 390.5,422.3 389.1,419.2 387.5,416.3 385.8,413.4 383.8,410.4 379.7,405.1 374.9,399.9 372.2,397.3 369.5,394.9 364.1,390.8 358.5,387.3 352.8,384.3 349.6,383.0 346.4,381.8 340.0,379.9 333.6,378.6 326.7,377.8 319.5,377.5 311.5,377.8 303.2,378.8 295.0,380.4 286.8,382.7 279.1,385.4 271.7,388.7 264.8,392.4 261.4,394.6 258.4,396.6 255.5,398.8 252.6,401.2 249.8,403.7 247.4,406.1 245.0,408.7 243.0,411.3 241.0,414.0 239.2,416.8 237.5,419.7 236.1,422.5 235.0,425.3 234.0,428.2 233.2,431.2 232.6,433.9 232.3,436.9 232.2,439.6 232.2,442.6 394.6,442.6Z"/>
<path fill="#25257c" d="M393.1,439.6 392.9,437.0 392.5,434.0 391.9,431.1 391.1,428.2 390.2,425.3 389.1,422.6 387.7,419.6 386.2,416.7 384.5,413.9 382.5,411.0 378.5,405.7 373.8,400.6 371.1,398.1 368.4,395.7 363.1,391.7 357.6,388.3 352.0,385.4 345.8,382.9 339.5,381.0 333.1,379.7 326.4,378.9 319.3,378.6 311.5,378.9 303.4,379.9 295.3,381.5 287.7,383.5 280.1,386.2 272.8,389.4 266.1,393.0 259.8,397.1 256.9,399.2 254.1,401.5 251.3,404.0 248.8,406.5 246.4,409.1 244.4,411.6 242.4,414.2 240.6,416.9 239.0,419.8 237.5,422.8 236.3,425.6 235.3,428.4 234.5,431.3 234.0,434.0 233.7,437.0 233.6,439.6 233.6,442.6 393.1,442.6Z"/>
<path fill="#25257c" d="M391.6,439.6 391.4,437.0 391.0,434.1 390.5,431.2 389.7,428.4 388.8,425.6 387.7,422.9 386.3,420.0 384.8,417.1 381.4,411.7 379.4,409.0 377.2,406.3 372.6,401.4 370.0,398.9 367.3,396.6 362.1,392.7 356.7,389.3 351.2,386.4 345.1,384.0 338.9,382.1 332.3,380.8 325.7,380.0 318.8,379.8 311.1,380.1 303.5,381.0 295.6,382.5 288.1,384.5 280.6,387.2 273.5,390.3 266.9,393.9 260.7,397.9 255.1,402.2 252.4,404.7 250.0,407.1 247.6,409.6 245.4,412.3 243.5,414.9 241.8,417.6 240.1,420.5 238.8,423.1 237.7,425.8 236.7,428.6 235.9,431.5 235.4,434.1 235.1,437.0 235.0,439.6 235.0,442.6 391.6,442.6Z"/>
<path fill="#242478" d="M390.1,439.6 389.9,437.1 389.6,434.2 389.0,431.4 388.2,428.6 387.3,425.9 386.3,423.2 384.9,420.3 383.4,417.5 380.1,412.3 375.9,406.9 371.4,402.1 366.2,397.4 361.1,393.6 355.4,390.1 349.9,387.3 343.9,385.0 337.9,383.2 331.4,381.9 325.0,381.2 318.2,380.9 310.6,381.2 303.2,382.1 295.4,383.6 288.1,385.7 281.2,388.1 274.2,391.2 267.7,394.7 261.7,398.7 256.2,402.9 253.5,405.3 251.1,407.7 248.9,410.2 246.7,412.9 244.8,415.4 243.1,418.0 241.5,420.8 240.2,423.4 239.0,426.1 238.1,428.8 237.3,431.6 236.8,434.2 236.5,437.1 236.4,439.6 236.4,442.6 390.1,442.6Z"/>
<path fill="#242478" d="M388.6,439.6 388.4,437.1 388.1,434.3 387.5,431.5 386.8,428.8 385.9,426.1 384.7,423.2 382.1,417.9 378.8,412.8 374.7,407.6 370.2,402.8 365.1,398.3 360.0,394.6 354.4,391.1 349.1,388.4 343.2,386.1 337.3,384.4 331.0,383.1 324.3,382.3 317.6,382.1 310.2,382.4 303.0,383.3 295.3,384.8 288.1,386.8 281.3,389.2 274.5,392.3 268.1,395.8 262.2,399.7 256.9,404.0 252.1,408.5 249.8,411.0 247.7,413.6 245.9,416.1 244.2,418.7 242.6,421.5 241.4,424.0 240.3,426.6 239.3,429.3 238.6,432.1 238.1,434.6 237.8,437.1 237.7,439.6 237.7,442.6 388.6,442.6Z"/>
<path fill="#232374" d="M387.1,439.6 386.9,437.2 386.6,434.4 386.2,432.0 385.5,429.3 384.6,426.7 383.5,423.8 380.9,418.6 377.7,413.5 373.6,408.4 369.4,403.9 364.3,399.4 359.4,395.8 353.9,392.4 348.3,389.6 342.5,387.3 336.3,385.5 330.1,384.2 323.6,383.5 317.1,383.2 309.9,383.5 302.7,384.4 295.6,385.8 288.5,387.8 281.8,390.2 275.2,393.2 268.9,396.6 263.1,400.5 257.9,404.7 253.2,409.1 251.0,411.6 248.9,414.1 247.2,416.6 245.5,419.1 244.0,421.8 242.7,424.3 241.6,426.9 240.7,429.5 240.0,432.2 239.5,434.7 239.2,437.2 239.1,439.6 239.1,442.6 387.1,442.6Z"/>
<path fill="#232374" d="M385.6,439.6 385.5,437.2 385.2,434.5 384.7,432.1 384.1,429.5 383.2,426.9 382.2,424.4 379.7,419.3 376.6,414.3 372.8,409.5 368.6,405.0 363.6,400.5 358.3,396.7 353.0,393.4 347.4,390.7 341.8,388.5 335.8,386.7 329.7,385.4 323.3,384.6 316.6,384.3 309.9,384.6 302.8,385.4 295.9,386.8 288.9,388.7 282.4,391.1 275.8,394.1 270.1,397.2 264.4,401.0 259.3,405.0 254.5,409.5 252.4,411.9 250.3,414.4 246.9,419.3 245.4,421.9 244.0,424.6 243.0,427.1 242.1,429.7 241.3,432.4 240.9,434.8 240.6,437.2 240.5,439.6 240.5,442.6 385.6,442.6Z"/>
<path fill="#222270" d="M384.1,439.6 384.0,437.3 383.7,434.6 383.3,432.3 382.7,429.7 381.9,427.1 380.9,424.7 378.4,419.6 375.3,414.7 371.6,410.0 367.4,405.6 362.5,401.4 357.3,397.6 352.0,394.4 346.6,391.8 340.7,389.5 334.8,387.7 328.5,386.5 322.3,385.7 315.7,385.5 309.1,385.7 302.2,386.6 295.4,387.9 288.9,389.8 282.5,392.1 276.5,394.9 270.5,398.2 264.9,402.0 259.9,406.0 255.4,410.3 251.3,415.1 248.0,419.9 246.5,422.5 245.3,424.9 244.3,427.4 243.4,429.9 242.7,432.5 242.2,434.9 241.9,437.3 241.8,439.6 241.8,442.6 384.1,442.6Z"/>
<path fill="#20206c" d="M382.7,439.6 382.6,437.3 382.3,434.7 381.9,432.4 381.3,429.9 380.5,427.4 379.6,424.9 377.2,420.0 374.1,415.2 370.4,410.6 366.3,406.3 361.4,402.1 356.3,398.5 351.1,395.4 345.4,392.7 339.7,390.5 333.9,388.8 327.8,387.5 321.6,386.8 315.2,386.5 308.7,386.8 302.0,387.6 295.3,389.0 288.9,390.8 282.6,393.1 276.7,395.9 271.2,399.0 265.8,402.7 260.9,406.6 256.5,410.9 252.5,415.6 249.2,420.3 246.6,425.2 245.6,427.6 244.7,430.1 244.0,432.7 243.5,435.0 243.2,437.3 243.2,439.6 243.2,442.6 382.7,442.6Z"/>
<path fill="#20206c" d="M381.3,439.6 381.2,437.4 381.0,434.8 380.6,432.6 380.0,430.1 379.2,427.6 378.3,425.2 377.2,422.9 375.9,420.4 373.0,415.9 369.4,411.4 365.2,407.0 360.7,403.2 355.7,399.6 350.2,396.4 344.7,393.7 339.0,391.5 333.0,389.8 327.0,388.6 321.0,387.8 314.7,387.5 308.4,387.8 301.8,388.6 295.5,389.9 289.3,391.7 283.1,394.0 277.3,396.7 271.9,399.7 266.6,403.4 261.8,407.3 257.5,411.4 253.6,416.1 250.4,420.7 247.8,425.5 246.8,427.8 246.0,430.3 245.3,432.8 244.8,435.1 244.5,437.3 244.5,439.6 244.5,442.6 381.3,442.6Z"/>
<path fill="#1f1f68" d="M379.9,439.6 379.8,437.4 379.6,434.9 378.7,430.2 377.9,427.8 377.0,425.5 376.0,423.2 374.7,420.7 371.9,416.3 368.3,411.9 364.1,407.6 359.7,403.9 354.8,400.4 349.4,397.3 343.9,394.7 338.1,392.4 332.2,390.7 325.9,389.5 320.1,388.8 313.9,388.5 307.7,388.8 301.5,389.6 295.4,390.8 289.3,392.6 283.6,394.8 277.9,397.4 272.6,400.5 267.4,404.0 262.7,407.9 258.5,412.0 254.7,416.5 251.6,421.1 249.0,425.7 248.1,428.1 247.2,430.5 246.5,432.9 246.1,435.1 245.8,437.4 245.7,439.6 245.7,442.6 379.9,442.6Z"/>
<path fill="#1f1f68" d="M378.5,439.6 378.5,437.5 378.3,435.0 377.4,430.4 376.7,428.0 375.8,425.7 373.7,421.3 370.9,417.0 367.4,412.6 363.4,408.5 359.1,404.9 354.2,401.4 348.9,398.3 343.2,395.6 337.5,393.4 331.7,391.7 325.6,390.4 319.5,389.7 313.4,389.4 307.4,389.7 301.3,390.5 295.3,391.7 289.6,393.4 284.0,395.5 278.4,398.2 273.2,401.1 268.1,404.6 263.5,408.4 259.4,412.5 255.7,416.9 252.7,421.4 250.2,426.0 248.4,430.7 247.8,433.1 247.3,435.2 247.1,437.4 247.0,439.6 247.0,442.6 378.5,442.6Z"/>
<path fill="#1e1e64" d="M377.2,439.6 377.2,437.2 377.0,435.1 376.2,430.6 375.5,428.2 374.6,426.0 372.5,421.6 369.8,417.4 366.4,413.1 362.4,409.1 358.1,405.5 353.4,402.2 348.2,399.1 342.5,396.5 336.9,394.3 330.9,392.6 325.0,391.3 319.0,390.6 313.0,390.3 307.0,390.6 301.1,391.3 295.1,392.6 289.6,394.3 284.0,396.4 278.5,399.0 273.5,402.0 268.8,405.3 264.3,409.0 260.3,413.0 256.7,417.4 253.7,421.8 251.3,426.3 249.6,430.8 248.9,433.2 248.5,435.3 248.3,437.5 248.2,439.6 248.2,442.6 377.2,442.6Z"/>
<path fill="#1e1e64" d="M375.9,439.6 375.9,437.3 375.8,435.2 375.0,430.7 373.6,426.5 371.6,422.2 368.9,418.0 365.7,413.9 361.8,409.9 357.6,406.4 352.9,403.1 347.8,400.1 342.3,397.4 336.4,395.2 330.5,393.4 324.3,392.1 318.5,391.3 312.6,391.1 307.0,391.3 301.2,392.1 295.3,393.3 289.9,394.9 284.4,397.1 279.0,399.7 274.0,402.6 269.5,405.8 265.1,409.5 261.2,413.4 257.6,417.8 254.7,422.1 252.4,426.5 250.7,431.0 249.7,435.4 249.3,439.6 249.3,442.6 375.9,442.6Z"/>
<path fill="#1d1d60" d="M374.7,439.6 374.6,435.2 373.8,430.9 372.5,426.7 370.5,422.5 367.9,418.3 364.7,414.3 360.9,410.4 356.7,406.9 351.8,403.5 346.7,400.6 341.3,398.0 335.6,395.8 329.8,394.1 324.1,392.9 318.3,392.1 312.5,391.8 307.0,392.0 301.3,392.8 295.8,393.9 290.4,395.5 285.1,397.5 279.8,400.1 274.9,403.0 270.4,406.1 266.1,409.7 262.1,413.7 258.6,417.9 255.8,422.2 253.5,426.5 251.9,430.9 250.8,435.2 250.5,437.6 250.4,439.6 250.4,442.6 374.7,442.6Z"/>
<path fill="#1c1c5c" d="M373.5,439.6 373.4,435.3 372.7,431.0 371.4,426.9 369.5,422.7 366.9,418.7 363.8,414.8 360.0,410.9 355.9,407.5 351.0,404.1 346.1,401.2 340.8,398.7 335.1,396.5 329.4,394.8 323.4,393.5 317.8,392.8 312.1,392.5 306.7,392.8 301.0,393.5 295.7,394.6 290.3,396.2 285.1,398.3 280.2,400.7 275.3,403.5 271.0,406.6 266.7,410.2 262.9,414.1 259.5,418.3 256.7,422.5 254.5,426.8 252.9,431.1 251.9,435.3 251.5,439.6 251.5,442.6 373.5,442.6Z"/>
<path fill="#1c1c5c" d="M372.2,439.6 372.2,435.4 371.5,431.2 370.2,427.1 368.3,423.0 365.8,419.0 362.8,415.2 359.0,411.4 355.0,408.0 350.3,404.7 345.4,401.9 339.8,399.3 334.3,397.2 328.7,395.5 322.8,394.2 317.3,393.5 311.7,393.3 306.4,393.5 301.1,394.2 295.8,395.3 290.6,396.9 285.4,398.9 280.6,401.3 275.8,404.1 271.5,407.2 267.4,410.7 263.8,414.4 260.5,418.5 257.8,422.6 255.7,426.8 254.1,431.0 253.0,435.4 252.6,439.6 252.6,442.6 372.2,442.6Z"/>
<path fill="#1a1a58" d="M370.9,439.6 370.8,435.5 370.2,431.4 369.0,427.4 367.1,423.4 364.7,419.4 361.7,415.7 358.0,412.0 354.1,408.7 349.7,405.6 344.6,402.7 339.2,400.1 333.8,398.0 328.3,396.3 322.6,395.1 317.1,394.4 311.6,394.1 306.4,394.3 301.2,395.0 296.0,396.1 290.9,397.6 285.8,399.7 281.0,402.0 276.4,404.8 272.2,407.8 268.2,411.3 264.7,414.9 261.4,418.9 258.8,422.9 256.8,427.1 255.2,431.2 254.2,435.5 253.9,439.6 253.9,442.6 370.9,442.6Z"/>
<path fill="#1a1a58" d="M369.4,439.6 369.4,435.6 368.8,431.6 367.6,427.7 365.8,423.7 363.4,419.9 360.5,416.2 356.9,412.6 353.0,409.4 348.8,406.4 343.8,403.5 338.5,401.0 333.2,398.9 327.6,397.2 322.2,396.1 316.9,395.3 311.5,395.1 306.4,395.3 301.3,395.9 296.3,397.0 291.2,398.5 286.2,400.5 281.6,402.8 277.1,405.5 273.0,408.5 269.0,411.9 265.6,415.4 262.6,419.2 260.1,423.1 258.1,427.1 256.5,431.4 255.6,435.6 255.2,439.6 255.2,442.6 369.4,442.6Z"/>
<path fill="#191954" d="M367.8,439.6 367.7,435.7 367.2,431.8 366.0,428.0 364.2,424.2 361.9,420.4 359.1,416.9 355.6,413.3 351.8,410.2 347.4,407.1 342.5,404.3 337.4,401.9 332.2,399.9 326.7,398.3 321.6,397.2 316.3,396.5 311.1,396.2 306.1,396.5 301.2,397.1 296.3,398.2 291.3,399.7 286.8,401.5 282.3,403.7 277.9,406.4 273.9,409.3 270.0,412.6 266.7,416.1 263.8,419.7 261.4,423.6 259.4,427.5 258.0,431.4 257.1,435.5 256.7,439.6 256.7,442.6 367.8,442.6Z"/>
<path fill="#191954" d="M365.9,439.6 365.9,435.8 365.3,432.0 364.2,428.3 362.5,424.7 360.2,421.1 357.5,417.6 354.1,414.2 350.4,411.2 346.1,408.2 341.5,405.5 336.5,403.1 331.5,401.2 326.2,399.6 321.2,398.5 316.1,397.8 311.0,397.6 306.2,397.8 301.4,398.4 296.6,399.5 291.9,400.9 287.5,402.7 283.1,404.8 278.8,407.4 274.9,410.2 271.2,413.4 268.0,416.8 265.2,420.4 262.9,424.1 261.0,427.9 259.6,431.7 258.7,435.6 258.3,439.6 258.3,442.6 365.9,442.6Z"/>
<path fill="#181850" d="M363.9,439.6 363.9,435.9 363.3,432.5 362.3,429.0 360.6,425.4 358.4,421.9 355.8,418.6 352.6,415.4 348.9,412.2 344.7,409.4 340.2,406.8 335.4,404.5 330.6,402.6 325.5,401.1 320.7,400.1 315.8,399.4 311.0,399.2 306.3,399.4 301.7,400.0 297.1,401.0 292.5,402.3 288.0,404.1 283.8,406.2 279.6,408.7 275.9,411.5 272.6,414.4 269.5,417.6 266.8,421.1 264.5,424.6 262.8,428.3 261.5,432.0 260.6,435.8 260.2,439.6 260.2,442.6 363.9,442.6Z"/>
<path fill="#181850" d="M361.6,439.6 361.6,436.1 361.1,432.8 360.0,429.4 358.4,426.0 356.3,422.7 353.7,419.5 350.6,416.5 347.1,413.5 343.1,410.8 338.8,408.3 334.2,406.1 329.7,404.3 324.8,402.9 319.9,401.8 315.3,401.2 310.6,401.0 306.2,401.2 301.8,401.8 297.4,402.8 293.0,404.1 288.9,405.7 284.9,407.7 281.0,410.1 277.4,412.7 274.2,415.5 271.2,418.6 268.6,421.9 266.5,425.3 264.7,428.8 263.5,432.3 262.7,435.9 262.3,439.6 262.3,442.6 361.6,442.6Z"/>
<path fill="#17174c" d="M359.2,439.6 359.1,436.3 358.5,433.1 357.5,429.9 355.9,426.7 353.8,423.6 351.4,420.6 348.5,417.7 345.1,414.9 341.3,412.3 337.3,410.0 332.9,407.9 328.6,406.3 324.0,404.9 319.4,403.9 315.0,403.3 310.6,403.1 306.4,403.3 302.2,403.8 298.1,404.7 293.9,406.0 289.8,407.6 286.0,409.5 282.2,411.8 278.8,414.3 275.8,416.9 272.9,419.9 270.6,422.9 268.5,426.2 266.9,429.5 265.7,432.8 265.0,436.1 264.7,439.6 264.7,442.6 359.2,442.6Z"/>
<path fill="#161648" d="M356.5,439.6 356.3,436.7 355.8,433.7 354.8,430.7 353.3,427.7 351.3,424.7 348.8,421.8 346.1,419.1 342.9,416.5 339.3,414.1 335.5,411.9 331.5,410.0 327.4,408.4 323.3,407.2 319.0,406.2 314.7,405.7 310.6,405.5 306.7,405.6 302.7,406.1 298.8,406.9 294.9,408.1 291.0,409.6 287.4,411.4 283.9,413.5 280.7,415.8 277.8,418.3 275.1,421.1 272.7,424.0 270.8,427.1 269.3,430.1 268.2,433.2 267.5,436.3 267.2,439.6 267.2,442.6 356.5,442.6Z"/>
<path fill="#161648" d="M353.5,439.6 353.4,436.8 352.8,434.1 351.8,431.3 350.3,428.5 348.4,425.8 346.1,423.1 343.5,420.6 340.5,418.2 337.2,416.0 333.7,414.0 329.9,412.2 325.9,410.7 321.9,409.5 317.9,408.7 314.1,408.2 310.3,408.0 306.5,408.2 302.9,408.7 299.2,409.4 295.6,410.5 292.0,412.0 288.6,413.6 285.5,415.5 282.5,417.6 279.8,419.9 277.2,422.6 275.0,425.3 273.3,428.1 271.9,430.8 270.8,433.8 270.2,436.7 270.0,439.6 270.0,442.6 353.5,442.6Z"/>
<path fill="#141444" d="M350.5,439.6 350.3,437.2 349.7,434.7 348.7,432.1 347.3,429.5 345.5,427.0 343.3,424.5 340.8,422.2 338.0,420.0 334.9,418.0 331.7,416.2 328.2,414.6 324.6,413.2 321.0,412.1 317.3,411.4 313.6,410.9 310.1,410.7 306.6,410.9 303.3,411.3 300.0,412.1 296.7,413.1 293.3,414.4 290.2,415.9 287.2,417.7 284.4,419.7 281.9,421.8 279.5,424.2 277.5,426.7 275.9,429.2 274.6,431.8 273.7,434.4 273.1,437.1 272.9,439.6 272.9,442.6 350.5,442.6Z"/>
<path fill="#141444" d="M347.2,439.6 346.9,437.4 346.3,435.1 345.3,432.7 343.9,430.4 342.2,428.2 340.2,426.0 337.8,423.9 335.3,421.9 332.5,420.1 329.6,418.5 326.5,417.1 323.2,415.9 319.9,414.9 316.6,414.2 313.3,413.8 310.2,413.7 307.0,413.8 304.1,414.2 301.0,414.8 298.0,415.7 295.0,416.8 292.2,418.2 289.4,419.8 286.8,421.5 284.5,423.4 282.3,425.6 280.4,427.8 278.9,430.1 277.6,432.5 276.7,434.8 276.2,437.1 276.0,439.5 276.0,442.6 347.2,442.6Z"/>
<path fill="#131340" d="M343.6,439.6 343.3,437.8 342.7,435.7 341.7,433.7 340.4,431.7 338.8,429.7 337.0,427.7 334.8,425.9 332.5,424.2 330.0,422.6 327.3,421.1 324.5,419.9 321.6,418.8 318.8,418.0 315.9,417.4 313.0,417.1 310.3,416.9 307.5,417.0 304.9,417.3 302.1,417.9 299.4,418.6 296.7,419.6 294.2,420.8 291.7,422.2 289.4,423.7 287.2,425.4 285.3,427.2 283.6,429.2 282.1,431.2 280.9,433.3 280.1,435.3 279.6,437.2 279.4,439.2 279.4,442.6 343.6,442.6Z"/>
<path fill="#131340" d="M339.8,439.6 339.5,438.1 338.9,436.4 338.0,434.7 336.8,432.9 335.3,431.2 333.6,429.5 331.7,427.9 329.6,426.4 327.5,425.1 325.0,423.8 322.7,422.8 320.2,421.9 317.7,421.2 315.2,420.7 312.7,420.4 310.4,420.3 308.0,420.3 305.6,420.6 303.2,421.0 300.9,421.7 298.6,422.5 296.4,423.4 294.1,424.6 292.1,425.9 290.1,427.3 288.3,428.9 286.7,430.6 285.4,432.3 284.4,434.0 283.6,435.8 283.1,437.5 283.0,439.1 283.0,442.6 339.8,442.6Z"/>
<path fill="#12123c" d="M336.1,439.6 335.8,438.3 335.2,436.9 334.3,435.4 333.2,434.0 331.8,432.6 330.3,431.1 326.8,428.6 322.9,426.5 318.7,424.9 314.4,423.8 310.3,423.5 308.2,423.5 306.2,423.7 302.1,424.7 298.1,426.2 294.5,428.2 292.8,429.4 291.2,430.7 289.8,432.1 288.6,433.5 287.7,435.0 287.0,436.4 286.6,437.8 286.5,439.0 286.5,442.6 336.1,442.6Z"/>
</g>
<circle cx="120.7" cy="439.6" r="14.6" fill="#000"/>
</g>
<rect x="70.8" y="11.8" width="675.0" height="188.0" fill="none" stroke="#111" stroke-width="2.2"/>
<path d="M120.7,199.8v-7.5M120.7,11.8v7.5" stroke="#111" stroke-width="1.9"/>
<path d="M245.7,199.8v-7.5M245.7,11.8v7.5" stroke="#111" stroke-width="1.9"/>
<path d="M370.7,199.8v-7.5M370.7,11.8v7.5" stroke="#111" stroke-width="1.9"/>
<path d="M495.8,199.8v-7.5M495.8,11.8v7.5" stroke="#111" stroke-width="1.9"/>
<path d="M620.8,199.8v-7.5M620.8,11.8v7.5" stroke="#111" stroke-width="1.9"/>
<path d="M120.7,198.8v-6.5" stroke="#555" stroke-width="1.3"/>
<path d="M70.8,137.1h7.6M745.8,137.1h-7.6" stroke="#111" stroke-width="1.9"/>
<path d="M70.8,74.5h7.6M745.8,74.5h-7.6" stroke="#111" stroke-width="1.9"/>
<text x="121.0" y="230.6" font-size="26.4" text-anchor="middle" letter-spacing="0.6">0</text>
<text x="246.0" y="230.6" font-size="26.4" text-anchor="middle" letter-spacing="0.6">10</text>
<text x="371.0" y="230.6" font-size="26.4" text-anchor="middle" letter-spacing="0.6">20</text>
<text x="496.1" y="230.6" font-size="26.4" text-anchor="middle" letter-spacing="0.6">30</text>
<text x="621.1" y="230.6" font-size="26.4" text-anchor="middle" letter-spacing="0.6">40</text>
<text x="746.1" y="230.6" font-size="26.4" text-anchor="middle" letter-spacing="0.6">50</text>
<text x="64.0" y="206.9" font-size="26.4" text-anchor="end" letter-spacing="0.6">0</text>
<text x="64.0" y="144.2" font-size="26.4" text-anchor="end" letter-spacing="0.6">5</text>
<text x="64.0" y="81.6" font-size="26.4" text-anchor="end" letter-spacing="0.6">10</text>
<text x="64.0" y="18.9" font-size="26.4" text-anchor="end" letter-spacing="0.6">15</text>
<text transform="translate(24.0,105.9) rotate(-90)" font-size="28.6"><tspan x="-46.5" y="0.0" class="i">p</tspan><tspan x="-34.6" y="4.4" font-size="19.5">⊥</tspan><tspan x="-15.2" y="6.6" font-size="43.0">/</tspan><tspan x="-2.7" y="0.0" class="i" textLength="26.0" lengthAdjust="spacingAndGlyphs">m</tspan><tspan x="24.4" y="4.8" class="i" font-size="20.0">e</tspan><tspan x="36.0" y="0.0" class="i">c</tspan></text>
<rect x="770.2" y="11.3" width="21.6" height="188.6" fill="url(#cbg)" stroke="#111" stroke-width="2.2"/>
<rect x="70.4" y="251.2" width="675.4" height="188.4" fill="none" stroke="#111" stroke-width="2.2"/>
<path d="M120.7,439.6v-7.5M120.7,251.2v7.5" stroke="#111" stroke-width="1.9"/>
<path d="M245.7,439.6v-7.5M245.7,251.2v7.5" stroke="#111" stroke-width="1.9"/>
<path d="M370.7,439.6v-7.5M370.7,251.2v7.5" stroke="#111" stroke-width="1.9"/>
<path d="M495.8,439.6v-7.5M495.8,251.2v7.5" stroke="#111" stroke-width="1.9"/>
<path d="M620.8,439.6v-7.5M620.8,251.2v7.5" stroke="#111" stroke-width="1.9"/>
<path d="M120.7,438.6v-6.5" stroke="#555" stroke-width="1.3"/>
<path d="M70.4,377.0h7.6M745.8,377.0h-7.6" stroke="#111" stroke-width="1.9"/>
<path d="M70.4,314.3h7.6M745.8,314.3h-7.6" stroke="#111" stroke-width="1.9"/>
<text x="121.0" y="470.4" font-size="26.4" text-anchor="middle" letter-spacing="0.6">0</text>
<text x="246.0" y="470.4" font-size="26.4" text-anchor="middle" letter-spacing="0.6">10</text>
<text x="371.0" y="470.4" font-size="26.4" text-anchor="middle" letter-spacing="0.6">20</text>
<text x="496.1" y="470.4" font-size="26.4" text-anchor="middle" letter-spacing="0.6">30</text>
<text x="621.1" y="470.4" font-size="26.4" text-anchor="middle" letter-spacing="0.6">40</text>
<text x="746.1" y="470.4" font-size="26.4" text-anchor="middle" letter-spacing="0.6">50</text>
<text x="64.0" y="446.8" font-size="26.4" text-anchor="end" letter-spacing="0.6">0</text>
<text x="64.0" y="384.1" font-size="26.4" text-anchor="end" letter-spacing="0.6">5</text>
<text x="64.0" y="321.4" font-size="26.4" text-anchor="end" letter-spacing="0.6">10</text>
<text x="64.0" y="258.8" font-size="26.4" text-anchor="end" letter-spacing="0.6">15</text>
<text transform="translate(24.0,345.5) rotate(-90)" font-size="28.6"><tspan x="-46.5" y="0.0" class="i">p</tspan><tspan x="-34.6" y="4.4" font-size="19.5">⊥</tspan><tspan x="-15.2" y="6.6" font-size="43.0">/</tspan><tspan x="-2.7" y="0.0" class="i" textLength="26.0" lengthAdjust="spacingAndGlyphs">m</tspan><tspan x="24.4" y="4.8" class="i" font-size="20.0">e</tspan><tspan x="36.0" y="0.0" class="i">c</tspan></text>
<rect x="770.2" y="250.7" width="21.6" height="189.0" fill="url(#cbg)" stroke="#111" stroke-width="2.2"/>
<text transform="translate(408.6,503.8)" font-size="28.6"><tspan x="-43.2" y="0.0" class="i">p</tspan><tspan x="-30.0" y="11.0" font-size="24.5">∥</tspan><tspan x="-17.2" y="7.6" font-size="43.0">/</tspan><tspan x="-4.6" y="0.0" class="i" textLength="25.5" lengthAdjust="spacingAndGlyphs">m</tspan><tspan x="21.0" y="5.0" class="i" font-size="20.0">e</tspan><tspan x="33.0" y="0.0" class="i">c</tspan></text>
<text x="560.7" y="44.9" font-size="26.2" textLength="175.6" lengthAdjust="spacingAndGlyphs">With avalanche</text>
<text x="583.5" y="281.3" font-size="26.2" textLength="151.0" lengthAdjust="spacingAndGlyphs">No avalanche</text>
<path d="M791.2,47.4h-2.4" stroke="#111" stroke-width="1.5"/>
<text x="798.0" y="53.2" font-size="23.7" letter-spacing="1.1">-2</text>
<path d="M791.2,98.2h-2.4" stroke="#111" stroke-width="1.5"/>
<text x="798.0" y="104.0" font-size="23.7" letter-spacing="1.1">-3</text>
<path d="M791.2,149.0h-2.4" stroke="#111" stroke-width="1.5"/>
<text x="798.0" y="154.8" font-size="23.7" letter-spacing="1.1">-4</text>
<text x="798.0" y="205.6" font-size="23.7" letter-spacing="1.1">-5</text>
<path d="M791.2,270.3h-2.4" stroke="#111" stroke-width="1.5"/>
<text x="798.0" y="276.1" font-size="23.7" letter-spacing="1.1">-2.5</text>
<path d="M791.2,307.1h-2.4" stroke="#111" stroke-width="1.5"/>
<text x="798.0" y="312.9" font-size="23.7" letter-spacing="1.1">-3</text>
<path d="M791.2,344.0h-2.4" stroke="#111" stroke-width="1.5"/>
<text x="798.0" y="349.8" font-size="23.7" letter-spacing="1.1">-3.5</text>
<path d="M791.2,380.8h-2.4" stroke="#111" stroke-width="1.5"/>
<text x="798.0" y="386.6" font-size="23.7" letter-spacing="1.1">-4</text>
<path d="M791.2,417.6h-2.4" stroke="#111" stroke-width="1.5"/>
<text x="798.0" y="423.4" font-size="23.7" letter-spacing="1.1">-4.5</text>
</svg></body></html>
